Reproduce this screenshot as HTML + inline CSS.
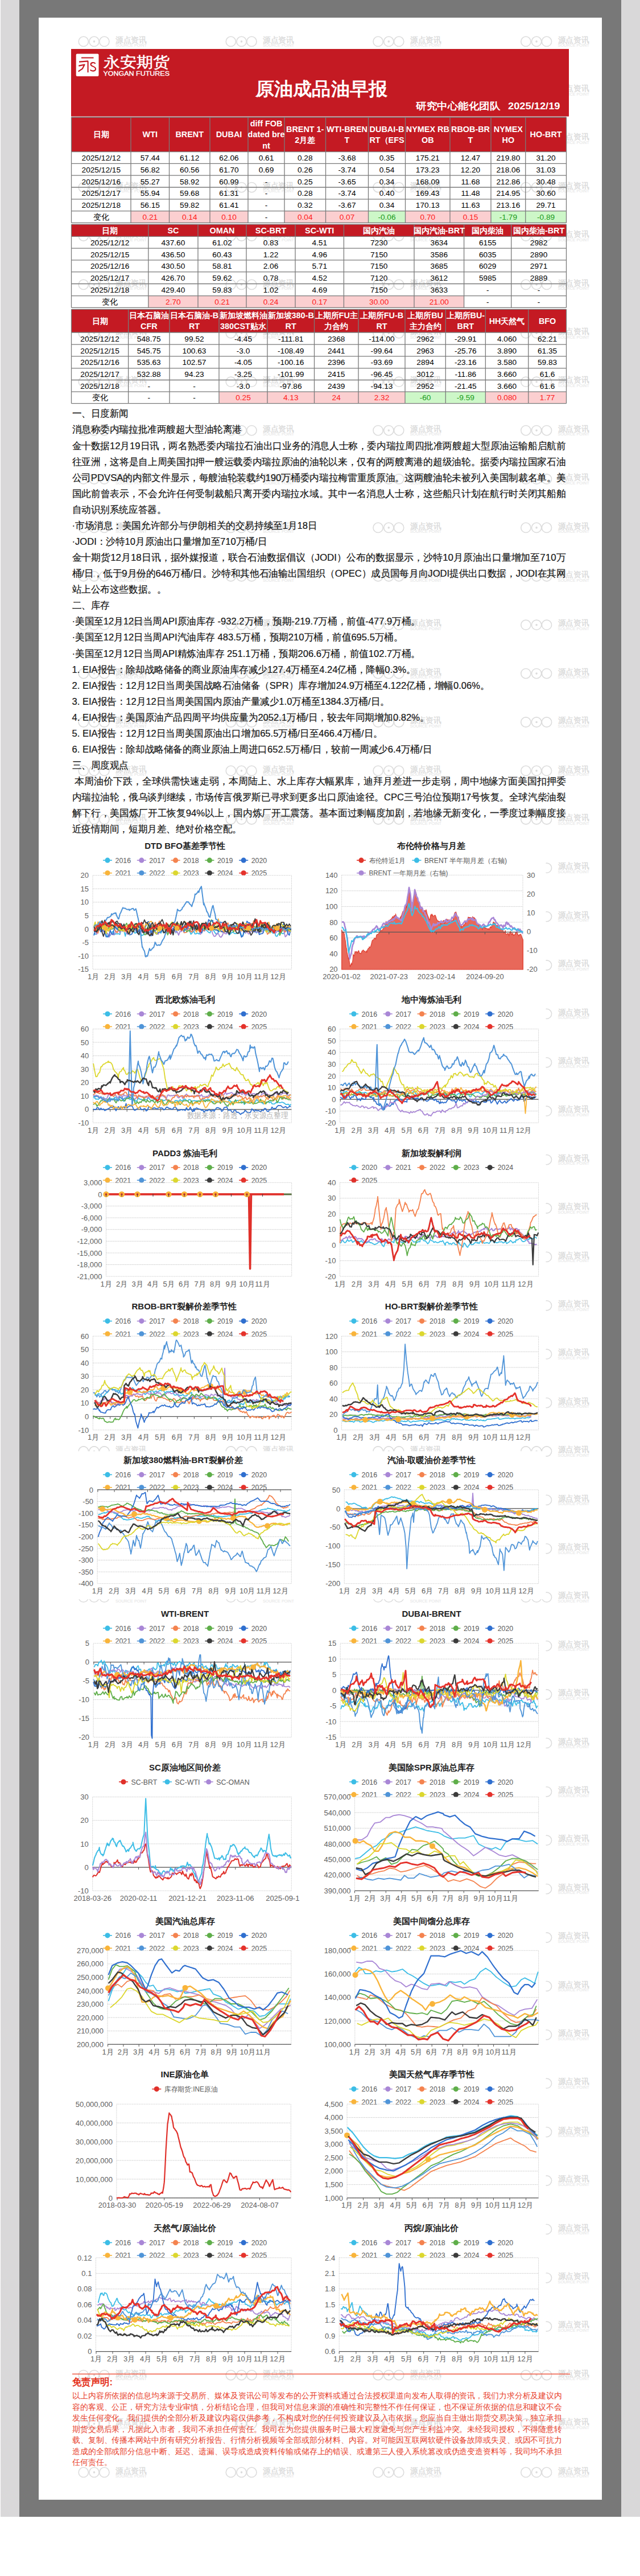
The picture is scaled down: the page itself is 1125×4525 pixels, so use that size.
<!DOCTYPE html>
<html><head><meta charset="utf-8"><title>原油成品油早报</title>
<style>
html,body{margin:0;padding:0;background:#fff;}
body{width:1125px;height:4525px;position:relative;overflow:hidden;font-family:"Liberation Sans", sans-serif;}
.f{position:absolute;}
svg{position:absolute;left:0;top:0;font-family:"Liberation Sans", sans-serif;}
</style></head><body>
<div class="f" style="left:0;top:0;width:1125px;height:4421px;background:#d9d8d9"></div>
<div class="f" style="left:0;top:0;width:1px;height:4421px;background:#fff"></div>
<div class="f" style="left:34px;top:0;width:1058px;height:4421px;background:#787878"></div>
<div class="f" style="left:68px;top:31px;width:990px;height:4360px;background:#fff"></div>
<svg width="1125" height="4525" viewBox="0 0 1125 4525">
<defs><g id="wm" fill="none" stroke="#dcdcdc" stroke-width="1.6"><circle cx="0" cy="0" r="8.6"/><circle cx="18.7" cy="0" r="8.6"/><circle cx="36.6" cy="0" r="8.6"/><circle cx="18.7" cy="0" r="1" fill="#d9d9d9"/><text x="56.2" y="1.6" font-size="13.5" fill="#d9d9d9" stroke="#d9d9d9" stroke-width="0.35" textLength="55" lengthAdjust="spacingAndGlyphs">源点资讯</text><text x="56.2" y="9.4" font-size="7.4" fill="#e2e2e2" stroke="none" textLength="55" lengthAdjust="spacingAndGlyphs">SOURCE POINT</text></g></defs>
<use href="#wm" x="146.8" y="72.9"/>
<use href="#wm" x="405.8" y="72.9"/>
<use href="#wm" x="664.6" y="72.9"/>
<use href="#wm" x="924.4" y="72.9"/>
<use href="#wm" x="146.8" y="158.3"/>
<use href="#wm" x="405.8" y="158.3"/>
<use href="#wm" x="664.6" y="158.3"/>
<use href="#wm" x="924.4" y="158.3"/>
<use href="#wm" x="146.8" y="243.7"/>
<use href="#wm" x="405.8" y="243.7"/>
<use href="#wm" x="664.6" y="243.7"/>
<use href="#wm" x="924.4" y="243.7"/>
<use href="#wm" x="146.8" y="329.1"/>
<use href="#wm" x="405.8" y="329.1"/>
<use href="#wm" x="664.6" y="329.1"/>
<use href="#wm" x="924.4" y="329.1"/>
<use href="#wm" x="146.8" y="414.5"/>
<use href="#wm" x="405.8" y="414.5"/>
<use href="#wm" x="664.6" y="414.5"/>
<use href="#wm" x="924.4" y="414.5"/>
<use href="#wm" x="146.8" y="499.9"/>
<use href="#wm" x="405.8" y="499.9"/>
<use href="#wm" x="664.6" y="499.9"/>
<use href="#wm" x="924.4" y="499.9"/>
<use href="#wm" x="146.8" y="585.3"/>
<use href="#wm" x="405.8" y="585.3"/>
<use href="#wm" x="664.6" y="585.3"/>
<use href="#wm" x="924.4" y="585.3"/>
<use href="#wm" x="146.8" y="670.7"/>
<use href="#wm" x="405.8" y="670.7"/>
<use href="#wm" x="664.6" y="670.7"/>
<use href="#wm" x="924.4" y="670.7"/>
<use href="#wm" x="146.8" y="756.1"/>
<use href="#wm" x="405.8" y="756.1"/>
<use href="#wm" x="664.6" y="756.1"/>
<use href="#wm" x="924.4" y="756.1"/>
<use href="#wm" x="146.8" y="841.5"/>
<use href="#wm" x="405.8" y="841.5"/>
<use href="#wm" x="664.6" y="841.5"/>
<use href="#wm" x="924.4" y="841.5"/>
<use href="#wm" x="146.8" y="926.9"/>
<use href="#wm" x="405.8" y="926.9"/>
<use href="#wm" x="664.6" y="926.9"/>
<use href="#wm" x="924.4" y="926.9"/>
<use href="#wm" x="146.8" y="1012.3"/>
<use href="#wm" x="405.8" y="1012.3"/>
<use href="#wm" x="664.6" y="1012.3"/>
<use href="#wm" x="924.4" y="1012.3"/>
<use href="#wm" x="146.8" y="1097.7"/>
<use href="#wm" x="405.8" y="1097.7"/>
<use href="#wm" x="664.6" y="1097.7"/>
<use href="#wm" x="924.4" y="1097.7"/>
<use href="#wm" x="146.8" y="1183.1"/>
<use href="#wm" x="405.8" y="1183.1"/>
<use href="#wm" x="664.6" y="1183.1"/>
<use href="#wm" x="924.4" y="1183.1"/>
<use href="#wm" x="146.8" y="1268.5"/>
<use href="#wm" x="405.8" y="1268.5"/>
<use href="#wm" x="664.6" y="1268.5"/>
<use href="#wm" x="924.4" y="1268.5"/>
<use href="#wm" x="146.8" y="1353.9"/>
<use href="#wm" x="405.8" y="1353.9"/>
<use href="#wm" x="664.6" y="1353.9"/>
<use href="#wm" x="924.4" y="1353.9"/>
<use href="#wm" x="146.8" y="1439.3"/>
<use href="#wm" x="405.8" y="1439.3"/>
<use href="#wm" x="664.6" y="1439.3"/>
<use href="#wm" x="924.4" y="1439.3"/>
<use href="#wm" x="146.8" y="1524.7"/>
<use href="#wm" x="405.8" y="1524.7"/>
<use href="#wm" x="664.6" y="1524.7"/>
<use href="#wm" x="924.4" y="1524.7"/>
<use href="#wm" x="146.8" y="1610.1"/>
<use href="#wm" x="405.8" y="1610.1"/>
<use href="#wm" x="664.6" y="1610.1"/>
<use href="#wm" x="924.4" y="1610.1"/>
<use href="#wm" x="146.8" y="1695.5"/>
<use href="#wm" x="405.8" y="1695.5"/>
<use href="#wm" x="664.6" y="1695.5"/>
<use href="#wm" x="924.4" y="1695.5"/>
<use href="#wm" x="146.8" y="1780.9"/>
<use href="#wm" x="405.8" y="1780.9"/>
<use href="#wm" x="664.6" y="1780.9"/>
<use href="#wm" x="924.4" y="1780.9"/>
<use href="#wm" x="146.8" y="1866.3"/>
<use href="#wm" x="405.8" y="1866.3"/>
<use href="#wm" x="664.6" y="1866.3"/>
<use href="#wm" x="924.4" y="1866.3"/>
<use href="#wm" x="146.8" y="1951.7"/>
<use href="#wm" x="405.8" y="1951.7"/>
<use href="#wm" x="664.6" y="1951.7"/>
<use href="#wm" x="924.4" y="1951.7"/>
<use href="#wm" x="146.8" y="2037.1"/>
<use href="#wm" x="405.8" y="2037.1"/>
<use href="#wm" x="664.6" y="2037.1"/>
<use href="#wm" x="924.4" y="2037.1"/>
<use href="#wm" x="146.8" y="2122.5"/>
<use href="#wm" x="405.8" y="2122.5"/>
<use href="#wm" x="664.6" y="2122.5"/>
<use href="#wm" x="924.4" y="2122.5"/>
<use href="#wm" x="146.8" y="2207.9"/>
<use href="#wm" x="405.8" y="2207.9"/>
<use href="#wm" x="664.6" y="2207.9"/>
<use href="#wm" x="924.4" y="2207.9"/>
<use href="#wm" x="146.8" y="2293.3"/>
<use href="#wm" x="405.8" y="2293.3"/>
<use href="#wm" x="664.6" y="2293.3"/>
<use href="#wm" x="924.4" y="2293.3"/>
<use href="#wm" x="146.8" y="2378.7"/>
<use href="#wm" x="405.8" y="2378.7"/>
<use href="#wm" x="664.6" y="2378.7"/>
<use href="#wm" x="924.4" y="2378.7"/>
<use href="#wm" x="146.8" y="2464.1"/>
<use href="#wm" x="405.8" y="2464.1"/>
<use href="#wm" x="664.6" y="2464.1"/>
<use href="#wm" x="924.4" y="2464.1"/>
<use href="#wm" x="146.8" y="2549.5"/>
<use href="#wm" x="405.8" y="2549.5"/>
<use href="#wm" x="664.6" y="2549.5"/>
<use href="#wm" x="924.4" y="2549.5"/>
<use href="#wm" x="146.8" y="2634.9"/>
<use href="#wm" x="405.8" y="2634.9"/>
<use href="#wm" x="664.6" y="2634.9"/>
<use href="#wm" x="924.4" y="2634.9"/>
<use href="#wm" x="146.8" y="2720.3"/>
<use href="#wm" x="405.8" y="2720.3"/>
<use href="#wm" x="664.6" y="2720.3"/>
<use href="#wm" x="924.4" y="2720.3"/>
<use href="#wm" x="146.8" y="2805.7"/>
<use href="#wm" x="405.8" y="2805.7"/>
<use href="#wm" x="664.6" y="2805.7"/>
<use href="#wm" x="924.4" y="2805.7"/>
<use href="#wm" x="146.8" y="2891.1"/>
<use href="#wm" x="405.8" y="2891.1"/>
<use href="#wm" x="664.6" y="2891.1"/>
<use href="#wm" x="924.4" y="2891.1"/>
<use href="#wm" x="146.8" y="2976.5"/>
<use href="#wm" x="405.8" y="2976.5"/>
<use href="#wm" x="664.6" y="2976.5"/>
<use href="#wm" x="924.4" y="2976.5"/>
<use href="#wm" x="146.8" y="3061.9"/>
<use href="#wm" x="405.8" y="3061.9"/>
<use href="#wm" x="664.6" y="3061.9"/>
<use href="#wm" x="924.4" y="3061.9"/>
<use href="#wm" x="146.8" y="3147.3"/>
<use href="#wm" x="405.8" y="3147.3"/>
<use href="#wm" x="664.6" y="3147.3"/>
<use href="#wm" x="924.4" y="3147.3"/>
<use href="#wm" x="146.8" y="3232.7"/>
<use href="#wm" x="405.8" y="3232.7"/>
<use href="#wm" x="664.6" y="3232.7"/>
<use href="#wm" x="924.4" y="3232.7"/>
<use href="#wm" x="146.8" y="3318.1"/>
<use href="#wm" x="405.8" y="3318.1"/>
<use href="#wm" x="664.6" y="3318.1"/>
<use href="#wm" x="924.4" y="3318.1"/>
<use href="#wm" x="146.8" y="3403.5"/>
<use href="#wm" x="405.8" y="3403.5"/>
<use href="#wm" x="664.6" y="3403.5"/>
<use href="#wm" x="924.4" y="3403.5"/>
<use href="#wm" x="146.8" y="3488.9"/>
<use href="#wm" x="405.8" y="3488.9"/>
<use href="#wm" x="664.6" y="3488.9"/>
<use href="#wm" x="924.4" y="3488.9"/>
<use href="#wm" x="146.8" y="3574.3"/>
<use href="#wm" x="405.8" y="3574.3"/>
<use href="#wm" x="664.6" y="3574.3"/>
<use href="#wm" x="924.4" y="3574.3"/>
<use href="#wm" x="146.8" y="3659.7"/>
<use href="#wm" x="405.8" y="3659.7"/>
<use href="#wm" x="664.6" y="3659.7"/>
<use href="#wm" x="924.4" y="3659.7"/>
<use href="#wm" x="146.8" y="3745.1"/>
<use href="#wm" x="405.8" y="3745.1"/>
<use href="#wm" x="664.6" y="3745.1"/>
<use href="#wm" x="924.4" y="3745.1"/>
<use href="#wm" x="146.8" y="3830.5"/>
<use href="#wm" x="405.8" y="3830.5"/>
<use href="#wm" x="664.6" y="3830.5"/>
<use href="#wm" x="924.4" y="3830.5"/>
<use href="#wm" x="146.8" y="3915.9"/>
<use href="#wm" x="405.8" y="3915.9"/>
<use href="#wm" x="664.6" y="3915.9"/>
<use href="#wm" x="924.4" y="3915.9"/>
<use href="#wm" x="146.8" y="4001.3"/>
<use href="#wm" x="405.8" y="4001.3"/>
<use href="#wm" x="664.6" y="4001.3"/>
<use href="#wm" x="924.4" y="4001.3"/>
<use href="#wm" x="146.8" y="4086.7"/>
<use href="#wm" x="405.8" y="4086.7"/>
<use href="#wm" x="664.6" y="4086.7"/>
<use href="#wm" x="924.4" y="4086.7"/>
<use href="#wm" x="146.8" y="4172.1"/>
<use href="#wm" x="405.8" y="4172.1"/>
<use href="#wm" x="664.6" y="4172.1"/>
<use href="#wm" x="924.4" y="4172.1"/>
<use href="#wm" x="146.8" y="4257.5"/>
<use href="#wm" x="405.8" y="4257.5"/>
<use href="#wm" x="664.6" y="4257.5"/>
<use href="#wm" x="924.4" y="4257.5"/>
<use href="#wm" x="146.8" y="4342.9"/>
<use href="#wm" x="405.8" y="4342.9"/>
<use href="#wm" x="664.6" y="4342.9"/>
<use href="#wm" x="924.4" y="4342.9"/>
<rect x="125" y="86" width="875" height="118.5" fill="#c41a23"/>
<rect x="133.7" y="94.5" width="39.8" height="39.4" rx="2" fill="#fff"/>
<path d="M143 101.5H164.5M139 108.6L155.2 107.4M154.6 107.4V127.2M138.3 115.6L148.6 113.6L145 120.6L137.6 125.6M167.6 111.8C165.5 109 159.2 109.6 159.6 113.6C160 117.2 168.4 116.2 168.1 121.2C167.8 125.4 161 125.6 158.6 122.6" stroke="#c41a23" stroke-width="2.1" fill="none" stroke-linejoin="round"/>
<text stroke="#fff" stroke-width="0.5" x="181.5" y="117.5" font-size="26" fill="#fff" textLength="116.5" lengthAdjust="spacingAndGlyphs">永安期货</text>
<text stroke="#fff" stroke-width="0.35" x="181.5" y="133.2" font-size="11.2" fill="#fff" textLength="116.5" lengthAdjust="spacingAndGlyphs">YONGAN FUTURES</text>
<text x="449.0" y="166.6" font-size="32" fill="#fff" font-weight="bold" textLength="232.0" lengthAdjust="spacingAndGlyphs">原油成品油早报</text>
<text x="731.0" y="192.0" font-size="17" fill="#fff" font-weight="bold" textLength="148.0" lengthAdjust="spacingAndGlyphs">研究中心能化团队</text>
<text x="893.0" y="192.0" font-size="17" fill="#fff" font-weight="bold" textLength="91.5" lengthAdjust="spacingAndGlyphs">2025/12/19</text>
<rect x="125.5" y="206" width="870.0" height="60.6" fill="#c41a23"/>
<rect x="230" y="370.6000000000001" width="67.5" height="20.80000000000001" fill="#fbcfd0"/>
<rect x="297.5" y="370.6000000000001" width="71.5" height="20.80000000000001" fill="#fbcfd0"/>
<rect x="369" y="370.6000000000001" width="67" height="20.80000000000001" fill="#fbcfd0"/>
<rect x="500" y="370.6000000000001" width="72.5" height="20.80000000000001" fill="#fbcfd0"/>
<rect x="572.5" y="370.6000000000001" width="75.0" height="20.80000000000001" fill="#fbcfd0"/>
<rect x="647.5" y="370.6000000000001" width="65.0" height="20.80000000000001" fill="#cdf7c8"/>
<rect x="712.5" y="370.6000000000001" width="78.5" height="20.80000000000001" fill="#fbcfd0"/>
<rect x="791" y="370.6000000000001" width="72" height="20.80000000000001" fill="#fbcfd0"/>
<rect x="863" y="370.6000000000001" width="60.75" height="20.80000000000001" fill="#cdf7c8"/>
<rect x="923.75" y="370.6000000000001" width="71.75" height="20.80000000000001" fill="#cdf7c8"/>
<path d="M125.5 206.0H995.5 M125.5 266.6H995.5 M125.5 287.4H995.5 M125.5 308.2H995.5 M125.5 329.0H995.5 M125.5 349.8H995.5 M125.5 370.6H995.5 M125.5 391.4H995.5 M125.5 206V391.4 M230 206V391.4 M297.5 206V391.4 M369 206V391.4 M436 206V391.4 M500 206V391.4 M572.5 206V391.4 M647.5 206V391.4 M712.5 206V391.4 M791 206V391.4 M863 206V391.4 M923.75 206V391.4 M995.5 206V391.4" stroke="#7a7a7a" stroke-width="1.3" fill="none"/>
<text x="177.8" y="241.3" font-size="14.4" fill="#fff" font-weight="bold" text-anchor="middle">日期</text>
<text x="263.8" y="241.3" font-size="14.4" fill="#fff" font-weight="bold" text-anchor="middle">WTI</text>
<text x="333.2" y="241.3" font-size="14.4" fill="#fff" font-weight="bold" text-anchor="middle">BRENT</text>
<text x="402.5" y="241.3" font-size="14.4" fill="#fff" font-weight="bold" text-anchor="middle">DUBAI</text>
<text x="468.0" y="221.7" font-size="14.4" fill="#fff" font-weight="bold" text-anchor="middle">diff FOB</text>
<text x="468.0" y="241.3" font-size="14.4" fill="#fff" font-weight="bold" text-anchor="middle">dated bre</text>
<text x="468.0" y="260.9" font-size="14.4" fill="#fff" font-weight="bold" text-anchor="middle">nt</text>
<text x="536.2" y="231.5" font-size="14.4" fill="#fff" font-weight="bold" text-anchor="middle">BRENT 1-</text>
<text x="536.2" y="251.1" font-size="14.4" fill="#fff" font-weight="bold" text-anchor="middle">2月差</text>
<text x="610.0" y="231.5" font-size="14.4" fill="#fff" font-weight="bold" text-anchor="middle">WTI-BREN</text>
<text x="610.0" y="251.1" font-size="14.4" fill="#fff" font-weight="bold" text-anchor="middle">T</text>
<text x="680.0" y="231.5" font-size="14.4" fill="#fff" font-weight="bold" text-anchor="middle">DUBAI-B</text>
<text x="680.0" y="251.1" font-size="14.4" fill="#fff" font-weight="bold" text-anchor="middle">RT（EFS</text>
<text x="751.8" y="231.5" font-size="14.4" fill="#fff" font-weight="bold" text-anchor="middle">NYMEX RB</text>
<text x="751.8" y="251.1" font-size="14.4" fill="#fff" font-weight="bold" text-anchor="middle">OB</text>
<text x="827.0" y="231.5" font-size="14.4" fill="#fff" font-weight="bold" text-anchor="middle">RBOB-BR</text>
<text x="827.0" y="251.1" font-size="14.4" fill="#fff" font-weight="bold" text-anchor="middle">T</text>
<text x="893.4" y="231.5" font-size="14.4" fill="#fff" font-weight="bold" text-anchor="middle">NYMEX</text>
<text x="893.4" y="251.1" font-size="14.4" fill="#fff" font-weight="bold" text-anchor="middle">HO</text>
<text x="959.6" y="241.3" font-size="14.4" fill="#fff" font-weight="bold" text-anchor="middle">HO-BRT</text>
<text x="177.8" y="282.0" font-size="13.7" fill="#000" text-anchor="middle">2025/12/12</text>
<text x="263.8" y="282.0" font-size="13.7" fill="#000" text-anchor="middle">57.44</text>
<text x="333.2" y="282.0" font-size="13.7" fill="#000" text-anchor="middle">61.12</text>
<text x="402.5" y="282.0" font-size="13.7" fill="#000" text-anchor="middle">62.06</text>
<text x="468.0" y="282.0" font-size="13.7" fill="#000" text-anchor="middle">0.61</text>
<text x="536.2" y="282.0" font-size="13.7" fill="#000" text-anchor="middle">0.28</text>
<text x="610.0" y="282.0" font-size="13.7" fill="#000" text-anchor="middle">-3.68</text>
<text x="680.0" y="282.0" font-size="13.7" fill="#000" text-anchor="middle">0.35</text>
<text x="751.8" y="282.0" font-size="13.7" fill="#000" text-anchor="middle">175.21</text>
<text x="827.0" y="282.0" font-size="13.7" fill="#000" text-anchor="middle">12.47</text>
<text x="893.4" y="282.0" font-size="13.7" fill="#000" text-anchor="middle">219.80</text>
<text x="959.6" y="282.0" font-size="13.7" fill="#000" text-anchor="middle">31.20</text>
<text x="177.8" y="302.8" font-size="13.7" fill="#000" text-anchor="middle">2025/12/15</text>
<text x="263.8" y="302.8" font-size="13.7" fill="#000" text-anchor="middle">56.82</text>
<text x="333.2" y="302.8" font-size="13.7" fill="#000" text-anchor="middle">60.56</text>
<text x="402.5" y="302.8" font-size="13.7" fill="#000" text-anchor="middle">61.70</text>
<text x="468.0" y="302.8" font-size="13.7" fill="#000" text-anchor="middle">0.69</text>
<text x="536.2" y="302.8" font-size="13.7" fill="#000" text-anchor="middle">0.26</text>
<text x="610.0" y="302.8" font-size="13.7" fill="#000" text-anchor="middle">-3.74</text>
<text x="680.0" y="302.8" font-size="13.7" fill="#000" text-anchor="middle">0.54</text>
<text x="751.8" y="302.8" font-size="13.7" fill="#000" text-anchor="middle">173.23</text>
<text x="827.0" y="302.8" font-size="13.7" fill="#000" text-anchor="middle">12.20</text>
<text x="893.4" y="302.8" font-size="13.7" fill="#000" text-anchor="middle">218.06</text>
<text x="959.6" y="302.8" font-size="13.7" fill="#000" text-anchor="middle">31.03</text>
<text x="177.8" y="323.6" font-size="13.7" fill="#000" text-anchor="middle">2025/12/16</text>
<text x="263.8" y="323.6" font-size="13.7" fill="#000" text-anchor="middle">55.27</text>
<text x="333.2" y="323.6" font-size="13.7" fill="#000" text-anchor="middle">58.92</text>
<text x="402.5" y="323.6" font-size="13.7" fill="#000" text-anchor="middle">60.99</text>
<text x="468.0" y="323.6" font-size="13.7" fill="#000" text-anchor="middle">-</text>
<text x="536.2" y="323.6" font-size="13.7" fill="#000" text-anchor="middle">0.25</text>
<text x="610.0" y="323.6" font-size="13.7" fill="#000" text-anchor="middle">-3.65</text>
<text x="680.0" y="323.6" font-size="13.7" fill="#000" text-anchor="middle">0.34</text>
<text x="751.8" y="323.6" font-size="13.7" fill="#000" text-anchor="middle">168.09</text>
<text x="827.0" y="323.6" font-size="13.7" fill="#000" text-anchor="middle">11.68</text>
<text x="893.4" y="323.6" font-size="13.7" fill="#000" text-anchor="middle">212.86</text>
<text x="959.6" y="323.6" font-size="13.7" fill="#000" text-anchor="middle">30.48</text>
<text x="177.8" y="344.4" font-size="13.7" fill="#000" text-anchor="middle">2025/12/17</text>
<text x="263.8" y="344.4" font-size="13.7" fill="#000" text-anchor="middle">55.94</text>
<text x="333.2" y="344.4" font-size="13.7" fill="#000" text-anchor="middle">59.68</text>
<text x="402.5" y="344.4" font-size="13.7" fill="#000" text-anchor="middle">61.31</text>
<text x="468.0" y="344.4" font-size="13.7" fill="#000" text-anchor="middle">-</text>
<text x="536.2" y="344.4" font-size="13.7" fill="#000" text-anchor="middle">0.28</text>
<text x="610.0" y="344.4" font-size="13.7" fill="#000" text-anchor="middle">-3.74</text>
<text x="680.0" y="344.4" font-size="13.7" fill="#000" text-anchor="middle">0.40</text>
<text x="751.8" y="344.4" font-size="13.7" fill="#000" text-anchor="middle">169.43</text>
<text x="827.0" y="344.4" font-size="13.7" fill="#000" text-anchor="middle">11.48</text>
<text x="893.4" y="344.4" font-size="13.7" fill="#000" text-anchor="middle">214.95</text>
<text x="959.6" y="344.4" font-size="13.7" fill="#000" text-anchor="middle">30.60</text>
<text x="177.8" y="365.2" font-size="13.7" fill="#000" text-anchor="middle">2025/12/18</text>
<text x="263.8" y="365.2" font-size="13.7" fill="#000" text-anchor="middle">56.15</text>
<text x="333.2" y="365.2" font-size="13.7" fill="#000" text-anchor="middle">59.82</text>
<text x="402.5" y="365.2" font-size="13.7" fill="#000" text-anchor="middle">61.41</text>
<text x="468.0" y="365.2" font-size="13.7" fill="#000" text-anchor="middle">-</text>
<text x="536.2" y="365.2" font-size="13.7" fill="#000" text-anchor="middle">0.32</text>
<text x="610.0" y="365.2" font-size="13.7" fill="#000" text-anchor="middle">-3.67</text>
<text x="680.0" y="365.2" font-size="13.7" fill="#000" text-anchor="middle">0.34</text>
<text x="751.8" y="365.2" font-size="13.7" fill="#000" text-anchor="middle">170.13</text>
<text x="827.0" y="365.2" font-size="13.7" fill="#000" text-anchor="middle">11.63</text>
<text x="893.4" y="365.2" font-size="13.7" fill="#000" text-anchor="middle">213.16</text>
<text x="959.6" y="365.2" font-size="13.7" fill="#000" text-anchor="middle">29.71</text>
<text x="177.8" y="386.0" font-size="13.7" fill="#000" text-anchor="middle">变化</text>
<text x="263.8" y="386.0" font-size="13.7" fill="#ff1a1a" text-anchor="middle">0.21</text>
<text x="333.2" y="386.0" font-size="13.7" fill="#ff1a1a" text-anchor="middle">0.14</text>
<text x="402.5" y="386.0" font-size="13.7" fill="#ff1a1a" text-anchor="middle">0.10</text>
<text x="468.0" y="386.0" font-size="13.7" fill="#000" text-anchor="middle">-</text>
<text x="536.2" y="386.0" font-size="13.7" fill="#ff1a1a" text-anchor="middle">0.04</text>
<text x="610.0" y="386.0" font-size="13.7" fill="#ff1a1a" text-anchor="middle">0.07</text>
<text x="680.0" y="386.0" font-size="13.7" fill="#1a9a1a" text-anchor="middle">-0.06</text>
<text x="751.8" y="386.0" font-size="13.7" fill="#ff1a1a" text-anchor="middle">0.70</text>
<text x="827.0" y="386.0" font-size="13.7" fill="#ff1a1a" text-anchor="middle">0.15</text>
<text x="893.4" y="386.0" font-size="13.7" fill="#1a9a1a" text-anchor="middle">-1.79</text>
<text x="959.6" y="386.0" font-size="13.7" fill="#1a9a1a" text-anchor="middle">-0.89</text>
<rect x="125.5" y="394.2" width="870.0" height="21.1" fill="#c41a23"/>
<rect x="260.8" y="519.6999999999999" width="87.19999999999999" height="20.600000000000023" fill="#fbcfd0"/>
<rect x="348" y="519.6999999999999" width="85" height="20.600000000000023" fill="#fbcfd0"/>
<rect x="433" y="519.6999999999999" width="86" height="20.600000000000023" fill="#fbcfd0"/>
<rect x="519" y="519.6999999999999" width="85.39999999999998" height="20.600000000000023" fill="#fbcfd0"/>
<rect x="604.4" y="519.6999999999999" width="123.60000000000002" height="20.600000000000023" fill="#fbcfd0"/>
<rect x="728" y="519.6999999999999" width="87.60000000000002" height="20.600000000000023" fill="#fbcfd0"/>
<path d="M125.5 394.2H995.5 M125.5 415.3H995.5 M125.5 436.2H995.5 M125.5 456.9H995.5 M125.5 477.6H995.5 M125.5 498.5H995.5 M125.5 519.7H995.5 M125.5 540.3H995.5 M125.5 394.2V540.3 M260.8 394.2V540.3 M348 394.2V540.3 M433 394.2V540.3 M519 394.2V540.3 M604.4 394.2V540.3 M728 394.2V540.3 M815.6 394.2V540.3 M898.75 394.2V540.3 M995.5 394.2V540.3" stroke="#7a7a7a" stroke-width="1.3" fill="none"/>
<text x="193.2" y="409.8" font-size="14.4" fill="#fff" font-weight="bold" text-anchor="middle">日期</text>
<text x="304.4" y="409.8" font-size="14.4" fill="#fff" font-weight="bold" text-anchor="middle">SC</text>
<text x="390.5" y="409.8" font-size="14.4" fill="#fff" font-weight="bold" text-anchor="middle">OMAN</text>
<text x="476.0" y="409.8" font-size="14.4" fill="#fff" font-weight="bold" text-anchor="middle">SC-BRT</text>
<text x="561.7" y="409.8" font-size="14.4" fill="#fff" font-weight="bold" text-anchor="middle">SC-WTI</text>
<text x="666.2" y="409.8" font-size="14.4" fill="#fff" font-weight="bold" text-anchor="middle">国内汽油</text>
<text x="771.8" y="409.8" font-size="14.4" fill="#fff" font-weight="bold" text-anchor="middle">国内汽油-BRT</text>
<text x="857.2" y="409.8" font-size="14.4" fill="#fff" font-weight="bold" text-anchor="middle">国内柴油</text>
<text x="947.1" y="409.8" font-size="14.4" fill="#fff" font-weight="bold" text-anchor="middle">国内柴油-BRT</text>
<text x="193.2" y="430.8" font-size="13.7" fill="#000" text-anchor="middle">2025/12/12</text>
<text x="304.4" y="430.8" font-size="13.7" fill="#000" text-anchor="middle">437.60</text>
<text x="390.5" y="430.8" font-size="13.7" fill="#000" text-anchor="middle">61.02</text>
<text x="476.0" y="430.8" font-size="13.7" fill="#000" text-anchor="middle">0.83</text>
<text x="561.7" y="430.8" font-size="13.7" fill="#000" text-anchor="middle">4.51</text>
<text x="666.2" y="430.8" font-size="13.7" fill="#000" text-anchor="middle">7230</text>
<text x="771.8" y="430.8" font-size="13.7" fill="#000" text-anchor="middle">3634</text>
<text x="857.2" y="430.8" font-size="13.7" fill="#000" text-anchor="middle">6155</text>
<text x="947.1" y="430.8" font-size="13.7" fill="#000" text-anchor="middle">2982</text>
<text x="193.2" y="451.5" font-size="13.7" fill="#000" text-anchor="middle">2025/12/15</text>
<text x="304.4" y="451.5" font-size="13.7" fill="#000" text-anchor="middle">436.50</text>
<text x="390.5" y="451.5" font-size="13.7" fill="#000" text-anchor="middle">60.43</text>
<text x="476.0" y="451.5" font-size="13.7" fill="#000" text-anchor="middle">1.22</text>
<text x="561.7" y="451.5" font-size="13.7" fill="#000" text-anchor="middle">4.96</text>
<text x="666.2" y="451.5" font-size="13.7" fill="#000" text-anchor="middle">7150</text>
<text x="771.8" y="451.5" font-size="13.7" fill="#000" text-anchor="middle">3586</text>
<text x="857.2" y="451.5" font-size="13.7" fill="#000" text-anchor="middle">6035</text>
<text x="947.1" y="451.5" font-size="13.7" fill="#000" text-anchor="middle">2890</text>
<text x="193.2" y="472.2" font-size="13.7" fill="#000" text-anchor="middle">2025/12/16</text>
<text x="304.4" y="472.2" font-size="13.7" fill="#000" text-anchor="middle">430.50</text>
<text x="390.5" y="472.2" font-size="13.7" fill="#000" text-anchor="middle">58.81</text>
<text x="476.0" y="472.2" font-size="13.7" fill="#000" text-anchor="middle">2.06</text>
<text x="561.7" y="472.2" font-size="13.7" fill="#000" text-anchor="middle">5.71</text>
<text x="666.2" y="472.2" font-size="13.7" fill="#000" text-anchor="middle">7150</text>
<text x="771.8" y="472.2" font-size="13.7" fill="#000" text-anchor="middle">3685</text>
<text x="857.2" y="472.2" font-size="13.7" fill="#000" text-anchor="middle">6029</text>
<text x="947.1" y="472.2" font-size="13.7" fill="#000" text-anchor="middle">2971</text>
<text x="193.2" y="493.0" font-size="13.7" fill="#000" text-anchor="middle">2025/12/17</text>
<text x="304.4" y="493.0" font-size="13.7" fill="#000" text-anchor="middle">426.70</text>
<text x="390.5" y="493.0" font-size="13.7" fill="#000" text-anchor="middle">59.62</text>
<text x="476.0" y="493.0" font-size="13.7" fill="#000" text-anchor="middle">0.78</text>
<text x="561.7" y="493.0" font-size="13.7" fill="#000" text-anchor="middle">4.52</text>
<text x="666.2" y="493.0" font-size="13.7" fill="#000" text-anchor="middle">7120</text>
<text x="771.8" y="493.0" font-size="13.7" fill="#000" text-anchor="middle">3612</text>
<text x="857.2" y="493.0" font-size="13.7" fill="#000" text-anchor="middle">5985</text>
<text x="947.1" y="493.0" font-size="13.7" fill="#000" text-anchor="middle">2889</text>
<text x="193.2" y="514.1" font-size="13.7" fill="#000" text-anchor="middle">2025/12/18</text>
<text x="304.4" y="514.1" font-size="13.7" fill="#000" text-anchor="middle">429.40</text>
<text x="390.5" y="514.1" font-size="13.7" fill="#000" text-anchor="middle">59.83</text>
<text x="476.0" y="514.1" font-size="13.7" fill="#000" text-anchor="middle">1.02</text>
<text x="561.7" y="514.1" font-size="13.7" fill="#000" text-anchor="middle">4.69</text>
<text x="666.2" y="514.1" font-size="13.7" fill="#000" text-anchor="middle">7150</text>
<text x="771.8" y="514.1" font-size="13.7" fill="#000" text-anchor="middle">3633</text>
<text x="857.2" y="514.1" font-size="13.7" fill="#000" text-anchor="middle">-</text>
<text x="947.1" y="514.1" font-size="13.7" fill="#000" text-anchor="middle">-</text>
<text x="193.2" y="535.0" font-size="13.7" fill="#000" text-anchor="middle">变化</text>
<text x="304.4" y="535.0" font-size="13.7" fill="#ff1a1a" text-anchor="middle">2.70</text>
<text x="390.5" y="535.0" font-size="13.7" fill="#ff1a1a" text-anchor="middle">0.21</text>
<text x="476.0" y="535.0" font-size="13.7" fill="#ff1a1a" text-anchor="middle">0.24</text>
<text x="561.7" y="535.0" font-size="13.7" fill="#ff1a1a" text-anchor="middle">0.17</text>
<text x="666.2" y="535.0" font-size="13.7" fill="#ff1a1a" text-anchor="middle">30.00</text>
<text x="771.8" y="535.0" font-size="13.7" fill="#ff1a1a" text-anchor="middle">21.00</text>
<text x="857.2" y="535.0" font-size="13.7" fill="#000" text-anchor="middle">-</text>
<text x="947.1" y="535.0" font-size="13.7" fill="#000" text-anchor="middle">-</text>
<rect x="125.5" y="543.4" width="870.0" height="40.6" fill="#c41a23"/>
<rect x="385" y="688.1000000000001" width="85" height="20.600000000000023" fill="#fbcfd0"/>
<rect x="470" y="688.1000000000001" width="82.5" height="20.600000000000023" fill="#fbcfd0"/>
<rect x="552.5" y="688.1000000000001" width="77.5" height="20.600000000000023" fill="#fbcfd0"/>
<rect x="630" y="688.1000000000001" width="82" height="20.600000000000023" fill="#fbcfd0"/>
<rect x="712" y="688.1000000000001" width="71.29999999999995" height="20.600000000000023" fill="#cdf7c8"/>
<rect x="783.3" y="688.1000000000001" width="70.10000000000002" height="20.600000000000023" fill="#cdf7c8"/>
<rect x="853.4" y="688.1000000000001" width="75.39999999999998" height="20.600000000000023" fill="#fbcfd0"/>
<rect x="928.8" y="688.1000000000001" width="66.70000000000005" height="20.600000000000023" fill="#fbcfd0"/>
<path d="M125.5 543.4H995.5 M125.5 584.0H995.5 M125.5 605.2H995.5 M125.5 625.9H995.5 M125.5 646.9H995.5 M125.5 667.5H995.5 M125.5 688.1H995.5 M125.5 708.7H995.5 M125.5 543.4V708.7 M225.6 543.4V708.7 M298 543.4V708.7 M385 543.4V708.7 M470 543.4V708.7 M552.5 543.4V708.7 M630 543.4V708.7 M712 543.4V708.7 M783.3 543.4V708.7 M853.4 543.4V708.7 M928.8 543.4V708.7 M995.5 543.4V708.7" stroke="#7a7a7a" stroke-width="1.3" fill="none"/>
<text x="175.6" y="568.7" font-size="14.4" fill="#fff" font-weight="bold" text-anchor="middle">日期</text>
<text x="261.8" y="558.9" font-size="14.4" fill="#fff" font-weight="bold" text-anchor="middle">日本石脑油</text>
<text x="261.8" y="578.4" font-size="14.4" fill="#fff" font-weight="bold" text-anchor="middle">CFR</text>
<text x="341.5" y="558.9" font-size="14.4" fill="#fff" font-weight="bold" text-anchor="middle">日本石脑油-B</text>
<text x="341.5" y="578.4" font-size="14.4" fill="#fff" font-weight="bold" text-anchor="middle">RT</text>
<text x="427.5" y="558.9" font-size="14.4" fill="#fff" font-weight="bold" text-anchor="middle">新加坡燃料油</text>
<text x="427.5" y="578.4" font-size="14.4" fill="#fff" font-weight="bold" text-anchor="middle">380CST贴水</text>
<text x="511.2" y="558.9" font-size="14.4" fill="#fff" font-weight="bold" text-anchor="middle">新加坡380-B</text>
<text x="511.2" y="578.4" font-size="14.4" fill="#fff" font-weight="bold" text-anchor="middle">RT</text>
<text x="591.2" y="558.9" font-size="14.4" fill="#fff" font-weight="bold" text-anchor="middle">上期所FU主</text>
<text x="591.2" y="578.4" font-size="14.4" fill="#fff" font-weight="bold" text-anchor="middle">力合约</text>
<text x="671.0" y="558.9" font-size="14.4" fill="#fff" font-weight="bold" text-anchor="middle">上期所FU-B</text>
<text x="671.0" y="578.4" font-size="14.4" fill="#fff" font-weight="bold" text-anchor="middle">RT</text>
<text x="747.6" y="558.9" font-size="14.4" fill="#fff" font-weight="bold" text-anchor="middle">上期所BU</text>
<text x="747.6" y="578.4" font-size="14.4" fill="#fff" font-weight="bold" text-anchor="middle">主力合约</text>
<text x="818.3" y="558.9" font-size="14.4" fill="#fff" font-weight="bold" text-anchor="middle">上期所BU-</text>
<text x="818.3" y="578.4" font-size="14.4" fill="#fff" font-weight="bold" text-anchor="middle">BRT</text>
<text x="891.1" y="568.7" font-size="14.4" fill="#fff" font-weight="bold" text-anchor="middle">HH天然气</text>
<text x="962.1" y="568.7" font-size="14.4" fill="#fff" font-weight="bold" text-anchor="middle">BFO</text>
<text x="175.6" y="599.6" font-size="13.7" fill="#000" text-anchor="middle">2025/12/12</text>
<text x="261.8" y="599.6" font-size="13.7" fill="#000" text-anchor="middle">548.75</text>
<text x="341.5" y="599.6" font-size="13.7" fill="#000" text-anchor="middle">99.52</text>
<text x="427.5" y="599.6" font-size="13.7" fill="#000" text-anchor="middle">-4.45</text>
<text x="511.2" y="599.6" font-size="13.7" fill="#000" text-anchor="middle">-111.81</text>
<text x="591.2" y="599.6" font-size="13.7" fill="#000" text-anchor="middle">2368</text>
<text x="671.0" y="599.6" font-size="13.7" fill="#000" text-anchor="middle">-114.00</text>
<text x="747.6" y="599.6" font-size="13.7" fill="#000" text-anchor="middle">2962</text>
<text x="818.3" y="599.6" font-size="13.7" fill="#000" text-anchor="middle">-29.91</text>
<text x="891.1" y="599.6" font-size="13.7" fill="#000" text-anchor="middle">4.060</text>
<text x="962.1" y="599.6" font-size="13.7" fill="#000" text-anchor="middle">62.21</text>
<text x="175.6" y="620.6" font-size="13.7" fill="#000" text-anchor="middle">2025/12/15</text>
<text x="261.8" y="620.6" font-size="13.7" fill="#000" text-anchor="middle">545.75</text>
<text x="341.5" y="620.6" font-size="13.7" fill="#000" text-anchor="middle">100.63</text>
<text x="427.5" y="620.6" font-size="13.7" fill="#000" text-anchor="middle">-3.0</text>
<text x="511.2" y="620.6" font-size="13.7" fill="#000" text-anchor="middle">-108.49</text>
<text x="591.2" y="620.6" font-size="13.7" fill="#000" text-anchor="middle">2441</text>
<text x="671.0" y="620.6" font-size="13.7" fill="#000" text-anchor="middle">-99.64</text>
<text x="747.6" y="620.6" font-size="13.7" fill="#000" text-anchor="middle">2963</text>
<text x="818.3" y="620.6" font-size="13.7" fill="#000" text-anchor="middle">-25.76</text>
<text x="891.1" y="620.6" font-size="13.7" fill="#000" text-anchor="middle">3.890</text>
<text x="962.1" y="620.6" font-size="13.7" fill="#000" text-anchor="middle">61.35</text>
<text x="175.6" y="641.4" font-size="13.7" fill="#000" text-anchor="middle">2025/12/16</text>
<text x="261.8" y="641.4" font-size="13.7" fill="#000" text-anchor="middle">535.63</text>
<text x="341.5" y="641.4" font-size="13.7" fill="#000" text-anchor="middle">102.57</text>
<text x="427.5" y="641.4" font-size="13.7" fill="#000" text-anchor="middle">-4.05</text>
<text x="511.2" y="641.4" font-size="13.7" fill="#000" text-anchor="middle">-100.16</text>
<text x="591.2" y="641.4" font-size="13.7" fill="#000" text-anchor="middle">2396</text>
<text x="671.0" y="641.4" font-size="13.7" fill="#000" text-anchor="middle">-93.69</text>
<text x="747.6" y="641.4" font-size="13.7" fill="#000" text-anchor="middle">2894</text>
<text x="818.3" y="641.4" font-size="13.7" fill="#000" text-anchor="middle">-23.16</text>
<text x="891.1" y="641.4" font-size="13.7" fill="#000" text-anchor="middle">3.580</text>
<text x="962.1" y="641.4" font-size="13.7" fill="#000" text-anchor="middle">59.83</text>
<text x="175.6" y="662.2" font-size="13.7" fill="#000" text-anchor="middle">2025/12/17</text>
<text x="261.8" y="662.2" font-size="13.7" fill="#000" text-anchor="middle">532.88</text>
<text x="341.5" y="662.2" font-size="13.7" fill="#000" text-anchor="middle">94.23</text>
<text x="427.5" y="662.2" font-size="13.7" fill="#000" text-anchor="middle">-3.25</text>
<text x="511.2" y="662.2" font-size="13.7" fill="#000" text-anchor="middle">-101.99</text>
<text x="591.2" y="662.2" font-size="13.7" fill="#000" text-anchor="middle">2415</text>
<text x="671.0" y="662.2" font-size="13.7" fill="#000" text-anchor="middle">-96.45</text>
<text x="747.6" y="662.2" font-size="13.7" fill="#000" text-anchor="middle">3012</text>
<text x="818.3" y="662.2" font-size="13.7" fill="#000" text-anchor="middle">-11.86</text>
<text x="891.1" y="662.2" font-size="13.7" fill="#000" text-anchor="middle">3.660</text>
<text x="962.1" y="662.2" font-size="13.7" fill="#000" text-anchor="middle">61.6</text>
<text x="175.6" y="682.8" font-size="13.7" fill="#000" text-anchor="middle">2025/12/18</text>
<text x="261.8" y="682.8" font-size="13.7" fill="#000" text-anchor="middle">-</text>
<text x="341.5" y="682.8" font-size="13.7" fill="#000" text-anchor="middle">-</text>
<text x="427.5" y="682.8" font-size="13.7" fill="#000" text-anchor="middle">-3.0</text>
<text x="511.2" y="682.8" font-size="13.7" fill="#000" text-anchor="middle">-97.86</text>
<text x="591.2" y="682.8" font-size="13.7" fill="#000" text-anchor="middle">2439</text>
<text x="671.0" y="682.8" font-size="13.7" fill="#000" text-anchor="middle">-94.13</text>
<text x="747.6" y="682.8" font-size="13.7" fill="#000" text-anchor="middle">2952</text>
<text x="818.3" y="682.8" font-size="13.7" fill="#000" text-anchor="middle">-21.45</text>
<text x="891.1" y="682.8" font-size="13.7" fill="#000" text-anchor="middle">3.660</text>
<text x="962.1" y="682.8" font-size="13.7" fill="#000" text-anchor="middle">61.6</text>
<text x="175.6" y="703.4" font-size="13.7" fill="#000" text-anchor="middle">变化</text>
<text x="261.8" y="703.4" font-size="13.7" fill="#000" text-anchor="middle">-</text>
<text x="341.5" y="703.4" font-size="13.7" fill="#000" text-anchor="middle">-</text>
<text x="427.5" y="703.4" font-size="13.7" fill="#ff1a1a" text-anchor="middle">0.25</text>
<text x="511.2" y="703.4" font-size="13.7" fill="#ff1a1a" text-anchor="middle">4.13</text>
<text x="591.2" y="703.4" font-size="13.7" fill="#ff1a1a" text-anchor="middle">24</text>
<text x="671.0" y="703.4" font-size="13.7" fill="#ff1a1a" text-anchor="middle">2.32</text>
<text x="747.6" y="703.4" font-size="13.7" fill="#1a9a1a" text-anchor="middle">-60</text>
<text x="818.3" y="703.4" font-size="13.7" fill="#1a9a1a" text-anchor="middle">-9.59</text>
<text x="891.1" y="703.4" font-size="13.7" fill="#ff1a1a" text-anchor="middle">0.080</text>
<text x="962.1" y="703.4" font-size="13.7" fill="#ff1a1a" text-anchor="middle">1.77</text>
<text x="126.5" y="732.3" font-size="17" fill="#151515" textLength="99.5" lengthAdjust="spacingAndGlyphs" stroke="#151515" stroke-width="0.2">一、日度新闻</text>
<text x="126.5" y="760.4" font-size="17" fill="#151515" textLength="298.3" lengthAdjust="spacingAndGlyphs" stroke="#151515" stroke-width="0.2">消息称委内瑞拉批准两艘超大型油轮离港</text>
<text x="126.5" y="788.5" font-size="17" fill="#151515" textLength="868.0" lengthAdjust="spacingAndGlyphs" stroke="#151515" stroke-width="0.2">金十数据12月19日讯，两名熟悉委内瑞拉石油出口业务的消息人士称，委内瑞拉周四批准两艘超大型原油运输船启航前</text>
<text x="126.5" y="816.5" font-size="17" fill="#151515" textLength="868.0" lengthAdjust="spacingAndGlyphs" stroke="#151515" stroke-width="0.2">往亚洲，这将是自上周美国扣押一艘运载委内瑞拉原油的油轮以来，仅有的两艘离港的超级油轮。据委内瑞拉国家石油</text>
<text x="126.5" y="844.6" font-size="17" fill="#151515" textLength="868.0" lengthAdjust="spacingAndGlyphs" stroke="#151515" stroke-width="0.2">公司PDVSA的内部文件显示，每艘油轮装载约190万桶委内瑞拉梅雷重质原油。这两艘油轮未被列入美国制裁名单。美</text>
<text x="126.5" y="872.7" font-size="17" fill="#151515" textLength="868.0" lengthAdjust="spacingAndGlyphs" stroke="#151515" stroke-width="0.2">国此前曾表示，不会允许任何受制裁船只离开委内瑞拉水域。其中一名消息人士称，这些船只计划在航行时关闭其船舶</text>
<text x="126.5" y="900.8" font-size="17" fill="#151515" textLength="165.8" lengthAdjust="spacingAndGlyphs" stroke="#151515" stroke-width="0.2">自动识别系统应答器。</text>
<text x="126.5" y="928.9" font-size="17" fill="#151515" textLength="431.0" lengthAdjust="spacingAndGlyphs" stroke="#151515" stroke-width="0.2">·市场消息：美国允许部分与伊朗相关的交易持续至1月18日</text>
<text x="126.5" y="956.9" font-size="17" fill="#151515" textLength="342.6" lengthAdjust="spacingAndGlyphs" stroke="#151515" stroke-width="0.2">·JODI：沙特10月原油出口量增加至710万桶/日</text>
<text x="126.5" y="985.0" font-size="17" fill="#151515" textLength="868.0" lengthAdjust="spacingAndGlyphs" stroke="#151515" stroke-width="0.2">金十期货12月18日讯，据外媒报道，联合石油数据倡议（JODI）公布的数据显示，沙特10月原油出口量增加至710万</text>
<text x="126.5" y="1013.1" font-size="17" fill="#151515" textLength="868.0" lengthAdjust="spacingAndGlyphs" stroke="#151515" stroke-width="0.2">桶/日，低于9月份的646万桶/日。沙特和其他石油输出国组织（OPEC）成员国每月向JODI提供出口数据，JODI在其网</text>
<text x="126.5" y="1041.2" font-size="17" fill="#151515" textLength="165.8" lengthAdjust="spacingAndGlyphs" stroke="#151515" stroke-width="0.2">站上公布这些数据。。</text>
<text x="126.5" y="1069.3" font-size="17" fill="#151515" textLength="66.3" lengthAdjust="spacingAndGlyphs" stroke="#151515" stroke-width="0.2">二、库存</text>
<text x="126.5" y="1097.3" font-size="17" fill="#151515" textLength="612.5" lengthAdjust="spacingAndGlyphs" stroke="#151515" stroke-width="0.2">·美国至12月12日当周API原油库存 -932.2万桶，预期-219.7万桶，前值-477.9万桶。</text>
<text x="126.5" y="1125.4" font-size="17" fill="#151515" textLength="582.1" lengthAdjust="spacingAndGlyphs" stroke="#151515" stroke-width="0.2">·美国至12月12日当周API汽油库存 483.5万桶，预期210万桶，前值695.5万桶。</text>
<text x="126.5" y="1153.5" font-size="17" fill="#151515" textLength="612.5" lengthAdjust="spacingAndGlyphs" stroke="#151515" stroke-width="0.2">·美国至12月12日当周API精炼油库存 251.1万桶，预期206.6万桶，前值102.7万桶。</text>
<text x="126.5" y="1181.6" font-size="17" fill="#151515" textLength="604.2" lengthAdjust="spacingAndGlyphs" stroke="#151515" stroke-width="0.2">1. EIA报告：除却战略储备的商业原油库存减少127.4万桶至4.24亿桶，降幅0.3%。</text>
<text x="126.5" y="1209.7" font-size="17" fill="#151515" textLength="734.1" lengthAdjust="spacingAndGlyphs" stroke="#151515" stroke-width="0.2">2. EIA报告：12月12日当周美国战略石油储备（SPR）库存增加24.9万桶至4.122亿桶，增幅0.06%。</text>
<text x="126.5" y="1237.7" font-size="17" fill="#151515" textLength="558.2" lengthAdjust="spacingAndGlyphs" stroke="#151515" stroke-width="0.2">3. EIA报告：12月12日当周美国国内原油产量减少1.0万桶至1384.3万桶/日。</text>
<text x="126.5" y="1265.8" font-size="17" fill="#151515" textLength="628.1" lengthAdjust="spacingAndGlyphs" stroke="#151515" stroke-width="0.2">4. EIA报告：美国原油产品四周平均供应量为2052.1万桶/日，较去年同期增加0.82%。</text>
<text x="126.5" y="1293.9" font-size="17" fill="#151515" textLength="546.2" lengthAdjust="spacingAndGlyphs" stroke="#151515" stroke-width="0.2">5. EIA报告：12月12日当周美国原油出口增加65.5万桶/日至466.4万桶/日。</text>
<text x="126.5" y="1322.0" font-size="17" fill="#151515" textLength="632.7" lengthAdjust="spacingAndGlyphs" stroke="#151515" stroke-width="0.2">6. EIA报告：除却战略储备的商业原油上周进口652.5万桶/日，较前一周减少6.4万桶/日</text>
<text x="126.5" y="1350.1" font-size="17" fill="#151515" textLength="99.5" lengthAdjust="spacingAndGlyphs" stroke="#151515" stroke-width="0.2">三、周度观点</text>
<text x="131.0" y="1378.1" font-size="17" fill="#151515" textLength="864.0" lengthAdjust="spacingAndGlyphs" stroke="#151515" stroke-width="0.2">本周油价下跌，全球供需快速走弱，本周陆上、水上库存大幅累库，迪拜月差进一步走弱，周中地缘方面美国扣押委</text>
<text x="126.5" y="1406.2" font-size="17" fill="#151515" textLength="868.0" lengthAdjust="spacingAndGlyphs" stroke="#151515" stroke-width="0.2">内瑞拉油轮，俄乌谈判继续，市场传言俄罗斯已寻求到更多出口原油途径。CPC三号泊位预期17号恢复。全球汽柴油裂</text>
<text x="126.5" y="1434.3" font-size="17" fill="#151515" textLength="868.0" lengthAdjust="spacingAndGlyphs" stroke="#151515" stroke-width="0.2">解下行，美国炼厂开工恢复94%以上，国内炼厂开工震荡。基本面过剩幅度加剧，若地缘无新变化，一季度过剩幅度接</text>
<text x="126.5" y="1462.4" font-size="17" fill="#151515" textLength="298.3" lengthAdjust="spacingAndGlyphs" stroke="#151515" stroke-width="0.2">近疫情期间，短期月差、绝对价格空配。</text>
<rect x="125" y="1470.0" width="400" height="260" fill="#fff"/>
<rect x="559.5" y="1470.0" width="400" height="260" fill="#fff"/>
<rect x="125" y="1739.8" width="400" height="260" fill="#fff"/>
<rect x="559.5" y="1739.8" width="400" height="260" fill="#fff"/>
<rect x="125" y="2009.6" width="400" height="260" fill="#fff"/>
<rect x="559.5" y="2009.6" width="400" height="260" fill="#fff"/>
<rect x="125" y="2279.4" width="400" height="260" fill="#fff"/>
<rect x="559.5" y="2279.4" width="400" height="260" fill="#fff"/>
<rect x="125" y="2549.2" width="400" height="260" fill="#fff"/>
<rect x="559.5" y="2549.2" width="400" height="260" fill="#fff"/>
<rect x="125" y="2819.0" width="400" height="260" fill="#fff"/>
<rect x="559.5" y="2819.0" width="400" height="260" fill="#fff"/>
<rect x="125" y="3088.8" width="400" height="260" fill="#fff"/>
<rect x="559.5" y="3088.8" width="400" height="260" fill="#fff"/>
<rect x="125" y="3358.6" width="400" height="260" fill="#fff"/>
<rect x="559.5" y="3358.6" width="400" height="260" fill="#fff"/>
<rect x="125" y="3628.4" width="400" height="260" fill="#fff"/>
<rect x="559.5" y="3628.4" width="400" height="260" fill="#fff"/>
<rect x="125" y="3898.2" width="400" height="260" fill="#fff"/>
<rect x="559.5" y="3898.2" width="400" height="260" fill="#fff"/>
<text x="325.0" y="1491.0" font-size="15" fill="#222" text-anchor="middle" font-weight="bold">DTD BFO基差季节性</text>
<path d="M181.0 1511.2h16" stroke="#3cbde6" stroke-width="1.6"/>
<circle cx="189.0" cy="1511.2" r="4.6" fill="#3cbde6"/>
<text x="202.5" y="1515.8" font-size="12.4" fill="#595959">2016</text>
<path d="M240.8 1511.2h16" stroke="#a987d6" stroke-width="1.6"/>
<circle cx="248.8" cy="1511.2" r="4.6" fill="#a987d6"/>
<text x="262.3" y="1515.8" font-size="12.4" fill="#595959">2017</text>
<path d="M300.6 1511.2h16" stroke="#f4834f" stroke-width="1.6"/>
<circle cx="308.6" cy="1511.2" r="4.6" fill="#f4834f"/>
<text x="322.1" y="1515.8" font-size="12.4" fill="#595959">2018</text>
<path d="M360.4 1511.2h16" stroke="#5fae4a" stroke-width="1.6"/>
<circle cx="368.4" cy="1511.2" r="4.6" fill="#5fae4a"/>
<text x="381.9" y="1515.8" font-size="12.4" fill="#595959">2019</text>
<path d="M420.2 1511.2h16" stroke="#2f6fcf" stroke-width="1.6"/>
<circle cx="428.2" cy="1511.2" r="4.6" fill="#2f6fcf"/>
<text x="441.7" y="1515.8" font-size="12.4" fill="#595959">2020</text>
<path d="M181.0 1533.6h16" stroke="#f9b43a" stroke-width="1.6"/>
<circle cx="189.0" cy="1533.6" r="4.6" fill="#f9b43a"/>
<text x="202.5" y="1538.2" font-size="12.4" fill="#595959">2021</text>
<path d="M240.8 1533.6h16" stroke="#4f94d8" stroke-width="1.6"/>
<circle cx="248.8" cy="1533.6" r="4.6" fill="#4f94d8"/>
<text x="262.3" y="1538.2" font-size="12.4" fill="#595959">2022</text>
<path d="M300.6 1533.6h16" stroke="#dcd72e" stroke-width="1.6"/>
<circle cx="308.6" cy="1533.6" r="4.6" fill="#dcd72e"/>
<text x="322.1" y="1538.2" font-size="12.4" fill="#595959">2023</text>
<path d="M360.4 1533.6h16" stroke="#3b3b3b" stroke-width="1.6"/>
<circle cx="368.4" cy="1533.6" r="4.6" fill="#3b3b3b"/>
<text x="381.9" y="1538.2" font-size="12.4" fill="#595959">2024</text>
<path d="M420.2 1533.6h16" stroke="#e5322b" stroke-width="1.6"/>
<circle cx="428.2" cy="1533.6" r="4.6" fill="#e5322b"/>
<text x="441.7" y="1538.2" font-size="12.4" fill="#595959">2025</text>
<text x="156.0" y="1542.3" font-size="13" fill="#5e5e5e" text-anchor="end">20</text>
<text x="156.0" y="1565.8" font-size="13" fill="#5e5e5e" text-anchor="end">15</text>
<text x="156.0" y="1589.4" font-size="13" fill="#5e5e5e" text-anchor="end">10</text>
<text x="156.0" y="1612.9" font-size="13" fill="#5e5e5e" text-anchor="end">5</text>
<text x="156.0" y="1636.5" font-size="13" fill="#5e5e5e" text-anchor="end">0</text>
<text x="156.0" y="1660.0" font-size="13" fill="#5e5e5e" text-anchor="end">-5</text>
<text x="156.0" y="1683.6" font-size="13" fill="#5e5e5e" text-anchor="end">-10</text>
<text x="156.0" y="1707.1" font-size="13" fill="#5e5e5e" text-anchor="end">-15</text>
<path d="M163.0 1561.2H512.5 M163.0 1584.8H512.5 M163.0 1608.3H512.5 M163.0 1631.9H512.5 M163.0 1655.4H512.5 M163.0 1679.0H512.5" stroke="#cfcfcf" stroke-width="1" stroke-dasharray="2 1" fill="none"/>
<rect x="163.0" y="1537.7" width="349.5" height="164.8" fill="none" stroke="#d4d4d4" stroke-width="1" stroke-dasharray="2 1"/>
<text x="164.0" y="1720.0" font-size="13" fill="#5e5e5e" text-anchor="middle">1月</text>
<text x="193.6" y="1720.0" font-size="13" fill="#5e5e5e" text-anchor="middle">2月</text>
<text x="223.1" y="1720.0" font-size="13" fill="#5e5e5e" text-anchor="middle">3月</text>
<text x="252.7" y="1720.0" font-size="13" fill="#5e5e5e" text-anchor="middle">4月</text>
<text x="282.2" y="1720.0" font-size="13" fill="#5e5e5e" text-anchor="middle">5月</text>
<text x="311.8" y="1720.0" font-size="13" fill="#5e5e5e" text-anchor="middle">6月</text>
<text x="341.3" y="1720.0" font-size="13" fill="#5e5e5e" text-anchor="middle">7月</text>
<text x="370.9" y="1720.0" font-size="13" fill="#5e5e5e" text-anchor="middle">8月</text>
<text x="400.4" y="1720.0" font-size="13" fill="#5e5e5e" text-anchor="middle">9月</text>
<text x="429.9" y="1720.0" font-size="13" fill="#5e5e5e" text-anchor="middle">10月</text>
<text x="459.5" y="1720.0" font-size="13" fill="#5e5e5e" text-anchor="middle">11月</text>
<text x="489.1" y="1720.0" font-size="13" fill="#5e5e5e" text-anchor="middle">12月</text>
<path d="M165.0 1639.2l2.4 2.0 2.4 -1.5 2.4 -7.2 2.4 1.7 2.4 -2.6 2.4 4.0 2.4 -3.7 2.4 6.0 2.4 1.4 2.4 6.9 2.4 -2.2 2.4 -0.5 2.4 -4.4 2.4 -3.4 2.4 6.4 2.4 -2.0 2.4 0.6 2.4 -0.6 2.5 1.5 2.4 -9.0 2.4 -4.6 2.4 6.6 2.4 10.0 2.4 -11.3 2.4 -0.9 2.4 3.1 2.4 -1.3 2.4 0.2 2.4 -0.3 2.4 5.0 2.4 -1.0 2.4 0.1 2.4 -5.4 2.4 4.5 2.4 6.3 2.4 -1.1 2.4 -4.2 2.4 -5.7 2.4 3.8 2.4 1.8 2.4 -1.8 2.4 -8.9 2.4 1.4 2.4 -0.6 2.4 0.5 2.4 4.6 2.4 -2.7 2.4 1.8 2.4 6.8 2.4 -4.6 2.4 0.4 2.4 2.9 2.4 -3.4 2.5 -5.1 2.4 4.2 2.4 4.5 2.4 -7.9 2.4 1.5 2.4 0.1 2.4 6.9 2.4 -7.7 2.4 1.3 2.4 -4.1 2.4 -0.2 2.4 3.8 2.4 0.5 2.4 1.0 2.4 -1.7 2.4 -4.1 2.4 7.6 2.4 5.9 2.4 -2.8 2.4 -2.7 2.4 5.1 2.4 -0.6 2.4 -1.2 2.4 1.9 2.4 -6.0 2.4 -2.8 2.4 2.2 2.4 -3.6 2.4 2.7 2.4 2.1 2.4 2.4 2.4 0.9 2.4 -6.9 2.4 1.4 2.4 2.6 2.4 3.9 2.4 1.8 2.5 -3.9 2.4 -1.7 2.4 -4.6 2.4 0.4 2.4 -1.1 2.4 -2.5 2.4 2.6 2.4 6.4 2.4 5.3 2.4 -2.1 2.4 -2.7 2.4 0.4 2.4 1.9 2.4 0.0 2.4 -0.5 2.4 -2.6 2.4 -1.6 2.4 8.8 2.4 -0.1 2.4 -7.4 2.4 2.7 2.4 -4.6 2.4 1.6 2.4 -2.1 2.4 2.0 2.4 -2.2 2.4 0.0 2.4 2.9 2.4 1.9 2.4 -8.3 2.4 7.5 2.4 -9.1 2.4 -2.1 2.4 2.6 2.4 5.3 2.5 0.4 2.4 -1.5 2.4 5.2 2.4 -1.1 2.4 -0.9 2.4 2.8 2.4 -4.4 2.4 8.8 2.4 1.0 2.4 -4.4 2.4 -1.9 2.4 -0.5 2.4 1.9 2.4 -0.2 2.4 -4.8 2.4 -3.2 2.4 6.5 2.4 -6.3 2.4 -1.0" stroke="#3cbde6" stroke-width="1.8" fill="none" stroke-linejoin="round"/>
<path d="M165.0 1632.2l2.4 -0.1 2.4 9.2 2.4 -5.3 2.4 -6.1 2.4 3.3 2.4 1.1 2.4 2.5 2.4 -2.6 2.4 5.5 2.4 -0.4 2.4 7.0 2.4 -3.8 2.4 -3.1 2.4 2.8 2.4 -0.6 2.4 -6.4 2.4 2.6 2.4 -4.2 2.5 5.0 2.4 -4.2 2.4 1.4 2.4 -3.6 2.4 2.4 2.4 5.1 2.4 1.7 2.4 -5.8 2.4 -5.5 2.4 4.9 2.4 -2.8 2.4 -1.7 2.4 4.6 2.4 -4.8 2.4 5.1 2.4 3.6 2.4 -2.1 2.4 -4.5 2.4 0.3 2.4 6.6 2.4 -1.6 2.4 3.1 2.4 -2.9 2.4 -1.2 2.4 -0.3 2.4 -0.4 2.4 0.5 2.4 2.3 2.4 2.4 2.4 -3.8 2.4 -4.9 2.4 -1.4 2.4 -1.7 2.4 -4.9 2.4 5.1 2.5 -0.3 2.4 9.5 2.4 -4.1 2.4 -5.2 2.4 4.1 2.4 0.6 2.4 3.5 2.4 -0.9 2.4 5.9 2.4 -6.6 2.4 0.2 2.4 -2.5 2.4 -1.4 2.4 -5.0 2.4 5.9 2.4 -5.5 2.4 4.8 2.4 2.7 2.4 1.2 2.4 -6.8 2.4 5.5 2.4 -2.9 2.4 2.6 2.4 -1.5 2.4 7.9 2.4 -5.4 2.4 -1.4 2.4 1.2 2.4 -5.9 2.4 0.7 2.4 1.3 2.4 2.4 2.4 -1.0 2.4 7.4 2.4 4.3 2.4 -0.5 2.4 -4.9 2.5 0.0 2.4 5.4 2.4 1.5 2.4 -3.3 2.4 -6.1 2.4 3.2 2.4 0.2 2.4 -2.5 2.4 -2.0 2.4 -5.5 2.4 -3.3 2.4 -0.9 2.4 5.4 2.4 2.4 2.4 -2.3 2.4 0.6 2.4 6.4 2.4 -6.4 2.4 -0.4 2.4 -3.1 2.4 10.2 2.4 -3.6 2.4 4.9 2.4 0 2.4 -5.2 2.4 2.1 2.4 -0.5 2.4 0.8 2.4 -0.7 2.4 1.3 2.4 0.5 2.4 -4.8 2.4 3.2 2.4 -4.1 2.4 -4.0 2.5 1.4 2.4 -1.2 2.4 0.2 2.4 -1.4 2.4 6.4 2.4 3.3 2.4 -3.9 2.4 5.3 2.4 -2.6 2.4 -3.7 2.4 -2.9 2.4 3.9 2.4 0.0 2.4 1.3 2.4 10.6 2.4 -2.1 2.4 -4.8 2.4 -6.1 2.4 -0.6" stroke="#a987d6" stroke-width="1.8" fill="none" stroke-linejoin="round"/>
<path d="M165.0 1633.9l2.4 2.8 2.4 0.0 2.4 2.5 2.4 -7.5 2.4 -3.1 2.4 -2.9 2.4 -1.1 2.4 7.8 2.4 0.4 2.4 -4.7 2.4 -2.1 2.4 7.1 2.4 -5.8 2.4 -0.4 2.4 3.9 2.4 5.1 2.4 2.7 2.4 -6.0 2.5 -6.1 2.4 -2.4 2.4 5.0 2.4 1.7 2.4 4.9 2.4 1.0 2.4 1.5 2.4 -7.9 2.4 -4.2 2.4 2.4 2.4 2.9 2.4 -3.4 2.4 6.8 2.4 -8.7 2.4 2.0 2.4 -2.3 2.4 4.3 2.4 2.5 2.4 -2.2 2.4 1.7 2.4 4.6 2.4 -5.8 2.4 -3.2 2.4 -2.5 2.4 1.3 2.4 -2.0 2.4 -4.3 2.4 8.0 2.4 -3.8 2.4 -6.5 2.4 8.3 2.4 -3.1 2.4 5.7 2.4 5.2 2.4 -6.1 2.5 -3.7 2.4 7.6 2.4 -7.8 2.4 -1.9 2.4 0.8 2.4 0.5 2.4 8.7 2.4 -1.4 2.4 -7.6 2.4 9.6 2.4 1.4 2.4 -2.5 2.4 6.8 2.4 -0.3 2.4 -0.7 2.4 -6.0 2.4 -0.5 2.4 6.1 2.4 -0.5 2.4 -3.9 2.4 -6.6 2.4 4.3 2.4 1.0 2.4 3.9 2.4 0.7 2.4 1.1 2.4 -2.9 2.4 0.0 2.4 -3.4 2.4 1.6 2.4 1.0 2.4 0.4 2.4 -4.5 2.4 2.6 2.4 -1.0 2.4 -4.1 2.4 2.2 2.5 3.6 2.4 -2.8 2.4 7.0 2.4 -1.6 2.4 2.2 2.4 -0.6 2.4 -10.1 2.4 -5.5 2.4 6.7 2.4 -0.3 2.4 -0.6 2.4 4.0 2.4 1.3 2.4 0.3 2.4 -4.8 2.4 7.1 2.4 -11.1 2.4 7.5 2.4 -2.5 2.4 4.3 2.4 -1.0 2.4 0.5 2.4 4.9 2.4 -6.1 2.4 -9.1 2.4 1.4 2.4 -6.4 2.4 3.7 2.4 1.3 2.4 5.9 2.4 -1.5 2.4 3.2 2.4 -6.0 2.4 4.4 2.4 0.2 2.5 4.9 2.4 7.9 2.4 -2.5 2.4 -0.6 2.4 -7.5 2.4 -2.8 2.4 8.8 2.4 -10.0 2.4 0.8 2.4 3.4 2.4 3.7 2.4 -4.3 2.4 0.2 2.4 2.3 2.4 4.3 2.4 -2.9 2.4 -2.8 2.4 4.7 2.4 1.4" stroke="#f4834f" stroke-width="1.8" fill="none" stroke-linejoin="round"/>
<path d="M165.0 1633.6l2.4 -2.5 2.4 -1.9 2.4 -5.6 2.4 3.4 2.4 2.8 2.4 -1.5 2.4 -0.4 2.4 -4.8 2.4 8.5 2.4 0.3 2.4 -2.4 2.4 2.4 2.4 0.2 2.4 -0.8 2.4 -1.5 2.4 0.2 2.4 1.6 2.4 2.2 2.5 1.2 2.4 -1.1 2.4 1.4 2.4 -3.4 2.4 -6.9 2.4 -3.2 2.4 7.2 2.4 -5.8 2.4 0.2 2.4 3.2 2.4 5.1 2.4 -8.7 2.4 -0.9 2.4 0.8 2.4 0.6 2.4 3.1 2.4 4.6 2.4 1.6 2.4 9.0 2.4 -0.1 2.4 -11.0 2.4 -6.1 2.4 1.6 2.4 0.6 2.4 5.5 2.4 1.1 2.4 1.2 2.4 -2.4 2.4 0.5 2.4 0.0 2.4 -2.2 2.4 1.9 2.4 -6.5 2.4 5.6 2.4 1.5 2.5 9.3 2.4 -6.4 2.4 -8.7 2.4 -1.0 2.4 1.2 2.4 -1.6 2.4 -2.5 2.4 1.9 2.4 -2.9 2.4 8.1 2.4 -5.9 2.4 4.9 2.4 4.0 2.4 -0.1 2.4 3.5 2.4 -1.9 2.4 0.8 2.4 -6.1 2.4 -4.4 2.4 0.4 2.4 2.7 2.4 4.5 2.4 -6.0 2.4 -0.8 2.4 -1.0 2.4 5.4 2.4 -2.4 2.4 5.1 2.4 -3.0 2.4 -2.9 2.4 -1.4 2.4 -4.4 2.4 -5.7 2.4 4.8 2.4 1.7 2.4 11.5 2.4 -0.4 2.5 1.5 2.4 -2.0 2.4 -2.3 2.4 -5.9 2.4 -2.2 2.4 9.0 2.4 -2.6 2.4 -1.3 2.4 3.9 2.4 -1.7 2.4 -0.9 2.4 8.0 2.4 -2.1 2.4 -3.9 2.4 -2.0 2.4 -2.2 2.4 3.0 2.4 2.2 2.4 -3.1 2.4 -0.3 2.4 -5.2 2.4 2.2 2.4 4.8 2.4 -3.8 2.4 1.3 2.4 -1.6 2.4 0.1 2.4 2.9 2.4 -3.3 2.4 6.2 2.4 3.7 2.4 1.5 2.4 -7.0 2.4 -7.2 2.4 1.4 2.5 3.3 2.4 1.0 2.4 0 2.4 0.8 2.4 -1.0 2.4 3.2 2.4 -6.1 2.4 3.6 2.4 2.3 2.4 -2.9 2.4 14.4 2.4 -5.4 2.4 -2.8 2.4 -6.9 2.4 2.0 2.4 0.9 2.4 3.8 2.4 -4.0 2.4 3.9" stroke="#5fae4a" stroke-width="1.8" fill="none" stroke-linejoin="round"/>
<path d="M165.0 1643.2l2.4 -8.5 2.4 -1.8 2.4 -4.5 2.4 -2.6 2.4 11.0 2.4 -2.0 2.4 -2.4 2.4 5.9 2.4 7.4 2.4 -0.7 2.4 -0.8 2.4 -10.0 2.4 6.1 2.4 0.8 2.4 -10.2 2.4 -3.3 2.4 5.4 2.4 -6.3 2.5 -2.9 2.4 -1.3 2.4 8.2 2.4 -3.6 2.4 1.5 2.4 4.9 2.4 6.0 2.4 2.5 2.4 -0.4 2.4 -1.3 2.4 -14.2 2.4 2.9 2.4 7.5 2.4 2.5 2.4 -5.9 2.4 3.3 2.4 -2.3 2.4 -0.1 2.4 -2.3 2.4 -4.9 2.4 -6.3 2.4 -1.9 2.4 4.4 2.4 20.9 2.4 -15.7 2.4 5.0 2.4 5.8 2.4 2.0 2.4 -3.0 2.4 -0.8 2.4 0.2 2.4 -4.3 2.4 -2.1 2.4 1.1 2.4 0.7 2.5 1.4 2.4 -4.9 2.4 8.6 2.4 0.7 2.4 -4.8 2.4 -8.6 2.4 -3.2 2.4 3.1 2.4 2.7 2.4 -2.6 2.4 8.4 2.4 -8.0 2.4 10.9 2.4 -11.4 2.4 7.3 2.4 -5.9 2.4 -6.3 2.4 4.7 2.4 2.5 2.4 1.8 2.4 4.8 2.4 -2.8 2.4 -5.7 2.4 4.0 2.4 7.6 2.4 1.7 2.4 -12.1 2.4 -2.9 2.4 0.5 2.4 0.8 2.4 -9.7 2.4 2.7 2.4 -0.1 2.4 -1.2 2.4 16.4 2.4 0.1 2.4 0.3 2.5 2.6 2.4 -3.7 2.4 3.0 2.4 1.7 2.4 -0.5 2.4 -1.7 2.4 2.9 2.4 -2.1 2.4 -4.0 2.4 0.8 2.4 1.6 2.4 -5.1 2.4 1.4 2.4 -3.3 2.4 1.7 2.4 3.8 2.4 6.0 2.4 7.4 2.4 -1.8 2.4 -11.3 2.4 -2.6 2.4 -12.3 2.4 2.8 2.4 -0.1 2.4 5.9 2.4 3.9 2.4 6.2 2.4 -1.2 2.4 -9.5 2.4 1.0 2.4 14.5 2.4 -1.2 2.4 -0.2 2.4 -2.0 2.4 -15.6 2.5 3.9 2.4 3.0 2.4 -4.3 2.4 1.2 2.4 8.0 2.4 -0.2 2.4 0.1 2.4 -2.2 2.4 1.5 2.4 2.3 2.4 -0.5 2.4 -6.4 2.4 -1.9 2.4 -5.4 2.4 11.2 2.4 0 2.4 7.0 2.4 3.0 2.4 -10.9" stroke="#2f6fcf" stroke-width="1.8" fill="none" stroke-linejoin="round"/>
<path d="M165.0 1630.9l2.4 -4.0 2.4 3.2 2.4 -10.6 2.4 1.7 2.4 9.9 2.4 -2.7 2.4 2.0 2.4 -5.0 2.4 6.9 2.4 1.5 2.4 2.0 2.4 -5.3 2.4 0.8 2.4 -5.2 2.4 2.7 2.4 -8.5 2.4 6.0 2.4 3.5 2.5 -2.2 2.4 5.9 2.4 -3.1 2.4 6.1 2.4 -6.1 2.4 -4.2 2.4 0.5 2.4 14.5 2.4 -13.1 2.4 -1.4 2.4 -0.7 2.4 4.2 2.4 -7.2 2.4 10.7 2.4 -10.4 2.4 9.0 2.4 -3.1 2.4 -4.4 2.4 4.8 2.4 -7.6 2.4 2.9 2.4 -3.7 2.4 -1.9 2.4 -1.0 2.4 4.4 2.4 9.8 2.4 -3.8 2.4 5.5 2.4 -5.6 2.4 2.8 2.4 1.4 2.4 -3.1 2.4 2.3 2.4 -0.5 2.4 -0.2 2.5 -8.6 2.4 3.6 2.4 8.1 2.4 -11.0 2.4 1.8 2.4 1.2 2.4 1.4 2.4 1.5 2.4 1.9 2.4 -4.1 2.4 -0.2 2.4 -3.7 2.4 -4.3 2.4 0.7 2.4 3.5 2.4 1.3 2.4 -0.5 2.4 -0.6 2.4 5.7 2.4 -0.8 2.4 0.5 2.4 9.0 2.4 -6.1 2.4 -0.7 2.4 1.4 2.4 -10.7 2.4 0.9 2.4 3.1 2.4 3.9 2.4 -3.3 2.4 1.1 2.4 1.8 2.4 1.9 2.4 -3.3 2.4 3.2 2.4 1.4 2.4 -6.2 2.5 -12.0 2.4 8.5 2.4 8.4 2.4 -2.3 2.4 7.9 2.4 -10.2 2.4 1.5 2.4 2.9 2.4 -5.5 2.4 1.0 2.4 1.2 2.4 3.6 2.4 4.1 2.4 -3.0 2.4 -7.2 2.4 8.2 2.4 -0.3 2.4 2.5 2.4 -9.9 2.4 1.6 2.4 -5.2 2.4 1.1 2.4 5.9 2.4 2.0 2.4 4.3 2.4 -7.2 2.4 6.6 2.4 -2.6 2.4 1.5 2.4 0.4 2.4 -0.9 2.4 -0.8 2.4 -9.2 2.4 3.8 2.4 0.4 2.5 -1.3 2.4 -3.4 2.4 -2.5 2.4 12.2 2.4 -3.2 2.4 -3.3 2.4 3.7 2.4 -4.1 2.4 -2.8 2.4 4.0 2.4 0.2 2.4 1.2 2.4 1.9 2.4 -3.6 2.4 -1.1 2.4 2.6 2.4 -0.9 2.4 0.3 2.4 3.6" stroke="#f9b43a" stroke-width="1.8" fill="none" stroke-linejoin="round"/>
<path d="M165.0 1627.0l2.4 -7.4 2.4 14.4 2.4 -1.4 2.4 -1.1 2.4 -2.4 2.4 2.6 2.4 -8.2 2.4 7.0 2.4 9.4 2.4 -8.3 2.4 2.2 2.4 -5.8 2.4 -4.5 2.4 2.8 2.4 -1.8 2.4 0.2 2.4 2.5 2.4 0.3 2.5 5.6 2.4 1.5 2.4 -0.9 2.4 -1.1 2.4 -3.9 2.4 -0.7 2.4 1.2 2.4 0 2.4 -1.7 2.4 3.8 2.4 5.2 2.4 -8.3 2.4 2.5 2.4 -4.3 2.4 -1.5 2.4 0.2 2.4 3.3 2.4 2.3 2.4 1.6 2.4 -1.2 2.4 2.8 2.4 0.0 2.4 -4.0 2.4 2.0 2.4 1.2 2.4 3.4 2.4 2.2 2.4 2.1 2.4 -7.6 2.4 3.1 2.4 -4.8 2.4 -4.8 2.4 2.6 2.4 -1.6 2.4 -1.5 2.5 -2.3 2.4 2.3 2.4 -2.3 2.4 -4.3 2.4 3.8 2.4 1.3 2.4 -3.0 2.4 0.3 2.4 2.4 2.4 2.3 2.4 5.7 2.4 1.5 2.4 -3.1 2.4 -5.2 2.4 1.4 2.4 -3.7 2.4 4.5 2.4 -1.6 2.4 5.1 2.4 -6.7 2.4 4.8 2.4 2.1 2.4 -2.8 2.4 7.4 2.4 -4.2 2.4 -2.3 2.4 -0.3 2.4 -3.3 2.4 4.0 2.4 -2.6 2.4 4.1 2.4 1.3 2.4 -5.7 2.4 2.4 2.4 -1.7 2.4 0.6 2.4 0.6 2.5 1.6 2.4 4.3 2.4 -2.9 2.4 -1.6 2.4 2.1 2.4 -1.6 2.4 -0.8 2.4 3.2 2.4 3.3 2.4 -9.7 2.4 0.3 2.4 3.4 2.4 -3.3 2.4 1.9 2.4 -7.0 2.4 6.2 2.4 -3.7 2.4 2.7 2.4 0.2 2.4 3.1 2.4 4.6 2.4 -7.9 2.4 -0.6 2.4 0.5 2.4 2.0 2.4 -0.8 2.4 3.2 2.4 -2.4 2.4 -2.3 2.4 1.8 2.4 -4.5 2.4 -1.5 2.4 7.2 2.4 2.8 2.4 -3.8 2.5 8.0 2.4 -0.7 2.4 -5.3 2.4 7.8 2.4 -8.5 2.4 0.5 2.4 0.7 2.4 -2.4 2.4 2.6 2.4 -3.3 2.4 2.4 2.4 -10.5 2.4 6.7 2.4 -1.7 2.4 7.2 2.4 -2.3 2.4 -1.3 2.4 4.2 2.4 3.3" stroke="#dcd72e" stroke-width="1.8" fill="none" stroke-linejoin="round"/>
<path d="M165.0 1627.4l2.4 5.8 2.4 3.5 2.4 -5.9 2.4 -5.6 2.4 1.4 2.4 10.9 2.4 7.3 2.4 -8.7 2.4 -7.8 2.4 -6.4 2.4 -1.3 2.4 6.3 2.4 -1.9 2.4 0 2.4 3.8 2.4 -9.3 2.4 -1.5 2.4 4.4 2.5 0 2.4 1.2 2.4 3.1 2.4 3.0 2.4 3.2 2.4 -0.8 2.4 0.5 2.4 -2.5 2.4 3.2 2.4 -1.0 2.4 -5.1 2.4 -3.4 2.4 -1.2 2.4 1.4 2.4 5.3 2.4 0.6 2.4 -9.7 2.4 2.6 2.4 -7.0 2.4 5.3 2.4 -0.6 2.4 4.0 2.4 7.2 2.4 -8.2 2.4 -3.0 2.4 10.1 2.4 -6.0 2.4 8.1 2.4 -3.6 2.4 -4.1 2.4 -6.1 2.4 -3.7 2.4 6.3 2.4 6.8 2.4 -4.2 2.5 -0.7 2.4 5.7 2.4 -5.2 2.4 -2.0 2.4 -1.7 2.4 3.7 2.4 1.2 2.4 -5.7 2.4 14.5 2.4 -7.7 2.4 5.1 2.4 -1.6 2.4 -1.4 2.4 -6.0 2.4 0 2.4 0.2 2.4 -4.2 2.4 10.4 2.4 -5.1 2.4 -6.2 2.4 13.7 2.4 -6.9 2.4 8.1 2.4 -10.0 2.4 10.7 2.4 -9.1 2.4 -2.3 2.4 5.2 2.4 -7.0 2.4 6.3 2.4 7.2 2.4 -3.9 2.4 -2.7 2.4 1.1 2.4 0.9 2.4 0.5 2.4 -0.9 2.5 -0.4 2.4 -3.4 2.4 3.6 2.4 2.0 2.4 -2.3 2.4 7.7 2.4 1.1 2.4 0.0 2.4 -7.3 2.4 -5.0 2.4 0.4 2.4 -1.7 2.4 4.3 2.4 9.8 2.4 2.4 2.4 -0.1 2.4 -12.7 2.4 4.1 2.4 3.3 2.4 3.1 2.4 -2.4 2.4 1.7 2.4 -2.1 2.4 3.1 2.4 5.3 2.4 -3.8 2.4 -8.4 2.4 5.1 2.4 -8.1 2.4 3.6 2.4 5.9 2.4 -2.6 2.4 -6.1 2.4 -2.5 2.4 -2.8 2.5 6.9 2.4 -0.6 2.4 4.3 2.4 2.9 2.4 -5.8 2.4 -5.0 2.4 -0.7 2.4 1.9 2.4 -3.8 2.4 6.7 2.4 4.3 2.4 -14.0 2.4 -0.1 2.4 0.1 2.4 7.6 2.4 -4.6 2.4 3.5 2.4 -3.7 2.4 4.3" stroke="#3b3b3b" stroke-width="1.8" fill="none" stroke-linejoin="round"/>
<path d="M165.0 1635.9l2.4 -0.7 2.4 1.6 2.4 -3.3 2.4 -1.9 2.4 -8.8 2.4 -5.2 2.4 6.7 2.4 -7.7 2.4 8.2 2.4 -1.2 2.4 -0.5 2.4 -3.9 2.4 0.6 2.4 -1.0 1.4 2.0 1 1.1 2.4 -0.8 2.4 1.8 2.4 5.8 2.5 -0.5 2.4 3.5 2.4 -0.8 2.4 -7.4 2.4 10.1 2.4 0.4 2.4 5.5 2.4 0.2 2.4 -7.9 2.4 4.8 2.4 0.0 2.4 -8.7 2.4 2.8 0.5 -0.9 1.9 9.0 2.4 3.1 2.4 -11.9 2.4 2.2 2.4 5.9 2.4 -1.2 2.4 -4.7 2.4 8.5 1.3 -10.9 1.1 10.9 2.4 3.0 2.4 -4.0 2.4 3.3 2.4 -15.7 2.4 -2.5 2.4 1.5 2.4 -3.6 2.1 -1.2 0.3 1.3 2.4 -0.3 2.4 7.4 2.4 8.4 2.4 -0.1 2.4 -5.4 2.5 -1.3 2.4 2.1 2.4 5.0 0.4 2.3 2 -7.7 2.4 8.9 2.4 -12.4 2.4 0.6 2.4 1.1 2.4 -2.3 2.4 -2.7 2.4 -7.3 1.2 5.4 1.2 -0.2 2.4 -5.7 2.4 2.7 2.4 4.2 2.4 -4.4 2.4 2.2 2.4 -5.0 2.4 14.9 2.4 -9.9 2.4 4.4 2.4 5.1 2.4 -1.9 2.4 -1.5 2.4 0.2 2.4 -7.3 2.4 0.2 2.4 -0.4 0.4 9.4 2 -5.5 2.4 2.5 2.4 -4.0 2.4 -3.4 2.4 7.9 2.4 3.3 2.4 -2.5 2.4 -1.4 2.4 0.2 2.5 -2.2 2.4 -4.8 2.4 8.6 2.4 -3.4 2.4 -6.8 2.4 -1.7 2.4 4.2 2.4 13.6 2.4 5.0 2.4 -5.1 2.4 -11.6 2.4 -0.6 2.4 -3.5 2.4 1.7 2.4 4.5 2.4 4.0 0.3 -4.7 2.1 -2.8 2.4 4.0 2.4 -7.3 2.4 5.7 2.4 1.2 2.4 3.7 2.4 -6.5 2.4 5.8 2.4 3.4 2.4 -10.0 2.4 0.0 2.4 -8.8 2.4 8.5 2.4 12.8 2.4 -2.7 2.4 -3.5 2.4 -5.0 2.4 4.3 2.4 1.7 2.5 -2.8 2.2 -6.2 0.2 1.8 2.4 2.5 2.4 6.2 2.4 1.9 2.4 0.8 2.4 -0.2 2.4 0.8 2.4 -2.5 2.4 -10.2 2.4 0.4 2.4 7.2 2.4 -0.2 2.4 -2.1 2.4 3.6 2.4 -1.4 2.4 -0.4 2.4 1.1 2.4 2.7" stroke="#3b3b3b" stroke-width="2.2" fill="none" stroke-linejoin="round"/>
<path d="M165.6 1628.0l1.8 -3.1 1.8 -0.1 1.8 0.8 1.8 -2.6 1.8 -3.1 1.8 -0.6 1.8 3.3 1.8 1.0 1.8 -1.7 1.8 -0.9 1.7 0.4 0.1 -3.8 1.8 -2.7 1.8 -3.3 1.8 0.2 1.8 -1.2 1.8 -0.7 1.9 -4.8 0.3 1.8 1.5 -0.9 1.8 -1.4 1.8 -0.8 0.5 1.0 1.3 -1.4 1.8 5.6 1.8 3.4 0.7 1.8 1.1 -0.4 1.8 -7.9 1.8 -3.4 1.8 -4.4 1.8 -3.9 0.1 0.9 1.7 0.5 1.8 -0.4 1.8 1.5 1.8 0.9 1.8 0.2 1.8 -0.7 0.6 2.1 1.2 -1.1 1.8 -1.1 1.8 -0.8 1.8 -0.5 1.8 3.4 1.8 -1.1 1 -1.6 0.8 2.5 1.8 8.1 1.8 7.8 1.3 6.6 0.5 0.8 1.8 14.8 1.8 14.0 1.5 12.9 0.3 -0.9 1.8 4.8 1.8 2.8 1.8 9.7 1 0.4 0.8 -1.8 1.8 0.7 1.8 -7.0 1.8 -6.5 1.1 3.0 0.7 0.7 1.8 -2.0 1.8 -2.5 1.8 -0.8 1.8 -5.9 0.6 -3.6 1.2 2.0 1.8 3.6 1.8 -0.1 1.8 -0.9 1.8 1.0 1.8 -2.0 1.8 -4.3 1.8 -3.5 1.8 -2.3 1.3 -3.3 0.5 -2.3 1.8 -4.0 1.8 -2.4 1.8 -2.9 1.8 -1.3 0.7 -1.1 1.1 -2.3 1.8 -2.3 1.8 -0.3 1.8 -2.8 1.8 -1.4 1.3 -3.6 0.5 -1.2 1.8 -8.1 1.8 -8.8 0.4 -3.2 1.4 1.8 1.9 1.0 1.8 -0.1 1.8 -2.0 1.5 -1.4 0.3 -2.5 1.8 -1.0 1.8 -3.3 1.8 -2.5 1.8 -3.0 0.9 -0.4 0.9 0.9 1.8 -0.4 1.8 3.4 1.8 1.4 1.8 3.0 0.4 0.3 1.4 -5.5 1.8 -3.9 1.8 -7.8 0.6 -4.8 1.2 0.9 1.8 -1.7 1.8 -2.8 0.8 -1.6 1 2.4 1.8 -5.8 1.8 -3.1 1 -1.7 0.8 6.9 1.8 13.9 1.4 11.6 0.4 -3.1 1.8 5.4 1.8 4.1 1.6 5.9 0.2 -0.7 1.8 3.4 1.8 5.7 1.8 1.2 1.8 -9.4 1.8 -6.9 0.9 -3.5 0.9 -0.9 1.8 9.2 1.8 6.7 1.1 8.1 0.7 -0.1 1.8 1.4 1.8 4.0 1.4 3.1 0.4 -0.6 1.8 -2.8 1.8 1.2 1.8 -0.6 1.8 6.0 1.8 -1.5 1.8 -1.9 1.8 2.4 1.8 4.2 1.8 -2.7 0.2 -2.0 1.6 1.8 1.8 1.2 1.8 0.6 1.8 2.4 1.8 -4.6 1.8 1.8 1.8 -1.2 1.8 -1.9 1.8 1.9 1.8 1.9 1.8 0.5 1.8 -0.8 1.1 1.5 0.7 -1.0 1.8 1.1 1.8 -0.6 1.8 -0.1 1.9 -1.6 1.8 1.6 1.8 0.7 1.8 1.8 1.8 -0.6 1.8 -2.2 1.8 2.7 1.8 0.1 1.8 0.2 1.8 -2.0 1.8 0.4 1.8 0.3 0.4 -0.6 1.4 1.0 1.8 -1.9 1.8 -0.3 1.8 3.2 1.8 -2.2 1.8 4.2 1.8 -1.6 1.8 -1.6 1.8 2.1 1.8 -2.3 1.8 2.7 1.8 -2.6 1.8 2.7 1.8 -1.8 1.8 -0.9 1.8 3.2 1.8 0.6 1.8 -2.3 1.7 -0.3 0.1 -1.7 1.8 0.9 1.8 1.6 1.8 -1.1 1.8 -0.4 1.8 -2.0 1.8 2.7 1.8 -1.3 1.8 1.9 1.8 1.4 1.8 -2.1 1.8 -1.2 1.8 0.3 1.8 0.3 1.8 -1.4" stroke="#4f94d8" stroke-width="2.0" fill="none" stroke-linejoin="round"/>
<path d="M165.0 1633.2l2.2 0.8 2.2 -5.5 2.2 -2.2 2.2 1.3 2.2 -5.1 2.2 4.6 2.2 -4.5 2.2 1.1 2.2 -4.7 2.2 3.0 2.2 3.7 2.2 1.9 2.2 -1.6 2.2 -10.3 2.2 1.4 2.2 2.9 2.2 5.4 2.2 -1.4 2.2 2.7 2.2 -0.3 2.2 -3.3 2.2 5.8 2.2 0.7 2.2 -2.0 2.2 1.4 2.2 5.3 2.2 -3.6 2.2 -6.1 2.2 3.9 2.2 -8.9 2.2 3.8 2.2 5.7 2.2 0.2 2.2 -0.6 2.2 -4.4 2.2 -2.6 2.2 3.0 2.2 -3.8 1.4 9.9 0.8 -2.0 2.2 4.3 2.2 2.5 2.2 -3.1 2.2 2.5 2.2 -1.2 2.2 -1.3 2.2 -1.8 2.2 -2.1 2.2 2.3 2.2 -1.0 2.2 -5.4 2.2 3.9 2.2 0.5 2.2 -5.3 2.2 5.3 2.2 -2.7 2.2 -1.8 2.2 5.6 2.2 -8.5 2.2 14.9 2.2 -6.7 2.2 9.6 0.8 -9.8 1.4 -1.1 2.2 -5.1 2.2 -0.4 2.2 1.0 2.2 4.0 2.2 -3.1 2.2 4.7 2.2 -3.3 2.2 7.4 2.2 -2.5 2.2 -2.7 2.2 -1.1 2.2 1.9 2.2 -7.8 2.2 4.8 2.2 -3.6 2.2 2.2 2.2 1.9 2.2 -6.7 2.2 0.5 2.2 -1.2 2.2 0.8 2.2 7.1 0.2 5.7 2 3.7 2.2 -6.9 2.2 -4.8 2.2 -1.1 2.2 0.5 2.2 4.0 2.2 1.4 2.2 -7.3 2.2 6.8 2.2 2.2 2.2 -6.4 2.2 -3.7 2.2 1.7 2.2 -3.3 2.2 1.3 2.2 1.3 2.2 8.4 2.2 0.6 2.2 -9.3 2.2 4.2 2.2 -3.5 2.2 3.5 2.2 5.1 2.2 1.6 2.2 -4.2 2.2 4.2 2.2 -2.7 2.2 0.1 2.2 2.1 2.2 -0.7 2.2 1.2 2 -6.4 0.2 -2.4 2.2 -1.5 2.2 3.2 2.2 -0.6 2.2 0.3 2.2 5.0 2.2 -4.1 2.2 -2.4 2.2 -0.3 2.2 0.5 2.2 5.0 2.2 0.0 2.2 -7.8 2.2 -0.6 2.2 -5.1 2.2 7.7 2.2 3.2 2.2 -9.1 2.2 4.3 2.2 -0.5 2.2 -0.1 2.2 -0.6 2.2 4.0 1.4 4.3 0.8 -2.2 2.2 5.0 2.2 1.6 2.2 -1.4 2.2 3.4 2.2 3.2 2.2 -9.8 2.2 1.0 2.2 1.6 2.2 1.3 2.2 4.3 2.2 -6.3" stroke="#e5322b" stroke-width="2.8" fill="none" stroke-linejoin="round"/>
<circle cx="185" cy="1630.6" r="4.5" fill="#f9b43a"/>
<circle cx="281" cy="1630.6" r="4.5" fill="#f9b43a"/>
<circle cx="311" cy="1630.6" r="4.5" fill="#f9b43a"/>
<circle cx="372" cy="1630.6" r="4.5" fill="#f9b43a"/>
<circle cx="437" cy="1630.6" r="4.5" fill="#f9b43a"/>
<circle cx="487" cy="1630.6" r="4.5" fill="#f9b43a"/>
<text x="758.0" y="1491.0" font-size="15" fill="#222" text-anchor="middle" font-weight="bold">布伦特价格与月差</text>
<path d="M627.0 1511.2h16" stroke="#e0352b" stroke-width="1.6"/>
<circle cx="635.0" cy="1511.2" r="4.6" fill="#e0352b"/>
<text x="648.5" y="1515.8" font-size="12" fill="#595959" textLength="63.6" lengthAdjust="spacingAndGlyphs">布伦特近1月</text>
<path d="M724.5 1511.2h16" stroke="#3cbde6" stroke-width="1.6"/>
<circle cx="732.5" cy="1511.2" r="4.6" fill="#3cbde6"/>
<text x="746.0" y="1515.8" font-size="12" fill="#595959" textLength="145" lengthAdjust="spacingAndGlyphs">BRENT 半年期月差（右轴)</text>
<path d="M627.0 1533.6h16" stroke="#a987d6" stroke-width="1.6"/>
<circle cx="635.0" cy="1533.6" r="4.6" fill="#a987d6"/>
<text x="648.5" y="1538.2" font-size="12" fill="#595959" textLength="139" lengthAdjust="spacingAndGlyphs">BRENT 一年期月差（右轴)</text>
<text x="593.6" y="1541.8" font-size="13" fill="#5e5e5e" text-anchor="end">140</text>
<text x="593.6" y="1569.4" font-size="13" fill="#5e5e5e" text-anchor="end">120</text>
<text x="593.6" y="1597.0" font-size="13" fill="#5e5e5e" text-anchor="end">100</text>
<text x="593.6" y="1624.6" font-size="13" fill="#5e5e5e" text-anchor="end">80</text>
<text x="593.6" y="1652.2" font-size="13" fill="#5e5e5e" text-anchor="end">60</text>
<text x="593.6" y="1679.8" font-size="13" fill="#5e5e5e" text-anchor="end">40</text>
<text x="593.6" y="1707.4" font-size="13" fill="#5e5e5e" text-anchor="end">20</text>
<path d="M600.6 1564.8H919.0 M600.6 1592.4H919.0 M600.6 1620.0H919.0 M600.6 1647.6H919.0 M600.6 1675.2H919.0" stroke="#cfcfcf" stroke-width="1" stroke-dasharray="2 1" fill="none"/>
<rect x="600.6" y="1537.2" width="318.4" height="165.6" fill="none" stroke="#d4d4d4" stroke-width="1" stroke-dasharray="2 1"/>
<text x="926.0" y="1541.8" font-size="13" fill="#5e5e5e">30</text>
<text x="926.0" y="1574.9" font-size="13" fill="#5e5e5e">20</text>
<text x="926.0" y="1608.0" font-size="13" fill="#5e5e5e">10</text>
<text x="926.0" y="1641.2" font-size="13" fill="#5e5e5e">0</text>
<text x="926.0" y="1674.3" font-size="13" fill="#5e5e5e">-10</text>
<text x="926.0" y="1707.4" font-size="13" fill="#5e5e5e">-20</text>
<text x="600.6" y="1720.0" font-size="13" fill="#5e5e5e" text-anchor="middle">2020-01-02</text>
<text x="683.8" y="1720.0" font-size="13" fill="#5e5e5e" text-anchor="middle">2021-07-23</text>
<text x="767.0" y="1720.0" font-size="13" fill="#5e5e5e" text-anchor="middle">2023-02-14</text>
<text x="852.5" y="1720.0" font-size="13" fill="#5e5e5e" text-anchor="middle">2024-09-20</text>
<path d="M600.7 1633.3l1.3 4.5 1.3 -0.8 1.3 2.3 0.7 1.4 0.6 5.9 1.3 5.9 1.3 11.4 0.9 2.7 0.4 5.3 1.3 6.1 1.3 6.3 0.7 -1.6 0.6 3.4 1.3 9.9 0.6 2.6 0.7 -2.7 1.3 -3.6 0.6 2.3 0.7 -1.0 1.3 -7.4 0.6 -9.2 0.7 0.8 1.3 1.2 1.3 -7.3 1.3 0.7 0.5 -0.5 0.8 -0.5 1.3 2.9 1.3 -2.9 1.3 -1.4 1.3 4.5 1.3 -0.2 1.3 1.1 1.3 -3.4 0.5 -1.6 0.8 0.2 1.3 -1.8 1.3 1.5 1.3 0.4 1.3 1.4 1.3 0.2 0.4 -1.8 0.9 2.2 1.3 -4.7 1.3 -2.3 1.3 -0.1 0.4 -2.3 0.9 1.2 1.3 -1.3 1.3 -4.4 1.3 -5.4 0.3 -1.2 1 -1.2 1.3 0.0 1.3 -3.0 1.3 -0.2 0.3 0.8 1 0.9 1.3 -6.8 1.3 -1.6 1.3 0.4 1.3 -2.1 1.3 -0.7 0.2 -1.1 1.1 -1.8 1.3 -2.2 1.3 1.7 1.3 -0.8 1.3 -4.4 1.3 -3.2 1.3 2.4 1.3 -5.7 0.1 -1.5 1.2 -3.3 1.3 2.2 1.3 -1.9 1.3 -0.2 1.3 -2.6 1.3 0.2 1.3 -1.3 1.3 -1.0 1.3 -1.9 1.3 -2.2 1.3 1.4 1.3 -3.3 1.3 1.2 1.3 -3.4 1.3 4.7 1.3 1.0 1.3 1.6 1.3 -0.2 1.3 1.2 1.2 -2.1 0.1 2.0 1.3 -4.4 1.3 -2.1 1.3 -4.3 1.2 -2.9 0.1 3.0 1.3 -4.3 1.3 -1.4 1.4 -1.7 1.3 -4.0 0.7 1.6 0.6 -5.5 1.3 -13.4 1.3 -5.7 1 -9.0 0.3 2.8 1.3 9.4 1 7.5 0.3 2.8 1.3 2.1 1.3 1.1 0.7 3.3 0.6 -5.5 1.3 -5.0 1.3 -7.6 1.3 -2.5 0.6 -4.3 0.7 2.8 1.3 4.4 1.3 6.3 0.8 0.1 0.5 2.4 1.3 3.2 1.3 3.6 1.3 3.8 0.8 1.8 0.5 0.3 1.3 2.5 1.3 0.2 1.3 4.6 0.8 3.0 0.5 -0.9 1.3 -2.9 1.3 1.4 1.3 -2.5 0.7 2.0 0.6 3.2 1.3 4.3 1.3 2.8 1.3 4.2 0.7 0.1 0.6 1.7 1.3 -8.3 1.3 -2.2 1.3 2.6 0.6 -2.1 0.7 2.4 1.3 0.2 1.3 -0.7 1.3 -0.9 0.6 0.6 0.7 1.4 1.3 4.2 1.3 2.9 1.3 1.0 0.5 0.0 0.8 1.2 1.3 -0.3 1.3 0.9 1.3 4.1 0.5 -1.0 0.8 -0.9 1.3 -2.1 1.3 -2.2 1.3 -0.5 0.5 5.2 0.8 -0.2 1.3 -5.1 1.3 -2.1 1.3 -0.2 1.3 2.2 1.3 -1.2 1.3 3.4 1.3 -3.5 0.4 3.0 0.9 -0.9 1.3 -0.7 1.3 0.8 1.3 -0.4 0.3 0.1 1 -5.9 1.3 -4.8 1.3 -3.7 1.3 0.6 0.3 -2.0 1 2.8 1.3 6.0 1.3 4.0 1.3 -2.5 0.2 3.1 1.1 2.6 1.3 4.2 1.3 5.2 1.3 0 0.2 2.4 1.1 -1.8 1.3 -0.7 1.3 -2.6 1.3 0.6 1.3 -3.9 1.3 -0.9 0.1 1.3 1.2 -4.4 1.3 -1.2 1.3 -4.7 1.3 0.6 1.3 -0.1 1.3 0.2 0.1 0.1 1.2 0.2 1.3 1.4 1.3 -3.1 1.3 1.5 1.3 0.1 1.3 1.4 1.3 2.2 1.3 4.6 1.3 1.3 1.3 1.7 1.3 2.6 1.3 -0.1 1.3 -0.2 1.2 0.5 0.1 0.9 1.3 2.1 1.3 3.6 1.3 -3.0 1.3 -1.7 1.3 -0.1 1.2 3.7 0.1 -1.4 1.3 0.5 1.3 0.4 1.4 1.3 1.3 -1.3 1.3 2.0 1 -1.7 0.3 -1.1 1.3 -2.2 1.3 1.4 1.3 -3.5 1.3 -2.3 1.3 -3.9 0.9 0.8 0.4 1.2 1.3 -0.3 1.3 2.5 1.3 2.2 1.3 -0.2 1.3 -0.2 0.9 -0.3 0.4 3.1 1.3 0 1.3 1.4 1.3 3.0 1.3 -1.5 1.3 1.5 0.8 1.6 0.5 0.1 1.3 4.2 1.3 -0.6 1.3 -3.7 0.8 6.3 0.5 0.3 1.3 0.1 1.3 -1.3 1.3 -0.1 1.3 3.8 1.3 -4.8 1.3 -2.6 1.3 1.9 0.7 3.7 0.6 0.1 1.3 -2.5 1.3 3.8 1.3 -1.2 1.3 0.2 1.3 -3.8 1.3 -0.3 1.3 -0.5 0.6 2.3 0.7 1.5 1.3 2.7 1.3 -1.8 1.3 -1.0 1.3 0.1 1.3 3.2 1.3 3.7 1.3 2.6L919.4 1702.8L600.7 1702.8Z" fill="#e8685a" stroke="#df3e30" stroke-width="1.2"/>
<path d="M600.6 1637.3H919.0" stroke="#555" stroke-width="1.3"/>
<path d="M683.8 1637.3v4 M767.0 1637.3v4 M852.5 1637.3v4" stroke="#555" stroke-width="1"/>
<path d="M600.7 1619.6l1.3 0.1 1.3 -0.5 1.3 1.6 0.7 1.6 0.6 3.6 1.3 4.9 1.3 8.3 1.3 6.5 0.7 2.0 0.6 6.6 1.3 11.2 1.3 11.2 0.9 7.7 0.4 -1.3 1.3 -4.7 1.3 -3.6 0.6 -4.2 0.7 -6.2 1.3 -5.0 1.3 -2.6 1.3 -5.8 0.6 -1.3 0.7 -1.6 1.3 -0.9 1.3 -2.7 1.3 -0.4 1.3 2.8 1.3 -0.5 0.5 -0.8 0.8 0.3 1.3 -1.1 1.3 0.1 1.3 1.4 1.3 -1.3 1.3 3.7 1.3 -4.7 1.3 1.6 0.4 0.4 0.9 -0.3 1.3 0.1 1.3 -2.0 1.3 0.2 0.4 -2.1 0.9 -1.4 1.3 -2.3 1.3 0.2 1.3 -1.2 1.3 0.6 1.3 -3.3 0.3 1.8 1 -3.2 1.3 -1.0 1.3 0.1 1.3 -2.0 1.3 -1.4 1.3 -2.5 0.2 1.2 1.1 0.1 1.3 4.1 1.3 1.0 1.3 -1.7 1.3 1.7 1.3 -2.3 1.3 -3.1 1.3 -0.5 0.2 -2.3 1.1 -1.7 1.3 -0.9 1.3 1.7 1.3 -1.2 1.3 -1.4 1.3 -0.9 1.3 2.4 1.3 -4.2 0.1 1.8 1.2 -2.8 1.3 1.4 1.3 -1.5 1.3 -0.3 1.3 -1.5 1.3 1.8 1.3 -3.3 1.3 0.8 1.3 -2.1 1.3 -2.7 1.3 0.2 1.2 2.6 0.1 0.0 1.3 -0.7 1.3 2.5 1.3 -0.6 1.3 1.3 1.3 1.9 1.2 -0.1 0.1 -2.2 1.3 -4.8 1.3 -5.5 1.3 -3.9 1.1 -3.8 0.2 -2.1 1.4 -4.8 1.3 0.0 1.3 -5.4 1 -7.1 0.3 -1.9 1.3 -6.4 1 -9.3 0.3 -0.9 1.3 6.9 1 4.6 0.3 3.3 1.3 13.2 0.9 12.8 0.4 -2.4 1.3 -11.2 1.3 -7.9 1.3 -7.5 0.9 -8.0 0.4 2.9 1.3 3.2 1.3 6.0 1.3 1.9 0.8 0.7 0.5 4.4 1.3 2.4 1.3 1.4 1.3 8.1 0.8 2.5 0.5 -1.0 1.3 -1.4 1.3 1.7 1.3 5.6 0.8 -1.3 0.5 1.9 1.3 1.1 1.3 3.9 1.3 1.0 0.7 1.6 0.6 3.2 1.3 4.5 1.3 4.4 1.3 -1.0 1.3 3.9 1.3 4.1 0.7 5.1 0.6 -1.6 1.3 -3.2 1.3 -2.6 1.3 -3.5 1.3 3.6 1.3 -2.4 0.6 -0.2 0.7 1.9 1.3 -1.8 1.3 0.5 1.3 -3.7 1.3 1.5 1.3 -0.5 1.3 -1.7 1.3 -1.0 0.5 -1.1 0.8 2.1 1.3 0.6 1.3 -0.5 1.3 0.3 1.3 -1.4 1.3 -2.0 1.3 -1.5 1.3 4.3 1.3 -1.5 1.3 0.5 1.3 -1.9 1.3 1.1 0.4 0.5 0.9 -0.2 1.3 -3.1 1.3 -3.8 1.3 1.3 1.3 -0.8 1.3 -3.1 1.3 -2.2 1.3 -2.0 0.3 2.4 1 2.3 1.3 0 1.3 2.7 1.3 7.5 1.3 0.5 1.3 3.7 0.2 0.8 1.1 1.2 1.3 -0.8 1.3 -0.7 1.3 -1.6 1.3 -1.7 1.3 -1.5 0.2 -1.0 1.1 -0.4 1.3 1.6 1.3 0.1 1.3 -3.3 1.3 -2.2 1.3 1.2 1.3 -0.9 1.3 -0.7 1.3 -0.1 1.3 2.3 0.1 -0.8 1.2 -2.3 1.3 4.1 1.3 -0.2 1.3 -0.8 1.3 -0.4 1.3 3.8 1.3 3.2 1.3 0.9 1.3 0.0 1.3 1.2 1.3 0.2 1.3 2.0 1.3 0.5 1.3 -0.9 1.3 -2.3 1.3 -0.5 1.3 2.9 1.2 -0.3 0.1 1.6 1.3 -0.7 1.3 -0.2 1.4 -0.2 1.3 -3.5 1.3 -3.5 1.3 0.2 1.3 -3.3 1.3 -1.9 1.3 -1.9 1.3 0.1 1.3 -1.1 0.9 2.4 0.4 1.6 1.3 -0.2 1.3 3.2 1.3 2.4 1.3 0.8 1.3 1.2 0.9 2.4 0.4 -0.6 1.3 2.9 1.3 -1.9 1.3 -1.1 1.3 0.4 1.3 2.8 0.8 -1.1 0.5 3.8 1.3 -5.4 1.3 1.6 1.3 -0.1 1.3 -6.0 1.3 -1.0 0.7 1.5 0.6 2.4 1.3 -2.1 1.3 2.4 1.3 1.3 1.3 2.5 1.3 -1.5 0.7 1.0 0.6 0.7 1.3 2.6 1.3 0.1 1.3 -1.1 1.3 2.8 1.3 0.2 1.3 1.0 1.3 2.7 0.6 -2.5 0.7 -2.1 1.3 0.2 1.3 2.0 1.3 -1.4 1.3 3.2 1.3 -0.4 1.3 3.4 1.3 0.2" stroke="#a987d6" stroke-width="2.6" fill="none" stroke-linejoin="round"/>
<path d="M600.7 1628.6l1.3 0.5 1.3 1.6 1.3 3.9 1.3 -0.2 1.3 -0.6 0.7 -1.1 0.6 4.9 1.3 8.8 1.3 12.6 1.3 10.8 0.7 3.9 0.6 -3.9 1.3 -4.7 1.3 -4.9 1.3 -4.9 0.6 -3.0 0.7 1.0 1.3 0.7 1.3 -3.4 1.3 -1.7 1.3 -1.9 1.3 0.1 0.5 -1.0 0.8 -0.1 1.3 1.2 1.3 -1.7 1.3 0.0 1.3 0.6 1.3 -1.0 1.3 1.3 1.3 -0.4 0.5 1.4 0.8 3.1 1.3 -0.2 1.3 -2.7 1.3 0.8 1.3 -2.6 1.3 -0.3 1.3 -3.5 1.3 -0.1 0.4 -2.3 0.9 1.9 1.3 0.6 1.3 -2.7 1.3 0.7 1.3 -0.2 1.3 -2.4 1.3 -0.9 1.3 1.0 1.3 0.3 1.3 -3.5 1.3 2.2 1.3 -2.0 0.2 -0.2 1.1 -2.4 1.3 0.9 1.3 1.5 1.3 0.7 1.3 -2.1 1.3 -2.7 1.3 -1.8 1.3 0.4 1.3 0.6 1.3 -0.5 1.3 -1.2 1.3 -1.0 0.1 -0.3 1.2 -1.0 1.3 1.1 1.3 0.9 1.3 -1.7 1.3 -2.1 1.3 -1.3 1.3 -0.3 1.3 -0.7 1.3 -0.2 1.3 1.2 1.3 0.0 1.3 -2.7 1.3 3.5 1.3 -0.3 1.3 -0.3 1.3 0.2 1.3 -0.8 1.3 -0.1 1.3 -0.4 1.3 1.1 1.3 -0.8 1.2 1.1 0.1 -1.1 1.3 -2.2 1.3 -5.0 1.3 -2.1 1.3 -4.2 1.4 -2.0 1.3 -3.6 1.3 -1.9 1 -1.8 0.3 -1.4 1.3 -6.6 1 -3.8 0.3 0.6 1.3 6.9 1.3 2.9 1.3 5.9 0.9 3.7 0.4 1.4 1.3 -3.3 1.3 -3.0 1.3 -6.2 0.9 -2.5 0.4 -1.7 1.3 4.6 1.3 -0.3 1.3 -1.0 1.3 4.4 1.3 1.7 0.8 1.2 0.5 0.2 1.3 2.1 1.3 0.6 1.3 1.0 1.3 3.8 1.3 -0.4 1.3 2.0 1.3 1.4 1.3 3.1 1.3 1.5 0.7 0.4 0.6 3.0 1.3 2.4 1.3 3.3 1.3 2.8 1.3 2.4 1.3 3.0 0.7 -1.3 0.6 2.9 1.3 -0.8 1.3 -1.2 1.3 2.0 1.3 -2.1 1.3 -0.7 1.3 -1.7 1.3 -0.8 1.3 0.3 1.3 -1.0 1.3 -2.5 1.3 -0.1 1.3 3.2 1.3 -2.0 0.5 -2.6 0.8 -1.7 1.3 2.0 1.3 -2.4 1.3 -0.1 1.3 0.7 1.3 -0.5 1.3 0.6 1.3 -0.6 1.3 0.2 1.3 -1.6 1.3 -1.7 1.3 1.1 1.3 -2.1 1.3 -0.4 1.3 0.5 1.3 -1.8 1.3 0.1 1.3 -0.9 1.3 -0.1 1.3 -1.6 0.3 0.0 1 2.7 1.3 3.4 1.3 2.1 1.3 3.0 1.3 1.2 1.3 6.4 0.2 -0.5 1.1 -1.2 1.3 -1.5 1.3 0.7 1.3 1.3 1.3 -3.7 1.3 -0.2 1.3 -1.0 1.3 -0.7 1.3 0.1 1.3 -0.7 1.3 -0.2 1.3 -0.4 1.3 -3.0 1.3 1.1 1.3 0.7 1.3 -1.4 0.1 -0.7 1.2 2.1 1.3 -0.5 1.3 0.8 1.3 0.3 1.3 0.2 1.3 1.4 1.3 -0.3 1.3 2.4 1.3 1.4 1.3 -1.7 1.3 -3.1 1.3 1.6 1.3 1.0 1.3 0.6 1.3 -1.2 1.3 -1.5 1.3 -0.9 1.3 2.1 1.3 -1.0 1.3 -0.2 1.4 -1.3 1.3 0.3 1.3 -1.8 1.3 0.4 1.3 -1.9 1.3 1.4 1.3 0.6 1.3 -1.4 1.3 -0.8 0.9 -0.4 0.4 1.6 1.3 -1.4 1.3 3.0 1.3 3.1 1.3 0 1.3 0 0.9 -1.0 0.4 2.6 1.3 -0.8 1.3 2.0 1.3 0.2 1.3 -0.3 1.3 1.8 1.3 -1.2 1.3 0.3 1.3 -0.9 1.3 -0.7 1.3 -1.7 1.3 2.0 1.3 1.0 1.3 -0.3 1.3 -1.3 1.3 1.1 1.3 1.0 1.3 1.3 1.3 0.5 1.3 -3.4 1.3 0.9 1.3 -0.4 0.6 -0.2 0.7 -1.0 1.3 2.4 1.3 1.3 1.3 -1.7 1.3 -0.2 1.3 2.6 1.3 0.3 1.3 -0.5 1.3 2.8 1.3 -0.7 1.3 0.9 1.3 -1.4" stroke="#3cbde6" stroke-width="2.0" fill="none" stroke-linejoin="round"/>
<text x="325.0" y="1760.8" font-size="15" fill="#222" text-anchor="middle" font-weight="bold">西北欧炼油毛利</text>
<path d="M181.0 1781.0h16" stroke="#3cbde6" stroke-width="1.6"/>
<circle cx="189.0" cy="1781.0" r="4.6" fill="#3cbde6"/>
<text x="202.5" y="1785.6" font-size="12.4" fill="#595959">2016</text>
<path d="M240.8 1781.0h16" stroke="#a987d6" stroke-width="1.6"/>
<circle cx="248.8" cy="1781.0" r="4.6" fill="#a987d6"/>
<text x="262.3" y="1785.6" font-size="12.4" fill="#595959">2017</text>
<path d="M300.6 1781.0h16" stroke="#f4834f" stroke-width="1.6"/>
<circle cx="308.6" cy="1781.0" r="4.6" fill="#f4834f"/>
<text x="322.1" y="1785.6" font-size="12.4" fill="#595959">2018</text>
<path d="M360.4 1781.0h16" stroke="#5fae4a" stroke-width="1.6"/>
<circle cx="368.4" cy="1781.0" r="4.6" fill="#5fae4a"/>
<text x="381.9" y="1785.6" font-size="12.4" fill="#595959">2019</text>
<path d="M420.2 1781.0h16" stroke="#2f6fcf" stroke-width="1.6"/>
<circle cx="428.2" cy="1781.0" r="4.6" fill="#2f6fcf"/>
<text x="441.7" y="1785.6" font-size="12.4" fill="#595959">2020</text>
<path d="M181.0 1803.4h16" stroke="#f9b43a" stroke-width="1.6"/>
<circle cx="189.0" cy="1803.4" r="4.6" fill="#f9b43a"/>
<text x="202.5" y="1808.0" font-size="12.4" fill="#595959">2021</text>
<path d="M240.8 1803.4h16" stroke="#4f94d8" stroke-width="1.6"/>
<circle cx="248.8" cy="1803.4" r="4.6" fill="#4f94d8"/>
<text x="262.3" y="1808.0" font-size="12.4" fill="#595959">2022</text>
<path d="M300.6 1803.4h16" stroke="#dcd72e" stroke-width="1.6"/>
<circle cx="308.6" cy="1803.4" r="4.6" fill="#dcd72e"/>
<text x="322.1" y="1808.0" font-size="12.4" fill="#595959">2023</text>
<path d="M360.4 1803.4h16" stroke="#3b3b3b" stroke-width="1.6"/>
<circle cx="368.4" cy="1803.4" r="4.6" fill="#3b3b3b"/>
<text x="381.9" y="1808.0" font-size="12.4" fill="#595959">2024</text>
<path d="M420.2 1803.4h16" stroke="#e5322b" stroke-width="1.6"/>
<circle cx="428.2" cy="1803.4" r="4.6" fill="#e5322b"/>
<text x="441.7" y="1808.0" font-size="12.4" fill="#595959">2025</text>
<text x="156.3" y="1812.1" font-size="13" fill="#5e5e5e" text-anchor="end">60</text>
<text x="156.3" y="1835.6" font-size="13" fill="#5e5e5e" text-anchor="end">50</text>
<text x="156.3" y="1859.2" font-size="13" fill="#5e5e5e" text-anchor="end">40</text>
<text x="156.3" y="1882.7" font-size="13" fill="#5e5e5e" text-anchor="end">30</text>
<text x="156.3" y="1906.3" font-size="13" fill="#5e5e5e" text-anchor="end">20</text>
<text x="156.3" y="1929.8" font-size="13" fill="#5e5e5e" text-anchor="end">10</text>
<text x="156.3" y="1953.4" font-size="13" fill="#5e5e5e" text-anchor="end">0</text>
<text x="156.3" y="1976.9" font-size="13" fill="#5e5e5e" text-anchor="end">-10</text>
<path d="M163.3 1831.0H512.3 M163.3 1854.6H512.3 M163.3 1878.1H512.3 M163.3 1901.7H512.3 M163.3 1925.2H512.3 M163.3 1948.8H512.3" stroke="#cfcfcf" stroke-width="1" stroke-dasharray="2 1" fill="none"/>
<rect x="163.3" y="1807.5" width="349.0" height="164.8" fill="none" stroke="#d4d4d4" stroke-width="1" stroke-dasharray="2 1"/>
<text x="164.1" y="1989.8" font-size="13" fill="#5e5e5e" text-anchor="middle">1月</text>
<text x="193.7" y="1989.8" font-size="13" fill="#5e5e5e" text-anchor="middle">2月</text>
<text x="223.2" y="1989.8" font-size="13" fill="#5e5e5e" text-anchor="middle">3月</text>
<text x="252.8" y="1989.8" font-size="13" fill="#5e5e5e" text-anchor="middle">4月</text>
<text x="282.3" y="1989.8" font-size="13" fill="#5e5e5e" text-anchor="middle">5月</text>
<text x="311.9" y="1989.8" font-size="13" fill="#5e5e5e" text-anchor="middle">6月</text>
<text x="341.4" y="1989.8" font-size="13" fill="#5e5e5e" text-anchor="middle">7月</text>
<text x="371.0" y="1989.8" font-size="13" fill="#5e5e5e" text-anchor="middle">8月</text>
<text x="400.5" y="1989.8" font-size="13" fill="#5e5e5e" text-anchor="middle">9月</text>
<text x="430.1" y="1989.8" font-size="13" fill="#5e5e5e" text-anchor="middle">10月</text>
<text x="459.6" y="1989.8" font-size="13" fill="#5e5e5e" text-anchor="middle">11月</text>
<text x="489.2" y="1989.8" font-size="13" fill="#5e5e5e" text-anchor="middle">12月</text>
<path d="M163.3 1948.8H512.3" stroke="#555" stroke-width="1.3"/>
<path d="M164.1 1948.8v4 M193.7 1948.8v4 M223.2 1948.8v4 M252.8 1948.8v4 M282.3 1948.8v4 M311.9 1948.8v4 M341.4 1948.8v4 M371.0 1948.8v4 M400.5 1948.8v4 M430.1 1948.8v4 M459.6 1948.8v4 M489.2 1948.8v4" stroke="#555" stroke-width="1"/>
<path d="M164.1 1928.4l2.2 -0.3 2.2 2.8 2.2 -0.4 2.2 0.7 2.3 -2.5 2.2 -0.4 2.2 0.3 2.2 -1.0 2.2 2.1 2.2 1.2 2.2 0.8 2.2 2.7 2.3 0.2 2.2 -4.6 2.2 0.1 2.2 0.5 2.2 -3.2 2.2 0.3 2.2 5.4 2.2 -6.1 2.2 0 2.3 1.5 2.2 2.9 2.2 3.0 2.2 -0.4 2.2 -4.3 2.2 -2.1 2.2 -1.7 2.2 5.6 2.2 -0.3 2.3 -3.9 2.2 5.5 2.2 -0.1 2.2 2.3 2.2 -2.9 2.2 -3.2 2.2 2.1 2.2 -0.1 2.3 1.5 2.2 1.7 2.2 -3.2 2.2 1.3 2.2 -1.5 2.2 -2.8 2.2 3.8 2.2 1.4 2.2 1.1 2.3 -2.8 2.2 0.5 2.2 -0.1 2.2 -3.1 2.2 -1.4 2.2 4.2 2.2 1.0 2.2 -0.5 2.2 1.5 2.3 -0.9 2.2 -1.7 2.2 1.0 2.2 2.4 2.2 -0.4 2.2 1.0 2.2 0.4 2.2 1.8 2.3 -4.0 2.2 0.1 2.2 0.7 2.2 0.7 2.2 -3.1 2.2 2.3 2.2 -0.8 2.2 -2.2 2.2 -0.2 2.3 2.9 2.2 0.7 2.2 -2.9 2.2 0.4 2.2 3.6 2.2 -1.5 2.2 -0.5 0.4 -0.2 1.8 0.8 2.2 0.1 2.3 0 2.2 0 2.2 -0.1 2.2 -2.1 2.2 -0.6 2.2 2.6 2.2 -2.0 2.2 1.4 2.3 -2.5 2.2 1.1 2.2 0.3 2.2 3.1 2.2 0.1 2.2 0.4 2.2 -1.8 2.2 1.6 2.2 -1.7 2.3 2.4 2.2 -2.0 2.2 -2.5 2.2 1.5 2.2 0.8 2.2 0.7 2.2 1.1 2.2 0.5 2.2 -4.5 2.3 2.8 2.2 3.5 2.2 0.3 2.2 -4.0 2.2 -1.5 2.2 0.2 2.2 -0.3 2.2 0.0 2.3 -0.7 2.2 4.0 2.2 -0.5 2.2 4.4 2.2 -2.8 2.2 -0.1 2.2 -2.1 2.2 -0.8 2.2 -1.6 2.3 2.8 2.2 0.6 2.2 1.1 2.2 -2.8 2.2 -3.3 2.2 3.2 2.2 1.4 2.2 0.9 2.2 0.4 2.3 2.3 2.2 -0.6 2.2 -2.8 2.2 0.2 2.2 -1.2 2.2 2.4 2.2 -2.1 2.2 3.7 2.3 0.5 2.2 -0.1 2.2 -2.2 2.2 0.2 2.2 -1.4 2.2 1.2 2.2 -0.3 2.2 -0.7 2.2 0.9 2.3 1.2 2.2 2.0 2.2 -0.1 2.2 -0.4 2.2 2.7 2.2 -2.7" stroke="#3cbde6" stroke-width="1.8" fill="none" stroke-linejoin="round"/>
<path d="M164.1 1922.6l2.2 3.3 2.2 -2.3 2.2 0.9 2.2 0.6 2.3 2.8 2.2 -1.5 2.2 4.3 2.2 -2.5 2.2 3.2 2.2 -1.4 2.2 -1.2 2.2 -6.0 2.3 -0.2 2.2 2.2 2.2 -1.1 2.2 -1.6 2.2 -1.1 2.2 3.7 2.2 3.3 2.2 0.5 2.2 -6.0 2.3 2.0 2.2 3.4 2.2 -5.7 2.2 2.8 2.2 0.2 2.2 -0.3 2.2 3.4 2.2 -2.7 2.2 -1.1 2.3 5.1 2.2 0.2 2.2 1.5 2.2 -3.3 2.2 -1.5 2.2 0.1 2.2 -2.1 2.2 1.4 2.3 0.2 2.2 1.3 2.2 0 2.2 -2.0 2.2 4.0 2.2 -2.7 2.2 -0.1 2.2 2.2 2.2 -1.7 2.3 2.7 2.2 0.6 2.2 -2.6 2.2 -3.7 2.2 -0.8 2.2 0.3 2.2 2.1 2.2 -1.2 2.2 1.8 2.3 1.3 2.2 2.0 2.2 -5.9 2.2 -0.3 2.2 1.8 2.2 -0.9 2.2 0.6 2.2 -0.9 2.3 -0.2 2.2 -0.3 2.2 3.9 2.2 1.3 2.2 -2.6 2.2 -1.3 2.2 4.6 2.2 -4.0 2.2 -1.4 2.3 -2.2 2.2 3.7 2.2 -0.6 2.2 1.2 2.2 -1.4 2.2 1.6 2.2 0.0 0.4 0.3 1.8 -1.2 2.2 -1.5 2.3 2.2 2.2 -2.7 2.2 2.1 2.2 -2.8 2.2 3.9 2.2 0.0 2.2 0.6 2.2 -1.3 2.3 0.2 2.2 -3.2 2.2 2.2 2.2 -2.0 2.2 0.4 2.2 -2.0 2.2 -0.6 2.2 3.2 2.2 -2.3 2.3 0.7 2.2 0.5 2.2 -2.0 2.2 2.8 2.2 -1.5 2.2 -3.9 2.2 4.2 2.2 -2.1 2.2 0.3 2.3 -1.2 2.2 -0.4 2.2 2.4 2.2 0.2 2.2 -0.9 2.2 2.6 2.2 -3.0 2.2 0.7 2.3 -2.0 2.2 3.4 2.2 -1.8 2.2 0.7 0.6 0.4 1.6 2.4 2.2 -2.5 2.2 1.0 2.2 -0.7 2.2 -0.3 2.3 -0.1 2.2 -0.5 2.2 -0.1 2.2 1.3 2.2 -1.1 2.2 3.5 2.2 2.4 2.2 -1.4 2.2 -4.4 2.3 0.2 2.2 -3.9 2.2 1.5 2.2 2.2 2.2 1.9 2.2 0.2 2.2 1.7 2.2 -1.2 2.3 2.5 2.2 -7.4 2.2 -0.9 2.2 4.2 2.2 -1.5 2.2 2.3 2.2 -0.4 2.2 -1.4 2.2 -1.6 2.3 0.4 2.2 0.4 2.2 2.5 2.2 1.0 2.2 -0.9 2.2 -0.7" stroke="#a987d6" stroke-width="1.8" fill="none" stroke-linejoin="round"/>
<path d="M164.1 1923.2l2.2 -1.9 2.2 -2.7 2.2 0.3 2.2 1.3 2.3 1.0 2.2 -2.1 2.2 2.7 2.2 0.1 2.2 -2.2 2.2 2.0 2.2 -0.2 2.2 -0.1 2.3 -0.2 2.2 0.7 2.2 1.3 2.2 2.9 2.2 -2.3 2.2 -4.8 2.2 0.4 2.2 3.8 2.2 -0.8 2.3 1.5 2.2 -1.8 2.2 -0.6 2.2 -3.1 2.2 0.2 2.2 4.8 2.2 0.1 2.2 -0.7 2.2 0.8 2.3 -1.1 2.2 0.5 2.2 2.4 2.2 -1.5 2.2 5.7 2.2 -6.4 2.2 2.7 2.2 0.7 2.3 0.6 2.2 1.6 0.2 -1.6 2 1.7 2.2 -2.6 2.2 -0.7 2.2 -1.4 2.2 2.1 2.2 0.2 2.2 2.9 2.3 -2.9 2.2 3.1 2.2 -3.6 2.2 -0.2 2.2 1.5 2.2 -1.6 2.2 -0.6 2.2 -2.3 2.2 1.9 2.3 0.6 2.2 6.4 2.2 2.0 2.2 -1.9 2.2 3.0 2.2 -2.7 2.2 -3.9 2.2 -0.1 2.3 -3.2 2.2 -1.6 2.2 -0.3 2.2 3.5 2.2 -0.7 2.2 -1.0 2.2 -0.2 2.2 4.5 2.2 -5.0 2.3 2.8 2.2 -3.2 2.2 3.1 2.2 -1.2 2.2 0.5 2.2 -1.1 2.2 3.5 0.4 -3.9 1.8 2.1 2.2 -1.1 2.3 -2.0 2.2 2.2 2.2 5.5 2.2 0.1 2.2 -2.8 2.2 1.8 2.2 -2.7 2.2 0.0 2.3 0.9 2.2 -1.6 2.2 -2.6 2.2 0.6 2.2 -0.4 2.2 1.9 2.2 0.9 2.2 -2.0 2.2 -0.8 2.3 5.7 2.2 -2.2 2.2 -5.8 2.2 1.2 2.2 7.7 2.2 -0.9 2.2 -3.4 2.2 0.6 2.2 -1.0 2.3 -0.3 2.2 -3.4 2.2 2.9 2.2 -0.3 2.2 -2.9 2.2 1.7 2.2 2.4 2.2 -2.6 2.3 2.7 2.2 -0.1 2.2 4.1 2.2 -1.9 2.2 -1.8 2.2 4.5 2.2 -1.2 2.2 -2.7 2.2 7.0 2.3 0.7 2.2 -2.8 2.2 -5.7 2.2 -1.2 2.2 4.3 2.2 -4.2 2.2 1.3 2.2 -2.1 2.2 1.8 2.3 -2.3 2.2 0.3 2.2 2.6 2.2 2.1 2.2 2.0 2.2 -5.7 2.2 1.3 2.2 1.6 2.3 5.2 2.2 -1.7 2.2 -3.3 2.2 -2.5 2.2 -3.8 2.2 6.4 2.2 -2.1 2.2 0.3 2.2 3.2 2.3 -1.7 2.2 1.7 2.2 -4.3 2.2 3.1 2.2 0.2 2.2 -1.5" stroke="#f4834f" stroke-width="1.8" fill="none" stroke-linejoin="round"/>
<path d="M164.1 1940.4l2.2 -1.8 2.2 0.4 2.2 4.5 2.2 -2.9 2.3 -3.7 2.2 -3.6 2.2 0.2 2.2 -3.0 2.2 3.9 2.2 0.6 2.2 -2.1 2.2 -2.8 2.3 0.9 2.2 0.4 2.2 0.5 2.2 -1.2 2.2 3.1 2.2 3.6 2.2 -3.9 2.2 -0.9 2.2 -1.3 2.3 2.5 2.2 -0.9 2.2 -0.6 2.2 1.5 2.2 -3.8 2.2 -0.7 2.2 0.5 2.2 -2.5 2.2 1.8 2.3 -1.3 2.2 2.4 2.2 6.9 2.2 1.4 2.2 -3.2 2.2 3.2 2.2 -3.1 2.2 1.2 2.3 -4.8 2.2 1.5 0.2 -3.7 2 4.4 2.2 2.3 2.2 -3.8 2.2 2.6 2.2 0.9 2.2 -3.2 2.2 -0.4 2.3 3.0 2.2 1.8 2.2 -5.2 2.2 5.4 2.2 -2.4 2.2 -0.1 2.2 -3.3 2.2 2.9 2.2 4.1 2.3 2.6 2.2 -2.6 2.2 -3.6 2.2 -2.0 2.2 2.1 2.2 2.4 2.2 0.3 2.2 -0.9 2.3 -0.5 2.2 -0.4 2.2 -1.0 2.2 2.8 2.2 2.5 2.2 -2.3 2.2 -3.0 2.2 -1.6 2.2 0.3 2.3 -0.4 2.2 0.6 2.2 3.0 2.2 0.9 2.2 -4.2 2.2 6.1 2.2 -1.0 0.4 -1.1 1.8 -0.1 2.2 -2.0 2.3 -0.6 2.2 -1.2 2.2 1.6 2.2 -2.0 2.2 1.7 2.2 -1.6 2.2 2.0 2.2 -3.2 2.3 2.1 2.2 -1.7 2.2 2.9 2.2 -0.5 2.2 2.6 2.2 1.4 2.2 -0.3 2.2 -2.6 2.2 0.0 2.3 -1.1 2.2 3.3 2.2 -4.1 2.2 1.4 2.2 0.3 2.2 4.5 2.2 1.1 2.2 1.6 2.2 -4.2 2.3 0.4 2.2 -4.1 2.2 5.5 2.2 -3.8 2.2 -5.0 2.2 5.1 2.2 -0.1 2.2 0.3 2.3 -0.6 2.2 1.0 2.2 -1.7 2.2 -0.9 0.6 4.1 1.6 -3.8 2.2 0.6 2.2 -0.6 2.2 2.6 2.2 -0.4 2.3 -1.0 2.2 2.9 2.2 -1.4 2.2 0.3 2.2 -0.6 2.2 -1.3 2.2 -0.2 2.2 -5.4 2.2 5.7 2.3 -0.7 2.2 -1.3 2.2 4.6 2.2 -3.0 2.2 -0.4 2.2 -2.3 2.2 -0.7 2.2 1.3 2.3 -0.9 2.2 -3.8 2.2 0.6 2.2 6.7 2.2 -2.8 2.2 -4.5 2.2 -2.8 2.2 4.5 2.2 -3.6 2.3 0.6 2.2 2.1 2.2 -0.2 2.2 1.8 2.2 -0.3 2.2 1.1" stroke="#5fae4a" stroke-width="1.8" fill="none" stroke-linejoin="round"/>
<path d="M164.1 1948.1l2.2 1.0 2.2 0.1 2.2 -3.7 2.2 0.6 2.3 3.5 2.2 -3.0 2.2 2.6 2.2 -1.3 2.2 2.9 2.2 -0.8 2.2 -1.7 2.2 -0.6 2.3 -1.7 2.2 -1.7 2.2 1.3 2.2 -2.7 2.2 3.1 2.2 5.1 2.2 -4.9 2.2 -2.3 2.2 4.2 2.3 -2.9 2.2 -0.1 2.2 -0.6 2.2 2.0 2.2 -8.0 1.6 7.9 0.6 -0.8 2.2 -1.7 2.2 -1.5 2.2 0.1 2.3 0.7 2.2 5.7 2.2 1.6 2.2 -1.2 2.2 -2.1 2.2 -1.2 2.2 -1.6 2.2 4.6 2.3 0.4 2.2 -1.3 2.2 -0.8 2.2 4.2 2.2 -1.4 2.2 -6.0 2.2 0.7 2.2 1.8 2.2 1.2 2.3 -1.8 2.2 0.4 2.2 1.0 2.2 0.7 2.2 -3.2 2.2 1.1 1 0.8 1.2 -0.7 2.2 0.6 2.2 2.9 2.3 -1.2 2.2 -3.4 2.2 0 2.2 1.9 2.2 0 2.2 1.4 2.2 0.2 2.2 -3.0 2.3 -1.1 2.2 2.3 2.2 3.9 2.2 0.0 2.2 -0.7 2.2 -1.0 2.2 1.1 2.2 -1.0 2.2 1.8 2.3 -5.1 2.2 4.2 2.2 -0.3 2.2 -4.7 2.2 4.5 2.2 3.5 2.2 -5.7 0.4 4.7 1.8 -4.0 2.2 -1.8 2.3 1.2 2.2 0.8 2.2 0.3 2.2 2.1 2.2 -0.8 2.2 4.1 2.2 -3.1 2.2 0.3 2.3 0 2.2 -2.5 2.2 2.6 2.2 0.9 2.2 -2.8 2.2 2.9 2.2 -3.4 2.2 -2.8 2.2 -0.2 2.3 0.9 2.2 0.7 2.2 5.0 2.2 -1.7 2.2 -5.2 2.2 -0.1 2.2 -1.4 2.2 5.6 2.2 1.0 2.3 -1.2 2.2 4.2 2.2 0.6 2.2 -4.3 2.2 0.4 2.2 3.8 2.2 -0.4 2.2 1.7 2.3 2.4 2.2 -2.2 2.2 -0.5 2.2 -2.1 0.6 -1.1 1.6 -1.0 2.2 2.7 2.2 0.7 2.2 0.5 2.2 -1.1 2.3 -5.8 2.2 2.3 2.2 2.2 2.2 -2.8 2.2 2.1 2.2 -0.7 2.2 0.8 2.2 1.0 2.2 -3.0 2.3 1.3 2.2 -3.8 2.2 0.3 2.2 4.1 2.2 1.1 2.2 -3.5 2.2 0.3 2.2 -4.9 2.3 3.2 2.2 -0.9 2.2 0.5 2.2 -3.7 2.2 -1.7 2.2 0.2 2.2 0 2.2 2.0 2.2 1.6 2.3 -1.2 2.2 -0.7 2.2 2.7 2.2 -1.7 2.2 -1.5 2.2 0.5" stroke="#2f6fcf" stroke-width="1.8" fill="none" stroke-linejoin="round"/>
<path d="M164.1 1936.0l2.2 2.9 2.2 -2.9 2.2 -1.3 2.2 3.3 2.3 3.9 2.2 -3.1 2.2 -1.2 2.2 -2.9 2.2 0.9 2.2 0.9 2.2 -2.5 2.2 7.5 2.3 -1.0 0.8 3.7 1.4 -1.8 2.2 -0.7 2.2 6.1 2.2 -3.1 2.2 0.2 2.2 0.9 2.2 0.7 2.2 0.0 2.3 -3.4 2.2 5.0 2.2 -4.3 2.2 -0.5 2.2 2.9 2.2 -4.9 2.2 -1.3 2.2 1.1 2.2 0.1 2.3 0.5 2.2 -0.7 2.2 -2.1 2.2 2.4 2.2 4.1 2.2 1.5 2.2 -3.3 2.2 -0.7 2.3 0.6 2.2 -1.2 0.2 1.8 2 -0.7 2.2 1.2 2.2 -3.7 2.2 2.4 2.2 1.5 2.2 2.9 2.2 -3.4 2.3 -4.4 2.2 -1.2 2.2 3.4 2.2 2.6 2.2 0.1 2.2 -3.2 2.2 -9.3 2.2 7.9 2.2 2.3 2.3 -2.1 2.2 0.4 2.2 -0.3 2.2 -5.0 2.2 0.7 2.2 1.1 2.2 -2.4 2.2 1.0 2.3 8.4 2.2 -7.9 1.8 -0.9 0.4 5.4 2.2 -2.9 2.2 -3.5 2.2 2.6 2.2 2.0 2.2 2.0 2.2 0.3 2.3 -1.7 2.2 4.9 2.2 -1.9 2.2 -4.3 2.2 0 2.2 4.0 2.2 -4.1 2.2 -3.0 2.2 2.3 2.3 -1.0 2.2 3.5 2.2 -3.0 2.2 -3.1 2.2 -0.3 2.2 7.3 2.2 4.8 2.2 -0.8 2.3 -3.7 2.2 -3.5 2.2 -2.2 2.2 -5.6 2.2 2.4 2.2 0.1 2.2 4.1 2.2 -2.9 2.2 1.8 2.3 0.1 2.2 -4.1 2.2 4.7 2.2 -6.1 2.2 4.5 2.2 -0.3 2.2 1.0 2 0.3 0.2 -0.5 2.2 0.8 2.3 4.9 2.2 -3.5 2.2 -2.1 2.2 3.0 2.2 -1.2 2.2 0.2 2.2 -1.0 2.2 -3.6 2.3 1.3 2.2 -3.8 2.2 3.2 2.2 -1.1 2.2 3.6 2.2 0.4 2.2 1.6 2.2 -1.6 2.2 -7.2 2.3 4.1 2.2 5.0 2.2 -3.5 2.2 -7.3 2.2 -2.3 2.2 3.1 2.2 6.8 2.2 0.4 1.4 -0.1 0.8 -2.1 2.3 0.4 2.2 5.7 2.2 -7.9 2.2 -2.6 2.2 -4.3 2.2 -0.1 2.2 3.8 2.2 0.6 2.3 -3.1 2.2 3.6 2.2 2.0 2.2 -0.2 2.2 -6.2 2.2 1.6 2.2 -1.0 2.2 0.8 2.2 -1.2 2.3 0.0 2.2 -0.7 2.2 1.2 2.2 2.6 2.2 -3.9 2.2 -1.1" stroke="#f9b43a" stroke-width="1.8" fill="none" stroke-linejoin="round"/>
<path d="M164.1 1868.1l2.2 12.2 2.2 11.1 2.2 -0.4 2.2 -5.4 2.3 -1.9 2.2 -9.8 1.5 0 0.7 -1.7 2.2 -2.8 2.2 -0.5 2.2 -2.1 2.2 -0.5 2.2 -2.4 0.1 2.3 2.1 -0.4 2.3 1.3 2.2 3.2 2.2 8.3 0.1 -0.6 2.1 3.7 2.2 2.1 2.2 2.6 2.2 6.7 0.1 -5.3 2.1 -4.9 2.3 -0.9 2.2 -4.1 2.2 -2.6 0.1 3.7 2.1 1.7 2.2 6.0 2.2 0.7 2.2 -3.7 2.2 0.7 0.9 0.5 1.3 1.0 2.3 -4.9 2.2 1.2 2.2 2.9 2.2 -4.6 1.6 -2.0 0.6 -0.5 2.2 6.5 2.2 8.3 2.2 5.6 1.7 -0.8 0.5 -1.8 2.3 -2.4 2.2 -3.1 2.2 -6.9 2.2 -7.7 2.2 -2.4 0.2 -3.2 2 -2.7 2.2 -3.2 2.2 -4.3 2.3 -2.3 0.2 2.4 2 2.7 2.2 -0.1 2.2 -1.4 2.2 -1.0 2.2 -0.5 1 0.6 1.2 4.0 2.2 6.8 2.2 6.7 0.3 2.1 2 14.1 2.2 10.2 1.7 7.5 0.5 2.5 2.2 -2.1 2.2 2.4 2.2 -1.0 2.2 -4.8 2.2 4.7 2.2 -1.8 2.3 4.3 1.8 -2.8 0.4 0.1 2.2 -5.7 2.2 -0.2 2.2 0.7 2.2 -1.1 2.2 4.7 2.2 -1.0 2.2 5.6 2.3 -2.8 2.2 -0.6 2.2 1.0 2.2 4.2 2.2 -5.2 2.2 -3.1 0.4 2.2 1.8 -3.3 2.2 4.6 2.3 -4.2 2.2 0.8 2.2 -4.7 2.2 2.2 2.2 -1.2 2.2 -1.2 2.2 -0.3 2.2 3.0 1.9 1.1 0.3 0.2 2.3 -7.1 2.2 -4.1 2.2 -9.4 2.2 2.4 2.2 -6.3 2.2 -4.6 1.2 -5.3 1 1.6 2.2 3.3 2.2 -0.8 2.3 -3.5 2.2 -0.1 2.2 -6.0 2.2 4.6 2.2 -2.4 2.2 -1.3 2 -0.6 0.2 0.0 2.2 -1.7 2.3 5.6 2.2 3.6 2.2 0.1 2.2 2.9 2.2 1.1 1.3 -3.9 0.9 -2.0 2.2 5.0 2.2 2.1 2.2 4.5 2.3 1.4 2.2 -0.1 2.2 6.6 0.6 -0.8 1.6 4.3 2.2 0.2 2.2 -2.4 2.2 4.0 2.2 5.6 2.2 -0.2 2.1 6.1 0.2 -1.3 2.2 -2.3 2.2 -2.6 2.2 -1.5 2.2 -2.2 2.2 4.9 2.2 -7.8 1.4 5.0 0.8 -2.8 2.3 6.4 2.2 -4.9 2.2 1.7 2.2 -2.7 2.2 6.8 2.2 5.9 0.7 1.0 1.5 1.3 2.2 -0.2 2.2 -2.4 2.3 -1.0 2.2 0.5 2.2 -3.5 2.2 -1.2 2.2 2.4 2.2 1.2 2.2 -1.3 2.2 3.1 2.2 0.4 0.8 3.5 1.5 -1.1 2.2 0.9 2.2 3.3" stroke="#dcd72e" stroke-width="1.8" fill="none" stroke-linejoin="round"/>
<path d="M164.1 1926.1l2.2 -0.4 2.2 0.7 2.2 -1.4 2.2 2.4 2.3 1.7 2.2 -2.4 2.2 4.9 2.2 -0.1 2.2 2.0 2.2 -0.4 2.2 3.3 2.2 -3.3 2.2 -5.6 0.9 7.0 1.4 -3.9 2.2 1.5 2.2 -0.9 2.2 -0.9 2.2 2.4 2.2 -1.1 2.2 2.2 2.2 -7.4 2.3 2.5 2.2 -0.1 2.2 3.1 0.1 -0.7 2.1 -2.4 2.2 -0.4 2.2 -1.5 2.2 -0.4 0.2 -7.2 2 -83.6 0.6 -24.6 1.6 63.8 1.7 65.1 0.6 -0.3 2.2 -28.7 2.2 -8.4 2.2 -15.7 2.2 -15.1 1.5 -7.9 0.7 5.8 2.2 4.7 2.2 8.8 2.2 12.7 1 7.8 1.3 -6.0 2.2 -11.1 2.2 -5.5 2.2 -14.9 2.2 -8.4 1.1 -2.3 1.1 4.7 2.2 12.2 1.7 9.9 0.5 2.2 2.3 -9.9 2.2 -0.1 2.2 -5.4 2.2 -10.2 2.2 -11.5 0.2 3.3 2 5.4 2.2 6.5 2.2 2.4 2.2 4.7 0.3 -0.5 2 -5.7 2.2 -0.5 2.2 -1.2 2.2 -4.3 2.2 -4.3 0.1 7.6 2.1 -4.8 2.2 -6.5 2.2 -6.6 2.2 -2.4 2.3 -4.5 0.3 1.4 1.9 -6.1 2.2 -8.6 2.2 -2.2 2.2 -1.9 2.2 2.6 2.2 -0.9 2.2 8.2 1.7 -2.6 0.5 1.0 2.3 -5.4 2.2 2.6 2.2 -2.5 1.1 -4.9 1.1 0.7 2.2 5.4 2.2 9.7 2.2 4.8 1.2 -0.9 1 3.1 2.3 10.8 2.2 -4.2 2.2 2.2 0.5 2.9 1.7 0.4 2.2 3.5 2.2 4.1 2.2 -1.8 0.3 4.3 1.9 -8.8 2.2 1.0 2.3 -2.1 2.2 0.6 2.2 -0.6 0.4 1.2 1.8 1.7 2.2 9.1 2.2 -0.7 2.2 -1.9 2.2 2.2 0.7 -0.4 1.5 0.7 2.3 -6.0 2.2 -4.9 2.2 -5.1 2.2 -0.9 0.5 2.6 1.7 -1.6 2.2 -2.0 2.2 5.3 2.2 -1.6 2.3 5.8 0.9 0.9 1.3 -4.3 2.2 -1.6 2.2 0.4 2.2 -2.6 2.2 -4.7 1.1 0.5 1.1 0.4 2.2 5.2 2.2 3.2 2.3 4.5 2.2 6.1 1.3 -7.9 0.9 -0.9 2.2 2.2 2.2 -1.0 2.2 -7.7 2.2 -1.1 1.5 -11.2 0.7 5.6 2.2 -2.3 2.3 2.3 2.2 -2.8 0.6 1.0 1.6 11.3 2.2 8.6 2.2 10.4 2.2 12.5 0.6 -6.2 1.6 -0.9 2.2 2.3 2.3 -2.4 2.2 4.3 2.2 -6.7 1.4 0.3 0.8 -0.2 2.2 -2.8 2.2 -6.6 2.2 2.4 2.2 -7.0 1.3 0.1 0.9 3.1 2.3 12.3 2.2 6.3 2.2 2.8 2.2 5.9 1.4 4.0 0.8 -3.7 2.2 -6.1 2.2 -3.1 2.2 -3.5 0.9 -9.6 1.3 -0.4 2.3 3.4 2.2 -1.1 2.2 -4.6" stroke="#4f94d8" stroke-width="2.0" fill="none" stroke-linejoin="round"/>
<path d="M164.1 1915.5l2.2 3.2 2.2 -5.9 2.2 1.8 2.2 -2.6 2.3 0.7 2.2 0.7 1.5 -6.1 0.7 1.8 2.2 -3.3 2.2 0.3 2.2 0.6 2.2 -2.2 2.2 -2.0 2.2 -2.1 0.9 1.9 1.4 -4.0 2.2 -4.8 2.2 -3.1 2.2 -2.4 0.8 2.4 1.4 0.3 2.2 1.9 2.2 3.3 2.2 0.9 0.9 5.0 1.4 -2.0 2.2 0.2 2.2 1.8 2.2 3.4 2.2 -4.8 1.6 -0.1 0.6 -3.6 2.2 1.6 2.2 -0.5 2.2 1.7 2.3 0.3 2.2 1.5 2.2 -2.1 0.9 0.1 1.3 1.4 2.2 -2.2 2.2 2.0 2.2 1.7 2.2 -2.9 2.2 -3.6 2.3 -2.0 0.2 0.4 2 1.2 2.2 0.1 2.2 7.6 2.2 3.7 0.2 -4.9 2 -3.1 2.2 3.1 2.2 8.7 2.3 0.0 2.2 1.2 0.9 -1.1 1.3 0.6 2.2 5.2 2.2 1.4 2.2 -4.7 1 4.9 1.2 1.3 2.2 -6.4 2.2 0.4 2.3 -1.0 2.2 2.6 2.2 -1.0 2.2 -1.0 0.3 -2.3 1.9 2.5 2.2 -1.6 2.2 3.8 2.2 1.1 2.2 -1.3 2.3 4.8 1.8 -2.4 0.4 0.6 2.2 -0.1 2.2 -1.5 2.2 -0.6 2.2 -3.4 2.2 -0.5 2.2 -2.1 1.1 -2.7 1.1 2.3 2.3 2.9 2.2 0.2 2.2 -0.6 2.2 3.1 2.2 -0.4 2.2 2.9 0.4 3.6 1.8 -5.7 2.2 2.0 2.3 0.4 2.2 2.3 2.2 -5.0 2.2 -0.5 1.9 -0.7 0.3 -1.7 2.2 1.2 2.2 4.1 2.2 0.9 2.2 -0.6 2.3 -1.0 2.2 4.4 1.2 2.1 1 -1.4 2.2 3.2 2.2 -2.0 2.2 0.1 2.2 2.1 2.2 1.4 2.2 -3.1 0.5 0.4 1.8 4.8 2.2 3.7 2.2 -4.4 2.2 2.9 2.2 -2.7 2.2 -0.6 2 2.3 0.2 -1.3 2.2 1.1 2.3 -0.9 2.2 -2.0 2.2 -1.9 2.2 -2.2 2.2 0.6 1.3 -2.9 0.9 -4.6 2.2 2.6 2.2 1.2 2.2 -1.6 2.3 0.0 2.2 0.3 2.2 -0.5 0.6 0 1.6 2.3 2.2 -1.8 2.2 0.9 2.2 5.5 2.2 0.4 2.2 -1.6 2.1 0.6 0.2 3.4 2.2 -3.2 2.2 -0.7 2.2 -2.4 2.2 0.0 2.2 -2.6 2.2 -1.9 1.4 2.1 0.8 -0.5 2.3 -2.2 2.2 1.3 2.2 6.5 2.2 -1.2 2.2 3.3 2.2 1.5 0.7 -3.0 1.5 -0.1 2.2 -0.7 2.2 -1.4 2.3 -1.8 2.2 -1.4 2.2 -1.6 2.2 4.6 2.2 -1.2 2.2 -3.1 2.2 1.4 2.2 -4.4 2.2 2.1 2.3 1.1 2.2 3.0 2.2 -2.9" stroke="#3b3b3b" stroke-width="2.4" fill="none" stroke-linejoin="round"/>
<path d="M164.1 1915.8l2.2 -0.6 2.2 0.7 2.2 2.5 2.2 -1.9 0.1 1.3 2.2 -1.0 2.2 -2.3 2.2 2.9 2.2 3.6 2.2 1.1 2.2 -1.1 2.2 -0.6 2.2 0.8 2.2 0 0.9 -1.2 1.4 4.1 2.2 -1.0 2.2 -2.0 2.2 -1.2 2.2 -0.3 2.2 -0.6 2.2 2.4 0.1 -2.7 2.1 0.1 2.2 -3.2 2.3 0.3 2.2 0.0 2.2 -4.0 2.2 1.6 1.6 -1.0 0.6 1.6 2.2 -1.1 2.2 2.9 2.2 2.2 2.3 0.1 2.2 -0.4 2.2 2.4 0.9 0.7 1.3 -1.5 2.2 0 2.2 -3.4 2.2 -0.8 2.2 1.9 2.2 1.3 2.3 -0.5 0.2 1.9 2 0.5 2.2 -1.6 2.2 0.9 2.2 2.4 2.2 1.6 2.2 3.7 1.7 -2.5 0.5 0.8 2.2 3.5 2.3 1.1 2.2 1.2 1.7 2.3 0.5 -0.2 2.2 -2.2 2.2 -6.5 2.2 -4.2 1.8 -4.2 0.4 1.8 2.2 -3.3 2.2 -0.4 2.3 2.2 2.2 -1.4 2.2 -0.7 0.3 0.1 1.9 -2.3 2.2 -2.6 2.2 4.1 2.2 -1.3 2.2 1.2 2.2 0.7 1.9 -1.7 0.4 1.1 2.2 -3.3 2.2 -0.2 2.2 -0.2 2.2 -2.3 2.2 3.2 2.2 -3.1 1.1 -0.8 1.1 2.1 2.3 1.3 2.2 1.4 2.2 0.1 1.1 0.9 1.1 -3.1 2.2 1.4 2.2 1.1 2.2 -0.2 2.2 4.0 1.9 1.7 0.3 0.0 2.3 0.3 2.2 -0.3 2.2 -0.6 2.2 -3.6 2.2 -2.9 2.2 -0.2 1.2 3.5 1 1.2 2.2 0 2.2 -2.3 2.3 -2.0 1.2 3.9 1 1.4 2.2 0.5 2.2 1.1 2.2 4.8 2.2 -1.4 2.2 2.5 2.2 -1.6 0.5 -3.2 1.7 0.6 2.3 1.0 2.2 -1.7 2.2 -3.2 2.2 1.6 2.2 -5.5 2 -2.6 0.2 -1.0 2.2 3.7 2.2 0.1 2.2 -0.3 2.3 -2.3 2.2 -2.7 2.2 1.2 1.3 0.1 0.9 -2.0 2.2 5.7 2.2 2.7 2.2 3.6 2.2 -2.6 2.3 -0.6 2.2 2.4 0.6 3.0 1.6 0.3 2.2 -0.9 2.2 -2.6 2.2 -0.3 2.2 2.7 2.2 -5.6 2.1 -3.1 0.1 -2.3 2.3 -2.3 2.2 2.5 2.2 -0.6 2.2 -0.7 2.2 1.4 2.2 -4.0 1.4 -4.6 0.8 -3.2 2.2 1.1 2.2 -1.6 2.3 3.9 2.2 -3.2 2.2 -4.4 2.2 -2.2 0.7 -2.0 1.5 2.8 2.2 4.1 2.2 -0.3 2.2 4.0 2.2 -0.9 2.3 3.0 2.2 3.2 2.2 3.5 2.2 -1.7 2.2 4.7 2.2 1.5" stroke="#e5322b" stroke-width="2.8" fill="none" stroke-linejoin="round"/>
<text x="417.5" y="1963.5" font-size="13.5" fill="#b4b4b4" text-anchor="middle" textLength="178" lengthAdjust="spacingAndGlyphs">数据来源：路透，永安源点整理</text>
<text x="758.5" y="1760.8" font-size="15" fill="#222" text-anchor="middle" font-weight="bold">地中海炼油毛利</text>
<path d="M614.0 1781.0h16" stroke="#3cbde6" stroke-width="1.6"/>
<circle cx="622.0" cy="1781.0" r="4.6" fill="#3cbde6"/>
<text x="635.5" y="1785.6" font-size="12.4" fill="#595959">2016</text>
<path d="M673.8 1781.0h16" stroke="#a987d6" stroke-width="1.6"/>
<circle cx="681.8" cy="1781.0" r="4.6" fill="#a987d6"/>
<text x="695.3" y="1785.6" font-size="12.4" fill="#595959">2017</text>
<path d="M733.6 1781.0h16" stroke="#f4834f" stroke-width="1.6"/>
<circle cx="741.6" cy="1781.0" r="4.6" fill="#f4834f"/>
<text x="755.1" y="1785.6" font-size="12.4" fill="#595959">2018</text>
<path d="M793.4 1781.0h16" stroke="#5fae4a" stroke-width="1.6"/>
<circle cx="801.4" cy="1781.0" r="4.6" fill="#5fae4a"/>
<text x="814.9" y="1785.6" font-size="12.4" fill="#595959">2019</text>
<path d="M853.2 1781.0h16" stroke="#2f6fcf" stroke-width="1.6"/>
<circle cx="861.2" cy="1781.0" r="4.6" fill="#2f6fcf"/>
<text x="874.7" y="1785.6" font-size="12.4" fill="#595959">2020</text>
<path d="M614.0 1803.4h16" stroke="#f9b43a" stroke-width="1.6"/>
<circle cx="622.0" cy="1803.4" r="4.6" fill="#f9b43a"/>
<text x="635.5" y="1808.0" font-size="12.4" fill="#595959">2021</text>
<path d="M673.8 1803.4h16" stroke="#4f94d8" stroke-width="1.6"/>
<circle cx="681.8" cy="1803.4" r="4.6" fill="#4f94d8"/>
<text x="695.3" y="1808.0" font-size="12.4" fill="#595959">2022</text>
<path d="M733.6 1803.4h16" stroke="#dcd72e" stroke-width="1.6"/>
<circle cx="741.6" cy="1803.4" r="4.6" fill="#dcd72e"/>
<text x="755.1" y="1808.0" font-size="12.4" fill="#595959">2023</text>
<path d="M793.4 1803.4h16" stroke="#3b3b3b" stroke-width="1.6"/>
<circle cx="801.4" cy="1803.4" r="4.6" fill="#3b3b3b"/>
<text x="814.9" y="1808.0" font-size="12.4" fill="#595959">2024</text>
<path d="M853.2 1803.4h16" stroke="#e5322b" stroke-width="1.6"/>
<circle cx="861.2" cy="1803.4" r="4.6" fill="#e5322b"/>
<text x="874.7" y="1808.0" font-size="12.4" fill="#595959">2025</text>
<text x="590.5" y="1812.1" font-size="13" fill="#5e5e5e" text-anchor="end">60</text>
<text x="590.5" y="1832.7" font-size="13" fill="#5e5e5e" text-anchor="end">50</text>
<text x="590.5" y="1853.3" font-size="13" fill="#5e5e5e" text-anchor="end">40</text>
<text x="590.5" y="1873.9" font-size="13" fill="#5e5e5e" text-anchor="end">30</text>
<text x="590.5" y="1894.5" font-size="13" fill="#5e5e5e" text-anchor="end">20</text>
<text x="590.5" y="1915.1" font-size="13" fill="#5e5e5e" text-anchor="end">10</text>
<text x="590.5" y="1935.7" font-size="13" fill="#5e5e5e" text-anchor="end">0</text>
<text x="590.5" y="1956.3" font-size="13" fill="#5e5e5e" text-anchor="end">-10</text>
<text x="590.5" y="1976.9" font-size="13" fill="#5e5e5e" text-anchor="end">-20</text>
<path d="M597.5 1828.1H946.6 M597.5 1848.7H946.6 M597.5 1869.3H946.6 M597.5 1889.9H946.6 M597.5 1910.5H946.6 M597.5 1931.1H946.6 M597.5 1951.7H946.6" stroke="#cfcfcf" stroke-width="1" stroke-dasharray="2 1" fill="none"/>
<rect x="597.5" y="1807.5" width="349.1" height="164.8" fill="none" stroke="#d4d4d4" stroke-width="1" stroke-dasharray="2 1"/>
<text x="598.3" y="1989.8" font-size="13" fill="#5e5e5e" text-anchor="middle">1月</text>
<text x="627.6" y="1989.8" font-size="13" fill="#5e5e5e" text-anchor="middle">2月</text>
<text x="656.9" y="1989.8" font-size="13" fill="#5e5e5e" text-anchor="middle">3月</text>
<text x="686.2" y="1989.8" font-size="13" fill="#5e5e5e" text-anchor="middle">4月</text>
<text x="715.5" y="1989.8" font-size="13" fill="#5e5e5e" text-anchor="middle">5月</text>
<text x="744.8" y="1989.8" font-size="13" fill="#5e5e5e" text-anchor="middle">6月</text>
<text x="774.1" y="1989.8" font-size="13" fill="#5e5e5e" text-anchor="middle">7月</text>
<text x="803.4" y="1989.8" font-size="13" fill="#5e5e5e" text-anchor="middle">8月</text>
<text x="832.7" y="1989.8" font-size="13" fill="#5e5e5e" text-anchor="middle">9月</text>
<text x="862.0" y="1989.8" font-size="13" fill="#5e5e5e" text-anchor="middle">10月</text>
<text x="891.3" y="1989.8" font-size="13" fill="#5e5e5e" text-anchor="middle">11月</text>
<text x="920.6" y="1989.8" font-size="13" fill="#5e5e5e" text-anchor="middle">12月</text>
<path d="M597.5 1931.1H946.6" stroke="#555" stroke-width="1.3"/>
<path d="M598.3 1931.1v4 M627.6 1931.1v4 M656.9 1931.1v4 M686.2 1931.1v4 M715.5 1931.1v4 M744.8 1931.1v4 M774.1 1931.1v4 M803.4 1931.1v4 M832.7 1931.1v4 M862.0 1931.1v4 M891.3 1931.1v4 M920.6 1931.1v4" stroke="#555" stroke-width="1"/>
<path d="M598.3 1918.3l2.2 1.5 2.2 0.4 2.2 -2.8 2.2 1.1 2.2 -1.7 2.2 4.3 2.2 -2.4 2.3 -3.9 2.2 0.9 2.2 1.4 2.2 2.2 2.2 3.5 2.2 -4.3 2.2 1.1 2.2 -2.9 2.2 2.6 2.2 0.4 2.2 -0.1 2.2 -0.3 2.2 -0.4 2.2 1.5 2.3 0.7 2.2 -1.3 2.2 1.2 2.2 0.2 2.2 1.3 2.2 -2.6 2.2 1.9 2.2 -3.4 2.2 4.6 2.2 -6.1 2.2 1.0 2.2 0.4 2.2 3.9 2.2 0.9 2.2 -7.6 2.3 0.3 2.2 -2.2 2.2 -0.8 2.2 0.5 2.2 5.5 2.2 3.1 2.2 -3.8 2.2 -0.3 2.2 1.8 2.2 -0.7 2.2 -1.9 2.2 1.1 2.2 3.9 2.2 1.5 2.3 -4.0 2.2 1.5 2.2 1.6 2.2 -1.9 2.2 -2.5 2.2 1.2 2.2 1.5 2.2 -3.3 2.2 -1.1 2.2 4.8 2.2 1.1 2.2 -1.2 2.2 1.5 2.2 1.8 2.2 -2.9 2.3 0.9 2.2 0.4 2.2 -3.5 2.2 1.7 2.2 -0.6 2.2 -3.0 2.2 0.5 2.2 3.9 2.2 -2.1 2.2 0.1 2.2 -1.6 2.2 1.9 2.2 2.5 2.2 -3.7 1.5 0.3 0.8 2.8 2.2 -0.8 2.2 -1.9 2.2 3.8 2.2 -0.6 2.2 2.2 2.2 -1.2 2.2 -0.8 2.2 -0.4 2.2 -1.4 2.2 1.5 2.2 -0.7 2.2 2.6 2.2 -1.4 2.2 -2.2 2.3 0.8 2.2 -2.9 2.2 -1.4 2.2 0.5 2.2 2.6 2.2 -1.8 2.2 3.5 2.2 0.3 2.2 4.2 2.2 -0.1 2.2 -5.1 2.2 -0.3 2.2 -1.4 2.2 -0.8 2.3 -0.4 2.2 0.4 2.2 1.4 2.2 2.0 2.2 -1.4 2.2 -1.5 2.2 -2.8 2.2 1.1 2.2 0.7 2.2 1.7 2.2 0.5 2.2 2.5 2.2 2.5 2.2 -5.5 2.2 3.4 2.3 -0.3 2.2 -0.7 2.2 -3.3 2.2 1.6 2.2 -0.4 2.2 -0.4 2.2 -1.6 2.2 4.4 2.2 0.8 2.2 0.1 2.2 0.5 2.2 -1.4 2.2 1.2 2.2 -0.1 2.3 -1.7 2.2 0.5 2.2 -4.8 2.2 2.0 2.2 -0.8 2.2 -0.4 2.2 1.6 2.2 3.3 2.2 2.2 2.2 -3.7 2.2 -3.3 2.2 0.4 2.2 3.6 2.2 -3.1 2.2 1.9 2.3 3.4 2.2 -2.8 2.2 -0.3 2.2 -0.9" stroke="#3cbde6" stroke-width="1.8" fill="none" stroke-linejoin="round"/>
<path d="M598.3 1912.5l2.2 1.2 2.2 2.2 2.2 -3.5 2.2 1.9 2.2 -1.4 2.2 2.4 2.2 -0.3 2.3 1.0 2.2 -3.0 2.2 3.2 2.2 4.2 2.2 -2.6 2.2 -1.6 2.2 0.0 2.2 -3.0 2.2 1.2 2.2 0.9 2.2 -2.3 2.2 -2.6 2.2 4.5 2.2 0.1 2.3 0.3 2.2 -0.2 2.2 -0.5 2.2 1.0 2.2 -0.4 2.2 0.8 2.2 -1.3 2.2 1.7 2.2 0.1 2.2 4.5 2.2 0.7 2.2 -3.1 2.2 0.3 2.2 -3.1 2.2 1.2 2.3 -0.9 2.2 0.9 2.2 2.4 1.8 -2.8 0.4 0.8 2.2 3.5 2.2 -3.2 2.2 -0.7 2.2 2.2 2.2 -1.5 2.2 -2.9 2.2 3.5 2.2 0.5 2.2 2.6 2.2 -1.6 2.3 0.2 2.2 -1.3 2.2 -4.7 2.2 -0.3 2.2 1.7 2.2 1.6 2.2 -2.1 2.2 -0.1 2.2 -0.9 2.2 -1.7 2.2 0.5 2.2 4.1 2.2 1.3 2.2 -1.0 2.2 2.4 2.3 -0.4 2.2 0.8 2.2 1.6 2.2 -0.2 2.2 -4.1 2.2 -1.8 2.2 -1.9 2.2 2.0 2.2 0.5 2.2 3.1 2.2 -0.1 2.2 -0.2 2.2 -2.4 2.2 0.6 1.5 1.8 0.8 -0.7 2.2 -3.8 2.2 2.1 2.2 0.1 2.2 4.1 2.2 1.2 2.2 -2.0 2.2 -1.7 2.2 1.4 2.2 -6.8 2.2 3.4 2.2 -0.1 2.2 1.4 2.2 -1.0 2.2 0.9 2.3 -0.3 2.2 4.6 2.2 -1.1 2.2 -5.1 2.2 1.2 2.2 -1.2 2.2 2.9 2.2 -0.1 2.2 -2.0 2.2 0.5 2.2 0.1 2.2 0.4 2.2 -1.0 2.2 -1.0 2.3 0.2 2.2 1.3 2.2 -0.9 2.2 -1.6 2.2 3.6 2.2 -1.5 2.2 -0.8 2.2 2.4 2.2 3.5 2.2 -2.2 2.2 -1.2 2.2 -1.2 2.2 1.8 2.2 0.3 2.2 -0.9 2.3 0.2 2.2 -1.7 2.2 -0.3 2.2 1.7 2.2 3.6 2.2 -4.5 2.2 -0.9 2.2 1.7 2.2 -4.2 2.2 3.9 2.2 1.2 2.2 0.4 2.2 1.4 2.2 2.0 2.3 -1.0 2.2 0.2 2.2 0.3 2.2 -5.9 2.2 -4.6 2.2 6.4 2.2 5.0 2.2 -3.2 2.2 -1.1 2.2 1.0 2.2 -1.0 2.2 -2.0 2.2 2.6 2.2 -0.8 2.2 0.6 2.3 -3.4 2.2 5.0 2.2 -3.0 2.2 -0.6" stroke="#f4834f" stroke-width="1.8" fill="none" stroke-linejoin="round"/>
<path d="M598.3 1923.2l2.2 -0.9 2.2 -0.9 2.2 -0.7 2.2 -0.7 2.2 1.0 2.2 -1.3 2.2 3.5 2.3 0.7 2.2 -1.3 2.2 0.7 2.2 -2.6 2.2 -1.6 2.2 2.7 2.2 1.1 2.2 -2.6 2.2 -1.9 2.2 3.0 2.2 1.5 2.2 -1.7 2.2 2.3 2.2 1.6 2.3 -0.7 2.2 1.7 2.2 -0.1 2.2 -1.4 2.2 -0.2 2.2 -2.6 2.2 0.7 2.2 3.9 2.2 -1.9 2.2 1.1 2.2 -2.2 2.2 -1.7 2.2 1.9 2.2 -1.4 2.2 -2.0 2.3 0.9 2.2 2.5 2.2 -0.6 1.8 -0.3 0.4 1.5 2.2 1.3 2.2 0 2.2 -0.6 2.2 -2.1 2.2 -0.9 2.2 4.6 2.2 1.6 2.2 -5.7 2.2 1.3 2.2 1.1 2.3 1.5 2.2 -0.1 2.2 0 2.2 -4.7 2.2 -1.1 2.2 -1.0 2.2 1.4 2.2 0.9 2.2 2.0 2.2 0.4 2.2 1.6 2.2 1.2 2.2 -4.1 2.2 -0.4 2.2 -2.4 2.3 2.6 2.2 -2.1 2.2 -0.3 2.2 -0.2 2.2 3.3 2.2 4.6 2.2 -2.2 2.2 -2.3 2.2 0.5 2.2 -0.5 2.2 -1.3 2.2 0.5 2.2 1.5 2.2 1.4 1.5 -0.9 0.8 -2.5 2.2 1.9 2.2 -2.4 2.2 -2.4 2.2 1.6 2.2 2.3 2.2 2.1 2.2 -2.2 2.2 1.6 2.2 -2.6 2.2 1.2 2.2 -0.3 2.2 2.1 2.2 2.7 2.2 0.4 2.3 -1.8 2.2 -4.6 2.2 2.0 2.2 -1.8 2.2 -1.0 2.2 1.4 2.2 0.7 2.2 -1.3 2.2 1.1 2.2 -0.4 2.2 0.2 2.2 1.0 2.2 1.9 2.2 1.8 2.3 -1.9 2.2 0.8 2.2 2.2 2.2 -0.1 2.2 -2.5 2.2 -0.6 2.2 0.9 2.2 -0.6 2.2 2.6 2.2 -6.5 2.2 5.2 1.1 -1.8 1.1 -1.4 2.2 -1.0 2.2 -0.3 2.2 2.2 2.3 1.6 2.2 -6.8 2.2 -2.6 2.2 0.3 2.2 3.4 2.2 4.0 2.2 -0.4 2.2 -1.7 2.2 3.3 2.2 -0.7 2.2 -1.5 2.2 -0.9 2.2 -0.5 2.2 -2.3 2.3 2.7 2.2 -1.0 2.2 4.0 2.2 -3.1 2.2 -0.2 2.2 -3.6 2.2 2.4 2.2 1.2 2.2 1.4 2.2 -1.1 2.2 2.4 2.2 -2.2 2.2 -1.2 2.2 -2.2 2.2 -1.4 2.3 1.9 2.2 -0.8 2.2 1.4 2.2 3.1" stroke="#5fae4a" stroke-width="1.8" fill="none" stroke-linejoin="round"/>
<path d="M598.3 1927.0l2.2 2.1 2.2 0.2 2.2 -5.3 2.2 5.4 2.2 -0.9 2.2 -6.5 2.2 4.1 2.3 4.2 2.2 -3.7 2.2 0.9 2.2 -3.8 2.2 0.1 2.2 4.7 2.2 3.5 2.2 -1.9 2.2 3.3 2.2 -5.0 2.2 1.6 2.2 1.1 2.2 -0.2 2.2 -5.9 2.3 -0.5 2.2 1.2 2.2 2.4 2.2 -0.9 2.2 3.4 1.2 -3.0 1 6.2 2.2 0.5 2.2 5.2 2.2 0.5 2.2 2.1 2.2 -2.2 2.2 2.8 2.2 4.8 1.2 -2.3 1 3.9 2.2 -5.4 2.3 -5.2 2.2 3.5 2.2 1.0 2.2 -0.5 2.2 -4.0 2.2 1.7 1.1 -2.7 1.1 -3.6 2.2 0.1 2.2 -3.0 2.2 2.2 2.2 -2.8 2.2 0.2 2.2 2.2 2.2 0.6 2.3 2.1 2.2 -0.6 2.2 0.9 0.2 -4.1 2 -0.7 2.2 -2.4 2.2 0.8 2.2 -1.0 2.2 -3.3 2.2 4.6 2.2 -0.2 2.2 -0.5 2.2 0.5 2.2 2.9 2.2 -1.3 2.2 0.7 2.3 -0.6 2.2 0.5 2.2 1.5 2.2 1.3 2.2 -1.2 2.2 -2.4 2.2 -1.5 2.2 0 2.2 2.5 2.2 1.1 2.2 -2.6 2.2 4.9 2.2 -1.3 2.2 4.7 1.5 -3.2 0.8 2.3 2.2 -2.1 2.2 1.8 2.2 -1.1 2.2 0.5 2.2 -3.3 2.2 -4.5 2.2 0.9 2.2 2.4 2.2 1.3 2.2 -0.2 2.2 -0.3 2.2 4.7 2.2 -4.3 2.2 -3.5 2.3 3.2 2.2 -1.3 2.2 2.4 2.2 -1.6 2.2 -0.9 2.2 4.3 2.2 0.8 2.2 -2.5 2.2 -2.1 2.2 2.8 2.2 -2.0 2.2 2.5 2.2 -0.2 2.2 -2.2 2.3 3.0 2.2 -1.6 2.2 3.2 2.2 -2.1 2.2 -1.6 2.2 1.3 2.2 0.5 2.2 0.1 2.2 -2.7 2.2 0 2.2 -1.3 1.1 1.6 1.1 3.9 2.2 -2.0 2.2 -3.5 2.2 -1.2 2.3 4.3 2.2 4.3 2.2 -4.5 2.2 -2.1 2.2 3.6 2.2 1.3 2.2 -1.8 2.2 -2.1 2.2 3.7 2.2 -1.9 2.2 -2.3 2.2 -1.4 2.2 -2.4 2.2 2.6 2.3 2.2 2.2 -3.6 2.2 0.7 2.2 1.6 2.2 -1.0 2.2 -0.4 2.2 -5.1 2.2 -1.2 2.2 5.8 2.2 2.3 2.2 -4.9 2.2 -1.8 2.2 -1.4 2.2 0.8 2.2 0.8 2.3 1.0 2.2 1.9 2.2 -3.1 2.2 -0.5" stroke="#2f6fcf" stroke-width="1.8" fill="none" stroke-linejoin="round"/>
<path d="M598.3 1922.8l2.2 0.3 2.2 0 2.2 -1.0 2.2 -2.2 2.2 -0.6 2.2 0.1 2.2 1.6 2.3 2.7 2.2 -3.5 2.2 -2.2 2.2 2.1 2.2 2.0 2.2 2.5 2.2 -1.5 2.2 -2.2 2.2 2.1 2.2 1.5 2.2 0.2 2.2 0.3 2.2 -1.7 2.2 0 2.3 -3.0 2.2 4.4 2.2 -2.9 2.2 -0.4 2.2 1.3 2.2 0.0 2.2 3.6 2.2 -2.3 2.2 -3.2 2.2 -1.0 2.2 1.9 2.2 -0.6 2.2 1.4 2.2 -4.3 2.2 1.1 2.3 5.2 2.2 -2.4 2.2 3.4 1.8 -1.4 0.4 0.8 2.2 0.4 2.2 -1.6 2.2 -0.6 2.2 1.3 2.2 -2.7 2.2 0.1 2.2 2.1 2.2 -0.5 2.2 -1.2 2.2 -0.2 2.3 0.9 2.2 -0.8 2.2 -6.4 2.2 2.2 2.2 2.9 2.2 -4.6 2.2 5.6 2.2 -1.7 2.2 -2.6 2.2 0.6 2.2 0.1 2.2 6.5 2.2 -5.8 2.2 1.4 2.2 0.3 2.3 0.6 2.2 -6.8 2.2 0.6 2.2 0.7 2.2 2.7 2.2 -4.9 2.2 6.5 2.2 0 2.2 2.0 2.2 -2.0 2.2 -2.1 2.2 -1.0 2.2 1.3 2.2 0.7 1.5 -1.0 0.8 2.0 2.2 1.1 2.2 -1.0 2.2 -4.9 2.2 3.8 2.2 -1.4 2.2 2.4 2.2 0.8 2.2 -1.5 2.2 -3.4 2.2 -0.3 2.2 -1.4 2.2 -3.5 2.2 2.5 2.2 -0.2 2.3 3.8 2.2 -6.2 2.2 3.8 2.2 3.1 2.2 -1.5 2.2 -1.8 2.2 1.9 2.2 2.0 2.2 0.6 2.2 -3.1 2.2 -1.0 2.2 -0.7 2.2 0.8 2.2 3.4 2.3 -3.3 2.2 2.3 2.2 -0.7 2.2 -1.8 2.2 -4.4 2.2 1.6 2.2 1.1 2.2 0.4 2.2 0.6 2.2 1.5 2.2 0.9 1.1 -2.3 1.1 -1.1 2.2 3.0 2.2 1.5 2.2 -1.3 2.3 -2.0 2.2 0.8 2.2 0.2 2.2 0.0 2.2 0.5 2.2 -0.1 2.2 -1.2 2.2 4.6 2.2 -3.5 2.2 0.3 2.2 0.8 2.2 3.9 2.2 2.9 2.2 -7.5 2.3 1.3 2.2 1.8 2.2 -1.5 2.2 -0.9 2.2 -1.8 2.2 -0.1 2.2 1.0 2.2 -4.2 2.2 6.7 0.1 -0.3 2.1 27.3 0.8 10.8 1.4 -15.7 1.6 -25.0 0.6 2.8 2.2 -3.1 2.2 -1.7 2.2 2.0 2.3 -1.0 2.2 0.5 2.2 -3.1 2.2 -2.7" stroke="#f9b43a" stroke-width="1.8" fill="none" stroke-linejoin="round"/>
<path d="M598.3 1941.3l2.2 -0.7 2.2 -2.0 2.2 -3.4 2.2 2.6 2.3 -1.7 2.2 0.7 1.3 0.1 0.9 -0.8 2.2 3.2 2.2 0.9 2.2 1.8 2.2 0.1 2.2 0.8 2.3 -1.4 0.5 0.7 1.7 0.6 2.2 1.7 2.2 0.6 2.2 -2.5 2.2 0.5 2.2 3.0 2.2 -1.8 2.2 0.5 2.3 2.5 2.2 -0.4 2.2 -0.9 2.2 -1.6 2.2 -0.4 1.1 3.1 1.1 -1.7 2.2 0.1 2.2 1.6 2.3 3.8 2.2 -2.1 2.2 -1.7 2.2 1.0 0.2 -0.2 2 -3.0 2.2 -1.5 2.2 2.0 2.2 -2.3 2.2 -0.2 2.3 -4.0 1.6 -3.9 0.6 1.9 2.2 0 2.2 0 2.2 -0.2 1.6 0.0 0.6 2.1 2.2 3.7 2.2 5.5 2.2 2.3 1.6 1.8 0.7 0.7 2.2 -2.6 2.2 2.6 2.2 0.4 2.2 -0.1 2.2 0.4 2.2 0.6 2.2 1.6 1.5 -2.2 0.8 -0.9 2.2 2.0 2.2 -1.7 2.2 0.8 2.2 -1.3 2.2 -1.3 2.2 -0.7 2.2 -1.1 1.3 -0.3 0.9 2.0 2.3 1.1 2.2 4.3 2.2 2.1 2.2 -0.1 2.2 -2.3 2.2 2.3 0.5 1.3 1.7 -1.0 2.2 1.5 2.3 -3.7 2.2 -2.9 2.2 0.9 2.2 -1.2 1.8 -1.4 0.4 -0.3 2.2 0.2 2.2 -0.5 2.2 3.1 2.2 -4.7 2.3 2.6 2.2 0.8 1 0.7 1.2 -2.9 2.2 -0.2 2.2 -2.3 2.2 -0.9 2.2 0.3 2.2 -2.0 2.3 -0.2 2.2 -2.7 0.9 -1.8 1.3 -3.1 2.2 8.0 2.2 -0.6 2.2 -1.6 2.2 -1.5 2.2 0.2 2.2 -4.7 2.3 1.9 0.7 -1.9 1.5 -0.5 2.2 -1.6 2.2 -2.3 2.2 -3.5 2.2 3.7 2.2 -1.6 2.2 -0.1 2.2 -1.8 2.3 -3.2 2.2 -0.8 2.2 0.2 2.2 -0.5 2.2 0.4 1.3 -1.4 0.9 -2.2 2.2 2.5 2.2 -2.3 2.3 1.0 2.2 -3.4 2.2 -2.1 2.2 -4.0 0.5 1.0 1.7 0.7 2.2 2.0 2.2 1.6 2.2 1.1 2.2 -0.1 2.3 4.5 2.2 -3.8 2.2 -0.7 2.2 -1.0 2.2 -1.1 2.2 1.2 2.2 -1.4 2.2 2.6 2.3 2.3 2.2 -1.7 2.2 -3.1 2.2 2.4 2.2 -3.3 2.2 1.9 2.2 0.9 2.2 3.1 2.2 -1.9 2.3 -3.7 2.2 0.7 2.2 2.3 2.2 -1.6 2.2 -0.5 2.2 -0.5 2.2 -0.2 2.2 -1.4 2.3 3.4 2.2 -0.4 2.2 0.3 2.2 -3.2 2.2 2.1 2.2 2.9" stroke="#a987d6" stroke-width="1.8" fill="none" stroke-linejoin="round"/>
<path d="M601.2 1882.2l2.2 -1.0 2.2 -4.9 2.3 -1.5 2.2 -3.0 2.2 -3.2 2.2 -0.4 2.2 -1.6 1.5 -5.3 0.7 0.6 2.2 4.3 2.2 -0.2 2.2 0.1 0.9 1.7 1.3 5.6 2.2 1.5 2.2 5.5 2.2 2.8 0.6 2.3 1.6 -2.4 2.2 -5.2 2.3 4.0 2.2 3.6 2.2 0.3 2.2 3.5 0.5 0.2 1.7 1.3 2.2 -3.4 2.2 0.4 2.2 -1.6 2.2 1.5 2.2 4.2 2.2 0.6 2.2 1.2 0.5 1.7 1.7 -0.6 2.2 5.4 2.3 -0.8 2.2 7.9 2.2 2.4 1.1 1.7 1.1 0.3 2.2 -7.0 2.2 -4.7 2.2 -5.4 2.2 -4.4 2.2 -5.7 2.2 -6.6 0.4 -2.3 1.8 2.4 2.2 3.7 2.2 4.4 1.4 -0.4 0.8 1.3 2.3 9.6 2.2 5.2 2.2 3.8 2.2 -0.4 1.7 8.3 0.5 2.2 2.2 -5.0 2.2 -1.7 2.2 3.7 2.2 -2.2 2.2 1.9 2.2 -2.4 2.2 3.8 2.2 1.6 2.2 2.2 1.7 -2.0 0.6 -6.9 2.2 3.6 2.2 0.1 2.2 0.9 2.2 3.9 2.2 -2.3 2.2 2.5 2.2 -0.3 2.2 -3.3 2.2 2.7 2.2 2.2 2.2 0.0 2.2 -1.3 1.4 3.3 0.8 -2.6 2.2 -4.8 2.3 1.9 2.2 -1.2 2.2 -1.1 2.2 -2.5 2.2 3.5 2.2 -3.0 2.2 -2.3 2.2 -2.5 0.7 3.4 1.5 -4.4 2.2 -1.5 2.2 -7.4 2.2 -0.4 2.2 -6.7 2.2 4.3 2.3 -7.5 2.2 0.6 0.6 -1.1 1.6 2.7 2.2 0.8 2.2 -3.9 2.2 -1.9 2.2 1.6 2.2 2.2 2.2 3.5 2.2 -2.9 0.5 0.9 1.7 -1.6 2.2 -0.1 2.2 3.5 2.2 1.5 2.3 0.0 2.2 -0.3 2.2 1.6 2.2 -5.5 2.2 -1.7 2.2 -0.4 0.7 3.4 1.5 0.5 2.2 1.0 2.2 1.7 2.2 4.3 2.2 1.8 0.9 7.1 1.3 -2.7 2.2 1.7 2.2 -4.7 2.3 1.9 2.2 2.5 2.2 1.3 2.2 -0.7 2.2 5.0 2.2 -3.0 2.2 5.2 1 1.4 1.2 3.3 2.2 1.0 2.2 -1.5 2.2 2.2 2.2 -2.8 2.2 0.6 2.2 -3.5 2.2 3.4 2.3 -0.7 2.2 -0.9 2.2 -0.4 2.2 6.5 2.2 -0.5 2.2 -1.3 2.2 0.5 1.9 -4.8 0.3 4.0 2.2 1.3 2.2 1.8 2.2 -3.4 2.2 -1.7 2.2 -3.4 2.2 -2.3 2.3 0.1 2.2 0.8 2.2 -1.1 2.2 1.0 2.2 -1.6 2.2 2.9 2.2 -1.7 2.2 5.8 2.2 -2.6" stroke="#dcd72e" stroke-width="1.8" fill="none" stroke-linejoin="round"/>
<path d="M598.3 1905.8l2.2 -0.7 2.2 1.9 2.2 -3.5 2.2 -1.1 2.3 5.1 2.2 -2.7 2.2 -2.3 2.2 4.5 2.2 -0.2 2.2 -0.2 2.2 -6.5 2.2 5.4 1.6 -2.3 0.7 -0.6 2.2 2.6 2.2 1.4 2.2 2.8 2.2 -0.4 2.2 1.8 2.2 -0.7 2.2 -2.8 2.2 4.4 2.3 -2.8 2 3.0 0.2 1.7 2.2 -4.3 2.2 4.5 2.2 0.1 2.2 -1.0 1.8 -1.2 0.4 -12.1 2.2 -59.1 0.4 -5.6 1.9 68.7 1 37.2 1.2 -2.2 2.2 0.7 2.2 8.0 2.2 2.6 1 -0.9 1.2 -7.3 2.2 -6.8 2.2 -9.1 2.2 -13.1 1 2.9 1.3 -8.7 2.2 -8.4 2.2 -7.9 2.2 -5.3 0.9 -6.6 1.3 -2.9 2.2 -6.5 2.2 -11.2 1.9 -8.2 0.3 0.3 2.2 -8.5 2.3 -5.4 0.7 -0.1 1.5 -3.7 2.2 -2.8 2.2 -4.2 2.2 3.8 0.4 1.2 1.8 5.4 2.2 6.7 0.7 3.7 1.5 1.8 2.3 0.9 2.2 -0.8 2.2 1.5 0.6 1.2 1.6 1.2 2.2 -2.5 2.2 -2.8 2.2 -2.2 0.6 1.7 1.6 -3.5 2.2 -5.5 2.3 -7.5 2.2 -5.6 0.5 -1.4 1.7 8.5 2.2 0.9 2 1.2 0.2 1.0 2.2 2.0 2.2 3.6 2.2 -4.0 2.3 8.0 2.2 -0.7 0.4 0.3 1.8 2.9 2.2 5.4 2.2 0.5 2.2 7.8 1.8 -6.0 0.4 1.8 2.2 8.1 2.2 7.8 2.3 3.6 1.7 0.9 0.5 3.8 2.2 -5.5 1.7 -2.4 0.5 0.5 2.2 4.1 2.2 -0.6 2.2 -1.4 1.7 -2.8 0.5 -3.5 2.3 1.2 2.2 -7.1 2.2 -0.6 1.6 -4.5 0.6 -1.3 2.2 6.4 2.2 8.6 0.9 -1.1 1.3 2.8 2.2 -6.7 2.2 5.0 2.3 -5.3 0.7 -3.7 1.5 3.2 2.2 7.8 2.2 1.4 2.2 7.7 0.7 1.5 1.5 -1.1 2.2 -6.2 2.2 -4.5 2.1 -3.8 0.1 3.0 2.3 1.7 2.2 6.9 2.2 5.0 1.4 0.9 0.8 3.6 2.2 0.8 2.2 -3.4 2.2 -6.6 1.1 4.6 1.1 -5.6 2.3 -10.1 2.2 -2.5 2.2 -6.2 0.6 -2.8 1.6 -8.2 2.2 -1.2 2.2 -3.6 2.2 -8.4 0.3 0.4 1.9 7.2 2.2 8.8 2.3 -0.2 1.8 6.8 0.4 -0.6 2.2 1.5 2.2 -3.7 2.2 -0.9 1.8 -3.7 0.4 1.8 2.2 1.3 2.2 0.9 2.3 4.6 2.2 2.8 2.2 3.6 0.3 -0.2 1.9 2.7 2.2 6.6 2.2 5.9 2.2 5.5 2 -0.1 0.2 -2.4 2.2 2.7 2.3 -3.0 2.2 -2.4 1.6 0.7 0.6 5.0 2.2 10.3 2.2 8.3 0.6 2.1 1.6 -4.6 2.2 -6.1 2.2 -1.2 2.3 -6.1 0.2 3.8 2 -5.8 2.2 -1.6 2.2 2.6 2.2 0.4 2.2 -3.7" stroke="#4f94d8" stroke-width="2.0" fill="none" stroke-linejoin="round"/>
<path d="M598.3 1917.3l2.2 -2.7 2.2 1.4 2.2 -1.3 2.2 -2.2 2.3 -0.5 2.2 0.2 1.3 0.8 0.9 -0.7 2.2 -4.3 2.2 -3.6 2.2 -1.8 2.2 -0.1 2.1 -2.3 0.1 0 2.3 -0.6 2.2 5.2 2.2 2.8 2 2.9 0.2 0.8 2.2 -0.2 2.2 -1.4 2.2 -2.9 1.9 -1.4 0.3 -1.1 2.2 2.8 2.3 1.9 2.2 1.0 2.2 4.2 2.2 0.4 2.2 0.6 1.1 0.2 1.1 0.7 2.2 -4.3 2.2 -0.4 2.3 5.3 2.2 -3.0 2.2 -1.6 2.2 -2.7 0.2 -1.0 2 1.0 2.2 -0.1 2.2 1.4 2.2 1.3 2.2 4.0 2.3 0.7 1.6 -0.7 0.6 -1.4 2.2 0.9 2.2 0.2 2.2 -0.6 2.2 1.4 2.2 1.1 2.2 -0.9 0.8 2.1 1.4 0.3 2.3 0.4 2.2 -1.3 2.2 0.4 2.2 1.2 2.2 6.7 2.2 -1.6 2.2 -0.3 2.2 1.2 2.3 1.0 2.2 0.7 2.2 2.6 2.2 1.5 1.3 1.4 0.9 -1.1 2.2 3.1 2.2 -2.7 2.2 -0.8 2.2 -2.8 2.3 -0.2 2.2 3.6 0.5 0.2 1.7 -0.7 2.2 -0.4 2.2 -4.0 2.2 0.5 2.2 1.5 2.2 -2.9 1.9 1.7 0.4 1.1 2.2 -0.9 2.2 -1.3 2.2 -0.8 2.2 -2.2 2.2 -2.8 2.2 -1.3 1.1 1.3 1.1 3.2 2.2 0.9 2.3 3.2 2.2 0.2 2.2 -0.8 2.2 1.2 2.2 -1.0 0.3 1.9 1.9 -1.4 2.2 -1.9 2.2 1.8 2.3 -2.3 2.2 0.1 2.2 4.1 1.6 -3.4 0.6 0.8 2.2 1.6 2.2 -1.5 2.2 1.0 2.2 -2.9 2.2 1.3 2.3 -1.8 0.7 0.9 1.5 2.3 2.2 2.8 2.2 1.6 2.2 1.9 2.2 -0.1 2.2 2.5 2.2 -0.2 2.2 0.6 2.3 -0.5 2.2 3.7 2.1 -1.0 0.1 1.3 2.2 -0.9 2.2 -4.9 2.2 -0.7 2.2 -1.5 2.2 0.6 0.6 -2.2 1.7 2.4 2.2 -4.6 2.2 -2.1 2.2 -2.0 0.5 2.1 1.7 1.5 2.2 -0.7 2.2 1.1 2.2 3.0 2.2 -5.7 2.3 -1.6 1.8 0.6 0.4 -0.5 2.2 1.1 2.2 0 2.2 -5.6 2.2 -1.2 2.2 2.7 2.2 0.5 1.1 -1.2 1.2 1.3 2.2 1.7 2.2 -0.8 2.2 -0.9 2.2 4.1 2.2 2.0 2.2 -2.3 0.3 0.5 1.9 -0.9 2.2 1.9 2.3 2.8 2.2 -3.6 2.2 -3.5 2.2 2.8 1.6 1.8 0.6 -2.2 2.2 -0.4 2.2 -0.6 2.2 2.2 2.3 0.1 2.2 2.1 2.2 -1.1 0.7 2.2 1.5 -2.6 2.2 -0.9 2.2 1.1" stroke="#3b3b3b" stroke-width="2.2" fill="none" stroke-linejoin="round"/>
<path d="M598.3 1921.7l2.2 -0.7 2.2 4.3 2.2 3.7 2.2 -1.4 2.3 -4.3 2.2 0.7 2.2 -4.4 2.1 -2.4 0.1 0.5 2.2 -0.9 2.2 1.4 2.2 1.4 2.2 1.3 2.3 0.8 0.5 2.2 1.7 -2.3 2.2 1.0 2.2 -0.9 2.2 1.2 0.5 -0.5 1.7 3.4 2.2 -4.0 2.2 4.9 2.2 -1.8 2.3 0.6 1.1 -2.8 1.1 -1.5 2.2 -2.3 2.2 1.8 2.2 -3.1 1.1 1.4 1.1 -2.7 2.2 2.2 2.2 1.5 2.3 0.9 1 2.1 1.2 0.1 2.2 6.0 2.2 -2.3 2.2 -0.4 1 -0.9 1.2 -1.9 2.2 1.5 2.2 -0.8 2.2 -5.4 2.3 -1.6 1.6 -2.8 0.6 3.5 2.2 1.7 2.2 1.1 2.2 3.1 1.6 1.4 0.6 1.2 2.2 0.2 2.2 3.2 2.2 3.2 1.6 1.4 0.7 -0.2 2.2 3.8 2.2 -4.4 2.2 -2.7 2.2 -2.5 2.2 -1.0 2.2 0.5 2.2 2.0 2.3 -3.3 2.2 -1.2 2.2 1.9 2.2 -2.8 1.3 1.3 0.9 -1.9 2.2 1.2 2.2 -1.2 2.2 -0.9 2.2 -2.1 2.3 0 2.2 -0.8 0.5 2.4 1.7 -0.4 2.2 -0.8 2.2 -3.4 2.2 -0.7 2.2 -1.0 2.2 -2.3 1.9 0.5 0.4 -0.8 2.2 -1.6 2.2 -3.7 2.2 -4.7 1.8 -2.9 0.4 -0.7 2.2 11.3 2.2 11.4 1.1 2.8 1.1 -3.4 2.2 0.3 2.3 -0.9 2.2 4.9 1 0.5 1.2 -2.0 2.2 1.1 2.2 -2.5 2.2 -2.8 2.2 -0.5 1.7 -3.1 0.5 2.9 2.3 -4.2 2.2 3.6 2.2 -5.0 1.6 1.6 0.6 -2.5 2.2 0.5 2.2 4.2 2.2 2.5 2.2 -1.9 2.2 -0.4 2.3 2.7 0.7 2.4 1.5 -5.9 2.2 1.3 2.2 -2.5 2.2 2.5 2.2 0.4 2.2 -3.8 2.2 -1.4 2.2 1.0 2.3 -2.4 2.2 1.7 2.2 -0.9 2.2 -0.6 2.2 -2.2 1.3 -1.9 0.9 0.1 2.2 1.6 2.2 5.0 2.3 0.8 2.2 1.3 2.2 0.7 2.2 3.4 0.5 2.3 1.7 -0.7 2.2 -0.9 2.2 -1.9 2.2 -1.3 0.5 -0.4 1.7 0.3 2.3 -4.7 2.2 0.4 2.2 -5.1 2.2 -3.4 1.1 -1.7 1.1 1.2 2.2 1.2 2.2 -0.1 2.2 1.0 1.1 -1.9 1.2 1.2 2.2 -2.7 2.2 -1.7 2.2 -1.1 1 -2.5 1.2 0.1 2.2 0.7 2.2 1.5 2.2 2.0 2.2 1.4 1.7 -4.7 0.6 1.3 2.2 2.8 2.2 2.8 2.2 1.4 1.6 2.5 0.6 -1.3 2.2 6.6 2.2 0.2 2.2 4.5 1.6 2.9 0.7 -2.6 2.2 0.7 2.2 1.7 2.2 -1.2 2.2 0.2 2.2 1.5" stroke="#e5322b" stroke-width="2.8" fill="none" stroke-linejoin="round"/>
<text x="325.0" y="2030.6" font-size="15" fill="#222" text-anchor="middle" font-weight="bold">PADD3 炼油毛利</text>
<path d="M181.0 2050.8h16" stroke="#3cbde6" stroke-width="1.6"/>
<circle cx="189.0" cy="2050.8" r="4.6" fill="#3cbde6"/>
<text x="202.5" y="2055.4" font-size="12.4" fill="#595959">2016</text>
<path d="M240.8 2050.8h16" stroke="#a987d6" stroke-width="1.6"/>
<circle cx="248.8" cy="2050.8" r="4.6" fill="#a987d6"/>
<text x="262.3" y="2055.4" font-size="12.4" fill="#595959">2017</text>
<path d="M300.6 2050.8h16" stroke="#f4834f" stroke-width="1.6"/>
<circle cx="308.6" cy="2050.8" r="4.6" fill="#f4834f"/>
<text x="322.1" y="2055.4" font-size="12.4" fill="#595959">2018</text>
<path d="M360.4 2050.8h16" stroke="#5fae4a" stroke-width="1.6"/>
<circle cx="368.4" cy="2050.8" r="4.6" fill="#5fae4a"/>
<text x="381.9" y="2055.4" font-size="12.4" fill="#595959">2019</text>
<path d="M420.2 2050.8h16" stroke="#2f6fcf" stroke-width="1.6"/>
<circle cx="428.2" cy="2050.8" r="4.6" fill="#2f6fcf"/>
<text x="441.7" y="2055.4" font-size="12.4" fill="#595959">2020</text>
<path d="M181.0 2073.2h16" stroke="#f9b43a" stroke-width="1.6"/>
<circle cx="189.0" cy="2073.2" r="4.6" fill="#f9b43a"/>
<text x="202.5" y="2077.8" font-size="12.4" fill="#595959">2021</text>
<path d="M240.8 2073.2h16" stroke="#4f94d8" stroke-width="1.6"/>
<circle cx="248.8" cy="2073.2" r="4.6" fill="#4f94d8"/>
<text x="262.3" y="2077.8" font-size="12.4" fill="#595959">2022</text>
<path d="M300.6 2073.2h16" stroke="#dcd72e" stroke-width="1.6"/>
<circle cx="308.6" cy="2073.2" r="4.6" fill="#dcd72e"/>
<text x="322.1" y="2077.8" font-size="12.4" fill="#595959">2023</text>
<path d="M360.4 2073.2h16" stroke="#3b3b3b" stroke-width="1.6"/>
<circle cx="368.4" cy="2073.2" r="4.6" fill="#3b3b3b"/>
<text x="381.9" y="2077.8" font-size="12.4" fill="#595959">2024</text>
<path d="M420.2 2073.2h16" stroke="#e5322b" stroke-width="1.6"/>
<circle cx="428.2" cy="2073.2" r="4.6" fill="#e5322b"/>
<text x="441.7" y="2077.8" font-size="12.4" fill="#595959">2025</text>
<text x="179.5" y="2081.9" font-size="13" fill="#5e5e5e" text-anchor="end">3,000</text>
<text x="179.5" y="2102.5" font-size="13" fill="#5e5e5e" text-anchor="end">0</text>
<text x="179.5" y="2123.1" font-size="13" fill="#5e5e5e" text-anchor="end">-3,000</text>
<text x="179.5" y="2143.7" font-size="13" fill="#5e5e5e" text-anchor="end">-6,000</text>
<text x="179.5" y="2164.3" font-size="13" fill="#5e5e5e" text-anchor="end">-9,000</text>
<text x="179.5" y="2184.9" font-size="13" fill="#5e5e5e" text-anchor="end">-12,000</text>
<text x="179.5" y="2205.5" font-size="13" fill="#5e5e5e" text-anchor="end">-15,000</text>
<text x="179.5" y="2226.1" font-size="13" fill="#5e5e5e" text-anchor="end">-18,000</text>
<text x="179.5" y="2246.7" font-size="13" fill="#5e5e5e" text-anchor="end">-21,000</text>
<path d="M186.5 2097.9H512.7 M186.5 2118.5H512.7 M186.5 2139.1H512.7 M186.5 2159.7H512.7 M186.5 2180.3H512.7 M186.5 2200.9H512.7 M186.5 2221.5H512.7" stroke="#cfcfcf" stroke-width="1" stroke-dasharray="2 1" fill="none"/>
<rect x="186.5" y="2077.3" width="326.2" height="164.8" fill="none" stroke="#d4d4d4" stroke-width="1" stroke-dasharray="2 1"/>
<text x="186.5" y="2259.6" font-size="13" fill="#5e5e5e" text-anchor="middle">1月</text>
<text x="214.0" y="2259.6" font-size="13" fill="#5e5e5e" text-anchor="middle">2月</text>
<text x="241.5" y="2259.6" font-size="13" fill="#5e5e5e" text-anchor="middle">3月</text>
<text x="269.0" y="2259.6" font-size="13" fill="#5e5e5e" text-anchor="middle">4月</text>
<text x="296.5" y="2259.6" font-size="13" fill="#5e5e5e" text-anchor="middle">5月</text>
<text x="324.0" y="2259.6" font-size="13" fill="#5e5e5e" text-anchor="middle">6月</text>
<text x="351.5" y="2259.6" font-size="13" fill="#5e5e5e" text-anchor="middle">7月</text>
<text x="379.0" y="2259.6" font-size="13" fill="#5e5e5e" text-anchor="middle">8月</text>
<text x="406.5" y="2259.6" font-size="13" fill="#5e5e5e" text-anchor="middle">9月</text>
<text x="434.0" y="2259.6" font-size="13" fill="#5e5e5e" text-anchor="middle">10月</text>
<text x="461.5" y="2259.6" font-size="13" fill="#5e5e5e" text-anchor="middle">11月</text>
<path d="M186.5 2097.9H512.7" stroke="#555" stroke-width="1.3"/>
<path d="M499 2097.9H512.5" stroke="#5a7040" stroke-width="3"/>
<path d="M186.5 2097.9H499M437.5 2097.9L439.6 2228.7L441.5 2097.9" stroke="#e0302a" stroke-width="3.6" fill="none" stroke-linejoin="round"/>
<circle cx="186.5" cy="2097.9" r="5.2" fill="#f9b43a"/>
<circle cx="186.5" cy="2097.9" r="1.8" fill="#d0302a"/>
<path d="M186.5 2097.9v4" stroke="#444" stroke-width="1"/>
<circle cx="214.0" cy="2097.9" r="5.2" fill="#f9b43a"/>
<circle cx="214.0" cy="2097.9" r="1.8" fill="#d0302a"/>
<path d="M214.0 2097.9v4" stroke="#444" stroke-width="1"/>
<circle cx="241.5" cy="2097.9" r="5.2" fill="#f9b43a"/>
<circle cx="241.5" cy="2097.9" r="1.8" fill="#d0302a"/>
<path d="M241.5 2097.9v4" stroke="#444" stroke-width="1"/>
<circle cx="269.0" cy="2097.9" r="1.8" fill="#d0302a"/>
<path d="M269.0 2097.9v4" stroke="#444" stroke-width="1"/>
<circle cx="296.5" cy="2097.9" r="5.2" fill="#f9b43a"/>
<circle cx="296.5" cy="2097.9" r="1.8" fill="#d0302a"/>
<path d="M296.5 2097.9v4" stroke="#444" stroke-width="1"/>
<circle cx="324.0" cy="2097.9" r="5.2" fill="#f9b43a"/>
<circle cx="324.0" cy="2097.9" r="1.8" fill="#d0302a"/>
<path d="M324.0 2097.9v4" stroke="#444" stroke-width="1"/>
<circle cx="351.5" cy="2097.9" r="5.2" fill="#f9b43a"/>
<circle cx="351.5" cy="2097.9" r="1.8" fill="#d0302a"/>
<path d="M351.5 2097.9v4" stroke="#444" stroke-width="1"/>
<circle cx="379.0" cy="2097.9" r="5.2" fill="#f9b43a"/>
<circle cx="379.0" cy="2097.9" r="1.8" fill="#d0302a"/>
<path d="M379.0 2097.9v4" stroke="#444" stroke-width="1"/>
<circle cx="406.5" cy="2097.9" r="1.8" fill="#d0302a"/>
<path d="M406.5 2097.9v4" stroke="#444" stroke-width="1"/>
<circle cx="434.0" cy="2097.9" r="5.2" fill="#f9b43a"/>
<circle cx="434.0" cy="2097.9" r="1.8" fill="#d0302a"/>
<path d="M434.0 2097.9v4" stroke="#444" stroke-width="1"/>
<circle cx="461.5" cy="2097.9" r="1.8" fill="#d0302a"/>
<path d="M461.5 2097.9v4" stroke="#444" stroke-width="1"/>
<text x="758.5" y="2030.6" font-size="15" fill="#222" text-anchor="middle" font-weight="bold">新加坡裂解利润</text>
<path d="M614.0 2050.8h16" stroke="#3cbde6" stroke-width="1.6"/>
<circle cx="622.0" cy="2050.8" r="4.6" fill="#3cbde6"/>
<text x="635.5" y="2055.4" font-size="12.4" fill="#595959">2020</text>
<path d="M673.8 2050.8h16" stroke="#a987d6" stroke-width="1.6"/>
<circle cx="681.8" cy="2050.8" r="4.6" fill="#a987d6"/>
<text x="695.3" y="2055.4" font-size="12.4" fill="#595959">2021</text>
<path d="M733.6 2050.8h16" stroke="#f4834f" stroke-width="1.6"/>
<circle cx="741.6" cy="2050.8" r="4.6" fill="#f4834f"/>
<text x="755.1" y="2055.4" font-size="12.4" fill="#595959">2022</text>
<path d="M793.4 2050.8h16" stroke="#5fae4a" stroke-width="1.6"/>
<circle cx="801.4" cy="2050.8" r="4.6" fill="#5fae4a"/>
<text x="814.9" y="2055.4" font-size="12.4" fill="#595959">2023</text>
<path d="M853.2 2050.8h16" stroke="#3b3b3b" stroke-width="1.6"/>
<circle cx="861.2" cy="2050.8" r="4.6" fill="#3b3b3b"/>
<text x="874.7" y="2055.4" font-size="12.4" fill="#595959">2024</text>
<path d="M614.0 2073.2h16" stroke="#e0302a" stroke-width="1.6"/>
<circle cx="622.0" cy="2073.2" r="4.6" fill="#e0302a"/>
<text x="635.5" y="2077.8" font-size="12.4" fill="#595959">2025</text>
<text x="590.4" y="2081.9" font-size="13" fill="#5e5e5e" text-anchor="end">40</text>
<text x="590.4" y="2109.4" font-size="13" fill="#5e5e5e" text-anchor="end">30</text>
<text x="590.4" y="2136.8" font-size="13" fill="#5e5e5e" text-anchor="end">20</text>
<text x="590.4" y="2164.3" font-size="13" fill="#5e5e5e" text-anchor="end">10</text>
<text x="590.4" y="2191.8" font-size="13" fill="#5e5e5e" text-anchor="end">0</text>
<text x="590.4" y="2219.2" font-size="13" fill="#5e5e5e" text-anchor="end">-10</text>
<text x="590.4" y="2246.7" font-size="13" fill="#5e5e5e" text-anchor="end">-20</text>
<path d="M597.4 2104.8H946.6 M597.4 2132.2H946.6 M597.4 2159.7H946.6 M597.4 2187.2H946.6 M597.4 2214.6H946.6" stroke="#cfcfcf" stroke-width="1" stroke-dasharray="2 1" fill="none"/>
<rect x="597.4" y="2077.3" width="349.2" height="164.8" fill="none" stroke="#d4d4d4" stroke-width="1" stroke-dasharray="2 1"/>
<text x="598.2" y="2259.6" font-size="13" fill="#5e5e5e" text-anchor="middle">1月</text>
<text x="627.8" y="2259.6" font-size="13" fill="#5e5e5e" text-anchor="middle">2月</text>
<text x="657.4" y="2259.6" font-size="13" fill="#5e5e5e" text-anchor="middle">3月</text>
<text x="687.0" y="2259.6" font-size="13" fill="#5e5e5e" text-anchor="middle">4月</text>
<text x="716.6" y="2259.6" font-size="13" fill="#5e5e5e" text-anchor="middle">5月</text>
<text x="746.2" y="2259.6" font-size="13" fill="#5e5e5e" text-anchor="middle">6月</text>
<text x="775.8" y="2259.6" font-size="13" fill="#5e5e5e" text-anchor="middle">7月</text>
<text x="805.4" y="2259.6" font-size="13" fill="#5e5e5e" text-anchor="middle">8月</text>
<text x="835.0" y="2259.6" font-size="13" fill="#5e5e5e" text-anchor="middle">9月</text>
<text x="864.6" y="2259.6" font-size="13" fill="#5e5e5e" text-anchor="middle">10月</text>
<text x="894.2" y="2259.6" font-size="13" fill="#5e5e5e" text-anchor="middle">11月</text>
<text x="923.8" y="2259.6" font-size="13" fill="#5e5e5e" text-anchor="middle">12月</text>
<path d="M597.6 2184.1l2.2 -1.7 2.2 -4.7 2.2 3.7 2.2 1.7 2.2 -1.8 2.2 -4.1 2.2 3.2 2.2 -0.8 2.3 -1.9 2.2 4.4 2.2 -0.9 2.2 -2.0 1.6 -1.1 0.6 0.9 2.2 0.8 2.2 0.9 2.2 0.9 2.2 -2.5 2.2 3.0 2.2 0.2 2.2 -1.1 2.2 2.4 2.2 -1.3 2.1 -0.7 0.1 -1.7 2.2 3.1 2.2 0.0 2.2 1.2 2.2 1.4 2.2 0.5 0.2 -0.4 2 -0.7 2.2 -1.3 2.2 -2.4 2.2 0.2 2.2 3.1 0.4 0.0 1.8 3.5 2.2 1.7 2.2 -6.5 2.2 -0.1 2.2 -2.2 2.2 2.2 2.3 -0.8 2.2 -1.1 2.2 0 2.2 1.7 0.8 -5.3 1.4 0.2 2.2 -0.5 2.2 0.7 2.2 -0.7 2.2 3.9 2.2 0.6 2.2 1.3 2.2 -2.7 2.2 0.1 2.2 -0.9 1.3 -0.7 0.9 4.5 2.2 -5.3 2.2 -1.4 2.2 0.6 2.2 2.3 2.2 2.3 2.2 -0.8 2.2 2.2 2.2 -1.9 2.2 -0.4 1.8 0.2 0.4 -3.3 2.2 -3.1 2.2 2.3 2.2 2.4 2.2 0.0 2.2 2.2 2.2 3.0 2.2 -2.2 2.3 -5.6 2.2 2.4 2.2 0.4 2.2 2.7 2.2 -1.5 2.2 1.3 2.2 0.5 2.2 -0.6 2.2 -1.9 2.2 0.9 2.2 -2.1 2.2 4.5 2.2 3.7 0.5 -3.7 1.7 -1.5 2.2 -0.3 2.2 3.6 2.2 -1.3 2.2 1.9 2.2 -2.6 2.2 -0.2 2.2 3.0 2.2 0.4 2.2 -2.8 1 0.7 1.2 -1.9 2.2 4.2 2.2 1.4 2.2 2.5 2.2 -7.4 2.2 1.9 2.2 4.5 2.2 1.4 0.3 -1.6 1.9 -2.1 2.3 -3.9 2.2 3.0 2.2 -0.3 2.2 -1.9 2.2 -1.9 2.2 0.6 1.7 0.7 0.5 -1.4 2.2 2.1 2.2 -4.3 2.2 1.9 2.2 -0.4 2.2 2.3 2.2 -0.6 2.2 -0.3 2.2 0.2 2.2 1.1 2.2 -3.1 2.2 -3.8 2.2 2.4 2.2 3.3 2.2 -1.1 2.2 1.1 2.2 -0.4 2.2 -1.5 2.2 0.4 2.2 -0.4 2.2 2.0 0.5 0.1 1.7 -0.7 2.2 -2.5 2.2 4.3 2.2 -1.5 2.2 -1.1 2.3 -2.9 2.2 2.0 2.2 2.5 2.2 -2.3 2.2 1.0 0.9 -4.2 1.3 0.5 2.2 -0.7 2.2 -2.1 2.2 -0.3 2.2 4.1 2.2 1.6 2.2 -0.2 2.2 -1.3 2.2 -4.3 2.2 2.3 1.4 0.2 0.8 -3.0 2.2 1.6 2.2 -1.0 2.2 1.3 2.2 -3.5 2.2 0.1 2.2 2.2" stroke="#3cbde6" stroke-width="1.8" fill="none" stroke-linejoin="round"/>
<path d="M597.6 2177.7l2.2 1.5 2.2 -1.8 2.2 -1.9 2.2 -0.5 2.2 -2.4 2.2 3.2 2.2 -3.6 1.5 -1.0 0.7 3.7 2.3 -1.9 2.2 -0.2 2.2 0 2.2 -0.9 2.2 2.3 2.2 2.9 2.2 -1.8 0.7 0.2 1.5 0.6 2.2 -0.4 2.2 1.4 2.2 2.8 2.2 2.5 2.2 -0.6 2.2 -1.0 2.1 -0.2 0.1 -1.3 2.2 -1.7 2.2 -0.6 2.2 0.8 2.2 -1.4 2.2 -0.5 2.2 3.7 2.2 0.2 2.2 1.0 2.2 -0.2 2.2 -3.5 0.4 -1.4 1.8 1.6 2.2 4.0 2.2 0.6 2.2 -2.5 2.2 -0.8 2.2 -2.5 2.3 2.3 2.2 -1.5 2.2 -1.2 2.2 -0.6 0.8 0.3 1.4 -0.8 2.2 5.1 2.2 -3.5 2.2 0.2 2.2 1.0 2.2 -0.7 2.2 -3.3 2.2 2.1 2.2 -3.7 2.2 0.1 1.3 0.8 0.9 0.7 2.2 2.1 2.2 -2.7 2.2 0.8 2.2 0.1 2.2 0.3 2.2 -1.1 2.2 0.1 2.2 1.2 2.2 2.3 1.8 -4.3 0.4 1.2 2.2 -1.3 2.2 -3.7 2.2 1.5 2.2 1.3 2.2 1.4 2.2 -0.5 2.2 1.5 2.3 2.0 2.2 -4.6 2.2 0.9 2.2 0.5 2.2 -2.6 2.2 2.7 2.2 1.5 2.2 -3.0 2.2 -0.6 2.2 2.4 2.2 -1.2 2.2 0.9 2.2 -4.3 0.5 -0.8 1.7 1.3 2.2 2.8 2.2 -1.3 2.2 -0.5 2.2 -2.9 2.2 -0.6 2.2 -2.6 2.2 3.6 2.2 -0.8 2.2 -1.0 1 -3.7 1.2 3.2 2.2 0 2.2 -1.1 2.2 -1.4 2.2 0.6 2.2 1.9 2.2 1.7 2.2 2.6 2.2 -1.7 2.3 1.0 1.4 0.4 0.8 -0.8 2.2 -2.0 2.2 -0.9 2.2 -0.9 2.2 -0.7 2.2 0.9 2.2 -1.8 2.2 0.0 2.2 -2.4 2.2 -0.7 1.9 -1.9 0.3 2.2 2.2 -4.2 2.2 2.2 2.2 2.6 2.2 0.7 2.2 -0.8 2.2 -2.6 2.2 4.1 2.2 -0.3 2.2 -3.4 2.2 0.2 0.2 -0.3 2 1.6 2.2 -0.7 2.2 -0.6 2.2 2.4 2.2 -1.2 2.2 0.7 2.2 -2.3 2.2 0.7 2.2 -0.7 2.2 -0.4 0.7 -2.0 1.6 5.1 2.2 -3.4 2.2 3.2 2.2 -1.1 2.2 -1.3 2.2 -0.1 2.2 2.4 2.1 -0.3 0.1 3.7 2.2 1.2 2.2 2.5 2.2 1.8 2.2 1.6 2.2 1.3 2.2 5.4 2.2 2.7 1.4 1.3 0.8 2.6 2.2 -0.6 2.2 0.8 2.2 0.3 2.2 0.8 2.2 1.0 2.2 -1.2" stroke="#a987d6" stroke-width="2.0" fill="none" stroke-linejoin="round"/>
<path d="M597.6 2183.6l1.1 -27.5 1.1 -2.1 2.2 -3.2 2.2 -1.1 2.2 -0.4 2.2 1.6 0.3 -2.6 1.9 3.5 2.2 -0.9 2.2 -2.8 2.3 1.6 2.2 -0.3 2.2 -2.2 2.2 0.9 1.6 1.5 0.6 0.2 2.2 0.1 2.2 -0.5 2.2 1.2 2.2 -1.1 2.2 -1.3 2.2 0.4 2.2 -1.2 0.9 0.1 1.3 1.8 2.2 0.9 2.2 -0.2 2.2 -0.3 2.2 -2.2 1.2 3.4 1 -3.6 2.2 -6.7 2.2 -12.5 0.2 -3.7 2 -7.0 2.2 -11.3 0.3 -4.3 1.9 20.8 2.2 21.2 1.5 15.6 0.7 -7.9 2.2 -4.5 2.2 -8.3 1.7 -8.9 0.5 -3.8 2.2 -4.8 0.1 2.9 2.1 10.6 1.8 17.6 0.4 3.4 2.3 12.7 1.8 7.4 0.4 4.4 2.2 -8.5 2.2 -7.6 0.8 1.3 1.4 -23.6 1.4 -19.6 0.8 -1.5 2.2 -5.0 2.2 -1.2 0.5 -7.6 1.7 7.4 2.2 8.0 1.7 5.9 0.5 -1.5 2.2 -6.4 2.2 -8.4 0.7 3.5 1.5 -0.7 2.2 7.0 1.9 4.2 0.3 3.2 2.2 -3.2 2.2 1.1 1 -0.5 1.2 -1.8 2.2 6.9 2.2 5.1 2.2 -7.3 2.2 -5.3 1.2 -0.2 1 -5.0 2.2 -9.1 2.2 -12.0 0.2 -0.9 2 -0.4 2.2 -4.7 1.5 -2.1 0.7 2.7 2.2 5.0 2.2 1.2 0.5 0.6 1.7 -1.5 2.3 -1.5 1.6 3.8 0.6 2.9 2.2 7.9 2.2 3.0 0.6 4.7 1.6 0.4 2.2 5.1 2.2 10.0 1.4 0.6 0.8 -1.7 2.2 -0.9 0.9 0.0 1.3 13.8 1.5 13.2 0.7 -1.8 2.2 6.5 2.2 9.5 0.5 -1.5 1.7 -3.3 2.2 -0.7 2.2 -1.3 2.2 -1.2 0.2 0 2 -7.1 2.2 -1.3 1.4 -3.9 0.8 7.3 2.2 4.1 2.2 12.0 0.4 5.6 1.8 7.0 2.2 9.3 1.6 7.1 0.6 -3.9 2.2 -10.8 2.2 -12.7 0.7 -8.4 1.5 -10.7 2.2 -13.8 2.2 -8.1 2.2 -6.2 0.3 -2.6 1.9 4.9 2.3 13.7 1.4 4.5 0.8 1.2 2.2 12.2 2.2 7.6 0.4 3.6 1.8 -5.2 2.2 -6.4 1.7 -2.1 0.5 1.7 2.2 7.4 2.2 3.7 2.2 4.1 1.3 5.0 0.9 -4.4 2.2 0.3 2.2 -5.7 2.2 -3.3 0.9 -3.0 1.3 -4.2 2.2 -7.2 2.2 -12.5 2.2 -8.6 0.6 -5.3 1.6 7.4 2.2 8.4 1.8 5.0 0.4 -0.9 2.2 5.9 2.2 10.2 2.2 4.8 1.4 2.4 0.8 -3.0 2.2 -14.3 2.2 -4.4 0.5 -2.6 1.7 -1.1 2.2 7.5 1.7 8.4 0.5 -3.0 2.2 -3.2 2.2 -6.2 2.3 -0.2 1.2 -0.3 1 3.8 2.2 2.9 2.2 1.5 2.2 8.1 0.9 -2.2 1.3 2.4 2.2 -1.3 2.2 -2.3 2.2 2.7 0.5 3.0 1.7 -2.0 2.2 4.0 2.2 5.4 2.2 -0.9 0.1 -4.1 2.1 0.1 2.2 -3.1 2.2 -11.0 2 -6.3 0.2 -3.4 2.2 -3.9 2.2 -5.6 1 -1.7 1.2 -0.1 2.2 -2.3 2.2 -0.7" stroke="#f4834f" stroke-width="1.8" fill="none" stroke-linejoin="round"/>
<path d="M597.6 2141.9l2.2 9.5 2.2 3.0 1.2 5.9 1 -3.0 2.2 -5.0 2.2 -4.2 2.2 -5.0 0.9 -3.6 1.3 -1.6 2.2 3.9 2.3 -1.2 2.2 0.7 2.2 -4.1 1 3.1 1.2 7.0 2.2 -2.9 2.2 3.7 2.2 2.8 2.2 2.0 2.2 6.9 1.9 1.7 0.3 0.2 2.2 2.4 2.2 -4.3 2.2 -4.5 2.2 6.2 2.1 -4.5 0.1 2.9 2.2 -0.5 2.2 0.4 1.2 -1.1 1 -0.8 2.2 2.0 2.2 1.7 2.2 -1.1 2.2 0.9 1.4 2.9 0.8 -1.3 2.2 0.8 2.2 2.7 2.2 -1.0 2.2 -2.5 1.7 -3.7 0.5 2.4 2.2 3.5 2.2 4.4 0.7 1.6 1.5 -12.8 2.3 -11.4 1.8 -8.7 0.4 1.0 2.2 10.7 2.2 11.2 0.8 -0.1 1.4 9.3 2.2 12.1 2.1 2.6 0.1 -2.4 2.2 -0.6 2.2 4.8 1.1 1.5 1.1 0.7 2.2 -4.7 2.2 -1.5 0.1 1.3 2.1 3.9 2.2 9.4 1.3 8.0 0.9 -4.3 2.2 -7.9 2.2 -2.0 2.2 -9.2 1 4.6 1.2 0 2.2 0.3 2.2 1.1 2.2 -8.1 2.2 -1.9 2.2 -0.2 1.8 -3.0 0.4 -0.7 2.2 2.7 2.2 -4.6 2.2 -2.0 1.5 6.3 0.7 1.1 2.2 -5.0 2.2 -3.3 0.5 1.9 1.7 -0.3 2.3 -3.8 2.2 4.2 2.2 5.2 2.2 -8.9 2.2 -5.2 2.2 -0.2 1.9 0.1 0.3 1.0 2.2 5.3 2.2 1.9 2.2 -5.5 1.5 -0.6 0.7 -0.5 2.2 -3.1 2.2 -5.1 2.2 0.9 1.1 1.6 1.1 -3.1 2.2 -3.2 2.2 -1.4 2.2 0.2 0.8 -2.2 1.4 -0.6 2.2 -3.0 2 -3.9 0.2 -2.6 2.2 3.2 2.2 -0.7 2.2 1.4 1.6 -2.5 0.6 -2.2 2.2 3.1 2.2 7.2 2.2 0.6 1.3 -2.6 0.9 -1.8 2.2 -2.5 2.2 -1.1 2.2 -6.1 0.9 -3.6 1.4 3.3 2.2 2.6 2.2 8.4 2.2 -0.8 0.4 0.2 1.8 5.5 2.2 2.7 1.7 5.5 0.5 -4.0 2.2 -0.8 2.2 -2.0 2.2 -0.1 1.3 -2.8 0.9 1.1 2.2 0.2 2.2 6.2 0.3 -0.3 1.9 -0.8 2.2 2.3 2.2 4.1 2.2 7.4 2.2 3.8 2.2 -3.9 2.2 1.5 2.2 0.6 2.2 1.2 0.2 -2.0 2 0.1 2.2 2.4 2.2 -1.8 2.2 -5.2 2.2 -1.3 0.5 -2.7 1.7 -0.1 2.2 3.6 2.2 2.9 2.2 3.0 2.2 1.3 0.7 -0.3 1.6 -2.5 2.2 2.7 2.2 -1.9 2.2 -4.5 2.2 -3.7 0.9 1.7 1.3 0.3 2.2 1.4 2.2 1.1 2.2 2.0 2.2 5.8 1.1 0.5 1.1 -2.8 2.2 -0.1 2.2 -0.6 2.2 -1.0 2.2 -7.4 1.4 -1.9 0.8 -0.1 2.2 -5.8 2.2 2.7 2.2 -2.7 1 -0.1 1.2 -0.2 2.2 6.1 2.2 -0.7" stroke="#5fae4a" stroke-width="1.8" fill="none" stroke-linejoin="round"/>
<path d="M597.6 2167.6l2.2 -2.0 2.2 -3.6 2.2 -5.2 2.3 -2.4 2.2 -3.7 0.2 1.3 2 -4.4 2.2 2.6 2.2 4.8 2 0.1 0.2 0.5 2.2 -7.2 2.2 2.1 2.2 -4.8 1.6 -0.4 0.6 3.7 2.2 -1.2 2.2 0.7 2.2 2.3 1.3 -0.6 0.9 1.1 2.3 -0.7 2.2 -2.9 2.2 0.5 2.2 3.8 1.4 2.1 0.8 0.6 2.2 -1.6 2.2 6.3 2.2 -0.4 2.2 0.3 2.2 -1.0 2.2 2.3 0.1 -4.5 2.1 1.7 2.2 -1.0 2.2 -2.4 2.2 1.3 2.3 0.9 2.2 0.7 0.9 -2.3 1.3 2.9 2.2 -0.7 2.2 -0.9 2.2 1.8 2.2 0.7 1.1 0.1 1.1 2.1 2.2 5.8 2.2 6.7 2.2 -3.5 0.7 1.5 1.5 3.2 2.2 2.2 2 -2.6 0.2 0.5 2.3 -3.9 2.2 1.7 0.9 2.6 1.3 3.4 2.2 1.1 2.2 0.3 2.2 2.3 0.5 -1.3 1.7 -4.8 2.2 -2.3 2.2 -0.4 2.2 -2.7 0.2 -2.7 2 1.6 2.2 1.4 2.2 1.2 2.2 3.0 2.3 -3.7 0.3 0.5 1.9 -4.6 2.2 -2.6 2.2 4.0 2.1 0.2 0.1 -4.1 2.2 0.0 2.2 -0.5 2.2 6.4 1.8 2.9 0.4 2.0 2.2 -2.0 2.2 -2.9 2.2 -5.5 2.2 -4.2 2 -4.1 0.2 1.4 2.2 1.7 2.3 1.6 2.2 0.2 2.2 0.6 2.2 2.4 2.2 3.4 2.2 -1.5 2.2 1.6 1.8 -0.7 0.4 0.3 2.2 4.4 2.2 0.9 2.2 0.1 1.5 1.2 0.7 -1.6 2.2 1.7 2.2 -2.3 2.3 2.0 1 0.3 1.2 0.1 2.2 3.4 2.2 2.6 2.2 1.4 0.6 -2.6 1.6 -2.3 2.2 1.1 2.2 -1.4 2.2 -1.7 2.2 -2.5 0.9 -2.7 1.3 3.6 2.2 -0.2 2.2 3.2 2.2 1.3 2.3 5.8 1 -0.9 1.2 -5.8 2.2 1.8 2.2 -1.5 2.2 1.8 2.2 0.2 1.3 -4.4 0.9 -3.2 2.2 1.3 2.2 -1.1 2.2 0.4 2.2 -4.9 1.5 3.2 0.7 1.8 2.2 -4.3 2.2 0.3 2.3 2.3 2.2 4.0 1.7 1.9 0.5 3.1 2.2 -1.8 2.2 1.1 2.2 3.2 2.2 -4.7 1.9 -1.5 0.3 -1.5 2.2 -0.5 2.2 3.6 2.2 -0.3 2.2 -0.5 2.2 -0.1 2.2 0.9 2.2 2.3 2.3 -5.6 2.2 -4.4 2.2 -2.0 0.1 -1.3 2.1 1.4 2.2 -2.5 2.2 1.5 2.2 -0.5 2.2 5.7 0.4 -0.7 1.8 -1.0 2.2 -0.1 2.2 1.3 2.2 0.1 2.2 2.1 0.6 0.5 1.6 -0.4 2.3 -1.8 2.2 -2.4 2.2 3.0 2.2 -7.2 0.8 2.0 1.4 5.8 2.2 0.9 2 1.2 0.2 7.5 1.5 38.4 0.7 -18.3 1.5 -34.7 0.7 0.5 2.2 -0.1 2.2 1.6 2.2 -5.4" stroke="#3b3b3b" stroke-width="2.2" fill="none" stroke-linejoin="round"/>
<path d="M597.6 2169.6l2.2 0.9 2.2 -4.2 2.2 0.5 1.9 0.4 0.3 -0.4 2.2 -3.4 2.2 -1.7 2.2 1.0 1.5 0.1 0.7 1.7 2.2 3.0 2.2 2.6 2.2 4.7 1.1 -0.1 1.1 2.0 2.2 3.8 2.2 5.2 0.2 -4.6 2 1.4 2.3 5.1 2.2 -1.0 1.9 2.8 0.3 -2.1 2.2 -2.9 2.2 -2.6 2.2 -4.0 1.5 -1.8 0.7 -4.2 2.2 0.3 2.2 0.7 2.2 -3.4 1.2 4.1 1 -4.8 2.2 1.3 2.2 -1.2 2.2 0.4 0.8 -1.4 1.4 3.4 2.2 4.5 2.2 1.6 2.2 1.3 0.4 3.7 1.8 -1.7 2.2 0.1 2.2 -3.4 2.2 1.3 2.2 2.4 0.7 3.0 1.5 -1.1 2.2 -0.5 1.9 3.8 0.3 -1.1 2.2 15.0 2 11.4 0.2 2.5 2.2 -8.9 2.2 -4.7 2.2 -3.9 2.2 -11.2 2.2 -11.7 1.2 -4.8 1 4.6 2.2 1.6 2.2 2.1 2.2 -1.9 0.8 -0.8 1.4 4.9 2.2 -0.5 2 4.0 0.2 -1.8 2.2 -2.5 2.2 -4.4 2.2 -1.5 1.7 -0.5 0.5 -1.7 2.2 -0.1 2.2 -2.4 2.2 -0.9 1.3 -0.7 0.9 -1.8 2.2 -1.2 2.2 0.1 2.2 -3.2 1 1.7 1.2 1.6 2.2 -2.1 2.2 2.0 2.2 -0.8 0.6 -0.8 1.6 -5.0 2.2 -10.3 1.8 -7.3 0.4 1.6 2.2 9.5 2.2 7.7 0.8 4.0 1.4 1.8 2.2 -2.0 2.3 3.5 2.2 3.9 0.4 4.2 1.8 -0.5 2.2 -1.5 2.2 -7.2 2.2 1.3 2.2 2.6 0.6 -0.3 1.6 -0.1 2.2 -1.2 2.2 3.9 2.2 -0.2 2.2 1.3 0.9 0.3 1.3 -4.1 2.2 2.3 2.2 3.8 2.2 0.2 2.2 0.3 1.1 -5.1 1.1 -1.9 2.2 0.1 2.2 2.3 2.2 -0.4 2.2 3.8 1.4 3.8 0.8 -1.6 2.2 -4.2 2.2 -0.6 2.2 -2.5 2.2 2.9 1.6 2.5 0.6 0.3 2.2 0.9 2.2 0.4 2.2 -4.0 2.2 -0.6 1.9 -2.3 0.3 -0.2 2.2 0.1 2.2 0.6 2.2 -2.9 2.2 2.4 2.1 -3.0 0.1 -0.9 2.2 4.6 2.2 1.5 2.2 -0.9 2.2 0.3 2.2 3.3 0.2 3.6 2 -2.8 2.2 -1.5 2.2 -3.0 2.2 -0.6 2.2 -1.2 0.4 -0.2 1.8 0.2 2.2 -1.0 2.2 -0.1 2.2 -2.4 2.2 -5.3 0.7 -1.2 1.5 2.6 2.2 0.5 2.2 0.9 2.2 3.8 2.2 3.7 0.9 -0.6 1.3 1.2 2.2 -2.0 2.2 -0.6 2.2 -5.2 0.5 0.7 1.8 -2.5 2.2 4.1 2.2 -2.4 2.2 4.7 0.1 1.1 2.1 1.3 2.2 4.1 2.2 -0.2 2.2 1.0 2.2 -1.4 0.3 1.4 1.9 1.0 2.2 -1.4 2.2 -2.0 2.2 0.0" stroke="#e0302a" stroke-width="2.8" fill="none" stroke-linejoin="round"/>
<text x="324.0" y="2300.4" font-size="15" fill="#222" text-anchor="middle" font-weight="bold">RBOB-BRT裂解价差季节性</text>
<path d="M181.0 2320.6h16" stroke="#3cbde6" stroke-width="1.6"/>
<circle cx="189.0" cy="2320.6" r="4.6" fill="#3cbde6"/>
<text x="202.5" y="2325.2" font-size="12.4" fill="#595959">2016</text>
<path d="M240.8 2320.6h16" stroke="#a987d6" stroke-width="1.6"/>
<circle cx="248.8" cy="2320.6" r="4.6" fill="#a987d6"/>
<text x="262.3" y="2325.2" font-size="12.4" fill="#595959">2017</text>
<path d="M300.6 2320.6h16" stroke="#f4834f" stroke-width="1.6"/>
<circle cx="308.6" cy="2320.6" r="4.6" fill="#f4834f"/>
<text x="322.1" y="2325.2" font-size="12.4" fill="#595959">2018</text>
<path d="M360.4 2320.6h16" stroke="#5fae4a" stroke-width="1.6"/>
<circle cx="368.4" cy="2320.6" r="4.6" fill="#5fae4a"/>
<text x="381.9" y="2325.2" font-size="12.4" fill="#595959">2019</text>
<path d="M420.2 2320.6h16" stroke="#2f6fcf" stroke-width="1.6"/>
<circle cx="428.2" cy="2320.6" r="4.6" fill="#2f6fcf"/>
<text x="441.7" y="2325.2" font-size="12.4" fill="#595959">2020</text>
<path d="M181.0 2343.0h16" stroke="#f9b43a" stroke-width="1.6"/>
<circle cx="189.0" cy="2343.0" r="4.6" fill="#f9b43a"/>
<text x="202.5" y="2347.6" font-size="12.4" fill="#595959">2021</text>
<path d="M240.8 2343.0h16" stroke="#4f94d8" stroke-width="1.6"/>
<circle cx="248.8" cy="2343.0" r="4.6" fill="#4f94d8"/>
<text x="262.3" y="2347.6" font-size="12.4" fill="#595959">2022</text>
<path d="M300.6 2343.0h16" stroke="#dcd72e" stroke-width="1.6"/>
<circle cx="308.6" cy="2343.0" r="4.6" fill="#dcd72e"/>
<text x="322.1" y="2347.6" font-size="12.4" fill="#595959">2023</text>
<path d="M360.4 2343.0h16" stroke="#3b3b3b" stroke-width="1.6"/>
<circle cx="368.4" cy="2343.0" r="4.6" fill="#3b3b3b"/>
<text x="381.9" y="2347.6" font-size="12.4" fill="#595959">2024</text>
<path d="M420.2 2343.0h16" stroke="#e5322b" stroke-width="1.6"/>
<circle cx="428.2" cy="2343.0" r="4.6" fill="#e5322b"/>
<text x="441.7" y="2347.6" font-size="12.4" fill="#595959">2025</text>
<text x="156.3" y="2351.7" font-size="13" fill="#5e5e5e" text-anchor="end">60</text>
<text x="156.3" y="2375.2" font-size="13" fill="#5e5e5e" text-anchor="end">50</text>
<text x="156.3" y="2398.8" font-size="13" fill="#5e5e5e" text-anchor="end">40</text>
<text x="156.3" y="2422.3" font-size="13" fill="#5e5e5e" text-anchor="end">30</text>
<text x="156.3" y="2445.9" font-size="13" fill="#5e5e5e" text-anchor="end">20</text>
<text x="156.3" y="2469.4" font-size="13" fill="#5e5e5e" text-anchor="end">10</text>
<text x="156.3" y="2493.0" font-size="13" fill="#5e5e5e" text-anchor="end">0</text>
<text x="156.3" y="2516.5" font-size="13" fill="#5e5e5e" text-anchor="end">-10</text>
<path d="M163.3 2370.6H512.3 M163.3 2394.2H512.3 M163.3 2417.7H512.3 M163.3 2441.3H512.3 M163.3 2464.8H512.3 M163.3 2488.4H512.3" stroke="#cfcfcf" stroke-width="1" stroke-dasharray="2 1" fill="none"/>
<rect x="163.3" y="2347.1" width="349.0" height="164.8" fill="none" stroke="#d4d4d4" stroke-width="1" stroke-dasharray="2 1"/>
<text x="164.1" y="2529.4" font-size="13" fill="#5e5e5e" text-anchor="middle">1月</text>
<text x="193.7" y="2529.4" font-size="13" fill="#5e5e5e" text-anchor="middle">2月</text>
<text x="223.2" y="2529.4" font-size="13" fill="#5e5e5e" text-anchor="middle">3月</text>
<text x="252.8" y="2529.4" font-size="13" fill="#5e5e5e" text-anchor="middle">4月</text>
<text x="282.3" y="2529.4" font-size="13" fill="#5e5e5e" text-anchor="middle">5月</text>
<text x="311.9" y="2529.4" font-size="13" fill="#5e5e5e" text-anchor="middle">6月</text>
<text x="341.4" y="2529.4" font-size="13" fill="#5e5e5e" text-anchor="middle">7月</text>
<text x="371.0" y="2529.4" font-size="13" fill="#5e5e5e" text-anchor="middle">8月</text>
<text x="400.5" y="2529.4" font-size="13" fill="#5e5e5e" text-anchor="middle">9月</text>
<text x="430.1" y="2529.4" font-size="13" fill="#5e5e5e" text-anchor="middle">10月</text>
<text x="459.6" y="2529.4" font-size="13" fill="#5e5e5e" text-anchor="middle">11月</text>
<text x="489.2" y="2529.4" font-size="13" fill="#5e5e5e" text-anchor="middle">12月</text>
<path d="M163.3 2488.4H512.3" stroke="#555" stroke-width="1.3"/>
<path d="M164.1 2488.4v4 M193.7 2488.4v4 M223.2 2488.4v4 M252.8 2488.4v4 M282.3 2488.4v4 M311.9 2488.4v4 M341.4 2488.4v4 M371.0 2488.4v4 M400.5 2488.4v4 M430.1 2488.4v4 M459.6 2488.4v4 M489.2 2488.4v4" stroke="#555" stroke-width="1"/>
<path d="M166.4 2450.2l2.3 1.1 2.2 -1.1 2.2 -2.3 2.2 0.9 2.2 0.8 2.2 4.7 0.8 -0.7 1.4 -1.1 2.2 -2.4 2.3 -2.8 2.2 -1.1 2.2 -2.5 0.9 -2.9 1.3 -1.5 2.2 -0.6 2.2 0.6 2.2 2.3 2.3 -0.7 1.1 0.6 1.1 0.1 2.2 1.8 2.2 -1.1 2.2 2.2 2.2 4.5 1.3 -0.6 0.9 -1.0 2.2 1.9 1.2 -2.6 1.1 -9.2 0.3 1.1 1.9 3.3 2.2 0.2 2.2 -1.9 2.2 -0.3 2.2 -0.7 0.5 0.1 1.7 -1.6 2.3 2.0 2.2 3.2 2.2 -1.6 2.2 0.5 0.7 0.1 1.5 -0.3 2.2 2.7 2.2 2.2 2.3 -1.2 2.2 -0.7 0.8 2.9 1.4 2.2 2.2 -1.7 2.2 -3.4 2.2 0.3 2.2 -0.5 1.1 1.1 1.1 -3.8 2.3 1.2 2.2 3.5 2.2 -2.3 2.2 -0.4 1.2 3.3 1 -1.3 2.2 -2.0 2.2 -1.8 2.3 1.2 2.2 -0.8 1.4 0 0.8 1.7 2.2 2.9 2.2 -2.2 2.2 -0.1 2.2 0.0 1.6 1.1 0.7 -1.6 2.2 -0.2 2.2 0.1 2.2 5.7 2.2 1.3 2.2 -1.3 1 0.7 1.2 -1.4 2.2 2.0 2.3 0.0 2.2 0.3 2.2 -1.9 2.2 2.6 2.2 0.4 0.9 -0.4 1.3 0.2 2.2 -2.8 2.3 -1.1 2.2 -1.5 2.2 -0.8 1.1 12.8 1.1 -1.4 2.2 -3.3 2.2 -0.4 2.2 4.5 2.2 -2.4 2.3 0.2 1.9 -2.3 0.3 2.0 2.2 1.7 2.2 -0.6 2.2 -0.3 2.2 -3.8 2.2 1.9 2.3 -1.0 0.4 -0.6 1.8 1.0 2.2 1.3 2.2 1.3 2.2 -0.4 2.2 0.6 2.2 -0.6 1.3 1.2 1 -0.4 2.2 1.5 2.2 -2.7 2.2 2.7 2.2 -1.5 2.2 0.4 2 2.5 0.2 -2.1 2.2 3.8 2.3 0.5 2.2 -1.9 2.2 -0.8 2.2 4.3 2.2 1.2 0.6 -3.3 1.6 1.1 2.2 -3.2 2.3 3.4 2.2 0.2 2.2 0.0 2.2 4.6 1.4 1.1 0.8 -3.2 2.2 0.6 2.2 1.8 2.3 -4.4 2.2 -0.3 2.2 -0.3 2.1 -1.3 0.1 -1.2 2.2 3.5 2.2 -0.3 2.2 -4.4 2.2 3.7 2.3 -1.2 2.2 -0.8 0.7 1.3 1.5 -1.1 2.2 -1.8 2.2 3.2 2.2 -0.9 2.2 0.3 2.3 0.9 1.4 -2.8 0.8 -0.7 2.2 -1.5 2.2 2.1 2.2 2.5 2.2 -1.0 2.2 -1.0 2.3 -0.9 2.2 0.7 2.2 0.5 2.2 -3.1 2.2 -4.7 2.2 2.6 2.2 3.2 2.2 1.4 1.5 0 0.8 -0.4 2.2 -1.9 2.2 -0.7 2.2 -3.9 2.2 0.3 2.2 0.2 2.2 -1.7" stroke="#3cbde6" stroke-width="1.8" fill="none" stroke-linejoin="round"/>
<path d="M166.4 2460.9l2.2 -1.5 2.2 3.0 2.2 1.5 2.2 -0.3 2.3 2.0 2.2 1.2 0.8 -1.5 1.4 -0.2 2.2 -1.2 2.2 -0.4 2.2 -1.8 2.2 -1.0 1 0.2 1.2 -0.4 2.2 2.5 2.2 4.1 2.2 -1.8 2.2 2.1 1.3 0.9 0.9 -1.6 2.2 1.4 2.2 -3.3 2.2 0.3 2.2 -1.1 2.2 0.5 2.2 -0.5 1.4 1.3 0.8 -7.3 0.6 -4.7 1.6 1.9 2.2 -1.2 2.2 3.1 2.2 -4.7 2.2 -0.4 0.8 -2.3 1.4 1.1 2.2 -2.1 2.2 2.0 2.2 2.7 2.2 -1.2 1.1 0.3 1.2 2.4 2.2 -1.7 2.2 0.3 2.2 -1.6 2.2 5.2 1.2 2.3 1 1.0 2.2 -1.5 2.2 -3.0 2.2 0.3 2.2 -0.8 1.5 -2.6 0.7 3.7 2.2 -5.2 2.2 0.4 2.2 7.1 2.2 2.4 1.7 -3.7 0.5 -2.8 2.2 0.4 2.2 0 2.2 -0.4 2.2 0.3 2 1.1 0.2 0.3 2.2 -0.2 2.2 1.7 2.2 1.3 2.2 -0.4 2.2 3.3 2.2 -0.6 2.2 -1.8 2.2 -3.2 2.2 1.3 2.3 3.7 0.2 -0.2 2 2.1 2.2 0 2.2 -0.1 2.2 -2.0 2.2 1.5 0.4 -0.4 1.8 -0.1 2.2 -0.3 2.2 -1.6 2.2 -0.1 2.2 4.0 0.7 1.5 1.5 -3.0 2.2 -4.1 1.9 -5.4 0.3 4.6 2.2 -3.4 2.2 1.8 2.2 1.0 2.2 -1.5 2.2 1.9 2.2 1.2 0.6 2.6 1.6 -3.5 2.2 -0.2 2.2 -1.8 2.2 -0.5 2.2 2.5 2.2 1.0 1.4 -3.5 0.8 1.6 2.2 -0.9 2.2 0.1 2.2 -1.0 2.2 4.4 2.3 0.1 2.2 0.3 2.2 0.3 2.2 2.0 2.2 -2.7 2.2 2.7 2.2 -1.8 2.2 1.6 0.8 2.9 1.4 -0.6 2.2 4.6 2.2 -1.5 2.2 2.0 2.2 -1.7 2.2 2.1 1.7 3.9 0.5 1.5 2.2 0 2.2 -0.8 2.2 -0.2 2.2 -1.1 2.2 3.5 2.2 1.5 0.4 1.4 1.8 -0.9 2.2 2.2 2.2 -1.6 2.2 2.7 2.2 -2.4 2.2 5.3 1.2 1.1 1 1.1 2.2 3.6 2.2 -2.3 2.3 -1.0 2.2 2.1 2.2 -0.9 2 1.9 0.2 -0.5 2.2 -1.9 2.2 2.2 2.2 -1.1 2.2 1.2 2.2 1.9 2.2 -4.3 2.2 2.3 2.2 -1.7 2.2 -1.1 2.2 0.1 0.3 4.9 1.9 -3.7 2.2 0 2.2 -2.1 2.2 -0.8 2.2 2.4 0.5 1.9 1.7 -1.5 2.2 -4.5 2.2 1.3 2.2 1.1 2.2 3.1 0.8 -2.8 1.4 1.1 2.2 2.8 2.2 -4.3 2.2 -4.7 2.2 -1.2 2.2 1.8 2.2 -0.6 2.3 -1.6" stroke="#f4834f" stroke-width="1.8" fill="none" stroke-linejoin="round"/>
<path d="M166.4 2464.0l2.2 -3.5 2.2 3.2 2.2 1.7 2.2 -0.4 2.3 -4.6 2.2 -1.0 0.8 -3.4 1.4 3.6 2.2 -3.2 2.2 0.7 2.2 1.0 2.2 2.6 1 -1.5 1.2 3.1 2.2 -1.2 2.2 3.1 2.2 -0.8 2.2 2.8 1.3 0.4 0.9 -4.1 2.2 2.1 2.2 1.5 2.2 -0.1 2.2 -1.0 2.2 0.1 2.2 -3.0 1.4 -1.8 0.8 -3.4 0.6 -3.2 1.6 -2.7 2.2 0.3 2.2 1.4 2.2 -0.3 2.2 -0.7 0.8 0.7 1.4 0.1 2.2 -3.3 2.2 0.2 2.2 -0.4 2.2 -1.7 1.1 1.7 1.2 -0.6 2.2 1.6 2.2 0.0 2.2 0.8 2.2 -4.9 1.2 -0.2 1 -1.4 2.2 2.5 2.2 -0.2 2.2 2.0 2.2 0.4 1.5 -1.4 0.7 -1.3 2.2 2.3 2.2 1.8 2.2 -3.1 2.2 1.0 1.7 -4.0 0.5 0.6 2.2 2.5 2.2 -0.7 2.2 2.3 2.2 4.1 2 -1.3 0.2 -2.7 2.2 0.8 2.2 -1.6 2.2 -2.3 2.2 0.6 2.2 -1.0 2.2 2.5 2.2 -0.2 2.2 -0.6 2.2 -2.0 2.3 2.1 0.2 -0.3 2 1.9 2.2 3.9 2.2 1.0 2.2 3.5 2.2 -1.7 0.4 1.6 1.8 -1.0 2.2 -1.5 2.2 1.7 2.2 1.4 2.2 0.5 0.7 -0.5 1.5 -0.7 2.2 -1.9 1.9 -1.1 0.3 -1.2 2.2 -0.2 2.2 -1.1 2.2 1.3 2.2 -1.0 2.2 1.2 2.2 0.1 2.2 0.3 2.2 -0.2 2.2 -1.5 2.2 -1.4 2.2 -0.5 2.2 1.1 1.4 0.0 0.8 0.6 2.2 1.7 2.2 -4.4 2.2 1.3 2.2 1.2 2.3 -2.5 2.2 1.0 2.2 2.7 2.2 -1.3 2.2 -1.4 2.2 0.6 2.2 0.2 1.6 -2.0 0.6 -12.9 1.7 -32.5 0.5 18.3 0.6 27.6 1.6 0.4 2.2 0.6 2.2 1.9 2.2 -2.2 2.2 3.8 2.2 0.4 2.2 0.1 0.1 -2.3 2.1 0.6 2.2 1.2 2.2 3.5 2.2 0.8 2.2 1.3 2.2 -0.5 2.2 -0.2 1.6 -2.7 0.6 3.3 2.2 1.8 2.2 -4.2 2.2 3.6 2.2 2.9 2.2 -4.8 2.2 4.0 2.3 -3.5 2.2 0.1 2.2 2.4 2 -2.1 0.2 -1.3 2.2 1.4 2.2 2.7 2.2 -1.3 2.2 -0.7 2.2 -1.7 2.2 -0.2 2.2 1.3 1.3 -0.1 0.9 1.6 2.2 -3.5 2.2 5.7 2.2 -1.6 2.2 -0.6 2.2 0.3 2.2 0.4 2.2 -0.7 0.5 2.7 1.7 -0.5 2.2 2.7 2.2 1.3 2.2 -0.1 2.2 1.6 0.8 -0.9 1.4 -2.1 2.2 1.7 2.2 0.9 2.2 0.3 2.2 -2.0 2.2 1.6 2.2 -2.0 2.3 -2.0" stroke="#a987d6" stroke-width="1.8" fill="none" stroke-linejoin="round"/>
<path d="M163.6 2487.1l2.2 0.9 2.2 1.9 2.2 0.1 2.3 1.5 2.2 1.0 0.2 -1.9 2 0.7 2.2 0.6 2.2 -0.8 2 2.7 0.2 2.2 2.2 1.1 2.2 1.4 2.2 -0.1 1.6 -1.3 0.6 0.5 2.2 0.6 2.2 0 2.2 -0.5 2.2 -5.0 1.9 -1.6 0.4 2.8 2.2 -1.2 2.2 1.1 2.2 -0.6 2.2 -4.7 2 -2.6 0.2 -1.0 2.2 -5.5 2.2 -4.2 2.2 -2.1 1.7 -2.7 0.5 3.3 2.2 -3.9 2.2 -2.6 2.2 -2.4 1.3 -1.9 0.9 -0.6 2.3 -3.2 2.2 -0.6 2.2 2.7 2.2 -0.9 1.5 -0.1 0.7 -2.4 2.2 1.0 2.2 -1.0 2.2 -1.4 2.2 1.7 1.7 1.8 0.5 -2.9 2.2 -0.4 2.2 -2.1 2.2 0.4 2.2 1.3 2 -5.0 0.3 -1.7 2.2 0.4 2.2 -0.3 0.9 -1.2 1.3 0.8 2.2 1.7 2.2 -0.1 2.2 1.3 0.5 2.3 1.7 -1.5 2.2 1.3 2.2 -3.0 2.2 -1.9 2.2 -1.1 0.8 3.7 1.4 0 2.2 3.1 2.3 1.7 2.2 2.9 0.3 -2.3 1.9 0.8 2.2 0.5 2.2 2.0 2.2 3.7 2.2 -0.1 0.6 -2.4 1.6 -1.8 2.2 0.2 2.2 -2.7 2.2 3.4 2.2 -4.3 0.8 0.4 1.4 -2.4 2.2 1.7 2.3 0.7 2.2 0.8 2.2 0.5 1 -2.2 1.2 -1.6 2.2 -3.5 2.2 -1.5 2.2 1.4 2.2 2.4 2.2 -4.2 2.2 1.0 2.2 1.8 2.2 -0.4 0.9 -2.4 1.3 -1.8 2.2 1.9 2.3 2.4 2.2 1.4 2.2 4.4 2.2 0.2 1.6 -3.6 0.6 -0.7 2.2 2.9 2.2 -0.6 2.2 -0.8 2.2 -1.0 2.2 1.1 2.2 1.1 0.3 3.3 1.9 -0.7 2.2 3.9 2.2 1.3 2.3 4.9 2.2 2.7 2.2 0.4 1 0.8 1.2 2.9 2.2 -0.5 2.2 3.8 0.1 -1.4 2.1 -1.3 2.2 -1.0 2.2 1.7 2.2 -1.1 2.2 -1.3 0.3 -0.2 1.9 1.0 2.2 -2.3 2.2 -1.7 2.3 0.1 2.2 -3.3 0.5 2.8 1.7 1.2 2.2 -1.0 2.2 -0.3 2.2 2.7 2.2 -1.9 2.2 -1.6 1.3 0.3 0.9 0.0 2.2 -1.7 2.2 0.7 2.2 2.2 2.2 -3.1 2.2 1.6 2.2 -2.4 0.1 2.4 2.2 0.1 2.2 0.8 2.2 -1.0 2.2 0.4 2.2 -0.9 2.2 1.3 0.7 -2.1 1.5 -1.7 2.2 4.7 2.2 2.1 2.2 -1.8 2.2 -0.8 2.2 2.9 1.6 0.1 0.6 -1.5 2.3 2.6 2.2 0.8 2.2 0.4 2.2 0.7 2.2 1.0 2.2 -0.6 2.2 -1.7 0.8 0.7 1.4 0.0 2.2 -1.6 2.2 0.0 2.2 2.0 2.2 -3.6 2.2 0.8 2.2 1.1 2.3 0" stroke="#5fae4a" stroke-width="1.8" fill="none" stroke-linejoin="round"/>
<path d="M163.6 2475.8l2.2 -1.2 2.2 0.9 2.2 -0.6 2.3 -1.1 2.2 4.5 0.2 -1.8 2 4.2 2.2 0 2.2 1.0 2.2 0.3 2.2 0.1 0.4 -2.0 1.8 -2.9 2.2 -1.1 2.2 0.3 2.2 0.0 0.1 -1.2 2.1 -4.1 2.2 -1.9 2.2 2.6 2.3 -1.3 2.2 -2.5 0.2 -0.1 2 -0.6 2.2 1.2 2.2 -1.2 2.2 -1.0 2.2 2.2 0.5 -1.2 1.7 -0.2 2.2 -4.1 2.2 -5.4 2.2 -4.4 0.1 0.2 2.1 7.0 2.2 4.4 1.3 4.4 0.9 1.0 2.3 10.1 2.2 4.8 0.2 -1.4 2 12.5 2.2 7.2 1.5 5.2 0.7 -3.6 2.2 -9.8 2.2 -6.4 0.5 -5.1 1.7 4.6 2.2 5.0 1.7 5.1 0.5 -1.9 2.2 -5.2 2.2 -1.6 2.2 -3.4 1.3 -4.9 0.9 0.8 2.3 -0.6 2.2 -0.2 2.2 -2.5 0.9 2.7 1.3 -2.1 2.2 -4.3 2.1 -3.4 0.1 0.5 2.2 0.9 2.2 -2.1 2.2 -1.2 1.7 -0.9 0.5 -0.7 2.2 1.4 2.2 -2.1 2.2 2.5 2.2 0.1 2.3 1.0 2.2 -1.2 0.3 1.3 1.9 1.5 2.2 -1.4 2.2 -0.6 2.2 -7.1 2.2 6.5 2 0.2 0.2 1.3 2.2 -0.6 2.2 -4.3 2.2 -0.9 2.2 -2.7 0.8 1.3 1.4 0 2.2 0.3 2.3 -5.5 2.2 0.3 2.2 -0.7 1 -4.1 1.2 2.9 2.2 -3.2 2.2 11.9 2.2 -2.3 2.2 2.1 2.2 0.3 2.2 2.9 2.2 -0.5 0.2 -1.2 2 1.4 2.2 -1.9 2.2 0.4 2.3 -0.8 2.2 -0.7 0.4 1.6 1.8 3.7 2.2 -0.6 2.2 0.6 2.2 0.0 2.2 -1.2 2.2 -0.1 2.2 -1.5 1.9 -1.7 0.3 -0.9 2.2 1.0 2.2 -3.4 2.2 -3.6 2.2 3.0 2.1 -0.5 0.2 -1.1 2.2 2.2 2.2 5.1 1 -0.9 1.2 2.0 2.2 2.1 2.2 -0.1 2.2 -0.2 0.7 0.1 1.5 1.0 2.2 0.2 2.2 -2.0 2.2 2.5 2.2 1.1 0.9 -0.7 1.3 -0.3 2.2 -1.7 2.3 1.8 2.2 2.0 2.2 -2.1 2.2 1.2 1.7 -3.0 0.5 1.0 2.2 -1.1 2.2 4.0 2.2 2.1 2.2 -1.3 2.2 0.8 2.2 -1.1 2.2 -1.4 1 2.0 1.2 0.1 2.2 -2.7 2.3 -2.4 2.2 2.3 2.2 -2.4 2.2 2.1 2.2 -2.3 2.2 0.3 0.1 0.0 2.1 1.1 2.2 -0.5 2.2 1.3 2.2 1.3 2.2 -0.4 2.2 1.0 2.2 2.6 1.6 1.7 0.6 -0.3 2.3 -0.8 2.2 -3.3 2.2 -0.5 2.2 2.4 2.2 -2.1 2.2 -0.7 2.2 2.9 0.8 0.1 1.4 -0.8 2.2 -2.4 2.2 -0.6 2.2 -1.8 2.2 -2.5 2.2 -1.3 2.2 1.0 2.3 -3.3" stroke="#2f6fcf" stroke-width="1.8" fill="none" stroke-linejoin="round"/>
<path d="M166.4 2469.4l2.2 -0.8 2.3 -1.1 2.2 1.4 2.2 -2.6 2.2 4.1 0.2 -2.5 2 -3.9 2.2 1.5 2.2 -1.8 2.2 3.0 2.2 0.7 2.2 -3.3 1 0.1 1.3 1.5 2.2 2.8 2.2 -2.1 2.2 -1.6 2.2 -0.9 1.2 0.9 1 -1.2 2.2 0.5 2.2 -1.3 2.2 1.3 2.2 2.2 2.2 -0.6 2.1 -4.6 0.2 -2.5 2.2 -10.7 0.4 -1.7 1.8 1.1 2.2 -1.0 2.2 1.5 2.2 -2.7 2.2 -0.9 0.6 -0.2 1.6 -0.4 2.2 -2.1 2.2 2.2 2.3 1.6 2.2 0.6 0.8 -1.4 1.4 0.7 2.2 -0.7 2.2 1.1 2.2 0.6 2.2 -2.5 1 2.1 1.2 0.2 2.2 -2.1 2.2 0.5 2.3 -3.7 2.2 0.6 1.2 0.3 1 -0.4 2.2 0.5 2.2 -1.3 2.2 -3.7 2.2 -0.7 1.4 0.7 0.8 3.0 2.2 0.7 2.2 -1.4 2.3 -0.8 2.2 2.5 1.6 -2.5 0.6 0.8 2.2 -0.7 2.2 2.9 2.2 -2.8 2.2 -1.8 1.8 -0.6 0.4 0.7 2.2 1.4 2.2 -0.4 2.2 0.7 2.3 -1.4 2.2 2.5 1.2 2.5 1 -0.9 2.2 0.2 2.2 1.7 2.2 0.1 2.2 3.8 2.2 -1.3 2.2 -1.5 2.2 4.6 2.3 -1.1 2.2 1.6 0.2 -3.7 2 -0.5 2.2 -4.3 1.4 -1.0 0.8 0.6 2.2 3.0 2.2 -2.0 2.2 1.1 2.2 -1.8 1.6 0.4 0.6 0.0 2.3 -1.8 2.2 -1.4 2.2 -0.9 2.2 -0.1 2.2 -2.0 2.2 -0.5 2.2 -2.1 0.8 2.1 1.4 -0.6 2.2 1.3 2.2 0.3 2.2 2.1 0.5 -0.7 1.8 -0.1 2.2 -0.8 2.2 3.1 2.2 -0.7 2.2 2.8 0.6 -0.7 1.6 2.9 2.2 2.7 2.2 -0.3 2.2 1.4 0.2 -2.9 2 3.6 2.3 -0.3 2.2 2.1 2.2 -6.3 2.2 2.5 2.2 0.3 2.2 -0.1 1.6 0.7 0.6 1.9 2.2 1.9 2.2 -0.1 2.2 -4.5 2.3 -2.0 1.8 0.9 0.4 2.5 2.2 1.1 2.2 -2.2 2.2 -0.1 2.2 -0.6 2 -1.4 0.2 0.1 2.2 -1.0 2.2 0.7 2.2 -1.6 2.2 3.3 2.3 2.0 2.2 -0.5 2.2 1.6 2.2 -0.1 2.2 -1.5 2.2 0.0 2.2 1.9 0.8 1.6 1.4 0.9 2.2 -1.1 2.2 1.7 2.3 0.4 2.2 1.1 1 0.5 1.2 -1.2 2.2 1.3 2.2 -1.8 2.2 1.8 2.2 0.2 2.2 2.1 1.8 0.5 0.4 0.9 2.2 0.6 2.3 -4.8 2.2 -0.3 2.2 2.2 2 -1.7 0.2 0.4 2.2 -2.8 2.2 3.0 2.2 -2.5 2.2 -5.7 2.2 3.2" stroke="#f9b43a" stroke-width="2.0" fill="none" stroke-linejoin="round"/>
<circle cx="228.0" cy="2445.5" r="5" fill="#f9b43a"/>
<circle cx="287.0" cy="2438.7" r="5" fill="#f9b43a"/>
<circle cx="316.0" cy="2442.1" r="5" fill="#f9b43a"/>
<circle cx="370.0" cy="2434.9" r="5" fill="#f9b43a"/>
<circle cx="430.0" cy="2445.5" r="5" fill="#f9b43a"/>
<path d="M163.6 2446.7l2.2 -0.3 2.2 3.0 2.2 4.5 2.2 -3.8 2.2 1.8 0.3 2.3 1.9 -1.3 2.2 -5.2 2.3 -1.0 2.2 -3.8 2.2 -0.2 0.4 1.5 1.8 1.4 2.2 -1.9 2.2 -1.9 2.2 -2.8 2.2 2.0 0.7 0.6 1.5 -0.1 2.2 -0.7 2.2 3.9 2.2 0.0 2.2 0.9 0.9 2.0 1.3 -2.1 2.2 -5.0 2.2 -7.2 2.2 -5.0 2 -5.0 0.2 1.6 2.2 -2.7 1.8 -3.7 0.4 0.4 2.2 0.8 2.2 -0.1 2.2 0.2 1.4 -0.5 0.8 -1.5 2.2 3.9 2.2 4.6 2.2 5.3 1.1 2.1 1.1 -1.6 2.2 -2.8 2.2 -3.6 2.2 0.0 0.7 -2.2 1.6 -0.5 2.2 3.9 2.2 -4.4 2.2 -0.3 0.2 1.4 2 -4.4 2.2 0.7 2.2 1.7 2.1 -2.3 0.1 -1.2 2.2 -1.7 2.2 0.4 1.1 1.2 1.1 -5.0 1.7 -8.4 0.5 0.4 2.2 -8.6 2.2 -3.1 0.7 0.3 1.5 -2.0 2.2 -5.9 1.9 1.6 0.3 -4.5 2.2 -8.3 1.8 -11.4 0.4 6.5 2.2 -7.7 1.6 -5.2 0.6 4.6 2.2 8.0 1.4 7.3 0.8 -3.5 2.2 1.6 1.2 -3.8 1 2.8 2.2 -0.6 1 3.0 1.2 -5.8 2.2 -13.0 0.9 -3.5 1.3 1.3 2.2 4.3 0.7 1.6 1.6 4.1 2.2 -1.4 0.4 -0.9 1.8 9.3 2.2 7.1 0.2 4.6 2 -2.6 2.2 -6.5 2.2 -1.1 2.2 -1.0 1.3 -2.2 0.9 4.1 2.2 14.4 1.1 5.8 1.1 -3.8 0.3 -1.6 1.9 5.7 2.2 1.6 1.5 6.0 0.7 -2.1 2.2 5.3 2.2 1.1 0.5 -0.4 1.7 4.5 2.2 6.0 1.8 0.9 0.4 -1.4 2.2 -8.8 2.2 -8.3 0.8 -1.0 1.4 8.1 2.2 15.1 0.6 -0.4 1.6 6.6 2.2 3.8 0.4 4.2 1.8 -7.6 2.2 -7.8 1.7 -4.2 0.5 0.9 2.2 0.9 2.2 0.0 0.7 2.9 1.6 4.9 2.2 1.6 1.8 7.0 0.4 0.4 2.2 2.9 2.2 5.2 0.8 1.8 1.4 10.0 2.2 8.9 0.6 6.1 1.6 -3.2 2.2 -3.1 0.5 -1.2 1.7 1.4 2.2 -0.5 2.2 -0.9 2.2 -3.4 0.1 -2.4 2.1 -0.3 2.2 -0.1 2.2 -0.7 1.9 -0.4 0.3 0.2 2.2 -7.1 2.2 -2.1 1 6.0 1.2 -2.7 2.2 -2.0 2.2 -5.8 2.2 1.4 2.2 2.9 1.2 2.0 1 -1.3 2.2 -0.2 2.2 -0.9 0.2 0.1 2 -0.4 2.2 -10.2 1.5 -1.8 0.7 -5.8 2.2 -6.0 1.3 -2.2 1 10.2 1.8 17.0 0.4 0.4 2.2 2.0 2.2 5.4 2.2 3.4 2.2 -1.4 2.2 -2.4 2.2 -1.3 1.9 -0.5 0.3 -2.4 2.2 2.9 2.2 1.6 2.2 1.0 1.5 0.2 0.7 2.0 2.2 4.0 2.2 -0.1 2.2 -1.2 1.1 0.7 1.1 0.1 2.2 0.9 2.2 -4.1 2.2 -2.8 0.8 -2.2 1.4 0.8 2.2 2.3 2.2 0.6 2.2 -1.9 0.4 -4.0 1.8 3.5 2.2 -3.0 2.2 1.5 2.2 1.9" stroke="#4f94d8" stroke-width="1.8" fill="none" stroke-linejoin="round"/>
<path d="M166.4 2449.7l2.2 -3.1 2.2 -4.0 2.2 2.4 1.9 -3.1 0.3 -0.8 2.3 -1.6 2.2 -6.1 2.2 0 2.2 -8.5 0.6 3.1 1.6 4.1 2.2 2.1 2.2 3.6 1 -0.7 1.2 4.3 2.2 -2.4 2.2 -0.8 2.2 -0.8 0.7 -0.6 1.5 0.7 2.2 0.5 2.2 0.8 2.2 2.3 0.3 -0.6 1.9 -3.5 2.2 -0.3 2.2 -3.6 2.2 -7.7 1.4 -0.9 0.8 0.3 2.2 -6.5 2.2 -2.1 1.8 -1.9 0.4 -0.9 2.2 0.7 2.2 2.1 2.2 1.5 1.4 -1.3 0.8 0.1 2.2 -2.3 2.2 -3.9 2.2 -3.2 2.3 -1.9 1.6 -0.8 0.6 -2.1 2.2 4.9 2.2 0 2.2 5.4 1.2 5.2 1 -6.0 2.2 -1.5 2.2 -0.6 2.2 -2.4 0.8 2.4 1.4 -2.2 2.2 8.2 2.2 0.7 2.2 -1.4 0.5 -0.9 1.7 1.4 2.2 3.8 2.2 4.4 2.2 -2.1 0.1 0.6 2.1 -0.8 2.2 -0.1 2.2 0.6 2 -4.4 0.2 -0.3 2.2 -4.0 2.2 -2.8 2.2 -1.3 1.6 -1.3 0.6 -2.6 2.2 3.3 2.2 -4.0 2.2 -1.1 1.2 5.0 1 1.8 2.2 5.0 2.3 6.6 0.2 4.5 2 -5.5 2.2 -5.9 2.2 -5.1 2 -7.2 0.2 3.4 2.2 4.1 2.2 -2.8 2.2 -0.9 1.6 3.6 0.6 1.4 2.2 0.7 2.2 1.3 2.2 0.4 2.2 1.4 1.9 8.1 0.3 -4.7 2.2 0.1 2.2 -3.4 2.2 0.8 1.5 -3.5 0.7 2.8 2.2 -3.8 2.2 -0.9 2.2 -4.8 1.2 -5.1 1 -1.6 2.2 -2.7 1 -3.1 1.2 1.3 2.2 2.6 0.8 0.3 1.4 4.9 2.2 7.1 2 5.7 0.2 -0.7 2.2 -7.0 2.2 -2.3 1.1 -1.9 1.1 -4.2 2.3 6.7 2.2 2.2 2.2 1.0 2.2 4.6 1.2 -2.3 1 -1.5 2.2 -5.0 1 -1.8 1.2 5.8 2.2 6.1 0.8 0.9 1.4 13.4 1.5 12.8 0.7 -2.9 2.2 4.2 2.2 -4.0 2.2 -3.0 1.1 -2.9 1.1 7.0 2.2 5.1 2.2 1.8 0.1 3.1 2.1 -0.8 2.2 -0.6 2.2 0.4 2 1.1 0.2 2.1 2.2 0.5 2.2 -2.8 1 0.6 1.2 4.8 2.2 0.6 2.2 5.4 2.2 6.0 0.6 1.9 1.6 0.2 2.2 1.4 2.2 -0.2 2.2 -2.5 0.2 4.7 2.1 1.2 2.2 -3.9 2.2 2.5 2 -2.0 0.2 1.0 2.2 -1.4 2.2 -3.7 2.2 -3.4 1.6 -9.4 0.6 0.7 2.2 3.8 2.2 -2.7 2.2 5.0 1.3 1.4 0.9 -4.0 2.2 2.4 2.2 -1.9 2.2 2.5 2.2 3.0 1.5 -1.9 0.7 1.2 2.2 -3.2 2.2 0.8 2.2 -2.7 2.2 0.0 1.8 -2.8 0.4 -2.1 2.2 -0.5 2.2 3.7 2.2 -1.5 2.2 -1.0 2 -5.7 0.2 3.3 2.2 0.6 2.2 -2.1 2.2 -2.0 2.2 -2.8 2.3 -0.8" stroke="#dcd72e" stroke-width="1.8" fill="none" stroke-linejoin="round"/>
<path d="M166.4 2463.2l2.2 5.4 2.2 3.9 1.3 -1.0 0.9 -1.6 2.2 -2.0 2.3 -2.6 2.2 -6.1 2.2 -5.6 1.4 -0.2 0.8 -0.3 2.2 2.6 2.2 4.5 2.2 0.3 1 -0.3 1.2 -0.5 2.2 -1.6 2.2 -5.1 2.2 -5.1 2.2 1.1 1.3 -0.7 0.9 1.0 2.2 0.9 2.2 2.7 2.2 4.4 0.9 1.1 1.3 -2.4 2.2 -1.9 2.2 0.5 1.4 -21.1 0.8 -0.4 2.2 -3.0 2.2 3.5 1.8 -0.7 0.4 2.0 2.2 -6.4 2.2 -2.5 2.2 -3.5 2.2 -1.5 2 -1.8 0.2 -2.2 2.2 3.5 2.2 5.2 1.1 -0.6 1.2 0.1 2.2 1.1 2.2 -2.4 2.2 -2.6 0.6 -3.0 1.6 3.8 2.2 0.7 2.2 0.7 2.2 0.5 0.2 1.0 2 -2.1 2.2 3.6 2.2 -2.9 2.2 -0.3 2.2 -0.3 0.5 -1.0 1.7 1.0 2.2 5.4 2.2 0.2 2.2 1.5 0.1 -1.5 2.1 2.3 2.2 2.6 2.2 -0.2 2.2 0.0 2.2 0.8 0.4 1.6 1.8 1.6 2.2 -3.6 2.2 -0.2 2.2 -2.0 2.2 5.1 2.2 1.9 2.2 4.7 1.8 2.1 0.4 -1.6 2.3 -0.7 2.2 -1.1 2.2 4.3 1.4 -1.6 0.8 1.4 2.2 0.8 2.2 -2.6 2.2 -1.8 1 0.4 1.2 -0.4 2.2 -3.3 2.2 -2.1 2.2 0.2 2.2 -1.8 2.2 1.3 1.9 2.5 0.3 0.1 2.2 -0.7 2.2 -1.2 2.2 -0.3 2.2 3.4 2.1 4.9 0.1 -2.1 2.2 -1.1 2.2 0.8 2.2 0.0 2.2 -0.8 2.2 -0.5 0.2 -0.2 2 -0.1 2.2 -2.1 2.2 -0.5 2 -0.8 0.2 -3.6 2.2 1.9 2.2 1.4 2.2 0.4 1.7 -0.7 0.6 2.7 2.2 5.2 2.2 3.2 0.6 2.7 1.6 0.2 2.2 1.1 1.8 2.0 0.4 0.1 2.2 -0.4 2.2 3.8 0.8 0.5 1.4 0.2 2.2 6.4 2.1 5.3 0.1 -1.2 2.2 0.8 2.2 -1.7 2.2 -3.3 2.2 -0.7 2.2 -2.8 0.1 2.1 2.1 0.4 2.2 1.0 2.2 -1.9 2.2 0.5 2.2 -0.1 0.4 -1.3 1.8 -0.4 2.2 -0.4 2.2 -2.7 2.2 -1.5 2.2 1.1 0.6 1.6 1.6 2.9 2.2 -0.2 2.2 -3.5 2.2 1.2 2.3 3.1 0.8 2.3 1.4 -2.1 2.2 0.5 2.2 -1.4 2.2 0.2 2.2 -0.5 1 -0.6 1.2 -1.2 2.2 0.6 2.2 -0.1 2.2 -3.1 2.2 1.0 1.3 -1.7 0.9 2.5 2.2 3.9 2.2 0.6 2.2 2.8 2.2 -4.0 1.5 0.5 0.7 -1.1 2.2 2.5 2.2 1.6 2.2 0.4 2.2 -0.6 1.8 1.7 0.4 2.7 2.2 -3.0 2.2 0.6 2.2 0.3 2.2 -2.2 2 -0.5 0.2 0.3 2.2 -0.7 2.2 0.9 2.2 -1.5 2.2 -0.2 2.3 -0.3" stroke="#3b3b3b" stroke-width="2.4" fill="none" stroke-linejoin="round"/>
<path d="M166.4 2459.8l2.2 2.5 2.3 2.7 2.2 3.3 1.8 -1.1 0.4 1.1 2.2 2.3 2.2 -1.3 2.2 -4.7 2.2 0.0 2 4.7 0.2 0.4 2.3 -3.4 2.2 -3.5 2.2 -1.3 2.2 -3.5 2.2 -0.9 2.2 0.9 2.2 1.6 2.2 0.8 2.3 1.6 2.2 -0.3 0.1 0.6 2.1 0.9 2.2 0.1 2.2 -0.6 2.2 -0.6 1.2 -0.5 1 -17.5 0.4 -5.9 1.8 0.5 2.3 0.8 2.2 2.5 2.1 -2.5 0.1 -1.8 2.2 2.9 2.2 0.2 2.2 0.8 2.2 1.7 2.2 -0.2 0.2 0.5 2.1 -2.5 2.2 -1.4 2.2 0.6 2.2 -0.9 2.2 -1.3 0.3 -1.4 1.9 1.4 2.2 1.1 2.2 1.1 2.1 1.7 0.2 -0.8 2.2 -2.0 2.2 -4.0 2.2 1.6 2.2 -1.3 2.2 -1.0 0.1 1.0 2.1 -1.4 2.2 -2.3 2.3 1.5 2.2 -0.4 2.2 -1.4 0.2 -1.5 2 1.3 2.2 1.4 2.2 0.6 2.2 -3.2 2.2 1.0 0.5 0.6 1.8 -1.7 2.2 1.4 2.2 2.0 2.2 3.2 2.2 1.3 0.6 -2.6 1.6 -0.1 2.2 1.9 2.2 0.1 2.3 -0.1 0.2 0.5 2 1.4 2.2 -0.8 2.2 0.8 2 2.0 0.2 -0.4 2.2 1.3 2.2 2.6 2.2 -2.6 1.6 -0.6 0.7 -0.6 2.2 -3.7 2.2 -1.4 2.2 1.5 1.2 3.4 1 -0.8 2.2 0.2 2.2 -3.8 2.2 1.1 2.3 -0.5 1.3 1.4 0.9 2.6 2.2 1.0 2.2 -0.1 2.2 1.2 2.2 -2.2 1.6 0.6 0.6 -0.1 2.2 -1.1 2.3 0.3 2.2 -1.5 2.2 0.8 1.7 0.3 0.5 -2.8 2.2 0.4 2.2 0.6 2.2 2.5 2.2 -3.8 2 -1.8 0.2 2.4 2.3 -1.4 2.2 -1.2 2.2 -0.1 1.5 -0.1 0.7 0.2 2.1 13.4 0.1 0.5 2.2 0.7 2.2 -0.2 2.2 1.9 2.3 0.1 2.2 0.8 0.1 0.2 2.1 -1.2 2.2 -0.2 2.2 0.9 2.2 -1.6 2.2 0.4 0.3 -1.1 1.9 1.8 2.3 -1.4 2.2 -0.4 2.2 1.9 2.2 2.5 0.5 -1.1 1.7 -0.7 2.2 0.8 2.2 -2.4 2.2 2.2 2.3 -2.4 0.6 1.8 1.6 -1.9 2.2 0.9 2.2 -2.6 2.2 -1.1 2.2 -1.2 0.9 -1.8 1.3 -0.4 2.2 3.3 2.3 0.6 2.2 -3.6 0.4 0.6 1.8 0.0 2.2 -0.7 2.2 -0.6 2.2 2.1 0.1 -0.9 2.1 2.1 2.2 6.3 2.3 -4.0 1.8 2.9 0.4 1.3 2.2 1.4 2.2 0.2 2.2 -0.9 1.4 0.5 0.8 0.8 2.2 0.6 2.2 4.7 2.3 -0.2 1 2.7 1.2 -4.4 2.2 2.0 2.2 0.9" stroke="#e5322b" stroke-width="2.8" fill="none" stroke-linejoin="round"/>
<text x="758.5" y="2300.4" font-size="15" fill="#222" text-anchor="middle" font-weight="bold">HO-BRT裂解价差季节性</text>
<path d="M614.0 2320.6h16" stroke="#3cbde6" stroke-width="1.6"/>
<circle cx="622.0" cy="2320.6" r="4.6" fill="#3cbde6"/>
<text x="635.5" y="2325.2" font-size="12.4" fill="#595959">2016</text>
<path d="M673.8 2320.6h16" stroke="#a987d6" stroke-width="1.6"/>
<circle cx="681.8" cy="2320.6" r="4.6" fill="#a987d6"/>
<text x="695.3" y="2325.2" font-size="12.4" fill="#595959">2017</text>
<path d="M733.6 2320.6h16" stroke="#f4834f" stroke-width="1.6"/>
<circle cx="741.6" cy="2320.6" r="4.6" fill="#f4834f"/>
<text x="755.1" y="2325.2" font-size="12.4" fill="#595959">2018</text>
<path d="M793.4 2320.6h16" stroke="#5fae4a" stroke-width="1.6"/>
<circle cx="801.4" cy="2320.6" r="4.6" fill="#5fae4a"/>
<text x="814.9" y="2325.2" font-size="12.4" fill="#595959">2019</text>
<path d="M853.2 2320.6h16" stroke="#2f6fcf" stroke-width="1.6"/>
<circle cx="861.2" cy="2320.6" r="4.6" fill="#2f6fcf"/>
<text x="874.7" y="2325.2" font-size="12.4" fill="#595959">2020</text>
<path d="M614.0 2343.0h16" stroke="#f9b43a" stroke-width="1.6"/>
<circle cx="622.0" cy="2343.0" r="4.6" fill="#f9b43a"/>
<text x="635.5" y="2347.6" font-size="12.4" fill="#595959">2021</text>
<path d="M673.8 2343.0h16" stroke="#4f94d8" stroke-width="1.6"/>
<circle cx="681.8" cy="2343.0" r="4.6" fill="#4f94d8"/>
<text x="695.3" y="2347.6" font-size="12.4" fill="#595959">2022</text>
<path d="M733.6 2343.0h16" stroke="#dcd72e" stroke-width="1.6"/>
<circle cx="741.6" cy="2343.0" r="4.6" fill="#dcd72e"/>
<text x="755.1" y="2347.6" font-size="12.4" fill="#595959">2023</text>
<path d="M793.4 2343.0h16" stroke="#3b3b3b" stroke-width="1.6"/>
<circle cx="801.4" cy="2343.0" r="4.6" fill="#3b3b3b"/>
<text x="814.9" y="2347.6" font-size="12.4" fill="#595959">2024</text>
<path d="M853.2 2343.0h16" stroke="#e5322b" stroke-width="1.6"/>
<circle cx="861.2" cy="2343.0" r="4.6" fill="#e5322b"/>
<text x="874.7" y="2347.6" font-size="12.4" fill="#595959">2025</text>
<text x="593.5" y="2351.7" font-size="13" fill="#5e5e5e" text-anchor="end">120</text>
<text x="593.5" y="2379.2" font-size="13" fill="#5e5e5e" text-anchor="end">100</text>
<text x="593.5" y="2406.6" font-size="13" fill="#5e5e5e" text-anchor="end">80</text>
<text x="593.5" y="2434.1" font-size="13" fill="#5e5e5e" text-anchor="end">60</text>
<text x="593.5" y="2461.6" font-size="13" fill="#5e5e5e" text-anchor="end">40</text>
<text x="593.5" y="2489.0" font-size="13" fill="#5e5e5e" text-anchor="end">20</text>
<text x="593.5" y="2516.5" font-size="13" fill="#5e5e5e" text-anchor="end">0</text>
<path d="M600.5 2374.6H946.6 M600.5 2402.0H946.6 M600.5 2429.5H946.6 M600.5 2457.0H946.6 M600.5 2484.4H946.6" stroke="#cfcfcf" stroke-width="1" stroke-dasharray="2 1" fill="none"/>
<rect x="600.5" y="2347.1" width="346.1" height="164.8" fill="none" stroke="#d4d4d4" stroke-width="1" stroke-dasharray="2 1"/>
<text x="601.3" y="2529.4" font-size="13" fill="#5e5e5e" text-anchor="middle">1月</text>
<text x="630.3" y="2529.4" font-size="13" fill="#5e5e5e" text-anchor="middle">2月</text>
<text x="659.3" y="2529.4" font-size="13" fill="#5e5e5e" text-anchor="middle">3月</text>
<text x="688.3" y="2529.4" font-size="13" fill="#5e5e5e" text-anchor="middle">4月</text>
<text x="717.3" y="2529.4" font-size="13" fill="#5e5e5e" text-anchor="middle">5月</text>
<text x="746.3" y="2529.4" font-size="13" fill="#5e5e5e" text-anchor="middle">6月</text>
<text x="775.3" y="2529.4" font-size="13" fill="#5e5e5e" text-anchor="middle">7月</text>
<text x="804.3" y="2529.4" font-size="13" fill="#5e5e5e" text-anchor="middle">8月</text>
<text x="833.3" y="2529.4" font-size="13" fill="#5e5e5e" text-anchor="middle">9月</text>
<text x="862.3" y="2529.4" font-size="13" fill="#5e5e5e" text-anchor="middle">10月</text>
<text x="891.3" y="2529.4" font-size="13" fill="#5e5e5e" text-anchor="middle">11月</text>
<text x="920.3" y="2529.4" font-size="13" fill="#5e5e5e" text-anchor="middle">12月</text>
<path d="M601.9 2496.7l2.2 -1.2 2.2 1.6 2.2 0.2 2.2 -0.8 2.2 0.1 2.2 0.5 2.3 -0.2 2.2 0.1 2.2 1.3 2.2 -2.4 2.2 -0.3 1 -0.1 1.2 0.7 2.2 -0.6 2.2 2.2 2.3 -0.2 2.2 -0.4 2.2 -1.3 2.2 0.0 2.2 0.6 2.2 0.3 2.2 -0.9 2.2 0.6 2.3 0.6 2.2 1.2 0.3 0.4 1.9 -0.4 2.2 -1.7 2.2 -0.1 2.2 -1.2 2.2 0.9 2.2 -0.5 2.3 -0.5 2.2 1.1 2.2 -0.5 2.2 -1.3 2.2 0.3 2.2 0.4 1.9 -0.9 0.3 -0.1 2.2 0.7 2.3 -0.6 2.2 0.6 2.2 -0.4 2.2 1.4 2.2 -0.7 2.2 1.0 2.2 0.9 2.2 -0.2 2.3 -0.7 2.2 0.5 2.2 0.4 1.2 -0.8 1 1.1 2.2 -0.5 2.2 -1.4 2.2 0.6 2.2 2.2 2.3 -0.4 2.2 -1.5 2.2 0.3 2.2 0.5 2.2 -0.7 2.2 -0.1 2.2 -0.6 2.2 -0.5 0.7 0.4 1.6 -0.4 2.2 0.3 2.2 1.0 2.2 0.3 2.2 -0.9 2.2 0.3 2.2 -0.5 2.2 0.3 2.3 0 2.2 -0.6 2.2 -0.4 1.6 -0.5 0.6 -0.6 2.2 0.1 2.2 -0.6 2.2 0.5 2.2 0.1 2.3 -0.1 2.2 0.8 2.2 0.4 2.2 -0.1 2.2 -1.2 2.2 -0.4 2.2 0.6 2.2 0.7 1 -2.3 1.2 -0.4 2.3 0.4 2.2 -0.5 2.2 1.2 2.2 -0.8 2.2 1.2 2.2 -0.2 2.2 0.7 2.2 0.5 2.3 -1.2 2.2 -0.8 2.2 1.7 2.2 0.3 0.3 -0.5 1.9 0.7 2.2 0 2.2 -0.7 2.2 -0.1 2.3 1.2 2.2 -0.5 2.2 0.7 2.2 -1.9 2.2 1.0 2.2 0.6 2.2 -0.9 2.2 1.0 2 0.5 0.3 -1.1 2.2 1.2 2.2 -0.6 2.2 -2.0 2.2 -0.4 2.2 0.1 2.2 -0.1 2.2 -0.5 2.3 -0.2 2.2 -0.1 2.2 -0.6 2.2 -0.5 2.2 -0.6 1.3 2.9 0.9 0 2.2 -0.4 2.2 -0.4 2.3 -0.5 2.2 -0.5 2.2 -0.5 2.2 0.5 2.2 -0.8 2.2 1.2 2.2 -0.2 2.2 -0.2 2.3 -0.2 2.2 1.3 0.6 -0.4 1.6 -0.7 2.2 -0.2 2.2 0.2 2.2 0.3 2.2 -0.1 2.2 -1.4 2.3 0.8 2.2 0.6 2.2 -1.3 2.2 -0.1 2.2 0.4 2.2 -0.9 2.2 -0.7" stroke="#3cbde6" stroke-width="1.8" fill="none" stroke-linejoin="round"/>
<path d="M601.9 2493.8l2.2 0.0 2.2 -0.2 2.2 -1.2 2.2 -1.2 2.2 0.7 2.2 0.7 2.3 0.3 2.2 0 2.2 0.9 2.2 -2.0 2.2 0.1 1 -0.4 1.2 1.1 2.2 1.1 2.2 0.3 2.3 -1.1 2.2 0.3 2.2 0.5 2.2 -0.6 2.2 -1.1 2.2 -0.2 2.2 -1.3 2.2 1.3 2.3 0.5 2.2 1.2 0.3 -0.8 1.9 -0.1 2.2 0.0 2.2 1.1 2.2 0.1 2.2 -2.9 2.2 1.2 2.3 -0.6 2.2 0.2 2.2 -0.1 2.2 0.5 2.2 1.0 2.2 -0.3 1.9 -1.1 0.3 1.6 2.2 -2.0 2.3 1.6 2.2 -1.6 2.2 -0.6 2.2 0.7 2.2 1.1 2.2 0.6 2.2 -0.4 2.2 -0.8 2.3 -0.1 2.2 0.5 2.2 0.5 1.2 -0.7 1 1.1 2.2 0.1 2.2 0.7 2.2 -1.1 2.2 -0.2 2.3 0.4 2.2 -0.8 2.2 -0.9 2.2 1.7 2.2 -0.6 2.2 -0.6 2.2 -0.2 2.2 0.0 0.7 -0.4 1.6 0.4 2.2 -0.8 2.2 -0.1 2.2 0.9 2.2 0.5 2.2 -1.3 2.2 0.7 2.2 0.4 2.3 0.4 2.2 -0.7 2.2 1.3 1.6 -1.6 0.6 0.5 2.2 -0.6 2.2 -0.8 2.2 1.0 2.2 -0.7 2.3 -0.4 2.2 -1.2 2.2 0.2 2.2 0 2.2 0.5 2.2 -1.2 2.2 -0.8 2.2 0.5 1 0.2 1.2 0.3 2.3 -0.3 2.2 -0.1 2.2 0.6 2.2 -0.5 2.2 0.1 2.2 0.1 2.2 -0.4 2.2 0.9 2.3 0.4 2.2 -0.3 2.2 -0.8 2.2 -0.3 0.3 0.7 1.9 1.6 2.2 -0.4 2.2 -1.1 2.2 -1.0 2.3 -0.3 2.2 0.0 2.2 1.0 2.2 0.5 2.2 -1.5 2.2 0.3 2.2 0.1 2.2 -0.9 2 -0.1 0.3 0.9 2.2 0.8 2.2 0.0 2.2 -1.6 2.2 0.1 2.2 -0.2 2.2 -0.9 2.2 1.5 2.3 -0.9 2.2 0.1 2.2 0 2.2 -0.2 2.2 -1.0 1.3 0.6 0.9 -0.1 2.2 -0.4 2.2 1.1 2.3 -0.6 2.2 0.1 2.2 0.4 2.2 -1.7 2.2 1.3 2.2 0 2.2 -0.8 2.2 0.4 2.3 0.2 2.2 0 0.6 0.3 1.6 0.1 2.2 0.9 2.2 0.5 2.2 0.9 2.2 -0.4 2.2 -1.1 2.3 -0.4 2.2 0.5 2.2 -0.6 2.2 -0.7 2.2 0.4 2.2 -0.4 2.2 0.9" stroke="#f4834f" stroke-width="1.8" fill="none" stroke-linejoin="round"/>
<path d="M601.9 2491.0l2.2 0.3 2.2 0.2 2.2 1.0 2.2 0.6 2.2 1.2 2.2 -1.3 2.3 -0.9 2.2 1.2 2.2 -0.4 2.2 0.8 2.2 -0.8 1 0.1 1.2 -1.1 2.2 1.7 2.2 -0.8 2.3 0.9 2.2 -0.5 2.2 0.2 2.2 0.3 2.2 0.9 2.2 -0.6 2.2 -1.2 2.2 0.5 2.3 0.1 2.2 -1.2 0.3 0 1.9 -0.4 2.2 -0.3 2.2 0.2 2.2 -0.1 2.2 0.5 2.2 -1.3 2.3 0.5 2.2 0.9 2.2 -0.5 2.2 0.2 2.2 -0.4 2.2 -1.1 1.9 0.7 0.3 0.1 2.2 -0.4 2.3 0.1 2.2 -1.2 2.2 1.5 2.2 0.9 2.2 -1.1 2.2 1.3 2.2 0.8 2.2 -1.7 2.3 0.3 2.2 -1.0 2.2 0.4 1.2 1.2 1 -0.9 2.2 1.1 2.2 0.2 2.2 -1.3 2.2 -1.5 2.3 1.3 2.2 -0.4 2.2 0.7 2.2 0.1 2.2 0.9 2.2 -0.4 2.2 0.5 2.2 -1.8 0.7 -0.6 1.6 1.2 2.2 -0.8 2.2 0.0 2.2 -1.7 2.2 -0.1 2.2 0.9 2.2 -0.2 2.2 -0.6 2.3 -0.1 2.2 -0.9 2.2 0.2 1.6 1.0 0.6 -0.2 2.2 0.2 2.2 -0.6 2.2 -0.5 2.2 -1.1 2.3 0.2 2.2 1.3 2.2 0.2 2.2 -0.8 2.2 -0.3 2.2 -1.4 2.2 -0.5 2.2 1.6 1 0.4 1.2 -0.1 2.3 -0.9 2.2 0.7 2.2 -0.5 2.2 0.2 2.2 -0.9 2.2 -0.1 2.2 0 2.2 0.2 2.3 -0.4 2.2 1.5 2.2 0.3 2.2 -1.0 0.3 -0.1 1.9 0 2.2 0.3 2.2 0.4 2.2 -0.3 2.3 0.6 2.2 0.7 2.2 0.0 2.2 -0.5 2.2 -1.3 2.2 1.0 2.2 0.1 2.2 -1.5 2 1.5 0.3 0.3 2.2 0.4 2.2 -0.2 2.2 -1.7 2.2 0.7 2.2 -0.8 2.2 0.3 2.2 0.3 2.3 -0.8 2.2 0.1 2.2 1.6 2.2 -1.3 2.2 0.0 1.3 0.3 0.9 -0.6 2.2 -0.1 2.2 0.2 2.3 -0.2 2.2 0.2 2.2 0.2 2.2 0.9 2.2 -0.7 2.2 0.3 2.2 -1.1 2.2 -1.4 2.3 -0.8 2.2 1.0 0.6 1.3 1.6 0.1 2.2 -0.1 2.2 0.1 2.2 0.5 2.2 0.3 2.2 0.0 2.3 0.7 2.2 -0.1 2.2 -1.2 2.2 1.1 2.2 0.4 2.2 1.0 2.2 -0.2" stroke="#a987d6" stroke-width="1.8" fill="none" stroke-linejoin="round"/>
<path d="M601.9 2486.9l2.2 0.2 2.2 -0.9 2.2 0.3 2.2 0.4 2.2 -0.4 2.2 -0.5 2.3 -0.1 2.2 0.4 2.2 0 2.2 0.2 2.2 0.2 1 1.1 1.2 -0.6 2.2 -0.7 2.2 -0.8 2.3 -1.1 2.2 0.7 2.2 1.0 2.2 -1.2 2.2 -0.4 2.2 0.4 2.2 -1.2 2.2 0.8 2.3 -0.6 2.2 2.1 0.3 -0.8 1.9 0.1 2.2 0.6 2.2 0.3 2.2 -0.8 2.2 0.5 2.2 0.1 2.3 -0.2 2.2 -0.5 2.2 1.4 2.2 0.6 2.2 -0.5 2.2 0.8 1.9 0.4 0.3 -1.8 2.2 0.2 2.3 1.5 2.2 0.9 2.2 -0.6 2.2 0.6 2.2 -0.8 2.2 0.3 2.2 0.0 2.2 0.8 2.3 -0.2 2.2 0.4 2.2 -0.6 1.2 1.1 1 -1.1 2.2 -0.5 2.2 -0.3 2.2 -0.6 2.2 -0.1 2.3 1.5 2.2 0.1 2.2 -2.3 2.2 1.4 2.2 -1.0 2.2 0.9 2.2 -0.4 2.2 0 0.7 -0.4 1.6 0.4 2.2 0.1 2.2 0.2 2.2 -0.9 2.2 1.2 2.2 -1.1 2.2 -0.2 2.2 0.3 2.3 0.3 2.2 -0.4 2.2 -0.2 1.6 -1.3 0.6 0.6 2.2 1.0 2.2 -0.4 2.2 -1.2 2.2 -0.5 2.3 0.1 2.2 0.1 2.2 -0.9 2.2 -0.2 2.2 1.5 2.2 -1.5 2.2 -0.1 2.2 2.2 1 0.1 1.2 -1.0 2.3 0.3 2.2 -1.1 2.2 -0.3 2.2 -1.4 2.2 0.7 2.2 1.8 2.2 -0.5 2.2 -0.2 2.3 -0.5 2.2 -0.5 2.2 0.1 2.2 1.3 0.3 -0.3 1.9 -0.4 2.2 1.7 2.2 -0.2 2.2 -0.5 2.3 -0.1 2.2 -0.3 2.2 -0.8 2.2 1.2 2.2 0.6 2.2 0.4 2.2 0.4 2.2 -1.0 2 0.0 0.3 0.6 2.2 -0.6 2.2 -1.5 2.2 0.8 2.2 -0.8 2.2 0.8 2.2 0 2.2 0.5 2.3 -0.5 2.2 0 2.2 -1.0 2.2 0.7 2.2 -0.6 1.3 0.7 0.9 0.0 2.2 -0.1 2.2 0.8 2.3 -0.5 2.2 0.0 2.2 0.2 2.2 -0.2 2.2 -0.1 2.2 -0.6 2.2 -0.1 2.2 -0.1 2.3 -0.9 2.2 0.1 0.6 0.4 1.6 0.1 2.2 -0.4 2.2 1.0 2.2 -0.8 2.2 -0.3 2.2 0.3 2.3 -0.8 2.2 -0.3 2.2 0.6 2.2 -0.3 2.2 1.0 2.2 -1.7 2.2 0.6" stroke="#5fae4a" stroke-width="1.8" fill="none" stroke-linejoin="round"/>
<path d="M601.9 2488.3l2.2 1.0 2.2 2.0 2.2 -0.4 2.2 1.7 2.2 0.4 0.2 -0.4 2.1 -1.6 2.2 0.2 2.2 -1.8 2.2 -0.7 2.2 -0.5 0.4 0.1 1.8 0.2 2.2 -0.2 2.2 0.9 2.3 0.9 2.2 0.7 2.2 -0.6 2.2 -0.3 1.7 1.0 0.5 0.2 2.2 0.1 2.2 -0.4 2.3 -0.7 2.2 0.4 2.2 -0.1 2.2 -1.5 2.2 1.1 0.9 -0.4 1.3 -0.8 2.2 -0.9 2.3 0.1 2.2 1.5 2.2 0.0 1.1 -0.6 1.1 -1.5 2.2 1.4 2.2 -0.9 2.2 -1.7 2.2 -1.5 2.3 0.2 1.8 -1.5 0.4 1.3 2.2 6.1 0.2 1.6 2 -0.4 2.2 1.7 2.2 1.6 2.2 1.0 2.3 2.7 0.4 -0.9 1.8 0 2.2 1.9 2.2 -0.3 2.2 1.3 2.2 2.5 0.6 -0.9 1.6 0.4 2.3 -0.5 2.2 0.4 2.2 0.4 2.2 1.1 0.8 -0.1 1.4 -0.4 2.2 -0.5 2.2 -0.3 2.2 0.1 2.3 -1.3 0.9 0.9 1.3 0.5 2.2 0.1 2.2 0.8 2.2 -1.1 2.2 0.1 1.2 2.3 1 -1.8 2.3 -3.2 2.2 0.9 2.2 1.0 2.2 -1.6 1.3 -1.9 0.9 0.6 2.2 1.5 2.2 -0.2 2.3 0.3 2.2 -0.6 1.5 -0.2 0.7 -1.4 2.2 1.2 2.2 1.3 2.2 -2.1 2.2 0.1 2.2 -1.0 2.3 -0.6 2.2 -0.3 0.7 -0.2 1.5 -0.2 2.2 0.1 2.2 0.7 2.2 -0.9 2.2 2.5 2.3 1.1 2.2 -0.9 2 0.7 0.2 0.4 2.2 0.1 2.2 -0.8 2.2 0 2.2 0.6 2.2 -0.1 2.3 0.6 2.2 1.4 1.2 0.8 1 -1.8 2.2 0.5 2.2 -0.2 2.2 0.6 2.2 1.2 2.3 -0.4 2.2 -0.1 2.2 0.1 0.4 1.0 1.8 1.0 2.2 -1.8 2.2 0.3 2.2 1.3 2.3 0 2.2 -0.7 2.2 0.0 1.8 1.0 0.4 1.3 2.2 -0.4 2.2 -1.3 2.2 -0.9 2.2 0.4 2.3 -0.3 2.2 -0.6 2.2 -0.7 0.9 0.3 1.3 0.1 2.2 -0.8 2.2 0.1 2.2 -0.7 2.3 2.2 2.2 -0.2 2.2 -1.0 2.2 -0.4 0.1 -0.8 2.1 -0.1 2.2 -0.7 2.2 -1.0 2.3 -0.5 2.2 0.9 2.2 -0.5 2.2 -1.1 1.5 -0.4 0.7 1.0 2.2 -0.3 2.2 -1.3 2.2 0.5 2.3 -0.8 2.2 -0.9 2.2 -0.7 2.2 -0.1 0.7 1.8 1.5 0.8 2.2 -1.9 2.2 0.6 2.3 -0.2 2.2 -0.1 2.2 1.3 2.2 -2.5 2 -0.9 0.2 2.3 2.2 -0.1 2.2 -0.5 2.3 -1.1 2.2 0.2 2.2 0.3" stroke="#2f6fcf" stroke-width="1.8" fill="none" stroke-linejoin="round"/>
<path d="M601.9 2494.5l2.2 0.7 2.2 0.9 2.2 0.1 2.2 0.4 2.2 -1.1 2.3 -0.4 2.2 -1.7 2.2 0.8 2.2 -0.6 2.2 0.5 2.2 0.6 1 -0.9 1.2 0.6 2.2 -0.5 2.3 0.9 2.2 -0.6 2.2 -0.6 2.2 0.7 2.2 -0.2 2.2 -0.2 2.2 -0.1 2.3 0.4 2.2 -1.8 2.2 0.6 2.2 -0.4 0.3 0.7 1.9 0 2.2 -0.1 2.2 1.5 2.3 0.0 2.2 0.6 2.2 -1.4 2.2 -0.2 2.2 -1.3 2.2 0.2 2.2 0.9 2.2 1.6 2.3 0.2 1.8 -1.1 0.4 -1.0 2.2 1.2 2.2 0.6 2.2 -1.4 2.2 -0.5 2.2 -0.5 2.3 0.1 2.2 0.3 2.2 0.5 2.2 -0.1 2.2 -1.0 2.2 -0.4 2.2 1.0 1.2 -0.5 1.1 0.5 2.2 -0.7 2.2 -1.0 2.2 0.6 2.2 0.3 2.2 0.1 2.2 -0.2 2.2 -0.1 2.3 -0.7 2.2 0.5 2.2 1.4 2.2 -0.4 2.2 -0.5 0.6 0 1.6 -1.0 2.2 1.3 2.3 0.4 2.2 0.4 2.2 0.5 2.2 -1.1 2.2 0.6 2.2 -0.8 2.2 -0.8 2.3 -0.7 2.2 0.4 1.5 0.5 0.7 0.8 2.2 -1.0 2.2 -0.2 2.2 -1.9 2.2 0.3 2.2 0.3 2.3 0.3 2.2 0.6 2.2 -0.3 2.2 -1.2 1.9 -1.0 0.3 0.2 2.2 1.4 2.2 0.6 2.3 -2.9 2.2 -1.7 2.2 0.8 2.2 1.2 2.2 -0.9 2.2 -0.9 1.7 -0.6 0.5 0 2.2 0.5 2.3 1.1 2.2 0.9 2.2 0 2.2 0.4 2.2 0.3 0.2 1.3 2 -1.0 2.2 0.8 2.3 -1.8 2.2 0.2 2.2 0 2.2 -2.4 2.2 0.9 1.6 -0.4 0.6 0.8 2.2 0.2 2.3 -0.4 2.2 2.3 2.2 -0.2 1.8 -0.2 0.4 0.1 2.2 -1.5 2.2 -1.0 2.2 -1.7 2.2 -1.3 2.3 -1.6 2.2 -0.4 0.3 -0.2 1.9 -0.1 2.2 -0.6 2.2 1.2 2.2 0.2 2.2 0.4 2.3 -1.5 1.1 -0.4 1.1 1.2 2.2 0.7 2.2 -1.0 2.2 0.4 2.2 0.9 2.2 -0.7 1.9 -0.7 0.4 1.0 2.2 1.2 2.2 1.3 2.2 0 2.2 0.6 2.2 0.6 2.2 -0.3 0.5 -0.9 1.7 0.7 2.3 0.7 2.2 0.2 2.2 0.1 2.2 1.0 2.2 -0.2 1.3 -0.8 0.9 1.3 2.2 0.8 2.3 -1.9 2.2 -1.5 2.2 0.2 2.2 -0.6 2 -0.2 0.2 -0.3 2.2 -1.5 2.2 0.5 2.3 1.0 2.2 -0.4 2.2 -0.8" stroke="#f9b43a" stroke-width="2.0" fill="none" stroke-linejoin="round"/>
<circle cx="642.0" cy="2494.0" r="5" fill="#f9b43a"/>
<circle cx="700.0" cy="2493.1" r="5" fill="#f9b43a"/>
<circle cx="760.0" cy="2491.4" r="5" fill="#f9b43a"/>
<circle cx="820.0" cy="2488.6" r="5" fill="#f9b43a"/>
<circle cx="900.0" cy="2485.3" r="5" fill="#f9b43a"/>
<path d="M601.9 2486.4l2.2 -2.4 2.2 -2.5 2.2 -0.9 2.2 -1.1 2.2 -5.1 0.2 -0.1 2.1 1.2 2.2 1.5 2.2 -1.2 2.2 0.4 2.2 1.9 0.4 -1.0 1.8 0.0 2.2 1.0 2.2 2.1 2.3 -2.4 2.2 -1.6 0.5 -2.7 1.7 2.9 2.2 1.0 2.2 -0.9 2.2 2.1 0.2 2.1 2 -1.6 2.3 0.8 1.3 0.1 0.9 -3.3 2.2 -4.2 2.2 -6.1 2.2 -5.0 0.9 -3.4 1.3 -1.4 2.2 1.0 0.7 -2.2 1.4 -22.7 0.2 3.2 1.2 30.6 1 -0.9 2.2 -1.4 1.1 -1.3 1.1 -2.4 2.2 -2.6 2.2 -3.9 0.1 0 2.1 -8.2 2.1 -7.9 0.1 -2.8 2.3 5.1 1.8 7.6 0.4 -0.5 2.2 3.9 2.2 1.3 0.8 -1.2 1.4 1.8 2.2 7.2 0.7 -0.5 1.5 -3.5 2.3 -5.9 0.4 -4.3 1.8 -2.5 2.2 -5.3 1.6 0 0.6 -0.1 2.2 -5.9 1.4 -2.6 0.8 -7.3 2 -19.4 0.2 -6.4 1.8 -35.4 0.5 7.2 1.8 21.5 0.4 3.2 2.2 19.9 0.2 0.5 2 13.7 0.8 8.3 1.4 -2.3 1.4 -1.8 0.8 0.2 2 6.5 0.2 1.2 2.2 3.5 2.3 3.7 0.9 3.2 1.3 -2.1 2.2 -1.6 2.2 -2.8 2.2 -0.8 2.2 1.8 1.2 -3.8 1 -2.8 1.8 -10.2 0.5 0.8 2.2 -4.0 1.5 0.6 0.7 1.7 2.2 2.5 1.3 1.3 0.9 -4.6 2.2 -8.1 1.1 -3.1 1.1 1.4 2.3 1.6 0.9 0.3 1.3 -4.6 1.5 -0.6 0.7 2.5 2.2 6.9 2.2 4.8 0.5 1.5 1.7 9.5 2.2 5.9 1.7 6.6 0.5 -0.2 2.3 -1.9 2.2 -6.4 2.2 -1.2 1.3 -2.4 0.9 1.0 2.2 8.7 2.2 3.6 0.3 1.8 1.9 -4.0 2.3 -2.8 1.4 0.5 0.8 1.8 2.2 0.2 2.2 4.5 0.5 1.8 1.7 -0.1 2.2 -4.3 1.7 0.5 0.5 -0.2 2.2 -1.8 2.3 -3.0 0.6 -2.2 1.6 -5.7 2.2 -4.1 1.8 -3.6 0.4 -3.4 2.2 -2.2 2.2 -3.6 0.9 -3.1 1.3 5.7 2.3 4.8 2 6.0 0.2 -3.3 2.2 -0.6 2.2 -2.3 2.2 0.0 0.2 -2.9 2 5.3 2.2 5.7 2.3 5.2 2.2 8.0 1.2 2.6 1 -1.7 2.2 -5.0 2.2 -5.6 0.2 -0.1 2 -1.4 2.2 0 1.4 0.7 0.8 -4.5 2.3 -10.4 2.2 -10.3 0.3 -0.6 1.9 -0.3 2.2 -3.1 1.5 -1.7 0.7 -0.6 2.2 -1.4 2.2 -5.3 0.6 0.7 1.7 8.8 1.1 5.7 1.1 -1.5 2.2 -4.1 0.9 1.9 1.3 -10.8 2.2 -17.0 0.2 -3.6 2 28.2 1.3 23.7 0.9 -4.2 1.9 -5.1 0.4 1.1 2.2 1.4 2.2 3.5 0.9 1.9 1.3 -1.9 2.2 1.2 2.1 -2.4 0.1 0.1 2.2 5.9 2.2 4.9 1.1 -2.5 1.2 1.3 2.2 -1.1 2.2 -1.7 2.2 9.2 2.2 7.0 1.3 4.5 0.9 -1.9 2.2 -1.7 2.3 -4.1 0.2 -0.7 2 -3.1 2.2 -2.3 1.4 -6.1 0.8 -1.7 2.2 2.7 2.2 3.6 0.4 2.3 1.8 -3.9 2.3 -2.1 2.2 -3.5 2.2 -6.2" stroke="#4f94d8" stroke-width="1.8" fill="none" stroke-linejoin="round"/>
<path d="M601.9 2446.5l2.2 -1.7 2.2 -1.4 1.2 -0.2 1 -0.7 2.2 -0.1 2.2 -0.1 0.2 -0.9 2.1 -5.2 2.2 -3.1 2.2 -3.4 0.6 -0.4 1.6 3.8 2.2 4.1 0.4 3.4 1.8 4.0 2.2 5.2 1.6 7.5 0.6 0.9 2.3 2.6 2.2 0.5 0.5 -0.6 1.7 0.9 2.2 0.2 1.7 0.6 0.5 1.1 2.2 1.6 2.2 1.5 0.8 -0.4 1.5 0.1 2.2 -3.2 2.2 0.4 2.2 -4.1 0.3 1.0 1.9 3.0 2.2 2.0 1.5 0.8 0.7 2.0 2.3 0.4 2.2 1.1 0.5 0.2 1.7 -2.0 2.2 -4.6 1.7 -4.3 0.5 -1.2 2.2 0.2 2.2 -1.4 2.2 -2.3 1.3 0.3 1 4.8 2.2 5.7 2.2 5.7 0.2 -0.7 2 2.0 2.2 1.7 1.5 2.1 0.7 0.6 2.2 -0.3 2.3 0.1 2.2 1.0 1 -1.3 1.2 1.3 2.2 0.0 2.2 3.7 2.2 -0.9 0.6 2.1 1.6 -1.0 2.3 0.9 2.2 0.4 2.2 1.8 2.2 -1.3 0.8 -0.6 1.4 0.4 2.2 -1.3 2.2 0.4 2.2 3.2 2.3 -0.8 0.9 0.1 1.3 -0.5 2.2 1.2 2.2 2.2 2.2 -0.1 2.2 2.6 1.2 1.1 1 -1.1 2.3 -2.8 2.2 -1.5 2.2 -2.8 2.2 0.2 2.2 -2.5 2.2 1.0 2.2 -1.7 2.3 -2.4 2.2 -1.4 1.5 -2.2 0.7 0.1 2.2 -0.5 2.2 -1.7 2.2 1.0 2.2 -0.7 1.7 0.8 0.5 0.9 2.3 -0.9 2.2 -1.2 2.2 -1.9 2.2 -1.3 1.9 1.5 0.3 0.5 2.2 -4.3 2.2 -1.8 2.3 -3.5 1.4 -1.4 0.8 -1.3 2.2 -1.6 2.2 -1.9 2.2 -2.2 1.1 0.4 1.1 -1.3 2.2 -1.6 2.2 -0.4 2.3 -0.9 0.6 -2.0 1.6 -0.3 2.2 -1.7 2.2 -2.2 2.2 -1.6 2.2 -1.6 0.9 -0.7 1.3 1.9 2.3 1.8 2.2 2.1 2.2 3.5 0.4 0.0 1.8 -1.8 2.2 -2.0 2.2 -2.9 2.2 -1.2 2.3 0.7 2.2 1.9 2.2 2.2 1.8 2.0 0.4 -0.1 2.2 0.8 2.2 2.6 2.2 1.5 1.4 0.0 0.8 1.1 2.3 2.7 2.2 2.1 2.2 2.5 0.9 1.2 1.3 -0.7 2.2 -2.4 2.2 -1.8 2.2 -0.3 2.3 3.0 2.2 1.2 1.7 -0.1 0.5 -0.3 2.2 0.9 2.2 -0.9 2.2 1.1 1.3 1.7 0.9 -0.1 2.3 -0.9 2.2 0.3 2.2 0.0 0.9 -1.7 1.3 0.9 2.2 -0.3 2.2 -0.6 2.2 -0.6 0.5 -0.4 1.7 -0.7 2.3 3.0 2.2 -1.0 2.2 1.2 2.2 1.3 0.7 1.0 1.5 -0.4 2.2 1.7 2.2 0.3 2.3 0.2 2.2 -0.7 0.8 -0.3 1.4 -1.4 2.2 1.0 2.2 1.0 2.2 1.1 0.4 0 1.8 1.4 2.3 2.3 2.2 1.0 2.2 0.4" stroke="#dcd72e" stroke-width="1.8" fill="none" stroke-linejoin="round"/>
<path d="M601.9 2468.6l2.2 1.3 2.2 -0.4 1.2 -0.9 1 0.7 2.2 -1.0 2.2 -1.2 2.3 0.3 0.7 -0.4 1.5 -0.1 2.2 -2.0 2.2 -1.9 2.2 -0.3 0.4 -0.3 1.8 0.3 2.2 0.3 2.2 1.0 2.2 0.1 0.1 -0.4 2.2 -2.8 2.2 -3.4 1.1 -2.2 1.1 0.9 2.2 2.3 2.2 2.4 0.2 -1.3 2 2.5 2.3 1.8 1.3 0.1 0.9 1.6 2.2 1.6 2.2 -0.5 2.2 1.5 0.9 0.8 1.3 0.6 2.2 2.2 2.3 -0.4 2.2 -1.3 0.5 2.1 1.7 -2.2 2.2 -2.3 1.7 0.5 0.5 1.9 2.2 2.7 2.2 0.9 0.7 1.6 1.5 1.3 2.3 1.5 1.8 -0.2 0.4 0.2 2.2 -1.3 2.2 0.4 2.2 0.2 1.5 0.2 0.7 -1.4 2.2 1.2 2.3 0.7 2.2 1.8 2.2 1.1 1.6 0.4 0.6 -0.2 2.2 2.1 2.2 -0.7 2.2 -0.8 2.3 2.0 1.8 -2.1 0.4 0.2 2.2 0.2 2.2 1.0 2.2 -0.8 2.2 -0.1 2 0.9 0.2 -2.4 2.2 2.3 2.3 1.4 2.2 -0.1 2.2 0.5 2.2 1.2 2.2 -0.4 2.2 -0.2 2.2 0.0 2.3 -2.2 2.2 -0.1 0.1 0.4 2.1 -0.3 2.2 -1.0 2.2 0.4 2.2 -0.1 2.2 0.4 2.3 2.9 2.2 -0.2 1.5 -4.0 0.7 -0.5 2.2 -1.3 2.2 -0.3 1.9 -0.8 0.3 -0.8 2.2 0.9 2.2 0.5 2.3 0.9 2.2 3.0 0.7 -0.4 1.5 0.9 2.2 0.6 2.2 0.3 2.2 -0.8 2.2 -0.8 0.9 -0.3 1.4 1.1 2.2 -0.5 2.2 0.0 2.2 1.8 2.2 -3.5 1.1 0.4 1.1 0.6 2.2 -0.1 2.2 0.8 2.3 1.6 2.2 1.9 1.2 0.8 1 -0.2 2.2 -0.6 2.2 -1.5 2.2 1.1 2.2 -0.3 1.5 0.1 0.8 -0.3 2.2 0.8 2.2 -0.7 2.2 -1.2 2.2 -0.8 1.6 0.2 0.6 0.1 2.2 0.8 2.3 1.1 2.2 -0.6 2.2 1.2 1.8 1.2 0.4 -0.4 2.2 1.2 2.2 -1.2 2.2 -0.6 2.2 -0.6 2 -0.1 0.3 -0.8 2.2 -0.5 2.2 0.6 2.2 -1.6 2.2 0.2 2.2 0.6 2.2 -1.3 2.3 1.5 2.2 -1.2 2.2 -1.0 2.2 0.7 0.1 1.0 2.1 1.0 2.2 -1.9 2.2 -1.8 2.3 -1.6 2.2 -0.1 0.3 1.4 1.9 1.0 2.2 -0.5 2.2 1.5 2.2 -1.1 2.2 0.7 0.5 -0.5 1.7 1.0 2.3 -1.1 2.2 0.2 2.2 -0.2 2.2 1.1 0.7 1.5 1.5 -0.8 2.2 -1.2 2.2 -0.6 2.3 0.0 2.2 0.9 0.8 -0.7 1.4 -0.3 2.2 0.3 2.2 0.2 2.2 0.5 2.2 0.2 1.1 0 1.2 -0.6 2.2 -0.4 2.2 -1.3" stroke="#3b3b3b" stroke-width="2.4" fill="none" stroke-linejoin="round"/>
<path d="M601.9 2481.4l2.2 -0.9 2.2 -0.7 2.2 -2.6 1.8 -0.8 0.4 2.2 2.2 -3.2 2.2 -3.8 0.8 -1.1 1.5 0.5 2.2 1.3 2.2 1.3 2.2 1.3 0.4 1.5 1.8 -0.6 2.2 0.4 2.2 0.5 2.2 -1.3 2.3 -2.3 0.5 -0.1 1.7 -0.1 2.2 -0.8 2.2 0.6 2.2 0.7 2.2 1.8 0.8 0.3 1.4 0.8 2.2 0.3 2.3 -0.3 2.2 1.0 2.2 -1.0 0.9 0.7 1.3 0.7 2.2 1.1 2.2 0.9 2.2 0.1 2.2 0.3 1.2 1.2 1.1 -1.6 2.2 1.7 2.2 0 2.2 0.1 2.2 -0.2 1.3 -1.0 0.9 0.4 2.2 1.6 2.2 -0.6 2.3 -1.3 2.2 -0.5 1.5 0.5 0.7 0.1 2.2 0.5 2.2 -1.1 2.2 -0.3 2.2 -0.9 1.7 1.3 0.5 -0.2 2.3 0.3 2.2 -0.2 2.2 -1.3 2.2 -0.6 1.9 -0.7 0.3 0.3 2.2 -0.3 2.2 0 2.2 0.1 2.3 0.5 2 0.8 0.2 -0.7 2.2 -1.3 2.2 0.9 2.2 2.1 2.2 -0.3 2.2 -0.4 0.1 -0.8 2.1 -1.0 2.3 2.4 2.2 0.9 2.2 -0.7 2.2 -0.3 0.2 0.7 2 -0.9 2.2 -2.3 2.2 -3.4 2 -1.5 0.2 0.9 2.3 -0.7 2.2 -0.3 2.2 -0.6 1.6 -1.5 0.6 -0.2 2.2 -0.9 2.2 0.6 2.2 -1.3 2.2 -0.5 1.8 -0.2 0.5 0.2 2.2 -0.6 2.2 -0.4 2.2 -1.0 2.2 -1.0 2.2 -0.6 2.2 -2.4 0.4 -0.4 1.8 0.6 2.2 4.1 2.3 3.0 2.1 2.0 0.1 -0.2 2.2 0.1 2.2 0.3 2.2 -0.7 2.2 2.6 2.2 -1.0 0.2 1.4 2 -0.7 2.3 -0.7 2.2 -1.1 2.2 0.8 2.2 -1.6 0.3 0.0 1.9 0.7 2.2 -0.8 2.2 0.8 2.2 1.2 2.3 -1.7 0.5 -2.7 1.7 -0.2 2.2 1.4 2.2 1.3 2.2 -1.0 2.2 0.1 0.7 0.5 1.5 -1.0 2.2 0.8 2.3 2.4 2.2 -0.7 2.2 0.5 0.9 -3.0 1.3 1.2 2.2 0.4 2.2 1.1 2.2 -0.5 2.2 -0.1 1.1 -1.7 1.2 0.3 2.2 1.7 2.2 -1.0 2.2 -2.0 2.2 -1.1 1.3 -1.4 0.9 0.5 2.2 -2.7 2.2 0.7 2.3 -2.6 0.8 -1.7 1.4 -0.7 2.2 -0.6 2.2 -0.6 2.2 -2.7 0.5 -1.1 1.7 -0.1 2.2 -1.9 1.7 -0.4 0.5 1.0 2.3 -2.8 2.2 -2.7 0.6 0.6 1.6 4.6 2.2 6.2 1.8 1.5 0.4 0.5 2.2 0.9 2.2 0.3 2.2 2.4 1.5 -1.9 0.8 0.8 2.2 0.5 2.2 1.4 2.2 0.6 1 0.0 1.2 0.5 2.2 1.3 2.2 3.1" stroke="#e5322b" stroke-width="2.8" fill="none" stroke-linejoin="round"/>
<text x="322.0" y="2570.2" font-size="15" fill="#222" text-anchor="middle" font-weight="bold">新加坡380燃料油-BRT裂解价差</text>
<path d="M181.0 2590.4h16" stroke="#3cbde6" stroke-width="1.6"/>
<circle cx="189.0" cy="2590.4" r="4.6" fill="#3cbde6"/>
<text x="202.5" y="2595.0" font-size="12.4" fill="#595959">2016</text>
<path d="M240.8 2590.4h16" stroke="#a987d6" stroke-width="1.6"/>
<circle cx="248.8" cy="2590.4" r="4.6" fill="#a987d6"/>
<text x="262.3" y="2595.0" font-size="12.4" fill="#595959">2017</text>
<path d="M300.6 2590.4h16" stroke="#f4834f" stroke-width="1.6"/>
<circle cx="308.6" cy="2590.4" r="4.6" fill="#f4834f"/>
<text x="322.1" y="2595.0" font-size="12.4" fill="#595959">2018</text>
<path d="M360.4 2590.4h16" stroke="#5fae4a" stroke-width="1.6"/>
<circle cx="368.4" cy="2590.4" r="4.6" fill="#5fae4a"/>
<text x="381.9" y="2595.0" font-size="12.4" fill="#595959">2019</text>
<path d="M420.2 2590.4h16" stroke="#2f6fcf" stroke-width="1.6"/>
<circle cx="428.2" cy="2590.4" r="4.6" fill="#2f6fcf"/>
<text x="441.7" y="2595.0" font-size="12.4" fill="#595959">2020</text>
<path d="M181.0 2612.8h16" stroke="#f9b43a" stroke-width="1.6"/>
<circle cx="189.0" cy="2612.8" r="4.6" fill="#f9b43a"/>
<text x="202.5" y="2617.4" font-size="12.4" fill="#595959">2021</text>
<path d="M240.8 2612.8h16" stroke="#4f94d8" stroke-width="1.6"/>
<circle cx="248.8" cy="2612.8" r="4.6" fill="#4f94d8"/>
<text x="262.3" y="2617.4" font-size="12.4" fill="#595959">2022</text>
<path d="M300.6 2612.8h16" stroke="#dcd72e" stroke-width="1.6"/>
<circle cx="308.6" cy="2612.8" r="4.6" fill="#dcd72e"/>
<text x="322.1" y="2617.4" font-size="12.4" fill="#595959">2023</text>
<path d="M360.4 2612.8h16" stroke="#3b3b3b" stroke-width="1.6"/>
<circle cx="368.4" cy="2612.8" r="4.6" fill="#3b3b3b"/>
<text x="381.9" y="2617.4" font-size="12.4" fill="#595959">2024</text>
<path d="M420.2 2612.8h16" stroke="#e5322b" stroke-width="1.6"/>
<circle cx="428.2" cy="2612.8" r="4.6" fill="#e5322b"/>
<text x="441.7" y="2617.4" font-size="12.4" fill="#595959">2025</text>
<text x="164.1" y="2621.5" font-size="13" fill="#5e5e5e" text-anchor="end">0</text>
<text x="164.1" y="2642.1" font-size="13" fill="#5e5e5e" text-anchor="end">-50</text>
<text x="164.1" y="2662.7" font-size="13" fill="#5e5e5e" text-anchor="end">-100</text>
<text x="164.1" y="2683.3" font-size="13" fill="#5e5e5e" text-anchor="end">-150</text>
<text x="164.1" y="2703.9" font-size="13" fill="#5e5e5e" text-anchor="end">-200</text>
<text x="164.1" y="2724.5" font-size="13" fill="#5e5e5e" text-anchor="end">-250</text>
<text x="164.1" y="2745.1" font-size="13" fill="#5e5e5e" text-anchor="end">-300</text>
<text x="164.1" y="2765.7" font-size="13" fill="#5e5e5e" text-anchor="end">-350</text>
<text x="164.1" y="2786.3" font-size="13" fill="#5e5e5e" text-anchor="end">-400</text>
<path d="M171.1 2637.5H512.3 M171.1 2658.1H512.3 M171.1 2678.7H512.3 M171.1 2699.3H512.3 M171.1 2719.9H512.3 M171.1 2740.5H512.3 M171.1 2761.1H512.3" stroke="#cfcfcf" stroke-width="1" stroke-dasharray="2 1" fill="none"/>
<rect x="171.1" y="2616.9" width="341.2" height="164.8" fill="none" stroke="#d4d4d4" stroke-width="1" stroke-dasharray="2 1"/>
<text x="171.9" y="2799.2" font-size="13" fill="#5e5e5e" text-anchor="middle">1月</text>
<text x="201.1" y="2799.2" font-size="13" fill="#5e5e5e" text-anchor="middle">2月</text>
<text x="230.3" y="2799.2" font-size="13" fill="#5e5e5e" text-anchor="middle">3月</text>
<text x="259.5" y="2799.2" font-size="13" fill="#5e5e5e" text-anchor="middle">4月</text>
<text x="288.7" y="2799.2" font-size="13" fill="#5e5e5e" text-anchor="middle">5月</text>
<text x="317.9" y="2799.2" font-size="13" fill="#5e5e5e" text-anchor="middle">6月</text>
<text x="347.1" y="2799.2" font-size="13" fill="#5e5e5e" text-anchor="middle">7月</text>
<text x="376.3" y="2799.2" font-size="13" fill="#5e5e5e" text-anchor="middle">8月</text>
<text x="405.5" y="2799.2" font-size="13" fill="#5e5e5e" text-anchor="middle">9月</text>
<text x="434.7" y="2799.2" font-size="13" fill="#5e5e5e" text-anchor="middle">10月</text>
<text x="463.9" y="2799.2" font-size="13" fill="#5e5e5e" text-anchor="middle">11月</text>
<text x="493.1" y="2799.2" font-size="13" fill="#5e5e5e" text-anchor="middle">12月</text>
<path d="M171.1 2616.9H512.3" stroke="#555" stroke-width="1.3"/>
<path d="M171.9 2616.9v4 M201.1 2616.9v4 M230.3 2616.9v4 M259.5 2616.9v4 M288.7 2616.9v4 M317.9 2616.9v4 M347.1 2616.9v4 M376.3 2616.9v4 M405.5 2616.9v4 M434.7 2616.9v4 M463.9 2616.9v4 M493.1 2616.9v4" stroke="#555" stroke-width="1"/>
<path d="M172.5 2661.0l2.2 -0.9 2.2 -0.5 2.2 -1.4 2.2 -0.4 2.2 -1.1 0.2 1.1 2 -0.3 2.2 -1.3 2.2 -0.5 2.2 0.4 2.3 -1.4 0.4 -0.5 1.8 1.0 2.2 1.2 2.2 1.8 2.2 0.6 2.2 1.2 0.6 -0.2 1.6 1.3 2.2 2.0 2.2 2.1 2.2 1.1 2.2 2.0 0.9 1.1 1.3 -0.8 2.2 0.9 2.2 0.3 2.2 -0.1 2.2 -0.4 1.1 -0.2 1.1 -0.2 2.3 -0.7 2.2 -0.4 2.2 -0.6 2.2 -0.6 1.3 -1.0 0.9 -0.5 2.2 0.5 2.2 1.1 2.2 0.1 2.2 0.1 1.5 -0.6 0.7 -0.7 2.2 -0.2 2.2 -0.7 2.2 -1.4 2.2 0.8 1.8 -0.1 0.4 1.1 2.2 1.7 2.2 1.7 2.3 0.3 2.2 0.9 1.9 2.2 0.3 -0.2 2.2 -0.4 2.2 0.0 2.2 -0.9 2.2 -1.0 2.2 0 2.2 -0.3 2.2 0.7 2.2 0.5 2.2 1.1 2.2 0.5 0.2 -0.7 2 -0.3 2.2 -0.7 2.2 -1.6 2.2 -1.5 2.2 -1.1 0.5 1.2 1.8 -0.3 2.2 -1.0 2.2 0.2 2.2 -0.5 2.2 -0.1 0.6 0.4 1.6 -0.7 2.2 -0.1 2.2 -1.7 2.2 0.1 2.2 -0.2 0.9 0.4 1.3 0.4 2.2 0.1 2.2 0.5 2.2 0.0 2.2 -0.7 2.2 -1.3 2.2 -0.9 2.3 1.6 2.2 -0.4 2.2 0.4 1.3 -0.3 0.9 0.9 2.2 -0.7 2.2 -0.3 2.2 0.3 2.2 -0.4 2.2 -0.6 2.2 0.0 2.2 -0.8 2.2 0.3 2.2 0.9 1.8 0.5 0.4 -1.6 2.2 1.4 2.2 0.3 2.2 0.5 2.2 -0.3 2 0.3 0.3 0.1 2.2 0.3 2.2 0.3 2.2 -0.5 2.2 -0.5 2.2 0 2.2 -0.4 2.2 -0.6 2.2 -0.2 2.2 0.5 2.2 -0.3 2.2 -1.6 2.2 -0.9 1.5 1.4 0.7 0.1 2.2 0.1 2.2 -0.3 2.2 -1.6 2.3 0.1 2.2 0.1 2.2 -0.2 2.2 -0.2 2.2 -0.3 2.2 -0.6 2.2 -0.7 2.2 -0.7 2.2 1.2 0.9 0.2 1.3 -1.5 2.2 -1.4 2.2 -0.6 2.2 0.4 2.2 0.1 2.2 -1.4 1.7 -0.6 0.5 -0.5 2.2 -0.7 2.3 -0.7 2.2 -0.3 2.2 -0.6 2.2 0.2 2.2 -1.0 0.3 -1.0 1.9 1.0 2.2 0.1 2.2 0.6 2.2 0.3 2.2 0.8 2.2 0.3 1.2 0.6 1 0.7 2.2 -1.5 2.2 0.8 2.2 -0.1 2.2 0.4 2.2 0.8 2 0.5 0.2 -0.6 2.3 0.7 2.2 0.9 2.2 -1.5 2.2 -0.4 2.2 -2.2" stroke="#3cbde6" stroke-width="1.8" fill="none" stroke-linejoin="round"/>
<path d="M172.5 2651.7l2.2 0.4 2.2 -0.5 2.2 0 2.2 0.3 2.2 -0.3 0.2 -0.1 2 -0.4 2.2 1.4 2.2 2.2 2.2 0.3 2.3 1.4 0.4 -0.4 1.8 -0.2 2.2 0.4 2.2 0 2.2 1.2 2.2 0.7 0.6 0.3 1.6 -0.5 2.2 -1.1 2.2 -1.0 2.2 -0.6 2.2 -1.7 0.9 -0.6 1.3 0.0 2.2 -0.3 2.2 -0.8 2.2 0.5 0.5 -0.4 1.7 0.7 2.2 0.7 2.3 0.2 2.2 0.6 0.1 0.3 2.1 -0.6 2.2 -0.7 2.2 -2.2 1.9 0.3 0.3 -0.1 2.2 0.8 2.2 2.0 2.2 -0.6 1.5 1.7 0.7 -0.3 2.2 0.8 2.2 -0.4 2.2 -1.4 2.2 -0.2 1.8 0.8 0.4 0.2 2.2 -2.4 2.2 -1.1 2.3 -2.0 1.3 0.1 0.9 0.3 2.2 -0.1 2.2 0.1 2.2 -0.3 1 0.1 1.2 -1.0 2.2 -0.1 2.2 0.3 2.2 -0.5 2.2 1.5 1.2 -0.2 1 -0.3 2.2 1.4 2.2 1.6 2.2 0.3 2.2 -0.4 1.5 1.2 0.7 -1.5 2.2 -1.3 2.2 0.0 2.3 -1.4 2.2 -1.8 1.6 -0.8 0.6 -0.4 2.2 0.6 2.2 -1.0 2.2 -0.6 2.2 -1.3 1.9 0.4 0.3 0.5 2.2 -1.7 2.2 -0.6 0.9 -1.2 1.3 0.2 2.2 0.6 2.2 1.1 2.2 0.6 2.2 -0.2 2.2 0.5 1.8 0.8 0.4 -0.1 2.3 -0.4 2.2 0.6 2.2 0.6 2.2 -0.1 2.2 1.0 2.2 -0.6 0.3 -0.9 1.9 0.7 2.2 0.0 2.2 1.1 2.2 -0.4 2.2 0.5 2.2 1.1 1.2 0.0 1 0.1 2.2 0.7 2.2 -0.1 2.2 -0.3 2.2 1.4 2.2 -0.8 2 0.3 0.3 -1.2 2.2 0.4 2.2 -1.1 2.2 0.7 2.2 -0.2 2.2 -0.1 2.2 -0.7 0.6 -0.4 1.6 0 2.2 0.6 2.2 1.0 2.2 0.6 2.2 0.7 2.2 0.2 1.5 1.0 0.7 -0.4 2.2 0.4 2.2 -1.0 2.2 0.5 2.3 -0.6 2.2 1.0 2.2 1.4 2.2 0.7 2.2 1.3 2.2 1.0 2.2 -0.9 2.2 0.8 2.2 0.2 0.9 0.4 1.3 -0.9 2.2 1.1 2.2 0.0 2.2 -0.7 2.2 0.1 2.2 0.2 1.7 0.1 0.5 -0.5 2.2 0.7 2.3 0.4 2.2 0.6 2.2 0.5 2.2 0.3 2.2 -0.3 0.3 1.4 1.9 -0.3 2.2 -0.7 2.2 0.1 2.2 -1.2 2.2 -0.7 2.2 -0.4 1.2 -1.0 1 1.0 2.2 1.6 2.2 2.5 2.2 0.4 2.2 2.6 1.4 2.1 0.8 -0.7 2.2 0.6 2.3 0.9 0.3 0.5 1.9 -0.9 2.2 -1.1 2.2 -0.2 2.2 -2.2" stroke="#a987d6" stroke-width="1.8" fill="none" stroke-linejoin="round"/>
<path d="M172.5 2667.1l2.2 0.1 2.2 0.2 2.2 0.7 2.2 1.3 2.2 -0.3 0.2 -0.3 2 0.1 2.2 -0.5 2.2 0.3 2.2 0.3 2.2 -0.7 0.5 0.2 1.7 -0.7 2.2 0.2 2.2 -1.2 2.2 0.1 2.2 0 0.7 -0.5 1.5 -1.5 2.2 -0.4 2.2 -0.2 2.2 -0.7 2.2 -1.3 1 0.1 1.2 0 2.2 1.6 2.2 1.5 2.2 0.6 0.6 1.0 1.6 -1.1 2.2 -0.6 2.2 -0.6 2.2 -0.6 0.3 0.3 1.9 2.0 2.3 1.8 2.2 1.8 2 1.1 0.2 -1.0 2.2 0.5 2.2 0.1 2.2 0.2 1.6 -0.4 0.6 -0.2 2.2 -1.1 2.2 -0.8 2.2 -0.6 2.2 -0.6 1.9 -0.1 0.3 0.5 2.2 0.4 2.2 0.2 2.2 0.4 2.2 0.9 2.1 -0.5 0.1 -0.2 2.2 -0.9 2.2 -0.5 2.2 -0.6 2.2 -1.1 2.2 0.9 0.2 0.4 2 -0.4 2.2 -0.2 2.2 0.2 2.2 0 2.2 -0.2 0.4 1.9 1.8 0.5 2.2 -1.5 2.2 -0.3 2.2 1.5 2.2 0.2 0.7 0.4 1.5 -0.4 2.2 -0.5 2.2 -0.9 2.2 -0.4 2.2 -0.1 0.9 -0.4 1.3 -0.4 2.2 -1.0 2.2 -1.2 2.2 -0.2 2.2 -0.2 1.2 0.5 1 -0.2 2.2 0.8 2.2 -0.3 2.2 -0.6 2.2 -0.6 2.2 -0.1 2.2 -0.8 2.2 -0.2 2.2 -0.2 2.2 -0.9 2.2 0 2.2 0.0 2.2 -0.2 0.7 0.7 1.5 -0.5 2.2 -0.1 2.3 -0.7 2.2 0.0 2.2 0.5 2.2 -0.1 2.2 -1.5 2.2 0.6 2.2 -0.8 2.2 -0.9 2.2 0.1 2.2 0.2 2.2 -1.0 0.1 -0.1 2.1 0.6 2.2 0.1 2.2 0.0 2.2 -0.9 2.2 0.5 2.2 0.0 2.2 -0.6 2.2 -0.4 2.2 0.2 2.2 0.2 2.2 -0.6 2.2 -0.1 1.9 1.1 0.3 0.8 2.2 -0.6 2.2 -0.5 2.2 -0.3 2.2 -0.6 2.2 -0.7 2.2 0.1 2.2 -0.3 2.2 0.3 2.2 -0.4 2.2 0.1 0.2 -0.1 2 -1.5 2.2 -1.5 2.2 -0.9 2.2 -0.7 2.2 -0.8 0.4 -0.2 1.8 -1.8 2.2 -1.7 2.2 -0.8 2.2 -0.5 2.2 -1.4 0.7 1.1 1.5 -1.7 2.2 -2.3 2.2 -1.7 2.2 -2.4 2.2 -2.8 0.9 -0.8 1.3 -2.3 1.5 -3.5 0.7 0.4 2.2 0.8 2.2 1.7 0.5 0.5 1.7 2.4 2.2 2.7 1.8 4.0 0.4 0.7 2.2 1.8 2.3 2.2 0.7 0.3 1.5 1.0 2.2 1.3 2.2 1.1 2.2 1.6 0.3 0.0 1.9 -1.2 2.2 0.4 2.2 -1.4 2.2 -0.3" stroke="#f4834f" stroke-width="1.8" fill="none" stroke-linejoin="round"/>
<path d="M172.5 2647.4l2.2 -0.6 2.2 -0.8 2.2 -0.1 1.8 -0.3 0.4 0.4 2.2 0.4 2.2 0.2 2.2 0.1 1.5 1.3 0.7 -1.1 2.2 -0.8 2.2 -1.0 2.2 -1.3 1.1 0.0 1.1 -0.2 2.2 -0.2 2.2 -0.6 2.2 -0.1 0.7 -0.8 1.5 0.3 2.2 0.7 2.2 1.7 2.2 0.6 0.4 2.2 1.8 -2.0 2.2 -1.6 2.2 -1.0 2.2 -2.4 2.2 0.8 2.2 1.4 2.2 0.5 1.9 1.6 0.3 1.0 2.2 0.4 2.2 1.6 2.3 1.0 1.4 1.8 0.8 -0.6 2.2 1.0 2.2 0.7 2.2 0.5 1 0.7 1.2 1.3 2.2 -0.1 2.2 -0.6 2.2 0.3 0.7 -0.2 1.5 -0.3 2.2 -1.3 2.2 0.1 2.2 1.3 0.3 -0.3 1.9 0.0 2.2 0.3 2.2 1.2 2.2 -0.1 2.2 0 0.5 1.9 1.7 -0.2 2.2 1.7 2.2 -0.3 2.2 -0.3 0.2 0.6 2 1.6 2.2 -0.1 2.2 0.9 2.2 0.4 2.2 0.8 0.4 -0.1 1.8 -0.4 2.2 -0.8 2.2 0.4 2.2 0.0 2.2 -0.5 0.7 -0.5 1.5 -0.5 2.2 -1.1 2.2 -1.6 2.2 0.2 2.2 -1.6 0.9 -1.0 1.3 0.7 2.2 0.7 2.2 1.4 2.2 1.3 2.2 0 1.2 1.9 1 -0.9 2.2 -0.1 2.2 0.5 2.2 -0.4 2.2 0.2 2.2 0.0 2.2 -0.8 2.2 0.2 2.2 0.1 2.2 0.6 2.2 -0.2 2.2 0.1 2.2 1.0 0.7 0.7 1.5 1.5 2.2 0.0 2.3 -0.4 2.2 0.4 2.2 1.0 2.2 -0.2 2.2 0.7 2.2 0.3 2.2 1.4 2.2 -0.2 2.2 0.3 2.2 0.3 2.2 0.3 0.1 0.1 2.1 1.6 2.2 2.2 2.2 1.2 2.2 1.3 2.2 2.9 0.4 0.5 1.8 0.1 2.2 0.9 1.6 0.8 0.6 0.5 2.2 -1.3 2.2 -1.7 2.2 0.3 1.3 -1.9 0.9 -28.0 0.5 -12.6 1.4 42.6 0.3 -0.2 2.2 1.8 2.2 0.6 2.2 1.0 2.2 0.7 2.2 1.3 2.2 1.3 0.5 -0.6 1.7 -0.2 2.2 2.5 2.2 0 2.2 1.6 2.2 1.5 2.2 0.9 1.4 -0.4 0.8 0.8 2.2 1.3 2.2 1.2 2.2 0.5 2.2 0.9 1.6 0.9 0.6 0.4 2.2 4.6 2.2 4.6 2.2 3.2 1.3 2.4 0.9 2.7 2.2 2.9 2.2 3.6 0.3 1.0 1.9 -1.6 2.2 -2.4 1.5 -1.0 0.7 0.4 2.2 0.7 2.2 -0.3 2.2 0.6 1.2 0.0 1 -0.5 2.2 -1.6 2.2 -0.2 0.2 -0.6 2.1 -3.2 2.2 -3.8 1.3 -1.0 0.9 0.4 2.2 0.7 2.2 2.5 0.3 -0.2 1.9 -5.1 0.9 -2.9 1.3 1.3 2.2 3.1 2.2 3.9" stroke="#5fae4a" stroke-width="1.8" fill="none" stroke-linejoin="round"/>
<path d="M172.5 2699.7l2.2 -6.9 2 -4.8 0.2 0.3 2.2 -5.9 1.8 -7.8 0.4 -0.3 2.2 -2.4 2.2 -3.7 2.2 -1.3 1.5 -1.8 0.7 0.9 2.2 1.3 2.3 2.4 2.2 1.0 1 1.7 1.2 -2.2 2.2 -2.9 2.2 -2.6 2.2 -3.4 0.6 -0.5 1.6 1.1 2.2 0.5 2.2 0.3 2.2 1.0 0.3 -0.9 1.9 0.6 2.2 0.1 2.2 0 2.1 0 0.1 -0.9 2.2 -3.3 2.2 -3.1 1.1 -1.0 1.1 -2.4 2.3 -4.5 2.2 -4.5 0.1 0.5 2.1 -6.3 2.2 -7.4 1.3 -4.3 0.9 1.6 2.2 1.6 2.2 2.5 0.3 -0.7 1.9 -3.3 2.2 -4.4 0.1 0.6 2.1 -0.1 2.2 -1.7 1.4 -0.8 0.8 6.6 2 12.6 0.2 0.7 2.2 -3.2 1.8 -2.0 0.4 -0.1 2.2 0.8 2.2 0.2 0.8 1.1 1.5 -1.2 2.2 -2.5 1.9 -1.6 0.3 -0.6 2.2 -3.4 1.8 -2.6 0.4 1.7 2.2 7.7 1.6 5.7 0.6 0.4 2.2 -0.4 2.2 -0.6 2.2 0.0 1.2 -1.2 1 0.1 2.2 1.9 2.2 0.2 2.2 1.2 0.8 0.8 1.4 -0.5 2.2 0.8 2.2 -0.7 2.2 -1.2 0.5 1.0 1.8 0.4 2.2 -0.1 2.2 0.1 2.2 -1.5 2.2 -0.2 0.6 -1.3 1.6 1.0 2.2 0.3 2.2 0.5 2.2 -0.4 2.2 1.8 0.9 0.8 1.3 0 2.2 -0.8 2.2 0 2.2 -0.7 2.2 0 1.1 -0.3 1.1 0.7 2.2 0.5 2.3 -0.1 2.2 1.0 2.2 0.0 1.3 0.7 0.9 0.2 2.2 -0.1 2.2 0.4 2.2 0.1 2.2 -1.0 1.5 1.6 0.7 -1.5 2.2 0.9 2.2 -0.1 2.2 -0.2 2.2 -0.2 1.8 0.0 0.4 0 2.2 0 2.2 0.3 2.2 0.4 2.2 -0.6 2 -0.3 0.3 -1.4 2.2 -0.2 2.2 -0.2 2.2 0.0 2.2 -0.2 2.2 -1.0 2.2 -1.3 2.2 0 2.2 -1.2 1.8 -0.7 0.4 0.2 2.2 1.5 2.2 0.1 2.2 -0.2 1.5 1.2 0.7 -0.7 2.2 0.3 2.2 1.1 2.2 -0.4 1.1 0.2 1.2 0.7 2.2 1.2 2.2 -1.2 2.2 -0.2 0.6 1.0 1.6 -0.3 2.2 -2.9 2.2 -1.0 2.2 -1.6 2.2 -1.6 0.9 0.1 1.3 -0.9 2.2 -0.6 2.2 -1.4 2.2 -1.1 1.9 -1.5 0.3 -0.3 2.2 2.1 2.2 2.7 2.2 1.3 0.2 0.5 2.1 -0.5 2.2 -0.2 2.2 -0.1 2.2 0.2 2.2 0.2 0.3 -0.6 1.9 1.6 2.2 1.3 2.2 1.3 2.1 -0.3 0.1 0.8 2.2 -0.4 2.2 0.9 2.2 1.8 1.8 0.7 0.4 0.3 2.2 0.3 2.2 0.0 2.2 1.7 2.2 -0.7 2 0.5 0.2 -0.4 2.3 -0.1 2.2 -1.0 2.2 -0.3 2.2 -0.3 2.2 -1.9" stroke="#2f6fcf" stroke-width="1.8" fill="none" stroke-linejoin="round"/>
<path d="M172.5 2649.1l2.2 0.1 2.2 0.0 2.2 0.9 2.2 1.2 2.2 0.9 0.2 0.1 2 -0.4 2.2 0.2 2.2 -0.9 2.2 0.5 2.3 -1.0 0.4 0.6 1.8 -0.3 2.2 -0.4 2.2 1.5 2.2 1.1 2.2 1.3 0.6 1.0 1.6 -0.1 2.2 1.4 2.2 0.5 2.2 0.7 2.2 0.8 0.9 0.4 1.3 1.9 2.2 0.7 2.2 0.5 2.2 0 2.2 -0.4 1.1 -0.2 1.1 -0.6 2.3 0.6 2.2 -0.5 2.2 -1.6 2.2 -0.2 1.3 0.4 0.9 0.6 2.2 0 2.2 -0.5 2.2 0.7 2.2 -1.6 1.5 -0.4 0.7 -0.3 2.2 1.1 2.2 0.2 2.2 -0.8 2.2 1.8 1.8 0.1 0.4 -0.1 2.2 0.1 2.2 1.8 2.3 -0.7 2.2 1.1 1.9 0.6 0.3 0.7 2.2 -0.5 2.2 1.2 2.2 0.4 2.2 0.3 2.2 0.6 2.2 -0.4 2.2 0.9 2.2 0.3 2.2 0.4 2.2 2.4 0.2 -0.4 2 0.7 2.2 0.9 2.2 0.1 2.2 1.7 2.2 -0.3 0.5 0.6 1.8 -1.4 2.2 -1.1 2.2 0.0 2.2 -0.4 2.2 0.3 0.6 -0.6 1.6 0.4 2.2 0.2 2.2 0.3 2.2 1.2 2.2 -0.7 0.9 0.8 1.3 -0.1 2.2 0.6 2.2 0.1 2.2 0.2 2.2 -0.1 1.1 1.4 1.1 -0.5 2.2 -1.3 2.3 1.2 2.2 -1.8 2.2 0.2 1.3 -0.1 0.9 0.2 2.2 0.1 2.2 -0.4 2.2 0.3 2.2 0.9 1.5 0.8 0.7 -0.3 2.2 -0.1 2.2 -1.8 2.2 -2.5 2.2 -0.6 1.8 1.2 0.4 0 2.2 -2.1 2.2 1.4 2.2 0.2 2.2 -1.3 2 -1.7 0.3 0.4 2.2 0 2.2 0.9 2.2 0.3 2.2 -0.6 2.2 1.7 2.2 -1.3 2.2 -0.3 2.2 1.1 2.2 -0.8 2.2 -1.2 0.2 0.7 2 -0.1 2.2 -0.3 2.2 -1.3 2.2 -0.8 2.2 -0.6 0.5 -0.6 1.7 0.4 2.3 -0.2 2.2 0.0 2.2 0.9 2.2 -0.3 0.6 0 1.6 2.5 2.2 1.1 2.2 3.0 2.2 2.3 2.2 1.5 0.9 0.2 1.3 1.3 2.2 1.5 2.2 3.3 2.2 1.1 0.5 0.7 1.7 0.0 2.2 0.0 2.2 -1.2 2.2 0.3 0.2 -0.2 2.1 -1.0 2.2 -0.7 2.2 0.2 2.2 -0.4 2.2 0.8 0.3 0.5 1.9 -2.4 2.2 -0.7 2.2 -1.5 2.2 -0.4 2.2 -0.4 0.6 1.0 1.6 -1.0 2.2 0.7 2.2 1.2 2.2 0 2.2 0.9 0.8 -0.3 1.4 0.4 2.2 0.7 2.2 -0.1 2.3 -0.8 2.2 -1.3 1 0.4 1.2 -1.1 2.2 0 2.2 0.3" stroke="#f9b43a" stroke-width="2.2" fill="none" stroke-linejoin="round"/>
<circle cx="180.0" cy="2650.7" r="5" fill="#f9b43a"/>
<circle cx="236.0" cy="2659.8" r="5" fill="#f9b43a"/>
<circle cx="292.0" cy="2667.0" r="5" fill="#f9b43a"/>
<circle cx="350.0" cy="2671.9" r="5" fill="#f9b43a"/>
<circle cx="410.0" cy="2666.8" r="5" fill="#f9b43a"/>
<circle cx="470.0" cy="2680.5" r="5" fill="#f9b43a"/>
<path d="M172.5 2680.3l2.2 0.3 2.2 1.7 1.2 0.6 1 0.3 2.2 0.2 2.2 0.9 2.2 1.9 0.9 -0.6 1.3 -2.4 2.2 -4.0 2.1 -3.9 0.1 0.9 2.3 1.9 2.2 2.7 1 2.5 1.2 1.5 2.2 -0.8 2.2 1.2 2.2 -0.4 0.6 2.1 1.6 0.7 2.2 0.7 2.2 -0.5 2.2 4.0 0.3 0.6 1.9 1.3 2.2 3.8 1.5 2.1 0.7 2.4 2.2 1.9 2.2 3.6 0.5 1.0 1.7 8.1 2.2 10.0 0.3 3.3 2 -10.7 2.2 -12.9 0.1 -0.6 2.1 8.7 0.7 1.5 1.5 -8.6 1.3 -10.2 0.9 3.5 2.2 5.5 1.1 -0.2 1.1 6.2 1.7 7.5 0.5 -2.9 2.2 -13.3 1.5 -9.7 0.7 -0.1 2.2 -4.3 1.4 -2.4 0.8 -2.1 2.2 -7.6 1.2 -4.2 1 2.4 2.2 7.5 1 3.2 1.2 1.8 2.2 1.7 0.8 1.3 1.5 -4.6 2.2 -6.5 1.9 -6.4 0.3 1.0 2.2 -0.8 2.2 -2.8 1 -1.4 1.2 2.2 2.2 3.2 2.2 4.5 2.2 5.6 2.2 4.9 1.2 1.5 1 0.2 2.2 4.0 2.2 3.9 0.2 -0.4 2 0.2 2.2 2.5 1.5 1.8 0.7 3.6 2.2 7.5 2.2 7.5 0.5 2.4 1.8 5.6 2.2 13.0 0.2 -0.8 2 -5.0 2.2 -8.8 2.2 17.2 0.6 4.1 1.6 -6.1 2.2 -10.1 0.4 -3.6 1.8 -6.6 2.2 -10.2 0.3 -2.1 1.9 4.7 0.9 11.3 1.3 0.2 2.2 -3.8 2.1 -2.1 0.1 1.5 2.2 -3.1 2.2 -4.9 1.1 -0.6 1.1 7.3 1.8 10.0 0.4 0.6 2.3 -3.4 2.2 -3.9 0.7 -2.5 1.5 5.2 2.2 6.3 1.9 5.9 0.3 0.4 2.2 4.7 2.2 -0.1 0.9 -0.2 1.3 3.0 2.2 1.8 0.8 1.8 1.4 -8.2 2.2 -12.3 0.6 -4.0 1.6 -6.8 1.2 -7.2 1 1.3 2.2 0.7 2.2 2.2 0.2 1.4 2 -9.2 0.8 -3.2 1.4 2.1 2.2 2.3 0.6 -0.4 1.7 6.4 2.2 6.7 0.4 -0.7 1.8 1.8 2.2 1.9 1.6 -2.0 0.6 1.1 2.2 0.4 2.2 1.1 0.6 0.2 1.6 3.1 2.2 3.9 1.8 4.8 0.4 1.3 2.2 -2.4 2.2 -3.0 0.9 -0.6 1.3 -0.8 2.2 -1.6 2.1 -3.6 0.1 1.3 2.2 1.3 2.2 3.5 1.1 0.3 1.2 -4.8 1.6 -4.9 0.6 1.4 2.2 9.5 2.2 5.6 0.6 3.6 1.6 0.2 2.2 1.1 1.9 -0.2 0.3 2.0 2.2 2.7 2.2 0.4 0.9 0.0 1.3 1.4 2.2 0.8 2.1 3.0 0.1 -0.2 2.2 4.1 0.5 0.5 1.7 -3.4 2.2 -6.3 1.7 -3.7 0.5 0.8 2.2 -6.3 2.3 -1.6 0.7 -1.1 1.5 -2.0 2.2 -1.0 1.9 -1.4 0.3 -1.7 2.2 -8.1 0.3 -2.2 1.9 -1.0 2.2 -2.8 1.5 -2.4 0.7 1.6 2.2 7.6 2.2 6.1 0.6 1.4 1.6 -5.4 2.2 -6.4 1.8 -4.2 0.4 -0.6 2.2 -6.2 1.6 -6.0 0.6 0.0 2.2 3.0 1.4 4.1 0.8 -0.1 2.2 -4.2 2.3 -0.1 0.3 0.1 1.9 2.4 2.2 1.4 2.2 2.7 2.2 2.2" stroke="#4f94d8" stroke-width="1.8" fill="none" stroke-linejoin="round"/>
<path d="M172.5 2711.2l2.2 2.8 2.2 3.3 2.2 3.3 1.8 1.2 0.4 0.5 2.2 -0.3 2.2 -0.2 2.2 -0.6 1.5 -0.1 0.7 -1.3 2.2 -2.4 2.3 -4.0 2.2 -0.8 1 -1.4 1.2 0.4 2.2 0.2 2.2 0.5 2.2 1.2 0.6 1.1 1.6 -2.6 2.2 -2.0 2.2 -2.8 2.2 -4.2 0.3 0.2 1.9 -3.1 2.2 -1.4 1.5 -1.2 0.7 1.4 2.2 -1.1 2.2 -0.4 0.5 -0.6 1.7 -1.1 2.2 -0.3 2.3 -1.8 2.2 -2.2 0.1 0.5 2.1 -2.6 2.2 -2.6 2.2 -1.2 1.9 -1.7 0.3 -0.4 2.2 -0.2 2.2 2.1 2.2 0.7 1.5 0.3 0.7 -0.5 2.2 -0.6 2.2 -2.0 2.2 -1.4 1.2 -1.8 1 0 2.2 0.3 2.2 1.3 2.2 2.5 0.8 0 1.5 -1.1 2.2 -1.7 2.2 -1.3 2.2 -1.0 0.3 -1.6 1.9 -0.2 2.2 -1.5 2.2 0 2.2 -1.5 2.2 -0.1 2.2 0.2 2.2 0.5 2.2 -1.0 2.2 2.0 0.2 -0.7 2 -0.7 2.2 -0.4 2.2 1.7 2.2 -0.7 2.2 0.1 0.5 0.2 1.8 -0.1 2.2 -0.7 2.2 0.7 2.2 0.1 2.2 -0.3 0.6 1.6 1.6 -0.5 2.2 -1.1 2.2 0.8 2.2 0.3 2.2 -0.7 0.9 0.1 1.3 -1.2 2.2 0.4 2.2 -1.1 2.2 0.8 2.2 -0.1 2.2 -1.4 2.2 0.1 2.3 -0.4 0.1 -0.1 2.1 0.7 2.2 -1.3 2.2 -0.6 2.2 0 2.2 -0.2 2.2 -0.3 2.2 0.1 1.5 1.1 0.7 1.2 2.2 -0.9 2.2 -0.8 2.2 -0.1 2.2 -0.1 2.2 0.6 2.2 -0.6 2.2 0.4 0.8 0.6 1.4 -1.4 2.2 0.9 2.3 0.3 2.2 1.0 2.2 0.1 2.2 0 2.2 1.5 2.2 0.7 2.2 0.8 2.2 1.2 2.2 1.9 1.8 1.4 0.4 1.1 2.2 2.6 2.2 3.0 2.2 3.2 1.5 1.1 0.7 1.0 2.2 0.2 2.2 -2.5 2.2 -0.8 1.1 1.5 1.2 0.4 2.2 3.7 2.2 2.3 2.2 -0.5 2.2 -1.8 2.2 -0.4 1.9 -1.9 0.3 0.3 2.2 1.0 2.2 0.7 2.2 1.3 1.5 1.9 0.7 -0.6 2.2 2.0 2.2 2.1 2.2 0.2 1.1 1.3 1.1 -2.7 1.7 -4.5 0.5 -0.3 2.2 -2.9 2.3 -0.6 2.2 -2.2 1.3 -1.7 0.9 -0.3 2.2 -0.6 2.2 -0.9 2.2 -2.5 0.9 0.2 1.3 -2.1 2.2 -1.2 2.2 -1.7 2.2 -1.6 0.6 -0.2 1.6 1.3 2.2 -1.2 2.2 -0.3 2.2 -0.9 2.2 -0.5 0.8 0.9 1.4 -0.7 2.2 0.6 2.2 1.0 2.3 0.5 2.2 -0.2 1 1.0 1.2 -1.3 2.2 -1.1 2.2 -1.0" stroke="#dcd72e" stroke-width="1.8" fill="none" stroke-linejoin="round"/>
<path d="M172.5 2671.2l2.2 1.7 2.2 2.9 1.2 1.6 1 1.5 2.2 0.9 2.2 1.1 2.2 0.1 0.9 2.5 1.3 0.0 2.2 2.0 2.2 1.9 2.3 1.5 0.4 1.6 1.8 -3.2 2.2 -3.4 1.6 -3.2 0.6 0.6 2.2 2.5 2.2 3.1 0.6 -0.9 1.6 1.0 2.2 2.4 1.9 2.5 0.3 0.4 2.2 -1.8 2.2 -1.0 2.2 -1.4 1.5 0.1 0.7 1.2 2.2 1.4 2.2 1.2 0.5 0.1 1.7 -2.8 2.2 -5.1 2.3 -3.2 2.2 -4.0 0.1 0.2 2.1 0.3 2.2 1.7 2.2 1.3 1.9 0.9 0.3 0 2.2 -1.0 2.2 0.4 2.2 0.4 1.5 0.5 0.7 0.9 2.2 0.3 2.2 1.7 2.2 0.4 1.2 1.5 1 -0.5 2.2 -1.0 2.2 -0.5 2.2 -0.4 0.8 -0.9 1.5 -1.6 2.2 -0.8 2.2 -1.2 2.2 -2.1 0.3 -0.4 1.9 -1.3 2.2 -1.0 1.6 -1.0 0.6 -2.2 0.8 -2.7 1.4 -0.8 2.2 -0.7 2.2 -1.7 1.2 0.5 1 -0.5 2.2 -1.1 2.2 -0.4 2.2 -0.3 0.8 -1.3 1.4 0 2.2 -0.1 2.2 0.6 2.2 -1.8 0.5 0.8 1.8 -1.7 2.2 -1.4 1.6 -0.5 0.6 1.4 2.2 3.3 2.2 2.7 0.6 0.2 1.6 0.3 2.2 0.9 1.9 1.6 0.3 0 2.2 1.0 2.2 0.2 0.9 -4.0 1.3 0.5 2.2 0.0 2.2 -0.2 2.2 0.4 2.2 0.4 1.1 -0.1 1.1 1.3 2.2 0 2.3 -0.2 2.2 -0.3 2.2 0.5 1.3 1.1 0.9 0.6 2.2 -1.0 2.2 -1.3 2.2 0 2.2 -0.5 1.5 -0.9 0.7 0.1 2.2 1.8 2.2 0.2 2.2 1.2 2.2 0.1 1.8 0.8 0.4 0.8 2.2 -0.9 2.2 0.5 2.2 -0.7 2.2 1.4 2 -0.7 0.3 1.2 2.2 -1.3 2.2 0.4 2.2 0.4 2.2 0.8 2.2 1.7 2.2 -0.6 2.2 0.5 2.2 -0.5 2.2 1.0 2.2 0.1 0.2 0.2 2 -2.9 2.2 -1.1 1.5 -2.0 0.7 0 2.2 2.0 2.2 1.2 2.2 0.0 1.1 1.0 1.2 1.9 2.2 3.4 0.8 2.5 1.4 -4.8 2.2 -5.6 0.6 -1.8 1.6 -0.6 2.2 1.3 1.9 0.3 0.3 -1.4 2.2 -2.2 2.2 -1.5 0.9 -1.6 1.3 -0.7 2.2 -0.4 2.1 -1.2 0.1 -0.8 2.2 2.0 2.2 1.5 1.1 -0.7 1.1 1.1 2.2 2.1 2.2 2.5 0.2 0.6 2.1 -0.5 2.2 -0.7 1.3 -1.4 0.9 -0.8 2.2 -1.1 2.2 -1.9 0.3 -0.9 1.9 -1.4 2.2 -0.4 2.2 -1.3 2.1 -1.7 0.1 -1.0 2.2 -0.7 0.6 -0.7 1.6 0.9 2.2 1.5 2.2 2.6 2.2 1.2 0.2 -0.5 2 -1.4 2.2 0.0 2.2 -0.8 2 0 0.2 -1.4 2.3 0.1 2.2 0.7 2.2 0.8 2.2 0.2 2.2 1.1" stroke="#3b3b3b" stroke-width="2.4" fill="none" stroke-linejoin="round"/>
<path d="M172.5 2663.6l2.2 1.2 2.2 0.6 2.2 0.1 1.8 0.7 0.4 -0.7 2.2 -2.4 2.2 0.4 2.2 -2.1 1.5 -1.0 0.7 -1.3 2.2 -2.5 2.2 -1.5 2.2 -2.1 1.1 -1.4 1.1 -0.6 2.3 -0.8 2.2 -0.1 2.2 -1.7 0.6 -0.5 1.6 0.3 2.2 -1.0 2.2 -0.6 2.2 -0.1 0.3 0.2 1.9 0.2 2.2 1.0 2.2 1.3 2.1 0.5 0.1 0.0 2.2 0.9 2.2 0.5 1.1 1.3 1.1 -0.4 2.2 -0.7 2.2 -0.6 2.2 -0.5 0.8 -0.1 1.4 1.4 2.2 1.0 2.2 1.1 2.2 1.4 0.4 0 1.8 0.1 2.2 -0.1 2.3 0.4 2.1 0.5 0.1 0.4 2.2 -8.2 0.6 -2.4 1.6 0.4 2.2 -0.8 2.2 -0.6 2.2 -1.3 0.2 0.1 2 -0.4 2.2 -0.5 2.2 -1.6 2 -0.3 0.2 0.0 2.2 -0.2 2.2 -1.1 2.2 -1.3 1.7 0.4 0.5 -0.7 2.2 2.0 2.2 -0.3 2.2 0.7 1.3 1.2 0.9 -0.8 2.2 -1.5 2.2 -1.4 2.2 -2.3 0.9 -0.4 1.3 -0.2 2.2 -2.0 0.8 -0.4 1.5 1.5 2.2 3.6 0.5 -0.3 1.7 1.7 2.2 1.3 1.7 0.7 0.5 0.4 2.2 1.9 2.2 1.2 0.7 0.3 1.5 1.5 2.2 1.3 2 1.8 0.2 0.1 2.2 1.4 2.2 2.3 1 -13.6 1.2 2.8 2.2 4.5 2.2 4.3 2.2 0.9 2.2 0.6 2.2 1.1 2.2 0.3 2.2 0.7 0.3 0.0 1.9 0.8 2.2 -0.1 2.2 0.9 2.3 0.2 2.2 1.2 0.4 0.1 1.8 0.1 2.2 -0.3 2.2 -0.6 2.2 -0.7 2.2 -0.5 0.7 -0.2 1.5 -1.4 2.2 -3.1 1.9 -2.4 0.3 0 2.2 2.0 2.2 1.8 2.2 2.4 2.2 1.6 2.1 0.6 0.1 1.1 2.2 0.1 2.2 0.3 2.2 0.1 2.2 0.7 2.2 -0.3 0.2 0.1 2 0.7 2.2 -0.6 2.2 0.1 2.2 1.1 2.3 1.4 0.3 -0.9 1.9 -1.7 2.2 -0.6 2.2 0.2 2.2 -1.1 2.2 -1.9 0.6 -0.4 1.6 0.3 2.2 -0.2 2.2 0.4 2.2 -0.2 2.2 -0.9 0.8 0.8 1.4 -0.2 2.2 -1.1 2.2 -0.1 2.2 0.3 2.2 0.9 1.1 -0.3 1.1 1.2 2.2 -1.0 2.2 1.0 2.2 0.8 2.2 0.9 1.3 0.1 0.9 0.9 2.2 -0.6 2.3 -0.5 2.2 0.6 0.9 0.2 1.3 0.9 2.2 1.4 2.2 0.7 2.2 1.6 0.5 0.1 1.7 -0.3 2.2 0.5 2.2 0.5 2.2 -0.7 0.1 0.6 2.1 -0.8 2.2 -0.5 2.2 -0.5 2 -0.4 0.2 -0.4 2.2 -0.6 2.2 -0.5 2.2 -0.8 2.2 0.8 2.2 -1.1" stroke="#e5322b" stroke-width="2.8" fill="none" stroke-linejoin="round"/>
<text x="758.5" y="2570.2" font-size="15" fill="#222" text-anchor="middle" font-weight="bold">汽油-取暖油价差季节性</text>
<path d="M614.0 2590.4h16" stroke="#3cbde6" stroke-width="1.6"/>
<circle cx="622.0" cy="2590.4" r="4.6" fill="#3cbde6"/>
<text x="635.5" y="2595.0" font-size="12.4" fill="#595959">2016</text>
<path d="M673.8 2590.4h16" stroke="#a987d6" stroke-width="1.6"/>
<circle cx="681.8" cy="2590.4" r="4.6" fill="#a987d6"/>
<text x="695.3" y="2595.0" font-size="12.4" fill="#595959">2017</text>
<path d="M733.6 2590.4h16" stroke="#f4834f" stroke-width="1.6"/>
<circle cx="741.6" cy="2590.4" r="4.6" fill="#f4834f"/>
<text x="755.1" y="2595.0" font-size="12.4" fill="#595959">2018</text>
<path d="M793.4 2590.4h16" stroke="#5fae4a" stroke-width="1.6"/>
<circle cx="801.4" cy="2590.4" r="4.6" fill="#5fae4a"/>
<text x="814.9" y="2595.0" font-size="12.4" fill="#595959">2019</text>
<path d="M853.2 2590.4h16" stroke="#2f6fcf" stroke-width="1.6"/>
<circle cx="861.2" cy="2590.4" r="4.6" fill="#2f6fcf"/>
<text x="874.7" y="2595.0" font-size="12.4" fill="#595959">2020</text>
<path d="M614.0 2612.8h16" stroke="#f9b43a" stroke-width="1.6"/>
<circle cx="622.0" cy="2612.8" r="4.6" fill="#f9b43a"/>
<text x="635.5" y="2617.4" font-size="12.4" fill="#595959">2021</text>
<path d="M673.8 2612.8h16" stroke="#4f94d8" stroke-width="1.6"/>
<circle cx="681.8" cy="2612.8" r="4.6" fill="#4f94d8"/>
<text x="695.3" y="2617.4" font-size="12.4" fill="#595959">2022</text>
<path d="M733.6 2612.8h16" stroke="#dcd72e" stroke-width="1.6"/>
<circle cx="741.6" cy="2612.8" r="4.6" fill="#dcd72e"/>
<text x="755.1" y="2617.4" font-size="12.4" fill="#595959">2023</text>
<path d="M793.4 2612.8h16" stroke="#3b3b3b" stroke-width="1.6"/>
<circle cx="801.4" cy="2612.8" r="4.6" fill="#3b3b3b"/>
<text x="814.9" y="2617.4" font-size="12.4" fill="#595959">2024</text>
<path d="M853.2 2612.8h16" stroke="#e5322b" stroke-width="1.6"/>
<circle cx="861.2" cy="2612.8" r="4.6" fill="#e5322b"/>
<text x="874.7" y="2617.4" font-size="12.4" fill="#595959">2025</text>
<text x="598.2" y="2621.5" font-size="13" fill="#5e5e5e" text-anchor="end">50</text>
<text x="598.2" y="2654.5" font-size="13" fill="#5e5e5e" text-anchor="end">0</text>
<text x="598.2" y="2687.4" font-size="13" fill="#5e5e5e" text-anchor="end">-50</text>
<text x="598.2" y="2720.4" font-size="13" fill="#5e5e5e" text-anchor="end">-100</text>
<text x="598.2" y="2753.3" font-size="13" fill="#5e5e5e" text-anchor="end">-150</text>
<text x="598.2" y="2786.3" font-size="13" fill="#5e5e5e" text-anchor="end">-200</text>
<path d="M605.2 2649.9H946.6 M605.2 2682.8H946.6 M605.2 2715.8H946.6 M605.2 2748.7H946.6" stroke="#cfcfcf" stroke-width="1" stroke-dasharray="2 1" fill="none"/>
<rect x="605.2" y="2616.9" width="341.4" height="164.8" fill="none" stroke="#d4d4d4" stroke-width="1" stroke-dasharray="2 1"/>
<text x="606.0" y="2799.2" font-size="13" fill="#5e5e5e" text-anchor="middle">1月</text>
<text x="635.0" y="2799.2" font-size="13" fill="#5e5e5e" text-anchor="middle">2月</text>
<text x="664.0" y="2799.2" font-size="13" fill="#5e5e5e" text-anchor="middle">3月</text>
<text x="693.0" y="2799.2" font-size="13" fill="#5e5e5e" text-anchor="middle">4月</text>
<text x="722.0" y="2799.2" font-size="13" fill="#5e5e5e" text-anchor="middle">5月</text>
<text x="751.0" y="2799.2" font-size="13" fill="#5e5e5e" text-anchor="middle">6月</text>
<text x="780.0" y="2799.2" font-size="13" fill="#5e5e5e" text-anchor="middle">7月</text>
<text x="809.0" y="2799.2" font-size="13" fill="#5e5e5e" text-anchor="middle">8月</text>
<text x="838.0" y="2799.2" font-size="13" fill="#5e5e5e" text-anchor="middle">9月</text>
<text x="867.0" y="2799.2" font-size="13" fill="#5e5e5e" text-anchor="middle">10月</text>
<text x="896.0" y="2799.2" font-size="13" fill="#5e5e5e" text-anchor="middle">11月</text>
<text x="925.0" y="2799.2" font-size="13" fill="#5e5e5e" text-anchor="middle">12月</text>
<path d="M605.2 2649.9H946.6" stroke="#555" stroke-width="1.3"/>
<path d="M607.5 2638.3l2.2 0.3 2.2 2.9 1.2 1.3 1 -1.4 2.2 0.2 2.2 0.2 2.2 -0.6 0.9 -0.6 1.3 0.1 2.2 1.0 2.2 1.6 2.3 1.1 0.4 -0.1 1.8 0.8 2.2 1.2 2.2 1.9 2.2 0.2 2.2 -0.6 0.6 1.1 1.6 -1.4 2.2 1.7 2.2 1.6 2.2 -0.6 2.2 -2.1 0.9 0.8 1.3 0.7 2.2 -4.9 2.2 -2.5 2.2 -2.1 0.5 -1.1 1.7 -0.9 2.2 -0.6 2.3 -0.9 2.2 0.5 0.1 -0.9 2.1 -1.5 2.2 0.8 2.2 -1.9 2.2 -0.8 2.2 -0.7 0.3 0.8 1.9 -0.9 2.2 -0.8 2.2 -1.3 2.2 -0.7 2.2 1.2 0.6 -0.3 1.6 -0.4 2.2 1.2 2.2 0.3 2.2 1.2 2.2 0.1 0.8 -0.1 1.5 1.1 2.2 1.1 2.2 0.5 2.2 0.2 2.2 0.6 1 -2.1 1.2 0.6 2.2 1.5 2.2 1.5 2.2 -0.7 2.2 0 1.2 0.8 1 -0.2 2.2 0.9 2.2 0 2.2 -1.1 2.2 1.0 1.5 1.6 0.7 -0.6 2.2 -1.6 2.2 1.8 2.3 0.3 2.2 1.8 1.6 -1.0 0.6 -0.4 2.2 0.8 2.2 -1.0 2.2 0.1 2.2 1.0 1.9 0.9 0.3 0.6 2.2 0.1 2.2 -0.6 0.9 2.3 1.3 1.8 2.2 -1.3 2.2 1.1 2.2 -0.5 2.2 -0.5 2.2 0.2 2.2 -0.3 2.3 -0.7 0.1 0.4 2.1 0.6 2.2 0.2 2.2 0.8 2.2 -0.3 2.2 -1.0 2.2 1.7 2.2 1.5 1.5 0.6 0.7 -1.3 2.2 0.7 2.2 0.9 2.2 -0.3 2.2 -0.5 2.2 -0.4 2.2 0.1 2.2 1.1 0.8 0.9 1.4 -0.2 2.2 -1.6 2.3 -0.9 2.2 0.6 2.2 0.1 2.2 -2.1 1.6 -0.8 0.6 1.9 2.2 2.3 2.2 -0.4 2.2 2.4 2.2 -0.5 2.2 0.7 2.2 -0.7 0.2 0.5 2 -1.6 2.2 1.2 2.2 0 2.2 0.8 2.2 -1.0 2.2 -0.3 2.3 0.6 1.6 0.4 0.6 -1.8 2.2 0.9 2.2 1.8 2.2 -0.5 2.2 0.1 2.2 1.2 2.2 -0.7 2.2 0.3 0.9 -0.4 1.3 -1.6 2.2 0.5 2.2 2.1 2.2 1.6 2.2 -2.1 1.1 -1.0 1.1 0.2 2.2 -0.3 2.2 1.9 2.3 1.9 2.2 0.2 1.3 0.5 0.9 -1.0 2.2 1.9 2.2 0.2 2.2 -1.2 2.2 -0.6 1.5 -0.3 0.7 -0.2 2.2 1.2 2.2 -1.1 2.2 1.1 2.2 -0.6 1.8 -1.6 0.4 -0.4 2.2 0.3 2.2 0 2.2 1.2 2.2 -1.2 2 -0.3 0.2 -0.5 2.3 -2.2 2.2 1.0 2.2 -1.8 2.2 0.6 2.2 0.2" stroke="#3cbde6" stroke-width="1.8" fill="none" stroke-linejoin="round"/>
<path d="M607.5 2649.5l2.2 0.2 2.2 0.8 2.2 -1.0 2.2 2.8 2.2 1.2 0.2 -0.4 2 -0.7 2.2 -0.1 2.2 1.9 2.2 -0.5 2.3 1.5 0.4 -0.2 1.8 0.1 2.2 0.3 2.2 -0.9 2.2 2.1 2.2 -0.5 0.6 -0.5 1.6 -1.0 2.2 0.6 2.2 0.5 2.2 0.6 2.2 -2.6 0.9 1.5 1.3 -1.4 2.2 -2.4 2.2 -2.0 2.2 0.0 2.2 -0.6 1.1 -1.5 1.1 0.5 2.3 -0.1 2.2 -0.6 2.2 -1.4 2.2 0.1 1.3 -0.3 0.9 -0.1 2.2 0.3 2.2 -1.5 2.2 0.9 2.2 -0.7 1.5 -0.4 0.7 -0.7 2.2 1.6 2.2 -1.3 2.2 -2.3 2.2 0.6 1.8 0.9 0.4 0.7 2.2 0.0 2.2 0.9 2.3 0.6 2.2 -0.1 1.9 -0.8 0.3 1.7 2.2 -0.1 2.2 -0.3 2.2 -1.0 2.2 0.2 2.2 1.4 2.2 -0.1 2.2 0.1 2.2 -0.2 2.2 0.5 2.2 0.4 0.2 -1.3 2 1.1 2.2 0.6 2.2 2.2 2.2 1.3 2.2 0.5 0.5 -0.8 1.8 0.3 2.2 0.4 2.2 1.1 2.2 0.2 2.2 -0.2 0.6 -0.7 1.6 -0.3 2.2 -0.9 2.2 1.1 2.2 0.3 2.2 1.9 0.9 -9.6 1.3 0.7 2.2 -1.1 2.2 0.6 2.2 0.1 2.2 -0.8 2.2 1.6 2.2 0.4 2.3 1.2 0.1 1.1 2.1 -0.4 2.2 -0.8 2.2 1.5 2.2 -1.4 2.2 0.8 2.2 0.3 2.2 1.4 1.5 0.3 0.7 -0.4 2.2 -1.2 2.2 0.1 2.2 -0.8 2.2 -1.1 2.2 0.5 2.2 -0.4 2.2 -0.1 0.8 1.7 1.4 -0.3 2.2 -0.9 2.3 -1.8 2.2 -0.9 2.2 -1.1 2.2 1.0 1.6 -0.2 0.6 -8.7 0.8 -11.8 1.4 22.5 2.2 1.2 2.2 1.3 2.2 0.6 2.2 -0.3 2.2 0.2 0.2 -0.8 2 -0.2 2.2 0.8 2.2 1.3 2.2 2.4 2.2 -1.5 2.2 -1.0 2.3 1.8 1.6 0.2 0.6 0.5 2.2 -1.7 2.2 0.7 2.2 0.4 2.2 -0.1 2.2 2.1 2.2 0.6 2.2 -1.6 0.9 -1.0 1.3 0.3 2.2 -0.9 2.2 1.6 2.2 0 2.2 1.3 2.2 1.1 1.7 -0.4 0.5 0.2 2.2 1.3 2.3 -0.2 2.2 0.6 2.2 0.4 2.2 1.7 2.2 1.0 0.3 -1.4 1.9 0.2 2.2 0 2.2 0.4 2.2 -0.6 2.2 0.9 0.6 -0.3 1.6 1.4 2.2 0.3 2.2 1.5 2.2 0.3 2.2 0.6 0.8 -1.1 1.4 1.0 2.2 1.1 2.2 0.2 2.3 1.3 2.2 0.9 1 -0.2 1.2 0.8 2.2 0.1 2.2 1.0" stroke="#a987d6" stroke-width="1.8" fill="none" stroke-linejoin="round"/>
<path d="M607.5 2657.0l2.2 0.9 2.2 0.9 2.2 1.1 2.2 -0.7 2.2 1.1 0.2 -0.7 2 -0.1 2.2 0.7 2.2 0.8 2.2 0.7 2.3 1.7 0.4 -1.6 1.8 0.4 2.2 -1.1 2.2 -1.3 2.2 0.9 2.2 0.6 0.6 -1.5 1.6 -1.5 2.2 0.1 2.2 1.8 2.2 -0.5 2.2 -1.9 0.9 -1.8 1.3 -0.7 2.2 -0.8 2.2 -0.1 2.2 -0.7 2.2 -1.4 1.1 -0.6 1.1 -1.1 2.3 -1.1 2.2 2.0 2.2 -0.7 2.2 -0.4 1.3 -1.7 0.9 1.8 2.2 1.0 2.2 -0.2 2.2 -2.3 2.2 -0.4 1.5 0.5 0.7 -0.1 2.2 -0.7 2.2 0.9 2.2 -1.5 2.2 0.8 1.8 0.8 0.4 0.1 2.2 -0.1 2.2 -1.5 2.3 1.0 2.2 0.1 1.9 0.2 0.3 -0.1 2.2 -0.1 2.2 -0.9 2.2 1.0 2.2 -1.2 2.2 -0.6 2.2 0.6 2.2 1.0 2.2 -0.5 2.2 0.6 2.2 0.2 0.2 -0.2 2 0.5 2.2 0 2.2 2.4 2.2 -0.8 2.2 0.1 0.5 -1.1 1.8 1.4 2.2 -0.3 2.2 -1.2 2.2 1.7 2.2 0.9 0.6 -1.0 1.6 0.8 2.2 -0.1 2.2 0.2 2.2 1.4 2.2 -1.3 0.9 -1.5 1.3 0.1 2.2 1.4 2.2 -0.1 2.2 1.7 2.2 -1.7 2.2 0.9 2.2 -2.4 2.3 0.3 0.1 -0.3 2.1 0.6 2.2 -1.1 2.2 0.1 2.2 -0.5 2.2 2.0 2.2 -1.5 2.2 -0.7 1.5 2.1 0.7 1.2 2.2 0.3 2.2 -0.9 2.2 -0.4 2.2 -0.3 2.2 0.5 2.2 0.7 2.2 -0.8 0.8 -0.1 1.4 -0.6 2.2 1.0 2.3 0.8 2.2 1.2 2.2 -1.5 2.2 0.3 1.6 0.6 0.6 0.7 2.2 1.9 2.2 2.2 2.2 3.3 1.2 1.9 1 0.9 2.2 0.0 2.2 -0.7 2.2 0.5 2.2 0.3 1.5 1.0 0.7 1.1 2.2 1.4 2.2 0.4 2.2 -0.7 2.3 1.2 1.6 -1.7 0.6 0.6 2.2 -0.2 2.2 0.7 2.2 -0.9 2.2 0.9 1.9 1.4 0.3 -0.6 2.2 -0.5 2.2 1.4 2.2 0.1 2.2 -2.0 2.1 0.3 0.1 0.9 2.2 2.4 2.2 1.9 2.2 0.1 2.2 1.9 2.2 0.9 0.2 0.5 2.1 -0.2 2.2 0.6 2.2 0.4 2.2 0.2 2.2 0 0.3 0.8 1.9 -0.2 2.2 0 2.2 -1.2 2.2 -0.8 2.2 -0.2 0.6 0.2 1.6 -0.9 2.2 -0.3 2.2 -0.4 2.2 -0.1 2.2 0 0.8 -1.0 1.4 0.8 2.2 -1.7 2.2 -0.1 2.3 1.2 2.2 -1.9 1 0.1 1.2 0.2 2.2 -1.6 2.2 -1.5" stroke="#f4834f" stroke-width="1.8" fill="none" stroke-linejoin="round"/>
<path d="M607.5 2673.9l2.2 1.5 2.2 1.1 2.2 0.4 1.8 1.2 0.4 0.5 2.2 0 2.2 1.4 2.2 -0.3 2.2 0.4 2.1 0.0 0.1 0.8 2.3 0.2 2.2 -2.0 2.2 -0.4 2.2 -0.7 2.2 -0.4 2.2 0.4 2.2 -0.5 2.2 -0.9 2.2 -1.0 2.2 -0.7 0.3 -0.3 1.9 -1.7 2.2 -2.1 2.2 -0.6 2.1 -3.5 0.1 0.1 2.2 -0.6 2.2 -3.3 2.2 -1.7 2.3 -0.9 2.2 -1.6 0.1 0.8 2.1 -2.7 2.2 0.1 2.2 -0.6 2.2 -1.0 2.2 0.5 0.3 0.6 1.9 -0.3 2.2 -0.9 2.2 0.3 2.2 -0.6 2.2 -0.5 0.6 1.3 1.6 0.1 2.2 0.1 2.2 -1.2 2.2 -0.3 2.2 0.4 0.8 -0.3 1.5 -1.3 2.2 0.3 2.2 0.9 2.2 0.0 2.2 0.9 1 -1.0 1.2 -1.0 2.2 1.0 2.2 -1.6 2.2 0.5 2.2 -0.5 1.2 -0.2 1 -0.4 2.2 -1.1 2.2 3.2 2.2 -0.6 2.2 -1.8 1.5 -1.0 0.7 -1.3 2.2 1.0 2.2 -0.6 2.3 1.3 2.2 2.0 1.6 -0.3 0.6 -1.0 2.2 -0.1 2.2 -1.1 2.2 1.7 2.2 0.6 1.9 -0.6 0.3 0.4 2.2 -0.3 2.2 0.5 0.9 -1.0 1.3 -0.5 2.2 1.1 2.2 1.5 2.2 -0.3 2.2 -0.6 2.2 -2.1 2.2 0.1 2.3 0.6 0.1 0.1 2.1 0.3 2.2 -1.1 2.2 0.2 2.2 -0.1 2.2 1.4 2.2 -1.7 2.2 -2.0 1.5 0.1 0.7 1.7 2.2 0.9 2.2 0.7 2.2 -0.4 2.2 -0.6 2.2 0.7 2.2 -0.7 2.2 0.8 0.8 0.5 1.4 1.2 2.2 0.3 2.3 0 2.2 0.9 2.2 0.1 2.2 0 1.6 -0.9 0.6 1.5 2.2 3.4 2.2 4.9 2.2 2.7 1.2 -0.1 1 0.3 2.2 0.7 2.2 -0.1 2.2 0.7 2.2 1.3 1.5 0.0 0.7 -0.7 2.2 -0.3 2.2 1.1 2.2 -0.5 2.3 0.7 1.6 -0.6 0.6 0.2 2.2 -0.4 2.2 0.7 2.2 0.7 2.2 -0.8 1.9 -0.9 0.3 0.6 2.2 -1.2 2.2 0.6 2.2 -1.1 2.2 0.2 2.1 -1.9 0.1 0.4 2.2 -0.2 2.2 -1.7 2.2 0.8 2.2 -1.8 2.2 0.3 0.2 0.1 2.1 2.0 2.2 -0.9 2.2 0.4 2.2 0.4 2.2 0.1 0.3 0.0 1.9 0.3 2.2 1.0 2.2 -0.4 2.2 0.4 2.2 -0.7 0.6 2.1 1.6 -0.7 2.2 -0.6 2.2 -0.3 2.2 1.1 2.2 -0.1 0.8 -0.2 1.4 1.9 2.2 -1.8 2.2 0.9 2.3 -0.8 2.2 1.4 1 0.7 1.2 0.2 2.2 1.1 2.2 -1.5" stroke="#5fae4a" stroke-width="1.8" fill="none" stroke-linejoin="round"/>
<path d="M607.5 2653.1l2.2 6.4 2.2 3.4 1.2 2.0 1 -0.1 2.2 0 2.2 0.5 2.2 -2.1 2.2 0.3 1.5 0.9 0.7 -1.2 2.2 -2.4 2.3 0 2.2 -2.5 2.2 -1.0 1.6 0.6 0.6 -0.2 2.2 -0.9 2.2 0.1 2.2 -0.6 2.2 -0.3 1.9 -1.3 0.3 -0.1 2.2 -0.6 2.2 0.3 2.2 -0.5 2.2 -0.1 2.1 -2.0 0.1 -1.8 2.2 -1.6 2.2 0.5 1.1 -1.2 1.1 -1.8 2.3 2.3 2.2 1.5 2.2 0.2 2.2 -0.9 1.3 -0.9 0.9 -0.6 2.2 1.0 2.2 -0.1 2.2 0.7 2.2 0.8 1.5 0.4 0.7 -0.5 2.2 -0.7 2.2 0.7 2.2 0.7 2.2 -2.3 1.8 -0.4 0.4 -0.2 2.2 0.2 2.2 -0.2 2.3 1.1 2.2 0.2 1.9 -0.5 0.3 -0.5 2.2 -1.3 2.2 -0.8 2.2 0.8 2.2 -1.8 2.2 -0.1 2.2 0.4 2.2 0.9 2.2 1.6 2.2 -0.9 2.2 0.5 0.2 0.3 2 -0.4 2.2 0.2 2.2 0.3 2.2 0.6 2.2 0.3 0.5 0.0 1.8 0.9 2.2 -1.5 2.2 -0.1 2.2 0.8 2.2 1.6 0.6 -1.2 1.6 -0.6 2.2 0.5 2.2 -0.1 2.2 -0.3 2.2 -0.7 0.9 0.5 1.3 0.2 2.2 1.1 2.2 -0.2 2.2 0.5 2.2 -1.6 1.1 -1.3 1.1 0.4 2.2 0.5 2.3 1.9 2.2 -0.2 2.2 1.2 1.3 -0.6 0.9 1.3 2.2 -1.4 2.2 -1.3 2.2 0.8 2.2 0.1 1.5 -0.2 0.7 0.1 2.2 0.7 2.2 -1.0 2.2 -1.2 2.2 -2.7 1.8 -0.3 0.4 0.5 2.2 -1.1 2.2 1.1 2.2 1.3 2.2 -0.2 2 -0.7 0.3 -0.7 2.2 1.3 2.2 -0.4 2.2 -1.9 1.6 -1.7 0.6 -0.3 2.2 2.5 2.2 1.3 0.6 -0.2 1.6 1.5 2.2 -0.1 2.2 -1.5 2.2 -0.2 2.2 -0.4 0.9 -0.9 1.3 0.0 2.2 -0.2 2.2 -0.4 2.2 0.0 0.5 0.6 1.7 -0.1 2.3 0.5 2.2 0.1 2.2 1.9 2.2 -1.2 2.2 -0.2 2.2 1.5 2.2 1.2 2.2 1.6 2.2 -0.5 0.9 0.8 1.3 -0.6 2.2 0.3 2.2 0.5 2.2 1.0 2.2 -0.5 1.1 -0.1 1.1 1.2 2.2 0.2 2.2 0.6 2.3 0 2.2 1.2 1.3 0.8 0.9 -0.9 2.2 1.0 2.2 0.5 2.2 0.3 2.2 0.2 1.5 -0.7 0.7 -0.5 2.2 0 2.2 0.2 2.2 -2.3 2.2 1.7 1.8 1.6 0.4 -1.0 2.2 0.5 2.2 -0.5 2.2 -0.3 2.2 1.1 2 -0.6 0.2 -0.6 2.3 -0.6 2.2 -1.6 2.2 -0.2 2.2 0.3 2.2 -0.7" stroke="#2f6fcf" stroke-width="1.8" fill="none" stroke-linejoin="round"/>
<path d="M607.5 2650.3l2.2 1.1 2.2 -1.3 2.2 0.6 2.2 -1.8 2.2 0.4 0.2 0.6 2 2.1 2.2 -1.1 2.2 0.7 2.2 -0.4 2.3 1.9 0.4 0 1.8 -1.6 2.2 0.1 2.2 0.2 2.2 0.3 2.2 -0.7 0.6 0.9 1.6 -0.1 2.2 -0.9 2.2 -0.2 2.2 -2.5 2.2 0.5 0.9 -0.7 1.3 -2.0 2.2 -3.8 2.1 -1.1 0.1 -0.6 2.2 -1.6 2.2 -0.2 2.2 1.8 2.3 -2.2 2.2 -2.0 0.1 0.5 2.1 2.1 2.2 -0.5 2.2 1.0 2.2 1.0 2.2 -0.7 0.3 2.1 1.9 -1.1 2.2 0.3 2.2 -1.1 2.2 -1.3 2.2 0.9 0.6 -0.7 1.6 -0.8 2.2 1.2 2.2 -0.7 2.2 0.9 2.2 -1.1 0.8 1.1 1.5 0.5 2.2 -1.0 2.2 -0.3 2.2 -0.1 2.2 -0.2 1 0.5 1.2 -0.8 2.2 0.9 2.2 1.2 2.2 0.2 2.2 1.0 1.2 -0.9 1 1.0 2.2 -1.9 2.2 1.8 2.2 1.8 2.2 0.5 1.5 0.1 0.7 2.0 2.2 -1.2 2.2 0.4 2.3 0.3 2.2 -0.6 1.6 -0.8 0.6 -0.1 2.2 1.7 2.2 -0.1 2.2 -0.2 2.2 0.0 1.9 2.2 0.3 -0.4 2.2 -1.2 2.2 -4.4 0.9 0.3 1.3 0.3 2.2 -0.8 2.2 -0.7 2.2 -0.7 2.2 -1.6 1.1 -1.5 1.1 -0.3 2.2 0.2 2.3 1.6 2.2 0.3 2.2 -1.3 1.3 -1.4 0.9 1.7 2.2 -0.5 2.2 1.5 2.2 0.2 2.2 0.7 1.5 -0.5 0.7 -1.5 2.2 -1.1 2.2 -3.0 2.2 0.3 1.2 0.4 1 -1.0 2.2 1.6 2.2 1.0 2.2 1.0 0.8 0.2 1.4 0.1 2.2 1.3 2.3 0.3 2.2 0.7 0.4 -0.6 1.8 1.0 2.2 1.3 2.2 3.2 2.2 2.3 2.2 0.0 2.2 -0.4 2.2 0.4 2.2 1.6 2.2 -0.9 0.2 0.6 2 2.2 2.2 0.8 2.2 -0.7 2.2 1.6 2.2 1.3 0.5 -0.5 1.7 -0.2 2.3 0.8 2.2 1.2 2.2 0.3 2.2 -0.7 0.6 0.6 1.6 -0.3 2.2 0.1 2.2 0.4 2.2 -0.3 2.2 2.0 0.9 0.4 1.3 0.0 2.2 -0.4 2.2 1.4 2.2 -3.3 2.2 0.0 1.1 0.3 1.1 -0.5 2.2 -0.1 2.2 0.6 2.3 -0.5 2.2 -0.8 1.3 0 0.9 0.9 2.2 1.2 2.2 -0.8 2.2 0.3 2.2 1.2 1.5 -1.2 0.7 2.3 2.2 -1.1 2.2 -2.2 2.2 1.2 2.2 -1.0 1.8 0.5 0.4 -0.4 2.2 -0.3 2.2 2.1 2.2 0.1 2.2 -0.6 2 0.5 0.2 -1.9 2.3 -0.2 2.2 0.5 2.2 -2.4 2.2 -0.1 2.2 -0.2" stroke="#f9b43a" stroke-width="2.2" fill="none" stroke-linejoin="round"/>
<circle cx="612.0" cy="2650.1" r="5" fill="#f9b43a"/>
<circle cx="668.0" cy="2637.8" r="5" fill="#f9b43a"/>
<circle cx="726.0" cy="2641.2" r="5" fill="#f9b43a"/>
<circle cx="790.0" cy="2637.5" r="5" fill="#f9b43a"/>
<circle cx="852.0" cy="2651.9" r="5" fill="#f9b43a"/>
<circle cx="912.0" cy="2657.8" r="5" fill="#f9b43a"/>
<path d="M606.1 2654.5l2.2 2.9 2.2 4.2 2.2 -0.2 0.4 -0.5 1.8 -0.4 2.2 0.0 2.2 0.9 2.2 -1.3 2.2 -1.7 0.7 0.8 1.5 0.2 2.2 0.2 2.2 -1.7 2.2 -0.4 2.2 3.8 0.9 -2.6 1.3 -2.7 2.2 1.3 2.2 0.1 2.2 1.2 2.2 -4.1 1.2 3.0 1 -0.2 2.2 -3.0 2.2 -1.5 2.2 1.0 2.2 -2.0 1.4 -0.6 0.8 3.1 2.2 1.9 1.2 2.6 1 4.6 1.8 9.4 0.4 5.3 1.6 17.5 0.6 -5.3 1.7 -24.1 0.5 -4.5 2.2 1.0 1.5 1.2 0.7 0.2 2.2 2.8 1.3 5.8 0.9 5.7 2.2 13.1 1.1 5.4 1.1 -3.6 2.2 -7.3 0.9 -7.6 1.3 0.5 2.2 -1.8 2.2 -4.4 2.2 -2.7 2.2 -4.8 1.2 -2.0 1 6.4 1.8 7.7 0.4 0.6 2.2 -6.3 1.6 -5.3 0.6 2.3 2.2 6.6 1.4 5.8 0.8 2.3 2 9.4 0.2 1.7 2.1 24.2 0.1 1.9 1.3 35.2 0.9 -15.2 1.1 -18.4 1.1 -12.6 1.7 -15.6 0.5 -4.8 2.2 -21.7 0.1 -1.2 2.1 -4.6 0.7 -3.6 1.4 16.2 0.1 -0.7 1.3 -17.5 0.9 -2.4 1.9 -4.7 0.3 2.9 2.2 -2.3 2.2 -0.3 2.2 2.5 2.2 0.0 2.2 -0.9 2.2 0.1 2.2 -1.2 2.2 2.9 1.8 1.6 0.4 -1.1 2.2 3.8 1.6 5.2 0.6 5.0 2.2 15.8 2.2 7.4 0.7 2.6 1.5 -1.9 2.2 -6.1 0.5 0.4 1.7 -5.1 2.2 -5.4 1.7 -6.9 0.5 -1.3 2.2 -3.8 2.2 1.1 0.7 0.8 1.5 -2.2 2.2 3.7 2 3.0 0.2 -2.2 2.2 4.5 2.2 4.4 1 0.4 1.2 -2.9 2.2 -8.7 2.2 -5.2 2.2 0.2 2 -0.6 0.2 1.6 2.2 8.3 1.9 6.0 0.3 1.6 2.2 1.6 1.7 3.7 0.5 -1.6 2.2 -5.2 1.5 -5.2 0.7 0.8 2.2 3.6 2.2 2.3 0.5 0.4 1.7 6.5 2.2 9.7 0.3 -1.5 1.9 10.3 2.2 7.4 0.2 2.0 1.4 17.2 0.6 -1.1 2.2 -3.6 2.2 -0.1 0.6 -2.1 1.6 3.7 2.2 4.5 0.4 1.3 1.9 -3.1 2.2 -4.3 0.1 3.5 2.1 -4.8 2.1 -6.0 0.1 1.2 2.2 -14.5 0.6 -5.5 1.6 3.8 2.2 2.5 0.4 -1.9 1.8 -0.6 2.2 -0.3 0.2 -1.6 2 3.2 2.2 2.8 1.4 0.5 0.8 2.9 2.2 5.6 1.2 2.9 1 7.0 1.8 7.8 0.4 -1.3 2.2 4.8 1.7 0.9 0.5 1.1 2.2 6.6 1.5 4.1 0.7 -7.1 2.1 -20.5 0.1 2.3 2.2 2.8 1.9 3.8 0.3 0.7 2.2 23.4 0.3 4.8 1.9 -26.9 0.9 -13.6 1.3 1.8 2.2 3.1 2.2 3.3 2.2 -3.9 2.2 -8.6 1.2 -1.1 1 0.6 2.2 1.0 2.2 6.3 0.2 -0.4 2 -1.1 2.2 -7.0 1.4 -3.6 0.8 0.6 2.2 0.8 2.2 2.8 0.5 -2.2 1.7 -3.2 2.2 -1.0 2.2 -7.8 0.9 0.8 1.3 0.7 2.2 4.1 0.7 0.7 1.5 10.0 1.3 7.9 0.9 -3.8 2.2 -5.4 2.2 -4.7 0.3 -2.5 1.9 3.0 2.2 1.6 1.6 1.7 0.6 0.1 2.2 -5.7" stroke="#4f94d8" stroke-width="1.8" fill="none" stroke-linejoin="round"/>
<path d="M607.5 2695.4l2.2 0.4 2.2 1.0 1.2 1.1 1 0.5 2.2 -2.2 2.2 0.4 0.2 2.7 2 0.6 2.2 1.7 1.5 1.4 0.7 -1.1 2.2 -5.7 2.3 -6.5 0.4 -1.6 1.8 -2.2 2.2 -1.5 1.6 -4.2 0.6 1.2 2.2 -0.4 2.2 -3.5 0.6 -1.6 1.6 0.9 2.2 -2.2 2.2 -1.5 2.2 -0.7 0.3 0.7 1.9 -1.5 2.2 0.5 1.5 -0.7 0.7 -1.8 2.2 -7.5 2.2 -6.9 0.5 -1.7 1.7 -0.8 2.2 -1.1 2.3 0.9 2.2 -0.1 0.1 1.1 2.1 -2.8 2.2 -0.2 2.2 -0.1 1.9 -2.0 0.3 0.2 2.2 -2.0 2.2 -1.1 2.2 0.5 1.5 -1.1 0.7 1.1 2.2 1.0 2.2 0.5 2.2 0.7 2.2 -0.8 1.8 0.9 0.4 0.3 2.2 1.0 2.2 -1.5 2.3 -0.1 2.2 -0.1 2.2 -1.3 2.2 0.9 0.3 0.2 1.9 -2.1 2.2 -2.0 2.2 -0.9 2.2 -0.6 2.2 -1.4 2.2 -0.2 2.2 -0.9 1.8 -1.0 0.4 -1.6 2.2 -1.7 2.2 -2.8 2.2 -1.7 1.5 -1.9 0.7 -0.6 2.2 -1.8 2.2 -1.6 0.5 0.9 1.8 3.9 2.2 4.0 1.6 3.5 0.6 -0.6 2.2 -0.4 2.2 -1.5 0.6 1.0 1.6 0.6 2.2 1.0 2.2 3.1 2.2 1.0 0.3 -0.1 1.9 4.3 0.9 -2.0 1.3 -2.3 2.2 -1.8 2.2 -0.2 2.2 -0.4 0.5 -0.3 1.7 0.1 2.2 0.3 2.2 2.8 2.3 2.9 0.1 -0.3 2.1 1.4 2.2 -0.6 2.2 2.6 2.2 1.8 2.2 1.8 0.3 -0.5 1.9 1.2 2.2 0.5 2.2 2.9 2.2 2.6 2.2 2.8 0.6 -1.5 1.6 1.4 2.2 -0.7 2.2 -0.7 2.2 -1.5 0.2 0.3 2 2.8 2.2 1.4 1.4 1.8 0.8 0.8 2.3 3.7 2.2 3.4 0.4 0.7 1.8 3.3 2.2 2.6 2.2 2.3 2.2 4.5 2.2 1.7 2.2 0.9 2.2 2.2 1.8 2.9 0.4 -0.2 2.2 0.7 2.2 -1.4 2.2 1.7 1.5 -0.1 0.7 0.8 2.2 2.1 2.2 1.5 2.2 1.4 1.1 0.1 1.2 1.2 2.2 0.0 2.2 3.9 2.2 0.7 2.2 1.7 2.2 0.3 1.9 2.5 0.3 -2.9 2.2 -2.2 2.2 -0.7 0.9 0.8 1.3 -1.5 2.2 -3.8 2.2 -2.5 2.2 -2.5 0.5 1.4 1.7 1.2 2.2 -1.7 2.2 -0.8 2.2 0.1 0.2 -0.4 2.1 -3.8 2.2 -4.4 1.3 -1.2 0.9 1.4 2.2 2.5 2.2 1.2 0.3 1.4 1.9 -1.4 2.2 -1.6 2.2 -1.0 2.1 1.0 0.1 0 2.2 -0.2 2.2 0 2.2 -0.9 1.8 -1.2 0.4 -1.9 2.2 -1.8 2.2 -0.9 2.2 -0.2 2.2 -1.5 2 -0.3 0.2 -0.2 2.3 -1.6 2.2 -0.4 2.2 -0.3 2.2 -1.0 2.2 1.0" stroke="#dcd72e" stroke-width="1.8" fill="none" stroke-linejoin="round"/>
<path d="M606.1 2675.5l2.2 4.4 2 3.3 0.2 1.7 2.2 -0.3 2.2 -0.7 2.2 -1.2 1.6 -1.2 0.6 1.4 2.2 -1.5 2.2 0.2 2.2 -0.3 1.3 0.7 0.9 -0.1 2.2 0.7 2.2 1.9 2.2 1.3 0.9 0.6 1.3 0.7 2.2 1.2 2.1 0.9 0.1 0.5 2.2 -2.9 2.2 -3.5 1.2 -1.4 1 -0.2 2.2 -1.8 2.2 -0.4 0.2 -1.8 2 -2.7 2.2 -4.4 1.4 -0.3 0.8 -6.1 2 -11.5 0.2 -1.4 2.2 -0.7 2.2 -1.2 2.2 -1.5 1.7 -0.2 0.5 0.5 2.2 0.0 2.2 1.4 0.7 -0.1 1.5 -0.6 2.2 -0.8 2.2 -1.7 2.2 -2.5 0.3 1.1 1.9 -0.9 2.2 1.0 2.2 -0.9 2.2 1.1 2.2 -0.6 2.2 -3.2 1.2 0.2 1 0.1 2.2 -1.4 2.2 -0.7 2.2 -0.6 0.8 -0.5 1.4 -1.8 2.2 0.1 2.2 -0.7 2.2 0.9 0.5 -2.2 1.7 1.7 2.2 3.0 1.7 2.6 0.5 -0.5 2.2 2.8 2.2 2.8 0.7 0.1 1.5 -1.1 2.2 -1.4 2.2 0.6 2.2 0.2 0.3 0.1 1.9 1.4 2.2 -1.5 2.2 2.1 2.2 -0.6 2.2 -1.1 2.2 0.5 2.2 0.7 2.2 0.3 2.2 -1.1 0.2 0.7 2 2.1 2.2 0.1 2.2 1.4 2.2 -0.7 2.2 0.9 0.5 -0.5 1.7 -1.3 2.2 1.2 2.2 -0.4 2.2 0.1 2.2 0.4 0.7 -0.4 1.5 -0.2 2.2 -1.3 2.2 -1.5 2.2 0 2.2 -0.2 1 0.6 1.2 -0.9 2.2 -0.5 2.2 -1.1 2.2 1.2 2.2 0.1 1.2 1.2 1 0.4 2.2 0.4 2.2 -2.1 2.2 1.3 2.2 -1.0 1.5 0.3 0.7 0.3 2.2 1.8 2.2 -0.7 2.2 0.4 2.2 0.8 1.7 0.6 0.5 -0.3 2.2 0.4 2.2 3.0 2.2 -1.1 1.4 -0.2 0.8 2.8 2 8.7 0.2 0.1 2.2 -1.0 2.3 -2.7 2.2 1.5 2.2 -0.3 2.1 -0.6 0.1 -1.1 2.2 0.1 2.2 0.5 2.2 -0.1 2.2 1.4 2.2 -0.4 0.2 -1.0 2 1.0 2.2 -0.2 2.2 -0.5 2.2 0.3 2.2 1.0 0.4 0.8 1.8 0.7 2.2 0.3 2.2 0.5 2.2 -0.4 2.2 0.3 0.7 0.4 1.5 -0.8 2.2 0.2 2.2 -0.1 2.2 -0.1 2.2 -0.8 0.9 0.7 1.3 1.6 2.2 -0.1 2.2 0.0 2.2 0.9 2.2 0.5 1.2 0.5 1 0.6 2.2 -0.6 2.2 0.7 2.2 -0.9 2.2 0.1 1.4 0.4 0.8 0.2 2.2 0.6 2.2 -0.3 2.2 -0.8 2.2 -0.8 1.7 1.1 0.5 -0.9 2.2 0.5 2.2 1.1 2.2 0.5 2.2 -0.5 1.9 2.0 0.3 0.0 2.2 -0.1 2.2 0.5 2.2 0.2 2.2 0.6 2.2 -0.3" stroke="#3b3b3b" stroke-width="2.4" fill="none" stroke-linejoin="round"/>
<path d="M606.1 2668.0l2.2 2.8 2.2 2.5 2.2 2.0 0.4 1.2 1.8 -0.2 2.2 0.4 2.2 2.4 2.2 2.3 0.1 -0.4 2.1 -0.7 2.2 -1.3 2.2 -2.6 1.9 -1.4 0.3 0.9 2.2 -0.7 2.2 -3.0 0.9 -0.9 1.3 0.0 2.2 0.7 2.2 -1.1 2.2 0.2 0.6 1.8 1.6 1.3 2.2 -1.2 2.2 1.1 2.2 -0.8 0.2 1.2 2 0.4 2.2 1.6 1.4 0.7 0.8 -11.7 0.6 -9.4 1.6 -1.2 2.2 -0.6 2.2 0.5 2.2 0.5 1.7 1.1 0.5 -0.3 2.2 -0.8 2.2 -1.7 2.2 -1.6 1.3 0 0.9 -1.4 2.2 0.2 2.2 -0.2 2.2 -0.1 0.9 -1.5 1.3 1.6 2.2 0 2.2 0.5 2.2 1.0 0.6 -0.3 1.6 -1.4 2.2 1.5 2.2 0.5 2.2 -0.5 0.2 0.3 2 0.3 2.2 -1.3 2.2 -1.6 2 0.9 0.2 0.7 2.2 -1.7 2.2 0.2 2.2 -0.6 1.7 -0.3 0.5 -1.0 2.2 -1.7 2.2 -0.3 0.7 -0.3 1.5 -0.2 2.2 0.6 1.9 1.0 0.3 -0.1 2.2 0 2.2 0 2.2 0.4 1.6 0.6 0.6 0.1 2.2 1.0 2.2 0.4 2.2 -1.9 1.2 0.5 1 0.1 2.2 1.7 2.2 0.9 2.2 1.1 0.8 -0.3 1.4 4.0 2.2 4.1 0.7 0.9 1.5 1.9 2.2 0.5 0.5 -2.2 1.7 1.5 2.2 0 2.2 0.5 2.2 1.0 0.1 -0.8 2.1 1.9 2.2 -0.7 2.2 0.8 2 1.0 0.2 0.1 2.2 0.2 2.2 0 2.2 -0.4 1.6 0.5 0.6 -2.0 2.2 0 2.2 -1.0 2.2 -0.8 1.2 0 1 -0.5 2.2 -0.5 2.2 0.4 2.2 -0.2 2.2 -0.4 1.5 -1.4 0.7 0.8 2.2 0.3 2.2 -0.7 2.2 -0.4 2.2 -0.7 1.7 0.5 0.5 -1.0 2.2 -0.2 2.2 1.5 2.2 0.9 1.4 -0.3 0.8 3.7 0.6 3.7 1.6 1.1 2.2 1.4 2.3 0.7 2.2 0.4 1.5 1.3 0.7 0.4 2.2 -0.4 2.2 -0.6 2.2 0.6 1.2 -0.7 1 -1.3 2.2 0.2 2.2 1.2 2.2 1.9 2.2 0.5 1.4 0.2 0.8 0.2 2.2 0.5 2.2 -0.8 2.2 -0.2 2.2 0.3 1.7 0 0.5 0.9 2.2 0.3 2.2 0.3 0.7 0.3 1.5 1.3 2.2 2.7 1.9 0.1 0.3 0.5 2.2 1.0 2.2 0.3 2.2 0 1.5 0.5 0.7 -0.1 2.2 0.2 2.2 1.0 2.2 1.1 1.2 0.5 1 0.8 2.2 2.0 2.2 2.7 0.2 0.9 2 -3.6 2.2 -3.2 1.4 -1.6 0.8 -1.0 2.2 0 2.2 0.3 2.2 -0.8 1.1 -0.5 1.1 -0.3 2.2 0.3 2.2 0.3 2.2 -1.2 0.7 -1.9 1.5 0.8 2.2 -0.1 2.2 -0.5 2.2 -1.0 0.3 -1.2 1.9 -0.5 2.2 -2.4 2.2 1.2 2.2 0.6" stroke="#e5322b" stroke-width="2.8" fill="none" stroke-linejoin="round"/>
<text x="325.0" y="2840.0" font-size="15" fill="#222" text-anchor="middle" font-weight="bold">WTI-BRENT</text>
<path d="M181.0 2860.2h16" stroke="#3cbde6" stroke-width="1.6"/>
<circle cx="189.0" cy="2860.2" r="4.6" fill="#3cbde6"/>
<text x="202.5" y="2864.8" font-size="12.4" fill="#595959">2016</text>
<path d="M240.8 2860.2h16" stroke="#a987d6" stroke-width="1.6"/>
<circle cx="248.8" cy="2860.2" r="4.6" fill="#a987d6"/>
<text x="262.3" y="2864.8" font-size="12.4" fill="#595959">2017</text>
<path d="M300.6 2860.2h16" stroke="#f4834f" stroke-width="1.6"/>
<circle cx="308.6" cy="2860.2" r="4.6" fill="#f4834f"/>
<text x="322.1" y="2864.8" font-size="12.4" fill="#595959">2018</text>
<path d="M360.4 2860.2h16" stroke="#5fae4a" stroke-width="1.6"/>
<circle cx="368.4" cy="2860.2" r="4.6" fill="#5fae4a"/>
<text x="381.9" y="2864.8" font-size="12.4" fill="#595959">2019</text>
<path d="M420.2 2860.2h16" stroke="#2f6fcf" stroke-width="1.6"/>
<circle cx="428.2" cy="2860.2" r="4.6" fill="#2f6fcf"/>
<text x="441.7" y="2864.8" font-size="12.4" fill="#595959">2020</text>
<path d="M181.0 2882.6h16" stroke="#f9b43a" stroke-width="1.6"/>
<circle cx="189.0" cy="2882.6" r="4.6" fill="#f9b43a"/>
<text x="202.5" y="2887.2" font-size="12.4" fill="#595959">2021</text>
<path d="M240.8 2882.6h16" stroke="#4f94d8" stroke-width="1.6"/>
<circle cx="248.8" cy="2882.6" r="4.6" fill="#4f94d8"/>
<text x="262.3" y="2887.2" font-size="12.4" fill="#595959">2022</text>
<path d="M300.6 2882.6h16" stroke="#dcd72e" stroke-width="1.6"/>
<circle cx="308.6" cy="2882.6" r="4.6" fill="#dcd72e"/>
<text x="322.1" y="2887.2" font-size="12.4" fill="#595959">2023</text>
<path d="M360.4 2882.6h16" stroke="#3b3b3b" stroke-width="1.6"/>
<circle cx="368.4" cy="2882.6" r="4.6" fill="#3b3b3b"/>
<text x="381.9" y="2887.2" font-size="12.4" fill="#595959">2024</text>
<path d="M420.2 2882.6h16" stroke="#e5322b" stroke-width="1.6"/>
<circle cx="428.2" cy="2882.6" r="4.6" fill="#e5322b"/>
<text x="441.7" y="2887.2" font-size="12.4" fill="#595959">2025</text>
<text x="157.1" y="2891.3" font-size="13" fill="#5e5e5e" text-anchor="end">5</text>
<text x="157.1" y="2924.3" font-size="13" fill="#5e5e5e" text-anchor="end">0</text>
<text x="157.1" y="2957.2" font-size="13" fill="#5e5e5e" text-anchor="end">-5</text>
<text x="157.1" y="2990.2" font-size="13" fill="#5e5e5e" text-anchor="end">-10</text>
<text x="157.1" y="3023.1" font-size="13" fill="#5e5e5e" text-anchor="end">-15</text>
<text x="157.1" y="3056.1" font-size="13" fill="#5e5e5e" text-anchor="end">-20</text>
<path d="M164.1 2919.7H512.3 M164.1 2952.6H512.3 M164.1 2985.6H512.3 M164.1 3018.5H512.3" stroke="#cfcfcf" stroke-width="1" stroke-dasharray="2 1" fill="none"/>
<rect x="164.1" y="2886.7" width="348.2" height="164.8" fill="none" stroke="#d4d4d4" stroke-width="1" stroke-dasharray="2 1"/>
<text x="164.9" y="3069.0" font-size="13" fill="#5e5e5e" text-anchor="middle">1月</text>
<text x="194.3" y="3069.0" font-size="13" fill="#5e5e5e" text-anchor="middle">2月</text>
<text x="223.7" y="3069.0" font-size="13" fill="#5e5e5e" text-anchor="middle">3月</text>
<text x="253.1" y="3069.0" font-size="13" fill="#5e5e5e" text-anchor="middle">4月</text>
<text x="282.5" y="3069.0" font-size="13" fill="#5e5e5e" text-anchor="middle">5月</text>
<text x="311.9" y="3069.0" font-size="13" fill="#5e5e5e" text-anchor="middle">6月</text>
<text x="341.3" y="3069.0" font-size="13" fill="#5e5e5e" text-anchor="middle">7月</text>
<text x="370.7" y="3069.0" font-size="13" fill="#5e5e5e" text-anchor="middle">8月</text>
<text x="400.1" y="3069.0" font-size="13" fill="#5e5e5e" text-anchor="middle">9月</text>
<text x="429.5" y="3069.0" font-size="13" fill="#5e5e5e" text-anchor="middle">10月</text>
<text x="458.9" y="3069.0" font-size="13" fill="#5e5e5e" text-anchor="middle">11月</text>
<text x="488.3" y="3069.0" font-size="13" fill="#5e5e5e" text-anchor="middle">12月</text>
<path d="M164.1 2919.7H512.3" stroke="#555" stroke-width="1.3"/>
<path d="M164.9 2919.7v4 M194.3 2919.7v4 M223.7 2919.7v4 M253.1 2919.7v4 M282.5 2919.7v4 M311.9 2919.7v4 M341.3 2919.7v4 M370.7 2919.7v4 M400.1 2919.7v4 M429.5 2919.7v4 M458.9 2919.7v4 M488.3 2919.7v4" stroke="#555" stroke-width="1"/>
<path d="M165.5 2928.5l2.2 -4.5 2.2 -0.3 2.2 2.7 0.4 -2.5 1.8 -4.6 2.2 0.2 1.6 -3.1 0.6 2.4 2.2 5.1 2.2 -6.1 0.6 1.2 1.6 4.4 2.3 3.0 1.8 3.8 0.4 2.5 2.2 8.1 2.2 -3.3 2.2 -3.7 1.4 3.3 0.8 -0.7 2.2 -2.2 2.2 4.9 2.2 2.6 1 3.6 1.2 -8.0 2.2 1.3 2.2 10.1 2.3 -7.4 0.6 -0.8 1.6 1.5 2.2 -0.9 2.2 -7.0 2.2 1.0 0.2 -0.3 2 8.8 2.2 -3.1 2.2 1.1 2.1 -13.1 0.1 1.9 2.2 -1.8 2.2 0.7 2.2 3.1 1.7 -1.2 0.6 -2.7 2.2 -2.5 2.2 7.2 2.2 -1.2 1.2 6.9 1 -0.5 2.2 -1.8 2.2 0.9 2.2 -3.0 0.9 0.9 1.3 2.6 2.2 -4.5 2.2 -2.1 2.2 5.0 0.5 -0.8 1.8 -1.5 2.2 -5.6 1.6 3.5 0.6 -0.8 2.2 2.2 2.2 -3.6 0.6 -8.1 1.6 -0.7 2.2 7.2 1.9 -2.7 0.3 0.5 2.2 -0.4 2.2 0.0 0.9 -1.7 1.3 2.9 2.2 -6.5 2.1 -2.6 0.2 6.1 2.2 -0.3 2.2 -2.2 2.2 0.7 1.7 0.4 0.5 -0.9 2.2 3.6 2.2 -4.4 2.2 6.5 1.3 -2.6 0.9 -2.6 2.2 -2.1 2.2 -1.5 2.2 1.9 0.9 2.0 1.4 0.7 2.2 -0.5 2.2 2.8 2.2 2.8 2.2 -3.3 1.1 2.6 1.1 -2.8 2.2 -4.0 2.2 3.8 2.2 -0.3 2.2 -1.9 1.3 -0.6 0.9 7.7 2.2 -4.3 2.3 5.3 2.2 -3.7 2.2 -0.7 1.5 1.4 0.7 -2.7 2.2 -2.0 2.2 7.0 2.2 -1.5 2.2 -1.9 1.7 6.2 0.5 -3.1 2.2 3.0 2.2 2.4 2.2 -9.3 2.3 -1.2 1.9 5.2 0.3 3.5 2.2 -6.2 2.2 -2.6 2.2 6.7 2.2 0.3 2.1 -1.3 0.1 6.6 2.2 -0.9 2.2 -4.7 2.2 2.6 2.2 -5.8 2.2 -5.2 0.2 4.9 2.1 -1.6 2.2 7.8 2.2 -5.1 2.2 -1.5 2.2 6.1 0.3 -9.4 1.9 1.1 2.2 3.3 2.2 0.0 2.2 -2.6 2.2 4.0 0.6 -1.4 1.6 5.1 2.2 -0.4 2.3 -1.6 2.2 -2.5 2.2 -5.1 0.7 4.1 1.5 0.3 2.2 -1.4 2.2 0.4 2.2 -0.3 2.2 -1.7 1 0.7 1.2 2.8 2.2 0.0 2.2 0.0 2.3 -5.8 2.2 1.5 1.1 1.8 1.1 -0.3 2.2 4.4 2.2 -3.5 2.2 0.7 2.2 -1.6 1.4 -5.5 0.8 5.9 2.2 -6.4 2.2 3.0 2.2 6.0 2.2 -0.1 1.6 6.7 0.7 -0.8 2.2 0.5 2.2 -0.9 2 3.8 0.2 -3.7 2.2 -1.9 2.2 5.5 2.2 1.1 2.2 -0.4 0.8 -1.4 1.4 3.7 2.2 -1.8 2.2 -3.1 2.2 3.5 2.3 3.3 1 -1.2 1.2 -7.2 2.2 2.8 2.2 0.9" stroke="#3cbde6" stroke-width="1.8" fill="none" stroke-linejoin="round"/>
<path d="M165.5 2933.0l2.2 11.9 2.2 -4.7 2.2 1.0 2.2 2.7 2.2 -3.4 1.6 3.6 0.6 2.2 2.2 -5.5 2.2 -6.0 2.2 3.0 2.3 1.6 2.2 0.1 2.2 -3.0 0.2 -1.4 2 -1.1 2.2 1.7 2.2 -2.2 2.2 -0.5 2.2 2.0 2.2 1.4 1 -3.2 1.2 -1.1 2.2 0.7 2.2 4.3 2.3 -4.3 2.2 0.9 1.2 1.4 1 6.5 2.2 -3.2 2.2 -2.4 2.2 -0.7 2.2 3.2 1.4 -0.7 0.8 -2.3 2.2 1.6 2.2 -1.4 2.2 3.8 2.2 -1.0 2.3 3.6 2.2 -0.6 2.2 -0.3 2.2 2.3 2.2 -3.3 2.2 -3.4 2.2 1.5 2.2 -3.6 0.9 0.3 1.3 -0.6 2.2 2.6 2.2 -1.0 2.2 -4.3 2.3 -1.4 1 2.1 1.2 4.5 2.2 2.2 2.2 0.7 2.2 -3.0 2.2 -1.5 1.3 1.2 0.9 2.0 2.2 2.1 2.2 -2.6 2.2 2.0 2.2 -4.1 1.5 -0.7 0.7 -2.6 2.3 7.3 2.2 -1.6 2.2 -3.5 2.2 -0.1 1.7 -4.2 0.5 -1.6 2.2 3.4 2.2 -2.5 2.2 -0.9 2.2 3.6 1.9 0.8 0.3 3.4 2.2 -1.2 2.2 -1.5 2.3 0.9 2.2 1.9 2.2 -4.6 2.2 0.4 2.2 1.3 1.1 18.3 1.1 -0.2 2.2 -1.9 2.2 3.3 2.2 -5.3 2.2 5.1 2.2 1.3 2.2 -0.5 2.3 -7.9 0.3 2.5 1.9 4.0 2.2 -5.1 2.2 4.1 2.2 -6.2 2.2 -1.2 2.2 0.9 2.2 6.3 1.7 -1.3 0.5 -3.1 2.2 3.4 2.2 4.6 2.2 -3.4 2.3 -1.4 2.2 -1.9 2.2 -3.4 2.2 0.1 0.9 4.4 1.3 -4.6 2.2 -1.3 2.2 8.5 2.2 -3.2 2.2 4.5 2.2 0.9 2.2 4.1 2.2 -1.6 0.2 0.9 2.1 3.7 2.2 -3.3 2.2 -2.1 2.2 2.5 2.2 -0.3 2.2 1.3 2.2 3.0 1.6 -3.7 0.6 -1.6 2.2 2.4 2.2 -0.9 2.2 1.4 2.2 0.9 2.3 1.2 2.2 -2.3 2.2 0.2 0.7 -2.4 1.5 -1.5 2.2 -1.9 2.2 1.7 2.2 1.9 2.2 3.7 2.2 2.7 2.2 0.6 2.2 0.3 2.3 0.6 2.2 -3.9 2.2 -0.3 2.2 -0.5 2.2 5.0 2.2 -5.3 2.2 2.3 1.4 0.2 0.8 -2.1 2.2 3.4 2.2 -2.3 2.2 -3.6 2.2 -2.9 2.3 3.2 2.2 1.3 2.2 1.2 0.6 -3.1 1.6 -1.3 2.2 3.3 2.2 0.3 2.2 -2.7 2.2 1.2 2.2 -0.1 2.2 3.4 2 -5.9 0.2 5.3 2.2 0.9 2.3 0.2 2.2 -0.5 2.2 -0.3 2.2 2.2" stroke="#a987d6" stroke-width="1.8" fill="none" stroke-linejoin="round"/>
<path d="M165.5 2958.5l2.2 -2.4 2.2 -2.1 2.2 -4.9 0.4 5.2 1.8 -0.7 2.2 7.2 2.2 5.0 2.2 -3.1 2.2 5.9 0.6 -2.9 1.6 1.5 2.3 -8.8 2.2 -1.3 2.2 -9.7 2.2 1.9 0.8 2.2 1.4 -7.0 2.2 3.1 2.2 2.2 2.2 4.0 2.2 -6.4 1 0.4 1.2 2.1 2.2 4.8 2.2 -0.7 2.3 -1.2 2.2 6.3 1.2 -1.0 1 1.8 2.2 -9.1 2.2 5.5 2.2 -4.6 2.2 -0.4 1.4 -2.9 0.8 2.8 2.2 1.9 2.2 -1.2 2.2 -0.3 2.2 -2.7 1.7 -0.1 0.6 0.7 2.2 1.6 2.2 0.0 2.2 -6.3 2.2 7.3 1.8 -3.2 0.4 -2.8 2.2 6.1 2.2 -0.6 2.2 -3.2 2.2 7.6 2.1 -3.0 0.1 -4.7 2.2 3.4 2.3 -3.5 2.2 2.3 2.2 3.7 2.2 -1.8 2.2 3.3 2.2 -1.7 2.2 -1.7 1.9 5.3 0.3 -0.9 2.2 -0.2 2.2 5.0 2.2 0.7 1.5 2.9 0.7 1.2 2.3 0.3 2.2 2.2 0.4 3.4 1.8 -3.1 2.2 7.6 2.2 3.8 2.2 5.6 0.1 0.2 2.1 -2.5 2.2 -1.8 1.3 3.8 0.9 5.3 2.2 2.1 2.2 -5.2 0.3 1.8 1.9 -0.7 2.3 -1.8 1.4 -5.6 0.8 -1.0 2.2 -9.0 2.2 4.0 0.5 -0.3 1.7 -5.4 1.1 -11.3 1.1 -2.7 2.2 0.8 2.2 -2.0 2.2 2.6 2.2 -5.3 1.3 -3.5 0.9 -0.8 2.2 4.4 2.3 0.4 2.2 -1.0 2.2 3.2 1.5 0.7 0.7 -1.1 2.2 3.0 2.2 -3.3 2.2 -2.4 2.2 0.1 1.7 6.1 0.5 2.3 2.2 -5.2 2.2 4.4 2.2 -1.5 2.3 -6.2 1.9 2.6 0.3 2.8 2.2 3.9 2.2 -2.7 2.2 -7.6 2.2 4.6 2.1 7.9 0.1 -2.8 2.2 1.5 2.2 6.0 2.2 2.7 1.8 3.7 0.4 -3.5 2.2 0.7 2.3 4.3 2.2 3.3 1.3 3.5 0.9 4.8 2.2 -1.9 2.2 -2.5 2.2 -6.5 1 5.5 1.2 -7.1 2.2 6.8 2.2 -1.1 2.2 -0.8 0.6 1.1 1.6 -0.6 2.2 3.1 2.3 -3.4 2.2 -3.1 0.1 6.1 2.1 -0.1 2.2 -0.6 2.2 4.7 2 -3.0 0.2 -4.2 2.2 7.6 2.2 -0.3 2.2 -4.6 1.6 4.4 0.6 3.9 2.2 -4.3 2.3 -1.4 2.2 -0.4 1.1 2.7 1.1 2.3 2.2 -2.9 2.2 -0.9 2.2 -1.3 0.8 4.4 1.4 0.3 2.2 -2.0 2.2 -0.4 2.2 -7.6 0.4 4.3 1.8 -9.3 2.2 -2.2 2.3 7.5 2.1 -8.5 0.1 5.7 2.2 -6.9 2.2 4.1 2.2 1.9 1.8 6.7 0.4 -6.6 2.2 3.0 2.2 0.2 2.2 1.9 1.4 4.3 0.8 -0.7 2.2 -8.8 2.2 -0.7 2.3 -6.1 1 1.7 1.2 -4.2 2.2 3.0 2.2 0.9" stroke="#f4834f" stroke-width="1.8" fill="none" stroke-linejoin="round"/>
<path d="M165.5 2973.3l2.2 4.2 2.2 -6.1 2.2 6.3 0.4 -0.5 1.8 -1.0 2.2 0.8 2.2 -2.0 2.2 -3.3 2.2 4.5 2.2 -4.2 1.3 1.6 1 1.7 2.2 1.9 2.2 -4.0 2.2 -3.2 0.8 1.9 1.4 4.8 2.2 6.5 2 -3.3 0.2 4.6 2.2 -1.3 2.2 2.2 1 0.4 1.2 0.2 2.2 0.6 2.2 -5.8 2.3 -0.6 0.6 3.5 1.6 2.0 2.2 -2.7 2.2 -1.1 2.2 0.3 0.2 -2.1 2 3.0 2.2 -4.2 2.2 3.2 2.1 -1.0 0.1 -0.5 2.2 -9.1 0.5 -1.8 1.7 8.3 2.2 -5.9 2.3 -0.9 2.2 -2.3 2.2 0.4 2.2 -2.0 2.2 0.0 1.8 1.0 0.4 -0.1 2.2 -6.8 2.2 0.3 0.9 0.3 1.3 3.2 2.2 1.2 2.1 6.5 0.1 -1.6 2.2 3.7 2.3 1.8 2.2 -4.0 1.6 2.0 0.6 -2.6 2.2 3.2 2.2 -2.4 2.2 0.0 1.3 10.7 0.9 -2.6 2.2 -1.2 2.2 -3.8 2.2 5.4 2.2 -0.9 1.5 -4.9 0.7 2.6 2.3 2.3 2.2 -2.9 2.2 1.0 1 2.8 1.2 0.2 2.2 3.9 2.2 6.3 0.1 -5.6 2.1 -2.9 2.2 -12.6 1.3 1.7 0.9 -0.2 2.2 4.9 2.2 3.0 0.3 -1.9 1.9 -1.8 2.3 -4.1 2.2 -0.5 2.1 2.9 0.1 -1.8 2.2 -0.9 2.2 -10.3 1.1 3.5 1.1 0.9 2.2 -3.8 2.2 -2.8 0.1 -2.9 2.1 2.2 2.2 1.2 2.2 2.8 2.2 4.2 2.3 -3.8 0.3 2.0 1.9 -2.0 2.2 -0.5 2.2 -11.0 2.2 6.5 2.2 -4.9 0.5 0.2 1.7 -1.6 2.2 0.5 2.2 0.8 2.2 -2.9 2.2 -3.1 0.8 0.2 1.4 -3.6 2.3 0.9 2.2 8.4 2.2 -4.6 2.2 -0.8 0.9 -4.6 1.3 6.2 2.2 -7.1 2.2 1.3 2.2 4.3 2.2 1.7 1.2 3.6 1 -0.1 2.2 -6.5 2.2 8.4 2.3 -7.9 2.2 3.5 1.3 -1.4 0.9 2.2 2.2 -0.4 2.2 1.7 2.2 -0.3 2.2 2.1 1.6 -1.8 0.6 1.5 2.2 -0.9 2.2 5.0 2.2 -5.5 2.2 2.2 1.8 0.6 0.5 3.1 2.2 -8.1 2.2 5.3 2.2 -3.4 2.2 1.1 2 1.1 0.2 2.1 2.2 -0.5 2.2 -2.5 2.2 2.1 2.2 -0.2 2.2 -2.6 2.3 1.9 2.2 -3.7 2.2 -0.6 2.2 1.4 2.2 2.8 0.2 -0.6 2 -1.5 2.2 -0.3 2.2 2.5 2.2 -1.5 2.2 -0.9 0.4 -2.0 1.8 3.8 2.2 -1.9 2.3 0.7 2.2 -0.9 2.2 -4.2 0.6 1.1 1.6 6.2 2.2 0.4 2.2 0.5 2.2 -5.5 2.2 2.0 0.8 -3.5 1.4 4.4 2.2 -2.8 2.2 4.4 2.2 -0.6 2.3 -4.0 1 0.2 1.2 -0.7 2.2 2.5 2.2 0.1" stroke="#5fae4a" stroke-width="1.8" fill="none" stroke-linejoin="round"/>
<path d="M164.1 2954.4l2.2 7.3 2.2 0.6 2.2 0.1 1.8 -5.0 0.4 7.0 2.2 -9.7 2.2 8.9 2.2 -3.2 1.4 1.3 0.8 -0.4 2.2 2.0 2.2 -0.3 0.5 -0.4 1.7 -4.7 2.2 -1.1 1.7 -7.1 0.5 3.6 2.2 0.7 2.2 -0.9 2.2 -0.8 1.3 -0.1 0.9 0.5 2.2 -7.4 2.2 2.1 2.2 -0.5 1 1.6 1.2 -1.6 2.2 -1.2 2.2 -2.0 2.2 2.0 0.6 0 1.6 2.3 2.2 -2.9 2.2 -1.1 2.3 -0.5 0.1 -3.1 2.1 -2.0 2.2 -6.2 2.2 -2.9 2 -2.4 0.2 2.0 2.2 4.1 2.2 -2.0 2.2 4.3 1.6 -2.0 0.6 3.5 2.2 4.6 2.2 7.0 2.2 2.2 1.2 3.2 1 1.2 2.2 9.5 2.2 1.6 0.3 3.4 1.9 -0.3 2.2 5.2 1.5 2.9 0.7 -1.9 2.1 6.3 0.1 7.3 0.7 59.2 1.4 5.4 0.1 -2.7 0.5 -69.1 1.7 -19.8 1.1 -9.5 1.1 5.5 1.7 5.8 0.5 -0.9 2.2 -2.9 2.2 -2.5 0.8 -1.0 1.4 1.8 2.2 -9.2 2 -3.2 0.2 5.3 2.2 0.1 2.2 4.6 1 -5.3 1.3 0.2 2.2 3.2 2.1 1.7 0.1 -5.9 2.2 2.3 2.2 1.6 2.2 4.4 2.2 5.0 2.2 2.7 0.2 0.7 2 -2.2 2.2 -9.4 2.2 2.9 2.2 -7.3 2.2 3.1 0.4 -1.1 1.8 -0.6 2.2 -1.3 2.2 -0.4 2.2 2.5 2.2 -3.2 0.7 -23.0 1.5 7.6 2.2 2.2 2.2 -0.6 2.2 4.9 2.2 -4.3 0.9 -0.9 1.3 -1.0 2.2 3.6 2.2 0.4 2.2 -3.4 2.2 1.2 1.2 -5.0 1 2.8 2.2 4.3 2.3 -0.1 2.2 1.3 2.2 0.5 1.3 -3.8 0.9 -0.4 2.2 -3.2 2.2 -1.3 2.2 3.8 2.2 1.0 1.6 2.8 0.6 -2.0 2.2 -1.5 2.2 2.4 2.2 -4.2 2.2 0.0 1.8 3.1 0.4 -4.0 2.2 -3.0 2.2 5.7 2.2 3.4 2.2 -3.5 2.1 0.7 0.1 -3.2 2.2 4.1 2.2 1.8 2.2 -4.9 2.2 -1.5 2.2 1.3 0.1 -0.2 2.1 2.7 2.2 -1.6 2.2 -0.6 2.2 -0.9 2.2 -0.2 0.4 -0.9 1.8 4.3 2.2 -0.1 2.3 -1.7 2.2 1.4 2.2 2.5 0.5 -2.8 1.7 3.0 2.2 1.1 2.2 -3.3 2.2 1.5 2.2 0.8 0.8 -5.4 1.4 0.8 2.2 -1.9 2.2 -2.3 2.2 7.2 2.2 -2.3 1 2.2 1.2 -3.7 2.2 5.0 2.2 -5.3 2.2 1.5 2.2 0.8 1.3 3.0 0.9 0.7 2.2 0.3 2.2 0.5 0.3 -2.5 1.9 1.7 2.2 -2.3 1.5 1.5 0.7 -3.3 2.2 0.9 2.2 -1.9 2.2 3.4 2.2 -2.9 1.8 7.3 0.4 0.7 2.2 -1.6 2.3 -2.7 2.2 1.7 2.2 6.5 1.9 -5.4 0.3 -4.9 2.2 -0.9 2.2 0.7 2.2 3.7 2.2 2.1 2.2 -7.4" stroke="#2f6fcf" stroke-width="1.8" fill="none" stroke-linejoin="round"/>
<path d="M165.5 2944.8l2.2 -1.6 2.2 -1.0 2.2 0.4 2.2 1.0 2.2 0.4 1.6 -2.6 0.6 -2.0 2.2 -1.2 2.2 -1.6 2.2 -1.2 2.3 5.9 2.2 -0.1 2.2 0.1 0.2 -0.9 2 2.7 2.2 -0.8 2.2 2.1 2.2 -0.3 2.2 -2.0 2.2 -1.9 1 2.1 1.2 -0.8 2.2 -0.4 2.2 1.4 2.3 -0.6 2.2 -2.8 2.2 -0.7 1.8 6.9 0.4 -3.0 2.2 0 2.2 -0.2 2.2 -2.5 2.2 -1.8 2.2 4.9 2.2 -4.6 0.5 2.9 1.7 3.6 2.2 -5.1 2.3 5.5 2.2 0.6 2.2 -3.4 2.2 -4.9 1.2 2.0 1 -3.0 2.2 0.5 2.2 -3.5 2.2 5.4 2.2 -2.5 2.2 4.9 2.1 1.4 0.1 -4.8 2.2 1.3 2.3 4.0 2.2 -0.4 2.2 -1.6 2.2 0.7 2.2 -2.1 0.6 1.8 1.6 -4.6 2.2 0.9 2.2 -0.7 2.2 2.5 2.2 0.5 2.2 -0.7 1.5 -0.2 0.7 -1.2 2.3 -2.7 2.2 -1.6 2.2 3.9 2.2 1.1 2.2 -0.2 2.2 -6.3 0.1 3.6 2.1 -1.6 2.2 1.9 2.2 -3.1 2.2 -1.0 2.2 2.9 2.2 -1.8 0.9 -2.0 1.4 0.2 2.2 1.6 2.2 3.4 2.2 -2.2 2.2 -2.1 1.1 -4.4 1.1 2.7 2.2 -3.4 2.2 -2.1 2.2 -0.3 2.2 1.6 1.3 -1.4 0.9 1.4 2.2 7.3 2.3 0.7 2.2 -2.4 2.2 -0.4 1.5 1.1 0.7 -2.7 2.2 -1.7 2.2 3.4 2.2 1.8 2.2 -0.4 1.7 0.9 0.5 -1.6 2.2 5.0 2.2 -0.2 2.2 -7.1 2.3 2.3 1.9 -1.6 0.3 6.6 2.2 -1.4 2.2 1.6 2.2 -1.6 2.2 -2.0 2.1 -0.8 0.1 6.4 2.2 -3.3 2.2 -2.8 2.2 -3.1 2.2 0.2 2.2 1.1 0.2 1.0 2.1 2.0 2.2 -3.2 2.2 0.1 2.2 0.7 2.2 -2.9 0.3 3.2 1.9 0.8 2.2 -0.3 2.2 0.6 2.2 -3.3 2.2 -1.9 0.6 1.2 1.6 0.3 2.2 1.3 2.3 1.4 2.2 -1.4 2.2 0.3 0.7 3.7 1.5 -6.9 2.2 1.7 2.2 -2.2 2.2 5.3 2.2 -1.2 1 -3.2 1.2 1.3 2.2 -1.7 2.2 -4.1 2.3 0.6 2.2 -3.0 1.1 4.6 1.1 -1.1 2.2 3.4 2.2 -0.7 2.2 -0.5 2.2 0.4 1.4 -2.2 0.8 3.0 2.2 1.3 2.2 3.4 2.2 -2.6 2.2 2.0 1.6 1.7 0.7 3.7 2.2 -3.5 2.2 3.9 2.2 -1.6 2.2 3.7 1.8 -5.1 0.4 1.7 2.2 5.2 2.2 -1.7 2.2 3.5 2.2 1.7 2 -2.9 0.2 -2.0 2.2 0.0 2.3 -3.1 2.2 -3.0 2.2 3.9 2.2 0.8" stroke="#f9b43a" stroke-width="2.4" fill="none" stroke-linejoin="round"/>
<circle cx="206.0" cy="2942.0" r="5" fill="#f9b43a"/>
<circle cx="265.0" cy="2939.6" r="5" fill="#f9b43a"/>
<circle cx="325.0" cy="2935.7" r="5" fill="#f9b43a"/>
<circle cx="390.0" cy="2934.2" r="5" fill="#f9b43a"/>
<circle cx="445.0" cy="2928.7" r="5" fill="#f9b43a"/>
<circle cx="500.0" cy="2941.0" r="5" fill="#f9b43a"/>
<path d="M164.1 2949.7l2.2 2.9 2.2 9.0 2.2 -9.2 1.8 -0.1 0.4 4.8 2.2 -14.1 2.2 -4.0 0.8 -7.1 1.4 -4.7 2.2 5.6 2 1.4 0.2 -11.0 2.2 12.0 2.2 13.9 1.1 -2.8 1.1 -3.9 2.2 -6.8 2.2 -5.8 0.1 -5.2 2.1 0.4 2.2 -0.2 1.3 6.5 0.9 -2.2 2.2 -0.3 2.2 2.3 2.2 -2.5 1 -0.5 1.2 -2.0 2.2 -1.9 2.2 11.2 2.2 7.2 2.2 5.7 1.2 -5.4 1 1.7 2.2 0.0 2.3 10.9 2.2 4.8 0.7 -2.1 1.5 3.2 2.2 -9.5 2 0.5 0.2 5.7 2.2 -8.6 2.2 -10.9 1 11.2 1.2 1.2 1.6 18.1 0.6 -5.4 2.2 6.5 2.2 -8.5 0.6 -3.7 1.6 1.5 2.2 -4.9 1.8 2.3 0.4 -6.4 2.2 -2.0 0.3 -3.4 1.9 0.3 2.2 7.2 1.5 -9.1 0.7 -1.5 2.2 -4.2 2.2 -5.0 0.5 0.8 1.7 8.4 2.2 16.4 1.7 4.8 0.5 0.6 2.2 -8.7 1.6 -9.2 0.6 -2.2 2.2 -9.7 1.4 -7.7 0.8 -1.8 2.2 10.7 1.2 5.9 1 10.2 2.2 0.4 1 -12.7 1.3 -11.9 2.2 -8.7 0.7 2.4 1.5 -8.7 1.3 5.3 0.9 -4.1 2.2 17.1 1.2 7.2 1 -7.3 2.2 19.7 2.2 10.5 0.2 1.8 2 -15.2 2.2 -16.2 2.2 5.0 2 6.9 0.2 -4.9 2.2 -15.2 1.8 -0.6 0.4 -8.7 2.2 8.0 1.7 10.9 0.5 8.0 2.2 -0.3 2.2 -1.9 0.7 7.7 1.5 -7.6 2.2 -1.2 2.2 2.2 2.2 4.3 0.3 -9.1 1.9 2.7 2.2 6.0 2.2 -0.1 2.2 -0.3 2.2 -22.3 2.2 -13.5 1.2 0.0 1 26.6 0.4 4.6 1.8 14.6 2.3 19.4 0.1 1.5 2.1 2.9 2.1 12.1 0.1 -1.1 2.2 -14.1 2 -13.1 0.2 3.7 2.2 -2.3 2.2 -15.1 1 3.1 1.2 7.3 2.2 8.0 2.2 -2.2 2.2 -6.1 0.6 -4.3 1.6 0.7 2.2 8.9 1.8 0.2 0.4 -0.8 2.2 5.1 1.7 3.7 0.5 -8.4 2.2 -3.6 2.2 -4.7 2.1 -8.2 0.1 9.7 2.2 -5.2 2.2 4.1 2.2 7.8 1.7 -5.4 0.5 0.8 2.2 8.0 2.2 -1.0 2.2 -1.1 1.4 -3.0 0.8 2.3 2.2 7.2 2.2 13.6 0.4 2.8 1.8 -15.0 2.2 -10.7 1.6 -13.5 0.7 -3.9 2.2 5.4 2.2 -1.5 0.5 11.9 1.7 2.2 2.2 -7.0 1.8 6.4 0.4 -8.3 2.2 15.3 2.2 -0.1 0.8 7.4 1.4 0.4 2.2 -9.6 2 -3.3 0.2 -3.6 2.2 5.5 2.2 11.6 1 10.8 1.2 -12.6 2.2 -10.8 2.2 -8.0 0.1 -3.9 2.1 17.6 2.2 14.7 1.3 10.2 0.9 -4.2 2.2 -10.8 2.2 -8.8 0.3 2.5 1.9 0.6 2.2 -13.9 1.5 1.0 0.7 -8.0 2.2 2.9 2.2 -7.2 0.6 4.3 1.6 0.2 2.2 5.5 1.8 -0.1 0.4 -2.5 2.2 -7.0 2.3 -5.2 0.7 -2.5 1.5 3.3 2.2 -7.6 1.9 5.5 0.3 0.6 2.2 -2.6 2.2 -1.0 2.2 1.6 2.2 0.7 2.2 -0.6" stroke="#4f94d8" stroke-width="1.8" fill="none" stroke-linejoin="round"/>
<path d="M165.5 2944.6l2.2 -0.9 2.2 1.3 2.2 8.2 0.4 -3.1 1.8 -2.8 2.2 11.9 2.2 1.7 2.2 1.6 2.2 -2.1 2.2 -1.6 2.3 2.1 1.8 4.7 0.4 3.2 2.2 13.4 0.2 -5.1 2 -16.3 0.8 -2.8 1.4 2.9 2.2 -2.7 2.2 2.4 2.2 0.8 2.2 2.1 1 2.7 1.2 -3.3 2.2 -0.5 2.2 8.6 2.3 -7.3 2.2 3.1 1.2 2.6 1 -5.1 2.2 -0.1 2.2 -4.7 2.2 -4.5 0.8 -0.2 1.4 7.2 2.2 4.5 2.1 7.4 0.1 -1.3 2.2 -3.4 2.2 -7.9 1.1 -6.7 1.1 4.6 2.3 1.0 2.2 -3.7 2.2 -6.8 0.6 -2.5 1.6 -1.2 2.2 8.8 2.2 -0.6 2.2 -1.2 2.2 -3.5 0.9 -1.1 1.3 5.7 2.2 -3.0 2.2 2.7 2.2 -4.3 2.3 -4.6 1 8.3 1.2 -1.3 2.2 -1.4 2.2 -0.1 2.2 -0.6 2.2 0 1.3 3.5 0.9 -5.7 2.2 5.9 2.2 -6.0 2.2 3.1 2.2 -1.3 1.5 1.9 0.7 -3.2 2.3 5.6 2.2 -1.7 2.2 3.5 2.2 0 2.2 -5.2 2.2 2.3 2.2 1.8 0.7 -5.1 1.5 5.8 2.2 -0.2 2.2 5.0 2.2 -8.9 0.3 1.8 1.9 12.2 0.9 7.7 1.4 -13.4 1.4 -10.0 0.8 6.5 2.2 -4.7 2.2 3.4 2.2 -0.9 1.1 0.4 1.1 -6.4 2.2 1.2 2.2 2.1 2.2 -0.2 2.2 0.1 1.3 -5.1 0.9 0 2.2 -1.7 2.3 4.3 2.2 -1.8 2.2 4.9 1.5 -8.6 0.7 -3.1 2.2 2.2 2.2 4.3 2.2 3.7 2.2 -4.9 1.7 -1.6 0.5 -3.8 2.2 6.6 2.2 -5.9 2.2 5.3 2.3 -6.6 1.9 1.5 0.3 -0.9 2.2 1.3 2.2 -1.3 2.2 -1.5 2.2 3.9 2.1 1.0 0.1 -0.2 2.2 -2.1 2.2 3.8 2.2 -0.3 2.2 -1.3 2.2 0.7 0.2 1.6 2.1 -2.4 2.2 -3.5 2.2 3.9 2.2 2.2 2.2 0.4 0.3 1.8 1.9 -6.1 2.2 -0.4 1.6 -6.7 0.6 1.9 2.2 0.5 2.2 -3.9 0.6 -3.1 1.6 0.6 1.2 -4.5 1 4.1 1.8 14.2 0.5 -0.3 2.2 8.2 2.2 6.2 0.7 -0.5 1.5 -6.2 2.2 2.2 2.2 -3.0 2.2 -3.5 2.2 0.7 1 5.6 1.2 -6.1 2.2 0.9 2.2 3.6 2.3 -0.9 2.2 0.1 1.1 -1.5 1.1 -0.3 2.2 1.0 2.2 3.3 2.2 -2.0 2.2 4.2 1.4 -4.9 0.8 -0.2 2.2 1.9 2.2 1.1 2.2 1.7 2.2 -0.9 1.6 4.3 0.7 -3.6 2.2 -2.6 2.2 1.3 2.2 2.2 2.2 0.6 1.8 -0.7 0.4 -1.2 2.2 -3.1 2.2 -4.6 2.2 3.5 2.2 -5.7 2 5.3 0.2 2.6 2.2 2.1 2.3 -10.5 2.2 -0.2 2.2 6.2 2.2 -2.0" stroke="#dcd72e" stroke-width="1.8" fill="none" stroke-linejoin="round"/>
<path d="M165.5 2953.3l2.2 4.9 2 -5.6 0.2 3.1 1.2 10.5 1 -1.1 1.8 -9.5 0.4 -2.8 2.2 0.8 2.2 4.8 2.2 2.9 2.2 -3.3 2.2 -3.1 1.3 -1.2 1 3.0 2.2 10.4 1 5.7 1.2 -9.6 2.2 -9.5 0.8 2.0 1.4 -2.2 2.2 1.0 2.2 -4.4 2.2 2.4 0.4 -1.4 1.8 4.0 2.2 2.5 2.2 -1.7 2.2 0.1 0.1 -3.3 2.2 -0.1 2.2 -2.4 1.2 -6.3 1 1.0 2.2 3.1 2.2 -2.0 0.2 2.4 2 -1.5 2.2 0.9 2.2 0.1 2.2 -0.8 2.2 0.9 0.5 -1.9 1.7 -2.5 2.2 -1.4 2.3 4.6 2.2 -1.3 2.2 -4.2 0.6 3.2 1.6 4.6 2.2 -4.8 2.2 5.6 2.2 -1.6 2.2 -1.5 0.9 1.8 1.3 3.3 2.2 1.7 2.2 -1.4 2.2 -1.6 2.3 0.3 1 -5.8 1.2 6.7 2.2 6.3 2.2 0.5 2.2 -5.3 2.2 -3.6 1.3 1.4 0.9 -1.8 2.2 -1.1 2.2 -1.7 2.2 2.4 2.2 -2.7 1.5 -5.3 0.7 3.0 2.3 3.1 2.2 1.9 2.2 1.8 2.2 -2.6 1.7 -0.4 0.5 -3.3 2.2 4.9 2.2 8.2 0.7 6.5 1.5 -2.1 2.2 -4.9 1.9 -7.7 0.3 -1.1 2.2 1.9 2.2 -0.2 2.3 -4.4 2.2 4.1 2.1 -6.2 0.1 -1.2 2.2 1.7 2.2 2.1 1.1 -1.6 1.1 -0.5 2.2 -5.5 2.2 -1.6 0.1 4.8 2.1 3.8 2.2 4.0 1.3 -6.2 0.9 3.8 2.2 -1.5 2.3 -3.9 0.3 1.0 1.9 4.6 2.2 6.5 1.5 -3.7 0.7 0 2.2 -5.5 2.2 -3.6 0.5 -0.2 1.7 4.5 2.2 2.5 1.7 1.8 0.5 0.7 2.2 -6.5 2.2 -4.0 0.8 -7.3 1.4 -2.0 2.3 4.6 1.9 2.5 0.3 -5.4 1.7 -12.9 0.5 3.4 1.7 13.3 0.5 0.9 2.2 9.5 2.2 -2.5 2.1 5.7 0.1 -2.0 2.2 -6.0 2.2 -4.4 1.2 0.4 1 -2.8 2.2 0.4 2.2 1.4 0.2 3.0 2.1 2.4 2.2 -3.4 2.2 -3.7 2.2 -0.6 2.2 2.1 0.3 0.2 1.9 -0.5 2.2 8.5 1.6 1.4 0.6 -0.3 2.2 -0.6 2.2 -0.7 2.2 -4.9 1.2 2.7 1 -1.4 2.3 -7.0 2.2 -5.4 1.5 -1.0 0.7 -2.8 2.1 17.6 0.1 0.5 2.2 0.3 2.2 -5.5 2.2 3.2 2.2 -0.8 1 -7.1 1.2 2.4 2.2 6.7 2.2 8.3 2.3 -1.2 2.2 -2.8 2.2 1.3 1.7 -8.9 0.5 0.5 2.2 2.9 2.2 3.0 2.2 0.6 1.4 -1.6 0.8 -2.2 2.2 -2.3 2.2 -8.6 0.4 -1.0 1.8 15.3 1 9.3 1.2 3.0 1.6 1.9 0.7 -8.1 2.2 -2.1 2.2 1.2 0.6 -7.2 1.6 0.7 2.2 3.4 1.8 0.0 0.4 -0.3 2.2 -1.4 2.2 -2.0 2.2 -0.6 2.2 -0.4 2 -2.9 0.2 -3.1 2.2 -0.8 2.3 6.2 2.2 -2.8 2.2 -1.0 2.2 -1.9" stroke="#3b3b3b" stroke-width="2.2" fill="none" stroke-linejoin="round"/>
<path d="M165.5 2932.5l2.2 6.7 2.2 -2.3 2.2 -0.1 0.4 4.6 1.8 -5.9 2.2 -4.6 0.2 0.7 2 8.7 2.2 2.4 2.2 0.0 0.6 -1.0 1.6 2.1 2.3 -1.8 2.2 -1.1 2.2 2.5 0.2 -0.4 2 -1.2 2.2 -0.8 2.2 2.8 2 3.5 0.2 -1.6 2.2 1.5 2.2 2.0 2.2 -4.7 1.7 -1.7 0.5 -0.1 2.2 1.5 2.3 2.2 2.2 1.3 1.2 0.4 1 0.6 2.2 -0.9 2.2 0.3 2.2 -3.8 0.8 0.7 1.4 -3.2 2.2 -2.1 2.2 -0.2 2.2 -0.8 0.5 2.2 1.7 0.6 2.2 -1.1 2.3 1.3 2.2 -1.8 2.2 5.4 2.2 -4.5 2.2 -0.2 1.8 2.6 0.4 -0.2 2.2 -0.2 2.2 0.0 2.2 -1.2 2.2 -0.5 2.1 -1.0 0.1 2.1 2.2 -4.4 2.3 1.2 2.2 2.9 1.6 1.5 0.6 1.2 2.2 0.2 2.2 -0.8 2.2 -1.7 1.3 -0.1 0.9 1.3 2.2 -1.3 2.2 1.7 2.2 -3.3 0.9 -0.6 1.3 0.8 2.2 -3.4 2.3 3.7 2.2 -3.0 2.2 -3.6 1 3.2 1.2 0.1 2.2 -3.9 2.2 -1.9 2.2 0.7 0.7 2.0 1.5 -0.8 2.2 -2.7 2.2 1.5 2.2 -1.5 0.3 0.9 1.9 -1.0 2.3 4.0 2.2 -3.6 2.1 -4.5 0.1 2.1 2.2 2.1 2.2 4.3 1.1 -3.9 1.1 0.8 2.2 -4.0 2.2 3.8 2.2 0.6 2.2 2.6 1.3 -4.0 0.9 -2.7 2.2 1.5 2.3 2.3 2.2 1.3 2.2 -0.7 1.5 0.0 0.7 4.4 2.2 -1.3 2.2 -1.1 2.2 0.7 2.2 0.2 1.7 -0.3 0.5 1.3 2.2 1.4 2.2 -1.9 2.2 2.6 2.3 3.0 1.9 0.2 0.3 -6.1 2.2 0.3 2.2 0.1 2.2 5.7 2.2 1.8 2.1 -0.7 0.1 2.0 2.2 -2.7 2.2 2.1 2.2 -1.7 2.2 0 2.2 2.2 0.2 -4.0 2.1 3.4 2.2 -0.3 2.2 0.0 2.2 0 2.2 6.0 0.3 -3.9 1.9 0.7 2.2 -2.0 2.2 1.2 2.2 1.1 2.2 -0.1 0.6 2.2 1.6 -5.8 2.2 1.5 2.3 0.3 2.2 -1.4 2.2 0.8 0.7 0.0 1.5 -1.8 2.2 0.0 2.2 0.2 2.2 1.3 2.2 -1.9 1 3.0 1.2 -0.1 2.2 0.5 2.2 1.0 2.3 1.7 2.2 1.7 1.1 -4.3 1.1 -1.8 2.2 5.5 2.2 0.0 2.2 -1.8 2.2 -1.1 1.4 1.4 0.8 -0.8 2.2 -1.6 2.2 3.2 2.2 -0.1 2.2 -5.4 1.6 3.6 0.7 -4.2 2.2 1.1 2.2 0.5 2.2 -0.5 2.2 -3.3 1.8 3.8 0.4 -3.3 2.2 -2.4 2.2 8.2 2.2 -2.5 2.2 -1.4 2 2.9 0.2 -4.5 2.2 -2.0 2.3 2.4 2.2 1.0 2.2 -0.1 2.2 1.2" stroke="#e5322b" stroke-width="3.0" fill="none" stroke-linejoin="round"/>
<text x="758.5" y="2840.0" font-size="15" fill="#222" text-anchor="middle" font-weight="bold">DUBAI-BRENT</text>
<path d="M614.0 2860.2h16" stroke="#3cbde6" stroke-width="1.6"/>
<circle cx="622.0" cy="2860.2" r="4.6" fill="#3cbde6"/>
<text x="635.5" y="2864.8" font-size="12.4" fill="#595959">2016</text>
<path d="M673.8 2860.2h16" stroke="#a987d6" stroke-width="1.6"/>
<circle cx="681.8" cy="2860.2" r="4.6" fill="#a987d6"/>
<text x="695.3" y="2864.8" font-size="12.4" fill="#595959">2017</text>
<path d="M733.6 2860.2h16" stroke="#f4834f" stroke-width="1.6"/>
<circle cx="741.6" cy="2860.2" r="4.6" fill="#f4834f"/>
<text x="755.1" y="2864.8" font-size="12.4" fill="#595959">2018</text>
<path d="M793.4 2860.2h16" stroke="#5fae4a" stroke-width="1.6"/>
<circle cx="801.4" cy="2860.2" r="4.6" fill="#5fae4a"/>
<text x="814.9" y="2864.8" font-size="12.4" fill="#595959">2019</text>
<path d="M853.2 2860.2h16" stroke="#2f6fcf" stroke-width="1.6"/>
<circle cx="861.2" cy="2860.2" r="4.6" fill="#2f6fcf"/>
<text x="874.7" y="2864.8" font-size="12.4" fill="#595959">2020</text>
<path d="M614.0 2882.6h16" stroke="#f9b43a" stroke-width="1.6"/>
<circle cx="622.0" cy="2882.6" r="4.6" fill="#f9b43a"/>
<text x="635.5" y="2887.2" font-size="12.4" fill="#595959">2021</text>
<path d="M673.8 2882.6h16" stroke="#4f94d8" stroke-width="1.6"/>
<circle cx="681.8" cy="2882.6" r="4.6" fill="#4f94d8"/>
<text x="695.3" y="2887.2" font-size="12.4" fill="#595959">2022</text>
<path d="M733.6 2882.6h16" stroke="#dcd72e" stroke-width="1.6"/>
<circle cx="741.6" cy="2882.6" r="4.6" fill="#dcd72e"/>
<text x="755.1" y="2887.2" font-size="12.4" fill="#595959">2023</text>
<path d="M793.4 2882.6h16" stroke="#3b3b3b" stroke-width="1.6"/>
<circle cx="801.4" cy="2882.6" r="4.6" fill="#3b3b3b"/>
<text x="814.9" y="2887.2" font-size="12.4" fill="#595959">2024</text>
<path d="M853.2 2882.6h16" stroke="#e5322b" stroke-width="1.6"/>
<circle cx="861.2" cy="2882.6" r="4.6" fill="#e5322b"/>
<text x="874.7" y="2887.2" font-size="12.4" fill="#595959">2025</text>
<text x="591.2" y="2891.3" font-size="13" fill="#5e5e5e" text-anchor="end">15</text>
<text x="591.2" y="2918.8" font-size="13" fill="#5e5e5e" text-anchor="end">10</text>
<text x="591.2" y="2946.2" font-size="13" fill="#5e5e5e" text-anchor="end">5</text>
<text x="591.2" y="2973.7" font-size="13" fill="#5e5e5e" text-anchor="end">0</text>
<text x="591.2" y="3001.2" font-size="13" fill="#5e5e5e" text-anchor="end">-5</text>
<text x="591.2" y="3028.6" font-size="13" fill="#5e5e5e" text-anchor="end">-10</text>
<text x="591.2" y="3056.1" font-size="13" fill="#5e5e5e" text-anchor="end">-15</text>
<path d="M598.2 2914.2H946.6 M598.2 2941.6H946.6 M598.2 2969.1H946.6 M598.2 2996.6H946.6 M598.2 3024.0H946.6" stroke="#cfcfcf" stroke-width="1" stroke-dasharray="2 1" fill="none"/>
<rect x="598.2" y="2886.7" width="348.4" height="164.8" fill="none" stroke="#d4d4d4" stroke-width="1" stroke-dasharray="2 1"/>
<text x="599.0" y="3069.0" font-size="13" fill="#5e5e5e" text-anchor="middle">1月</text>
<text x="628.3" y="3069.0" font-size="13" fill="#5e5e5e" text-anchor="middle">2月</text>
<text x="657.6" y="3069.0" font-size="13" fill="#5e5e5e" text-anchor="middle">3月</text>
<text x="686.9" y="3069.0" font-size="13" fill="#5e5e5e" text-anchor="middle">4月</text>
<text x="716.2" y="3069.0" font-size="13" fill="#5e5e5e" text-anchor="middle">5月</text>
<text x="745.5" y="3069.0" font-size="13" fill="#5e5e5e" text-anchor="middle">6月</text>
<text x="774.8" y="3069.0" font-size="13" fill="#5e5e5e" text-anchor="middle">7月</text>
<text x="804.1" y="3069.0" font-size="13" fill="#5e5e5e" text-anchor="middle">8月</text>
<text x="833.4" y="3069.0" font-size="13" fill="#5e5e5e" text-anchor="middle">9月</text>
<text x="862.7" y="3069.0" font-size="13" fill="#5e5e5e" text-anchor="middle">10月</text>
<text x="892.0" y="3069.0" font-size="13" fill="#5e5e5e" text-anchor="middle">11月</text>
<text x="921.3" y="3069.0" font-size="13" fill="#5e5e5e" text-anchor="middle">12月</text>
<path d="M598.2 2969.1H946.6" stroke="#555" stroke-width="1.3"/>
<path d="M599.1 3002.3l2.2 -6.4 2.2 2.1 2.2 -2.2 1.8 -6.1 0.4 -1.8 2.2 0.3 2.2 6.8 2.2 -2.8 1.4 -6.2 0.8 2.6 2.2 2.3 2.2 -2.6 2.2 0.8 1.1 2.5 1.1 3.1 2.2 -4.3 2.2 -3.0 2.2 -4.4 0.7 1.0 1.5 6.0 2.2 1.0 2.2 2.1 2.2 3.9 0.3 -5.6 1.9 7.0 2.2 -1.9 2.2 1.8 2.2 5.4 2.2 2.6 0.6 1.2 1.6 -3.8 2.2 -5.7 2.2 2.8 2.3 0.9 0.1 -2.5 2.1 1.1 2.2 -6.9 2.2 -4.2 2 9.8 0.2 -2.0 2.2 5.0 2.2 -0.6 1 -1.4 1.2 8.6 2.2 -8.9 2.2 -4.1 2.2 0.6 0.6 -6.2 1.6 -3.6 2.2 3.2 2.2 -5.1 2.2 -0.4 0.3 5.3 1.9 2.5 2.2 0.2 2.2 5.8 2.1 1.9 0.1 -3.9 2.2 0.5 2.2 3.1 2.2 4.7 1.7 -1.3 0.5 -0.3 2.2 -1.3 2.2 -5.2 2.2 6.8 1.4 -7.6 0.8 2.8 2.2 -1.4 2.2 1.7 2.2 -4.9 1 -0.7 1.3 -0.4 2.2 -2.2 2.2 -1.5 2.2 11.4 2.2 -3.3 1.2 3.9 1 2.2 2.2 0.7 2.2 -4.4 2.2 6.6 2.2 -8.4 1.4 -2.4 0.8 0.6 2.2 -2.1 2.2 -1.0 2.2 -1.7 2.2 -1.4 1.7 -1.9 0.5 1.2 2.2 -1.4 2.2 6.3 0.7 -2.3 1.5 4.0 2.2 -2.6 2.2 -2.0 2.2 6.4 2.2 -5.5 0.9 2.3 1.3 -3.4 2.2 -1.5 2.2 -3.6 2.2 -4.5 2.2 0.1 1.2 5.5 1 -2.9 2.2 2.4 2.3 3.9 2.2 -2.0 2.2 -3.6 1.3 0.8 0.9 0.5 2.2 5.4 2.2 -8.5 2.2 3.3 1 3.2 1.2 6.3 2.2 -2.4 2.2 -2.3 2.2 7.5 0.6 6.3 1.6 -4.0 2.2 1.9 2.2 -4.2 2.2 -1.5 0.3 -3.8 1.9 0.5 2.2 -0.9 2.2 6.4 2.1 0.1 0.1 -1.1 2.2 -2.2 2.2 3.2 2.2 -1.7 1.7 -3.2 0.5 0.6 2.2 -7.7 2.2 2.8 2.2 -4.0 1.4 2.2 0.8 0.5 2.2 1.7 2.2 -4.8 2.2 0.5 2.2 1.6 1.6 2.5 0.7 -7.0 2.2 5.5 2.2 -1.9 2.2 2.4 2.2 3.0 1.8 -1.6 0.4 -7.3 2.2 2.5 2.2 2.2 2.2 -2.4 2.2 3.2 2 -3.9 0.2 0.4 2.2 -0.7 2.2 4.6 2.2 -3.7 2.2 2.3 2.2 4.6 0.1 -4.6 2.1 6.0 2.2 -5.1 2.2 8.7 2.2 -9.5 2.2 2.3 0.3 2.2 1.9 3.1 2.2 -4.5 2.2 1.5 2.2 -4.9 2.2 -0.1 0.6 -1.5 1.6 4.0 2.2 0.5 2.2 0.9 2.2 0.7 2.3 2.1 0.7 -2.6 1.5 4.8 2.2 -2.6 2.2 -3.5 2.2 1.1 2.2 -5.0 1 5.8 1.2 0.2 2.2 8.3 2.2 -3.9" stroke="#3cbde6" stroke-width="1.8" fill="none" stroke-linejoin="round"/>
<path d="M599.1 2973.7l2.2 2.2 2.2 -2.0 2.2 0.8 2.2 1.2 2.2 -1.0 2.2 2.2 0.8 -1.3 1.4 2.4 2.2 -5.5 2.2 -0.2 2.2 0 2.2 -1.9 2.2 6.1 1.7 -6.3 0.5 2.6 2.2 2.3 2.2 -1.2 2.2 -0.5 2.2 0.4 2.2 1.2 2.2 3.6 0.3 -2.3 1.9 0.8 2.2 -5.4 2.2 4.2 2.2 0.3 2.2 -3.6 2.2 -4.9 1.2 5.5 1 1.1 2.2 -6.4 2.3 5.8 2.2 -0.1 2.2 -4.9 2.2 -2.1 2 2.6 0.2 0.7 2.2 3.2 2.2 -5.3 2.2 -1.3 2.2 3.6 2.2 -1.1 2.2 2.3 0.6 -4.8 1.6 3.2 2.2 1.5 2.2 -1.8 2.2 4.0 2.2 -6.9 2.2 0.8 1.5 2.1 0.7 -0.5 2.2 -1.1 2.2 -1.0 2.2 -3.6 2.2 3.9 1.7 4.2 0.5 -4.6 2.2 0.6 2.2 2.3 2.2 0.7 2.2 2.2 2 -1.3 0.2 -3.2 2.2 4.0 2.2 -4.8 2.3 3.6 2.2 -3.4 2.1 3.8 0.1 2.7 2.2 4.6 2.2 -6.5 2.2 -3.9 2.2 3.8 2.2 -0.6 0.2 1.4 2 -0.1 2.2 3.4 2.2 -1.9 2.2 0.1 2.2 4.1 0.4 -0.5 1.8 0.2 2.2 1.0 2.2 4.2 2.2 -2.0 2.2 1.4 0.7 -1.4 1.5 -2.4 2.2 2.3 2.2 3.0 2.2 -2.4 2.2 -1.2 2.2 -5.1 2.2 3.3 2.2 2.9 2.2 -2.0 2.2 6.7 2.2 -10.1 2.2 2.2 2.3 -1.2 0.1 1.7 2.1 2.6 2.2 1.5 2.2 -4.4 2.2 -1.5 2.2 -0.3 2.2 2.3 2.2 0.5 2.2 2.9 2.2 -3.5 2.2 -5.4 2.2 1.6 2.2 6.0 1.8 0.6 0.4 -3.0 2.2 1.0 2.2 2.5 2.2 -0.1 2.2 -6.0 2.2 4.3 2.2 -3.6 2.2 0.1 2.2 0.3 2.2 0.9 2.2 -3.4 2.2 0.5 2.2 4.7 1.4 2.7 0.8 -0.3 2.2 0.1 2.2 -2.9 2.2 -1.0 2.2 4.6 2.3 2.6 2.2 0.8 2.2 -3.3 2.2 2.1 2.2 -5.9 2.2 4.3 2.2 5.6 2.2 1.7 0.8 -4.2 1.4 8.0 2.2 -2.1 2.2 -3.0 2.2 0.8 0.4 2.5 1.8 3.7 2.2 -2.5 2.2 -10.9 2.2 1.5 0.1 4.1 2.1 -3.8 2.2 1.1 2.2 -6.3 2.2 -0.7 2.2 -7.3 0.3 7.5 1.9 0.7 2.2 0.2 2.2 0.4 2.2 1.1 2.2 1.9 2.2 -0.5 2.2 0.6 1.8 -5.9 0.4 0.7 2.2 2.9 2.3 4.8 2.2 -1.6 2.2 0.2 1.9 5.2 0.3 -7.1 2.2 -1.5 2.2 -1.2 2.2 -1.7 2.2 2.1 2.2 5.4" stroke="#a987d6" stroke-width="1.8" fill="none" stroke-linejoin="round"/>
<path d="M599.1 2979.9l2.2 4.7 2.2 3.0 2.2 -7.7 2.2 3.3 2.2 -0.2 2.2 -2.1 0.8 10.0 1.4 -8.3 2.2 3.6 2.2 -1.6 2.2 0.0 2.2 -2.8 2.2 -5.9 1.7 2.5 0.5 -1.5 2.2 0.6 2.2 1.7 2.2 2.0 2.2 2.1 2.2 -2.3 2.2 -3.6 0.3 -0.4 1.9 0.7 2.2 -4.6 2.2 7.3 2.2 1.3 2.2 -3.5 2.2 3.9 1.2 1.6 1 2.7 2.2 2.2 2.3 0.4 2.2 -2.9 2.2 0.1 2.2 -0.5 2 3.9 0.2 -1.2 2.2 9.0 2.2 2.7 2.2 0.7 1.6 5.5 0.6 1.5 2.2 5.1 2.2 -7.8 0.6 3.2 1.6 -2.1 2.2 -3.7 2.2 -9.9 2.2 -6.4 0.3 7.0 1.9 -2.4 2.2 -7.5 2.2 -2.1 2.2 9.0 2.2 2.1 0.5 -4.7 1.7 7.6 2.2 0.4 2.2 2.1 2.2 -2.6 0.1 3.1 2.1 3.7 2.2 -2.4 2.2 -6.6 2 -2.8 0.2 -0.1 2.2 -6.3 2.2 6.4 2.3 -8.7 2.2 4.3 2.1 1.7 0.1 6.6 2.2 -7.4 2.2 -6.6 2.2 3.4 2.2 -1.8 2.2 4.4 0.2 -1.7 2 -0.5 2.2 6.5 2.2 -6.2 2.2 4.8 2.2 -3.4 0.4 -7.3 1.8 7.5 2.2 -4.1 2.2 -0.3 2.2 4.9 2.2 2.7 0.7 7.8 1.5 1.6 2.2 -5.1 2.2 -4.1 2.2 -1.7 2.2 -6.6 0.9 -0.9 1.3 18.4 2.2 -6.6 2.2 -4.8 2.2 -4.6 2.2 -0.4 1.2 1.4 1 3.9 2.2 -3.4 2.3 -1.4 2.2 -3.1 2.2 2.5 1.3 -8.2 0.9 7.9 2.2 -1.3 2.2 -6.9 2.2 5.9 2.2 6.6 1.6 -6.8 0.6 2.7 2.2 -4.9 2.2 4.4 2.2 2.3 2.2 -5.1 1.8 -1.5 0.4 6.1 2.2 -2.9 2.2 3.5 2.2 -3.3 2.2 1.1 2.1 5.7 0.1 -0.8 2.2 -3.1 2.2 -5.5 2.2 4.0 2.2 -7.8 2.2 5.2 0.1 0.0 2.1 -0.2 2.2 4.2 2.2 -5.5 2.2 -2.1 2.2 -1.5 0.4 -1.9 1.8 9.9 2.2 -1.4 2.3 -1.3 2.2 4.0 2.2 -2.8 0.5 1.9 1.7 -9.6 2.2 -2.5 2.2 -5.8 2.2 0.9 2.2 -8.5 0.8 -4.5 1.4 10.2 2.2 -4.4 2 -3.1 0.2 5.9 2.2 6.3 2.2 3.4 2.2 -4.2 2.2 3.8 2.2 0.1 0.1 2.5 2.1 -3.9 2.2 -1.8 2.2 -6.7 2.2 -4.6 2.2 -5.4 0.3 1.3 1.9 -4.8 2.2 -1.1 2.2 -0.8 2.1 -6.6 0.1 1.0 2.2 5.3 2.2 5.0 2.2 9.7 1.8 10.2 0.4 -9.9 2.2 1.6 2.3 3.9 2.2 -2.3 1.3 2.3 0.9 -11.9 2.2 -6.4 2.2 -13.0 0.3 2.3 1.9 4.5 2.2 -2.9 0.2 1.2 2 3.0 2.2 -0.3" stroke="#f4834f" stroke-width="1.8" fill="none" stroke-linejoin="round"/>
<path d="M599.1 2970.7l2.2 -1.7 2.2 2.2 2.2 2.1 2.2 -5.4 2.2 3.6 2.2 0.2 0.8 -2.5 1.4 1.2 2.2 4.0 2.2 -2.4 2.2 2.7 2.2 -7.7 2.2 5.7 1.7 -5.1 0.5 2.0 2.2 3.2 2.2 -5.3 2.2 6.0 1.3 -9.3 0.9 2.0 2.2 0.2 2.2 6.1 2.2 -0.3 2.2 1.8 1.6 -2.5 0.6 -1.4 2.2 2.4 2.2 -4.1 2.2 4.8 2.2 0.9 1.8 3.6 0.4 -1.6 2.3 -3.5 2.2 1.6 2.2 -2.7 2.2 2.4 2 -4.4 0.2 3.6 2.2 -4.9 2.2 3.6 2.2 -1.0 2.2 2.8 2.2 1.1 2.2 1.4 0.6 -0.8 1.6 -2.0 2.2 2.1 2.2 4.2 2.2 -3.8 2.2 3.0 2.2 3.5 1.5 -2.5 0.7 -3.1 2.2 -3.4 2.2 3.0 2.2 1.1 2.2 -1.1 1.7 -1.7 0.5 0.9 2.2 2.0 2.2 0.7 2.2 -3.9 2.2 -0.6 2 2.0 0.2 -4.6 2.2 -0.3 2.2 3.4 2.3 3.5 2.2 -3.4 2.1 0.8 0.1 -1.4 2.2 -2.4 2.2 0.7 2.2 1.4 1.8 -6.4 0.4 -1.8 1.8 -20.9 0.4 7.2 1.6 15.4 0.6 0.2 2.2 2.5 2.2 2.1 2.2 4.0 2.2 -5.0 0.4 4.2 1.8 -0.3 2.2 0.4 2.2 4.8 2.2 -6.3 2.2 1.6 0.7 -1.4 1.5 -0.8 2.2 -0.9 2.2 2.8 2.2 -3.5 2.2 -0.6 2.2 -1.1 2.2 -2.2 2.2 0.3 2.2 0.4 2.2 -3.0 2.2 2.1 2.2 5.3 2.3 -4.3 0.1 0.7 2.1 -0.4 2.2 0.1 2.2 0.1 2.2 1.5 2.2 1.7 2.2 -3.3 2.2 4.2 2.2 -0.7 2.2 -0.6 2.2 -0.3 2.2 -0.5 2.2 6.4 1.8 -1.0 0.4 -0.5 2.2 3.4 2.2 3.6 2.2 -3.1 2.2 1.9 2.2 3.3 2.2 0.8 2.2 5.7 2.2 -2.3 2.2 -1.7 2.2 10.9 0.1 -2.7 2.1 -6.1 2.2 -9.0 1.4 -6.2 0.8 -5.0 2.2 5.0 2.2 -3.7 2.2 2.0 2.2 2.7 2.3 -0.8 2.2 -1.6 2.2 1.7 2.2 -3.6 2.2 -3.0 2.2 4.3 2.2 0.8 2.2 -2.8 0.8 5.8 1.4 1.3 2.2 -2.4 2.2 3.8 2.2 -1.7 2.2 3.2 2.2 -5.0 2.2 -1.7 2.2 4.6 2.2 1.8 2.2 -4.2 2.2 -7.3 2.2 -0.9 2.2 7.0 0.3 0.7 1.9 0.7 2.2 -3.8 2.2 3.3 2.2 3.6 2.2 -7.4 2.2 -0.3 2.2 2.6 2.2 0.8 2.2 -2.1 2.3 3.9 2.2 -3.2 2.2 3.5 1.9 -1.1 0.3 2.5 2.2 3.2 2.2 2.3 2.2 -6.7 2.2 -5.4 2.2 2.6" stroke="#5fae4a" stroke-width="1.8" fill="none" stroke-linejoin="round"/>
<path d="M599.1 2965.2l2.2 0.9 2.2 -3.6 1.2 0.8 1 1.3 2.2 1.0 2.2 -1.3 0.2 4.2 2 -8.0 2.2 2.7 1.4 -4.7 0.8 -3.9 2.2 -4.9 2.2 -9.4 0.5 0 1.7 1.1 2.2 -2.6 1.1 -1.4 1.1 4.1 2.2 16.1 0.1 1.5 2.1 5.2 2.2 5.3 1.3 -5.3 0.9 4.6 2.2 7.9 2.2 2.2 0.3 1.6 1.9 -1.2 2.2 -7.8 1.6 -2.2 0.6 3.9 2.2 -4.4 2.2 -2.1 2.2 0.8 1.2 -1.1 1 3.7 2.2 -4.8 2.3 -8.4 0.1 5.1 2.1 -5.0 2.2 -0.2 1.4 -4.8 0.8 -0.6 2 -13.4 0.2 -6.6 2.2 -9.0 0.4 4.1 1.8 1.5 1 5.5 1.2 -6.2 2.2 1.9 0.8 -4.3 1.4 -6.6 2.2 -9.8 0.6 0.6 1.6 16.9 1.2 13.0 1 7.9 1.8 6.9 0.4 -0.3 2.2 18.9 0.3 6.7 1.9 5.8 0.9 8.5 1.3 4.7 2.2 6.1 2.1 1.4 0.1 3.6 2.2 -0.7 2.2 -0.5 1.1 -3.7 1.1 -3.4 2.2 1.1 2.2 -3.3 0.1 3.4 2.1 -2.1 2.2 -9.6 1.4 -6.7 0.8 -3.4 2.2 -2.0 2.2 -1.7 2.2 -1.2 1 0.7 1.3 -2.0 2.2 -1.7 2.2 2.4 2.2 -1.5 2.2 -0.2 1.2 -5.1 1 0.2 2.2 2.6 2.2 -3.6 2.2 6.0 2.2 -8.1 1.4 1.9 0.8 2.3 2.2 2.4 2.2 -2.9 2.2 -1.0 2.2 4.1 1.7 -2.8 0.5 0.1 2.2 -0.2 2.2 -1.3 0.7 3.8 1.5 3.8 2.2 -3.7 2.2 -1.5 2.2 2.3 2.2 -1.8 2.2 1.4 2.2 1.2 2.2 -2.8 2.2 3.8 2.2 -4.7 2.2 1.2 2.2 1.9 2.3 -3.4 0.1 -2.3 2.1 4.5 2.2 -3.8 2.2 4.3 2.2 -2.5 2.2 0.7 2.2 3.9 2.2 -1.8 2.2 -2.4 2.2 0.5 2.2 -0.7 2.2 -2.4 2.2 -0.5 1.8 -2.3 0.4 3.9 2.2 -0.9 2.2 3.2 2.2 -4.6 2.2 5.8 2.2 -3.8 2.2 5.3 2.2 2.7 2.2 -0.2 2.2 -2.1 2.2 -6.4 2.2 3.1 2.2 5.4 1.4 0.7 0.8 -1.8 2.2 -0.9 2.2 -0.1 2.2 -0.6 2.2 -0.6 2.3 0.4 2.2 -0.5 2.2 -2.4 2.2 -0.4 2.2 2.1 2.2 0.5 2.2 -1.3 2.2 3.2 0.8 -2.2 1.4 1.0 2.2 -8.4 2.2 2.6 2.2 6.0 2.2 -4.0 2.2 5.6 2.2 -5.0 2.2 -1.2 2.2 1.4 2.2 5.5 2.2 -7.6 2.2 2.6 2.2 1.6 0.3 2.5 1.9 -3.1 2.2 -2.1 2.2 -4.1 2.2 3.4 2.2 1.9 2.2 0.3 2.2 -2.3 2.2 2.7 2.2 -3.7 2.3 3.0 2.2 3.7 2.2 -3.0 1.9 -3.1 0.3 2.7 2.2 1.3 2.2 -2.5 2.2 0.6 2.2 1.0 2.2 0.1" stroke="#2f6fcf" stroke-width="1.8" fill="none" stroke-linejoin="round"/>
<path d="M599.1 2972.6l2.2 -2.7 2.2 5.2 2.2 -3.2 2.2 -1.2 2.2 -0.7 2.2 5.3 0.8 -1.0 1.4 -2.4 2.2 -3.0 2.2 1.8 2.2 0.7 2.2 0.6 2.2 -0.1 1.7 -0.2 0.5 1.8 2.2 3.8 2.2 -4.1 2.2 2.3 2.2 -4.2 2.2 3.4 2.2 2.2 0.3 -4.9 1.9 9.8 2.2 -5.4 2.2 0.6 2.2 -1.6 2.2 -0.5 2.2 4.0 1.2 1.2 1 -1.8 2.2 0.8 2.3 -2.8 2.2 0.1 2.2 -2.8 2.2 -0.4 2 -1.7 0.2 2.8 2.2 -1.8 2.2 3.4 2.2 -9.6 2.2 -2.6 2.2 -0.2 2.2 6.2 2.2 -3.5 1.2 3.5 1 -3.4 2.2 4.9 2.2 -3.6 2.2 6.2 2.2 2.8 1.5 -2.6 0.7 3.8 2.2 -4.5 2.2 4.4 2.2 3.5 2.2 -3.9 1.7 5.3 0.5 -1.4 2.2 -1.7 2.2 -1.7 2.2 1.9 2.2 -2.4 2 4.0 0.2 -0.9 2.2 4.5 2.2 -10.1 2.3 3.4 2.2 -0.7 2.1 7.6 0.1 -5.2 2.2 -0.8 2.2 -2.8 2.2 3.4 2.2 -1.9 2.2 -0.3 0.2 1.6 2 5.4 2.2 -2.9 2.2 -0.7 2.2 -0.9 2.2 3.7 0.4 -2.6 1.8 -2.5 2.2 -6.8 2.2 7.7 2.2 -6.5 2.2 0.7 0.7 1.1 1.5 -3.9 2.2 -0.7 2.2 5.7 2.2 -0.4 2.2 -1.4 0.9 -1.4 1.3 1.8 2.2 -1.5 2.2 -3.1 2.2 6.4 2.2 4.7 1.2 -9.3 1 4.9 2.2 -0.9 2.3 -3.2 2.2 -0.1 2.2 2.0 1.3 0.9 0.9 -3.4 2.2 0.2 2.2 -0.3 2.2 2.5 2.2 4.6 1.6 -2.0 0.6 0.3 2.2 2.8 2.2 -1.8 2.2 1.4 2.2 -5.1 1.8 4.0 0.4 1.9 2.2 -3.2 2.2 2.3 2.2 0.7 2.2 -3.5 2.1 0.6 0.1 -1.5 2.2 -1.4 2.2 -0.4 2.2 3.8 2.2 -2.5 2.2 0.5 0.1 10.2 2.1 1.0 2.2 4.5 2.2 0.8 2 2.7 0.2 0.6 2.2 9.6 0.4 -0.4 1.8 -6.8 2.2 -8.6 1.6 -1.2 0.7 -3.9 2.2 -0.8 2.2 6.1 2.2 0.8 2.2 1.4 1.8 -3.2 0.4 -1.9 2.2 0.5 2.2 7.4 2.2 -1.0 2.2 -4.0 2 3.2 0.2 -13.2 2.2 5.6 2.2 -1.1 2.2 -4.6 2.2 2.9 2.2 -5.6 0.1 1.2 2.1 -0.9 2.2 -4.5 2.2 0.6 2.2 0.3 2.2 -1.6 0.3 -2.2 1.9 -12.1 2.2 -8.8 1.5 -12.8 0.7 -2.9 2.2 -8.2 1.3 -7.6 0.9 10.3 2 35.4 0.2 0.3 2.2 -2.3 2.2 11.9 2.2 1.1 0.2 -1.8 2.1 1.7 2.2 -1.5 2.2 0.5 1.9 3.2 0.3 5.3 2.2 0.6 2.2 3.3 2.2 -8.8 2.2 2.9 2.2 5.0" stroke="#f9b43a" stroke-width="2.4" fill="none" stroke-linejoin="round"/>
<path d="M599.1 2973.4l2.2 7.0 2.2 -2.5 2.2 8.5 1.8 -6.2 0.4 1.2 2.2 2.6 2.2 12.8 2.2 -4.0 1.4 -10.7 0.8 11.5 2.2 5.0 2.2 7.4 2.2 0.6 1.1 8.3 1.1 -3.9 2.2 -2.6 2.2 -11.2 0.1 1.5 2.1 -7.7 2.2 -6.4 1.3 -4.6 0.9 3.3 2.2 1.3 2.2 2.5 0.3 -3.2 1.9 -1.9 2.2 3.0 1.6 5.4 0.6 2.2 2.2 10.0 2.2 12.3 0.6 2.0 1.6 -4.6 2.2 -3.6 1.8 -7.5 0.4 -3.5 2.3 -11.2 2.2 -2.8 0.7 3.3 1.5 3.3 2.2 -0.8 2 -0.8 0.2 -1.8 2.2 20.3 2.2 6.0 1 0.4 1.2 -4.4 2.2 -8.7 2.2 -0.1 2.2 -6.6 2.2 2.2 1.2 0.6 1 -2.1 2.2 -1.9 2.2 -2.5 0.3 4.9 1.9 4.3 2.2 3.5 1.5 7.7 0.7 -4.0 2.2 3.2 2.2 -4.6 0.5 1.6 1.7 -3.0 2.2 6.0 1.7 -13.3 0.5 7.5 2.2 -6.4 2.2 -6.7 0.8 0.8 1.4 -4.1 2.2 0.7 2 -3.4 0.2 1.1 2.2 4.8 2.2 6.8 1 -5.4 1.3 2.1 2.2 7.6 2.1 -2.8 0.1 -1.7 2.2 3.5 2.2 3.3 1.2 5.8 1 12.7 1.8 15.1 0.4 -4.1 1.8 11.0 0.4 -4.6 1.6 -22.5 0.6 -0.1 2.2 -19.3 1.4 -1.5 0.8 0.4 2.2 -6.1 2.2 5.4 0.4 1.5 1.8 1.0 2.2 1.0 1.7 -6.6 0.5 3.8 2.2 -0.9 2.2 5.6 0.7 -17.2 1.5 -7.5 2.2 -16.1 1.9 -15.1 0.3 4.4 2.2 27.9 0.3 3.1 1.9 -5.9 2.2 1.7 2.2 -5.8 2.2 -7.5 2.2 6.7 2.2 -0.7 2.2 1.2 1.8 6.5 0.4 -0.7 2.3 2.6 2.2 0.5 0.7 6.9 1.5 -3.1 2.2 10.5 2 5.4 0.2 -5.6 2.2 1.9 2.2 -9.3 1 -4.8 1.2 -1.6 2.2 -2.3 2.2 -5.5 2.2 -2.3 0.6 -1.7 1.6 2.5 2.2 7.1 2.2 3.0 2.2 -1.8 0.3 1.4 1.9 -4.0 2.2 -2.0 2.2 0.4 2.1 1.7 0.1 -1.7 2.2 3.7 2.2 8.4 2.2 -2.9 1.7 1.4 0.5 8.5 2.2 1.1 2.2 -0.6 0.8 2.1 1.4 -19.1 2.2 -22.1 0.6 -6.5 1.6 0.8 2.2 -9.7 0.4 5.2 1.8 -4.2 1 -1.1 1.2 12.1 1.6 23.4 0.7 -3.0 2.2 3.8 2.2 10.1 0.5 -0.5 1.7 -8.0 2.2 8.4 1.8 -12.6 0.4 0.3 2.2 -3.9 2.2 11.0 2.2 -2.1 1.4 -3.2 0.8 1.7 2.2 3.2 2.2 6.5 0.4 5.6 1.8 -2.4 2.2 -2.0 1.6 9.9 0.6 -2.0 2.2 -2.1 2.2 12.9 0.7 -3.7 1.5 -12.8 2.2 -11.2 1.9 1.9 0.3 -1.1 2.2 7.7 2.2 1.3 0.9 -2.3 1.3 1.6 2.2 -1.5 2.1 2.8 0.1 11.4 2.2 5.6 2.2 9.2 1.2 -2.7 1 -10.3 1.8 -10.1 0.4 -2.4 2.2 1.2 2.3 6.3 2.2 0.5 1.3 -6.0 0.9 9.3 2.2 1.7 2.2 -2.5 2.2 4.7 1 -2.0 1.2 -0.2 2.2 4.2 2.2 3.2" stroke="#4f94d8" stroke-width="1.8" fill="none" stroke-linejoin="round"/>
<path d="M599.1 2986.7l2.2 0.9 2.2 4.9 2.2 -5.9 1.8 8.0 0.4 1.1 2.2 -4.1 2.2 5.4 2.2 1.1 1.4 6.2 0.8 -2.8 2.2 -0.1 2.2 2.9 2.2 0.8 1.1 0.6 1.1 -2.8 2.2 -3.0 2.2 -7.3 2.2 -2.0 0.7 -2.7 1.5 -4.7 2.2 2.8 2.2 3.6 2.2 -10.7 0.3 1.9 1.9 0.1 2.2 -0.5 2.2 -0.9 2.2 -4.0 2.2 4.7 2.2 2.7 2.2 0.1 1.8 0.6 0.4 -1.2 2.3 -6.3 2.2 -0.2 2.2 -6.9 2.2 -7.5 2 -3.2 0.2 0.1 2.2 -1.8 2.2 -6.8 1 -2.8 1.2 0.7 2.2 7.6 2.2 10.8 2.2 1.8 2.2 3.6 1.2 8.1 1 -1.9 2.2 3.4 2.2 2.6 0.3 1.2 1.9 -0.8 2.2 -3.3 2.2 10.6 2.1 -6.2 0.1 -1.5 2.2 -8.5 2.2 -5.8 1.1 -2.6 1.1 -14.5 1.7 -14.3 0.5 8.7 2.2 19.5 0.1 6.4 2.1 -1.0 2.2 3.7 2.2 2.2 2 8.2 0.2 -2.3 2.2 -1.4 2.2 -4.4 2.3 0.8 2.2 4.3 2.1 -5.6 0.1 2.5 2.2 -4.4 2.2 -4.9 2.2 7.8 2.2 5.6 2.2 -10.9 0.2 9.5 2 -1.0 2.2 -9.4 2.2 4.4 2.2 3.7 2.2 -5.8 0.4 1.6 1.8 2.6 2.2 -0.3 2.2 -1.5 2.2 -3.4 2.2 -1.8 0.7 -2.6 1.5 -0.1 2.2 0.1 2.2 -1.4 2.2 1.0 2.2 1.2 0.9 2.2 1.3 4.4 2.2 0.3 2.2 -0.7 2.2 -2.2 2.2 2.3 1.2 3.8 1 1.8 2.2 2.2 2.3 -6.2 2.2 -3.4 2.2 4.0 1.3 -2.2 0.9 -0.3 2.2 -2.2 2.2 -0.7 2.2 1.3 2.2 -5.4 1.6 -0.4 0.6 6.1 2.2 -0.7 2.2 -2.2 2.2 -1.0 2.2 1.4 1.8 4.2 0.4 -3.3 2.2 -2.7 2.2 5.9 2.2 -1.6 2.2 -9.0 2.1 1.2 0.1 -4.2 2.2 -2.8 2.2 4.5 2.2 0.3 2.2 0.2 2.2 2.4 0.1 4.8 2.1 2.0 2.2 0.2 2.2 -5.4 2.2 7.7 2.2 2.2 0.4 -4.9 1.8 -1.0 2.2 5.4 2.3 -2.8 2.2 2.6 2.2 1.1 0.5 0.1 1.7 -4.1 2.2 0.2 2.2 -3.9 2.2 2.0 2.2 -1.6 0.8 -5.8 1.4 2.1 2.2 -8.3 2.2 -0.9 2.2 -6.1 2.2 -7.7 1 -4.0 1.2 9.5 2.2 4.7 2.2 11.4 0.1 -5.2 2.1 -1.8 2.2 6.0 2.2 1.8 2.2 -1.7 2.2 6.1 0.3 -1.9 1.9 1.6 2.2 -5.5 2.2 3.2 2.2 6.2 2.2 -5.4 0.6 -2.4 1.6 4.4 2.2 1.9 2.2 6.0 2.2 -4.0 2.3 6.7 0.7 -7.0 1.5 5.5 2.2 -2.3 2.2 3.7 2.2 3.8 2.2 -8.1 1 1.1 1.2 -4.4 2.2 5.5 2.2 -5.9" stroke="#dcd72e" stroke-width="1.8" fill="none" stroke-linejoin="round"/>
<path d="M599.1 2973.8l2.2 1.4 2.2 3.3 1.2 -1.8 1 5.5 2.2 -9.0 2.2 -9.2 0.2 5.2 2 4.7 2.2 -4.5 2.2 1.9 2 2.0 0.2 2.9 2.2 0.5 2.2 17.1 1.1 0.6 1.1 -6.3 1.7 -9.2 0.5 3.0 2.2 -8.5 2.2 -3.5 0.7 1.7 1.5 2.7 2.2 -1.5 1.9 9.6 0.3 -1.6 2.2 0.0 2.2 0.1 1 -5.5 1.2 3.1 2.2 1.3 2.2 -6.3 2.2 3.8 2.2 -0.1 1.2 7.1 1 -5.5 2.2 -7.0 2.3 -4.2 0.1 5.1 2.1 4.5 2.2 -1.9 2.2 0.6 2 0.8 0.2 7.0 2.2 -1.8 2.2 4.0 1 -3.1 1.2 1.1 2.2 -1.6 2.2 -6.7 2.2 -2.7 2.2 -3.1 1.2 0.2 1 0.6 2.2 0.7 2.2 -1.8 0.3 4.9 1.9 -2.1 2.2 -0.7 1.5 -0.1 0.7 3.8 2.2 -5.4 2.2 0.5 2.2 3.1 1.1 -3.9 1.1 -3.3 2.2 2.5 2.2 2.7 2.2 0.2 0.8 2.5 1.4 -3.4 2.2 -1.1 2 -2.5 0.2 -2.3 2.2 4.8 2.2 -6.4 1 -2.6 1.3 -0.7 2.2 1.0 2.1 1.4 0.1 2.4 2.2 2.6 2.2 -0.9 1.2 -4.4 1 -0.3 2.2 -9.2 2.2 1.8 0.2 -3.9 2 8.4 2.2 4.8 1.4 6.9 0.8 -1.0 2.2 -3.1 2.2 -2.4 0.4 -1.1 1.8 9.3 2.2 1.0 2.2 12.8 2.2 0.7 0.1 -1.1 2.1 -4.9 0.7 2.8 1.5 -2.1 2.2 -8.3 1.9 -1.4 0.3 1.7 2.2 -4.1 2.2 -2.0 2.2 2.5 2.2 -4.8 2.2 -0.5 2.2 1.4 2.2 3.5 2.2 -4.7 1.8 -2.8 0.4 1.0 2.3 -3.1 2.2 -2.6 0.7 0.0 1.5 -8.2 1.9 -7.0 0.3 0.6 2 17.7 0.2 0.8 2.2 -0.2 2.2 9.8 2.2 -0.8 1.6 -2.2 0.6 -1.2 2.2 1.0 2.2 -1.7 2.2 3.4 1.2 1.1 1 -1.5 2.2 1.6 2.2 -4.7 2.2 -2.3 0.9 -0.3 1.3 0.8 2.2 -1.2 2.2 -0.8 2.2 -2.9 0.5 0.5 1.7 1.0 2.2 3.1 2.2 -1.3 2.2 -0.1 0.1 1.0 2.1 -1.4 2.2 4.2 2.2 4.3 2 -8.1 0.2 1.3 2.2 -1.5 2.2 5.7 2.2 2.2 1.6 2.9 0.7 -0.5 2.2 -5.7 2.2 0.6 2.2 -1.3 1.1 -4.6 1.1 2.5 2.2 1.4 2.2 5.1 2.2 -2.2 0.8 0 1.4 -4.8 2.2 -2.5 2.2 -5.5 2.2 -1.1 0.4 -6.4 1.8 12.3 1 9.0 1.2 6.6 2.2 -2.2 2.2 0.1 2.2 -0.8 0.7 1.2 1.5 -2.3 2.2 -0.2 2.2 -4.0 2.2 0.8 0.3 -3.1 1.9 4.8 2.2 1.5 1.5 7.7 0.7 1.4 2.2 -6.3 2.2 -1.1 2.2 -2.6 1.2 1.5 1 0.4 2.2 -3.1 2.2 -0.7 2.3 5.0 0.7 0.1 1.5 -1.5 2.2 3.5 2.2 -0.5 2.2 -2.2 2.2 -5.2 1 -3.1 1.2 -1.9 2.2 4.2 2.2 -1.3" stroke="#3b3b3b" stroke-width="2.2" fill="none" stroke-linejoin="round"/>
<path d="M599.1 2967.4l2.2 0.6 2.2 0.4 1.2 2.9 1 -2.4 2.2 2.2 2.2 -1.0 0.2 4.5 2 -4.0 2.2 -5.7 1.4 -4.9 0.8 -0.9 2.2 -0.8 2.2 -1.1 0.5 0.9 1.7 -3.2 2.2 -2.4 1.1 -7.9 1.1 6.2 2.2 5.2 0.1 2.4 2.1 0.7 2.2 -5.0 1.3 0 0.9 -2.6 2.2 9.0 2.2 -5.3 0.3 -0.1 1.9 0.3 2.2 -4.7 1.6 0.2 0.6 -0.7 2.2 -2.1 2.2 -5.2 0.6 -3.5 1.6 8.5 2.2 0.9 0.4 4.3 1.8 7.6 1 14.0 1.2 -4.0 2.2 -2.9 0.8 -6.7 1.4 2.1 2.2 -3.1 2.1 3.8 0.1 -1.2 2.2 -1.4 2.2 7.7 1.1 -3.2 1.1 1.3 2.2 8.1 2.2 1.7 0.1 -0.6 2.1 -13.4 0.7 -1.5 1.5 -4.8 2.2 0.3 1.9 -5.9 0.3 3.4 2.2 0.9 2.2 -1.4 1 -1.9 1.2 6.4 2.2 3.0 2.2 3.6 2.2 -1.5 2.2 -7.9 1.2 -0.2 1 4.9 2.2 -5.1 1 -2.2 1.3 -9.1 1.6 -9.3 0.6 8.0 2.2 28.7 2.2 -4.8 2 1.4 0.2 -1.2 2.2 -1.7 2.2 2.2 1 5.0 1.2 -0.2 2.2 0.2 2.2 3.4 2.2 -2.6 2.2 5.4 2.2 -4.3 1.9 -5.6 0.3 0.8 2.2 4.4 2.2 4.6 0.9 -3.4 1.3 7.1 2.2 1.2 2.1 3.6 0.1 -1.4 2.2 3.3 2.2 7.9 1.1 2.3 1.1 -1.0 2.2 -3.5 2.2 -0.4 0.2 0.0 2 -22.7 0.8 -11.9 1.4 1.4 2.2 -0.2 2.2 2.7 2.2 -0.1 0.4 0.2 1.8 1.1 2.2 -2.0 2.2 -0.5 2.2 1.7 0.1 -2.9 2.1 -2.1 2.2 1.0 2.2 -3.4 1.9 3.7 0.3 -1.9 2.2 1.3 2.2 5.9 0.9 0.5 1.3 7.4 1.5 4.0 0.7 2.2 2.2 -9.6 2.2 -13.2 0.6 -0.3 1.6 -0.2 2.2 -1.3 2.2 -0.4 2.2 -0.8 0.2 -3.5 2 5.3 2.2 3.3 2.2 -1.7 2 -3.9 0.2 5.4 2.2 -1.3 2.2 -0.7 2.2 -1.1 1.7 1.0 0.5 -1.3 2.2 -5.5 2.2 -2.9 2.3 4.3 1.2 1.3 1 -2.5 2.2 0.5 2.2 -0.3 2.2 0.4 0.9 -0.2 1.3 -0.5 2.2 0.5 2.1 6.1 0.1 -3.1 2.2 12.0 0.5 -2.1 1.7 2.2 2.2 -3.2 1.7 6.2 0.5 -0.4 2.2 -1.9 2.2 -2.0 2.2 -2.0 1.3 -0.4 0.9 1.4 2.2 -0.5 2.2 -4.2 2.2 1.0 1 2.7 1.2 0.7 2.2 3.3 2.2 2.7 2.2 -0.2 2.2 0.3 1.2 -5.3 1 2.2 2.2 2.2 2.2 -3.7 2.2 -4.9 0.9 1.6 1.3 -2.2 2.2 0.8 2.2 1.1 2.2 1.2 0.5 2.9 1.7 -3.7 2.2 -1.4 2.2 -0.8 2.2 -1.7 0.1 1.5 2.1 4.3 2.2 -2.2 2.2 1.0 2 3.1 0.2 -1.8 2.2 2.4 2.2 -3.8 2.2 -2.2 1.6 -1.2 0.6 0.4 2.2 -4.1" stroke="#e5322b" stroke-width="2.8" fill="none" stroke-linejoin="round"/>
<text x="325.0" y="3109.8" font-size="15" fill="#222" text-anchor="middle" font-weight="bold">SC原油地区间价差</text>
<path d="M209.0 3130.0h16" stroke="#e0302a" stroke-width="1.6"/>
<circle cx="217.0" cy="3130.0" r="4.6" fill="#e0302a"/>
<text x="230.5" y="3134.6" font-size="12.4" fill="#595959">SC-BRT</text>
<path d="M286.0 3130.0h16" stroke="#3cbde6" stroke-width="1.6"/>
<circle cx="294.0" cy="3130.0" r="4.6" fill="#3cbde6"/>
<text x="307.5" y="3134.6" font-size="12.4" fill="#595959">SC-WTI</text>
<path d="M358.7 3130.0h16" stroke="#a987d6" stroke-width="1.6"/>
<circle cx="366.7" cy="3130.0" r="4.6" fill="#a987d6"/>
<text x="380.2" y="3134.6" font-size="12.4" fill="#595959">SC-OMAN</text>
<text x="155.7" y="3161.1" font-size="13" fill="#5e5e5e" text-anchor="end">30</text>
<text x="155.7" y="3202.3" font-size="13" fill="#5e5e5e" text-anchor="end">20</text>
<text x="155.7" y="3243.5" font-size="13" fill="#5e5e5e" text-anchor="end">10</text>
<text x="155.7" y="3284.7" font-size="13" fill="#5e5e5e" text-anchor="end">0</text>
<text x="155.7" y="3325.9" font-size="13" fill="#5e5e5e" text-anchor="end">-10</text>
<path d="M162.7 3197.7H512.3 M162.7 3238.9H512.3 M162.7 3280.1H512.3" stroke="#cfcfcf" stroke-width="1" stroke-dasharray="2 1" fill="none"/>
<rect x="162.7" y="3156.5" width="349.6" height="164.8" fill="none" stroke="#d4d4d4" stroke-width="1" stroke-dasharray="2 1"/>
<text x="162.7" y="3338.8" font-size="13" fill="#5e5e5e" text-anchor="middle">2018-03-26</text>
<text x="243.6" y="3338.8" font-size="13" fill="#5e5e5e" text-anchor="middle">2020-02-11</text>
<text x="329.4" y="3338.8" font-size="13" fill="#5e5e5e" text-anchor="middle">2021-12-21</text>
<text x="413.8" y="3338.8" font-size="13" fill="#5e5e5e" text-anchor="middle">2023-11-06</text>
<text x="496.8" y="3338.8" font-size="13" fill="#5e5e5e" text-anchor="middle">2025-09-1</text>
<path d="M162.7 3280.1H512.3" stroke="#555" stroke-width="1.3"/>
<path d="M243.6 3280.1v4 M329.4 3280.1v4 M413.8 3280.1v4 M496.8 3280.1v4" stroke="#555" stroke-width="1"/>
<path d="M162.9 3297.5l1.5 -3.1 1.5 -0.4 1.5 1.0 1.5 -0.2 1.5 -2.2 1.5 -2.4 1.5 -2.1 1.5 1.1 1.5 -5.5 1.5 -5.2 1.5 -3.6 0.9 -1.9 0.6 2.3 1.5 -1.9 1.6 -0.8 1.5 -2.3 1.5 -0.6 1.5 1.8 0.2 -1.1 1.3 1.3 1.5 1.9 1.5 0.4 1.5 2.4 1.5 2.8 1.5 -0.3 1.5 0.0 1 -1.2 0.5 -6.1 1.5 1.7 1.5 -1.9 1.5 -1.4 1.5 -2.9 1.5 5.4 1.5 -0.7 1.5 1.8 0.2 -0.9 1.4 3.8 1.5 2.9 1.5 -1.0 1.5 -4.2 1.5 0.5 1.5 0.7 1.5 -1.9 0.9 -1.3 0.6 -0.9 1.5 -0.3 1.5 0.6 1.5 -0.3 1.5 -0.6 1.5 2.0 1.5 -1.2 1.5 -1.3 0.1 3.1 1.4 -1.1 1.5 -4.2 1.5 3.5 1.6 -0.6 1.5 -4.0 1.5 -1.3 1.5 -2.4 0.8 -0.3 0.7 -0.8 1.5 -8.0 1.5 0.9 1.5 -0.7 1.5 -2.8 1.5 -1.6 0.2 -0.8 1.3 -7.5 1.5 -2.5 1.5 8.2 1.3 10.2 0.2 1.2 1.5 6.1 1.5 10.7 1.5 9.2 1 3.9 0.5 -1.8 1.6 -1.1 1.5 1.3 1.5 7.4 1.5 1.5 1.5 2.4 0.3 -1.1 1.2 2.1 1.5 -2.4 1.5 1.2 1.5 -3.3 1.5 1.0 1.5 1.9 1.5 1.9 1.1 0.5 0.4 0.8 1.5 1.4 1.5 -3.5 1.5 -0.4 1.5 -0.2 1.5 0.4 1.5 1.5 1.6 -2.4 0.2 2.6 1.3 0 1.5 -1.3 1.5 -1.2 1.5 -1.7 1.5 -5.9 1.5 2.0 1.5 -2.1 1 -1.1 0.5 1.3 1.5 0.6 1.5 1.7 1.5 -2.0 1.5 -0.3 1.5 -1.1 1.5 -0.7 1.5 1.4 0.2 0.7 1.3 2.2 1.5 -6.1 1.6 4.8 1.5 1.8 1.5 2.4 1.5 -3.8 1.5 5.7 0.9 1.4 0.6 0.6 1.5 1.2 1.5 -5.2 1.5 -3.9 1.5 3.4 1.5 -5.0 0.3 2.3 1.2 -0.5 1.5 6.2 1.5 5.6 1.5 -1.7 1.5 4.8 1.2 -2.6 0.3 3.1 1.5 -0.8 1.6 2.8 1.5 6.9 0.8 1.3 0.7 -1.6 1.5 -3.3 1.5 -8.4 1.5 -8.6 0.4 -4.5 1.1 -7.0 1.5 -9.4 1.5 -11.7 1.5 -10.6 1.5 8.7 1.5 7.6 1.5 6.8 1.1 6.5 0.4 -3.7 1.5 4.1 1.5 5.9 1.5 7.7 1.5 1.5 1.6 0.7 0.5 0.4 1 0.7 1.5 1.0 1.5 -3.2 1.5 1.1 1.5 -2.7 1.4 1.0 0.1 0.1 1.5 0.7 1.5 -3.5 1.5 -2.4 1.5 0.4 1.5 -4.4 1.5 4.2 1.5 -1.5 0.6 -0.4 0.9 -3.8 1.5 -2.7 1.5 -4.2 1.5 -1.0 1.5 -3.6 1.6 -1.8 1.5 -3.5 1.5 -0.6 1.5 0.0 1.5 -0.6 1.5 -2.7 0.9 0.9 0.6 -0.8 1.5 1.3 1.5 -1.6 1.5 1.0 1.5 7.7 1.5 4.6 1.5 -2.5 1.5 0.7 0.2 -1.0 1.3 1.0 1.5 -1.7 1.5 0.9 1.5 2.2 1.6 -1.2 1.5 -2.6 1.5 3.2 0.8 1.7 0.7 -3.9 1.5 -0.2 1.5 0.9 1.5 1.9 1.5 -3.4 1.5 3.8 1.5 2.2 1.5 -1.8 0.1 0.2 1.4 0.6 1.5 -3.8 1.5 -0.2 1.5 2.5 1.5 2.9 1.5 -1.4 1.5 -0.4 0.8 -4.0 0.8 -2.6 1.5 -1.4 1.5 -1.8 1.5 -2.1 1.5 -1.3 1.5 -1.2 1.5 -7.3 1.5 -1.0 1.5 8.2 1.5 1.6 1.5 6.1 1.1 7.4 0.4 -3.2 1.5 0.4 1.5 0.2 1.5 2.9 1.5 -2.7 1.5 2.6 1.5 0.8 1.5 -1.1 0.3 2.5 1.3 -3.3 1.5 2.5 1.5 -0.5 1.5 2.0 1.5 -2.3 1.5 -1.8 1.5 -0.3 1 0.3 0.5 -0.5 1.5 -0.2 1.5 -0.4 1.5 -2.7 1.5 -1.2 1.5 5.0 1.5 0.8 1.5 -3.5 1.5 2.3 1.5 0.5" stroke="#e0302a" stroke-width="2.0" fill="none" stroke-linejoin="round"/>
<path d="M162.9 3277.0l1.5 -5.9 1.5 -6.9 1.5 -3.8 1.5 -2.9 0.2 -1.6 1.3 -2.2 1.5 -2.7 1.5 -0.8 1.3 -5.1 0.2 3.8 1.5 5.2 1.5 2.9 1.5 1.3 0.9 -1.1 0.6 2.9 1.5 -2.6 1.6 -5.9 1.5 -4.3 1.5 -4.7 1.5 -5.1 0.2 3.4 1.3 -1.8 1.5 3.2 1.5 -3.8 1.5 -4.6 1.5 -2.1 1.2 -0.2 0.3 -2.5 1.5 0.5 1.5 5.8 1.5 0.7 1.5 5.1 1.5 2.6 0.6 -3.1 0.9 -3.2 1.5 -1.2 1.5 -2.6 1.5 0.8 0.2 -1.7 1.4 3.7 1.5 3.6 1.5 2.9 1.5 -0.2 1.5 2.7 1.1 2.2 0.4 0.4 1.5 4.8 1.5 -1.6 1.5 -2.2 0.7 0.9 0.8 1.9 1.5 -5.1 1.5 -0.2 1.5 -2.8 1.5 -2.6 1.5 -0.7 0.1 -4.3 1.4 6.9 1.5 5.0 1.5 2.0 1.3 1.9 0.3 -0.2 1.5 -3.0 1.5 -1.2 1.5 -0.1 1.5 0.2 1.5 -3.3 0.6 0.5 0.9 -6.2 1.5 -6.1 1.5 -6.0 1.5 -4.4 0.2 -3.5 1.3 -28.5 1.5 -30.9 1.5 30.3 1.3 28.0 0.2 4.8 1.5 17.5 1.5 12.6 1.5 16.2 1 9.4 0.5 0.7 1.6 0.1 1.5 -0.4 1.5 0.0 1.5 3.1 1.5 -0.2 0.3 -4.2 1.2 6.5 1.5 0.6 1.5 0.2 1.5 1.7 1.5 3.9 1.5 -0.3 1.5 4.5 1.1 -2.0 0.4 -2.1 1.5 -2.6 1.5 -1.4 1.5 1.4 1.5 1.9 1.5 0.7 1.5 -2.9 1.6 -0.1 0.2 2.2 1.3 -1.5 1.5 -1.3 1.5 -5.9 1.5 4.3 1.5 -2.0 1.5 4.4 1.5 -1.9 1 -1.1 0.5 -1.9 1.5 -0.8 1.5 2.5 1.5 -1.8 1.5 -1.3 1.5 -0.1 1.5 -1.0 1.5 -2.0 0.2 2.9 1.3 -2.9 1.5 -0.2 1.6 0 1.5 0.3 1.5 2.5 1.5 -2.5 1.5 -3.1 0.9 -3.7 0.6 2.1 1.5 3.9 1.5 -2.1 1.5 0.4 1.5 3.2 1.5 1.9 0.3 2.0 1.2 3.7 1.5 3.2 1.5 0.9 1.4 5.9 0.1 -4.5 1.5 5.1 1.5 3.6 1.5 3.1 1 2.2 0.6 -2.2 1.5 -4.4 1.5 -4.0 1.5 -3.7 0.6 -2.8 0.9 -10.2 1.5 -4.7 1.5 -12.4 1.5 -8.8 0.2 -3.3 1.3 -10.9 1.5 -10.8 1.1 -6.9 0.4 4.5 1.5 4.2 1.5 9.7 1.1 -0.4 0.4 -1.0 1.5 4.0 1.5 3.1 1.5 5.9 1.5 5.0 1.6 6.1 0.5 2.0 1 0.7 1.5 0.0 1.5 0.1 1.5 1.6 1.5 -2.6 1.4 0.3 0.1 3.2 1.5 -3.7 1.5 -0.5 1.5 -3.5 1.5 2.3 1.5 4.6 1.5 -0.3 1.5 -1.0 0.6 1.3 0.9 -7.0 1.5 -1.9 1.5 -0.3 1.5 -5.5 1.5 -3.0 1.6 -6.8 1.5 1.3 1.5 -1.4 1.5 -2.1 1.1 1.1 0.4 -0.4 1.5 2.0 1.5 2.8 1.5 3.0 1.5 6.1 1.5 2.7 0.5 1.0 1 -3.3 1.5 0.4 1.5 -3.7 1.5 0.3 1.5 -2.9 1.5 -1.7 1.5 -0.5 1.3 -2.2 0.2 2.4 1.6 1.2 1.5 0.2 1.5 0.3 1.5 3.0 1.5 2.8 0.6 -0.2 0.9 0 1.5 0.6 1.5 3.2 1.5 2.0 1.5 1.4 1.5 1.6 0.1 -2.5 1.4 -0.3 1.5 -1.7 1.5 1.7 1.5 -2.7 1.5 -4.0 1.5 -1.8 1.5 -3.1 0.8 -2.3 0.8 0.7 1.5 2.9 1.5 3.1 1.5 -2.6 1.5 0.8 1.5 0.6 0.1 2.6 1.4 -5.4 1.5 -9.2 1.5 -9.9 1.3 -7.7 0.2 1.1 1.5 10.6 1.5 13.2 1.5 6.3 0.9 3.4 0.6 1.8 1.5 1.7 1.5 -0.6 1.5 1.5 1.5 -1.7 1.5 2.5 0.3 -0.6 1.3 -2.1 1.5 0.1 1.5 -1.4 1.5 1.5 1.5 -1.4 1.5 2.4 1.5 -1.7 1 -0.1 0.5 -2.0 1.5 2.4 1.5 -4.5 1.5 1.4 1.5 1.7 1.5 2.5 1.5 0.2 1.5 -1.8 1.5 5.1 1.5 -0.5" stroke="#3cbde6" stroke-width="2.0" fill="none" stroke-linejoin="round"/>
<path d="M162.9 3279.4l1.5 4.8 1.5 -3.0 1.5 -0.8 1.5 2.6 1.5 0.4 1.5 4.9 1.5 -6.5 1.5 -1.8 1.5 -6.5 1.5 0.2 1.5 -3.0 0.9 1.1 0.6 -0.3 1.5 -1.1 1.6 -2.7 1.5 -1.1 1.5 -0.3 1.5 2.1 0.2 0 1.3 0.9 1.5 6.8 1.5 -1.9 1.5 0.4 1.5 3.0 1.5 0.6 1.5 2.5 1 -5.5 0.5 -0.6 1.5 0.4 1.5 -0.3 1.5 2.3 1.5 0.7 1.5 -0.2 1.5 -1.3 1.5 -1.7 0.2 -0.9 1.4 5.8 1.5 -2.7 1.5 0.4 1.5 -3.6 1.5 -1.3 1.5 0.3 1.5 -1.6 0.9 -1.1 0.6 3.3 1.5 -1.6 1.5 -3.3 1.5 -0.1 1.5 -3.3 1.5 4.5 1.5 3.5 1.5 -0.6 0.1 -2.5 1.4 -2.3 1.5 -0.8 1.5 -3.9 1.6 -1.6 1.5 3.4 1.5 -4.2 1.5 0.4 0.8 0.5 0.7 1.5 1.5 -6.3 1.5 -7.2 1.5 -3.4 1.5 -2.9 1.5 0.0 0.2 -3.2 1.3 -14.1 1.5 -7.0 1.5 17.5 1.3 19.4 0.2 1.2 1.5 4.2 1.5 7.0 1.5 7.6 1 5.2 0.5 2.9 1.6 3.1 1.5 3.4 1.5 0.2 1.5 -2.6 1.5 1.3 0.3 -0.3 1.2 4.0 1.5 1.9 1.5 -6.1 1.5 3.0 1.5 -0.4 1.5 4.1 1.5 -1.0 1.1 -1.1 0.4 3.1 1.5 -1.3 1.5 2.5 1.5 -4.3 1.5 -3.1 1.5 -2.5 1.5 2.6 1.6 -2.0 0.2 -0.2 1.3 0.2 1.5 5.7 1.5 -1.4 1.5 -0.1 1.5 -0.1 1.5 1.0 1.5 -0.1 1 -4.8 0.5 -5.2 1.5 -0.4 1.5 2.8 1.5 1.1 1.5 0.3 1.5 -1.2 1.5 -0.5 1.5 0.6 0.2 0.1 1.3 -1.0 1.5 -3.6 1.6 1.3 1.5 -0.7 1.5 -0.4 1.5 1.9 1.5 4.2 0.9 -3.3 0.6 -3.4 1.5 0.7 1.5 2.1 1.5 -2.3 1.5 0.9 1.5 -3.1 0.3 0.7 1.2 3.7 1.5 -2.6 1.5 5.1 1.5 1.6 1.5 5.6 1.2 3.4 0.3 0.5 1.5 6.5 1.6 0.0 1.5 2.9 0.8 3.6 0.7 -0.1 1.5 -9.2 1.5 -0.6 1.5 -10.6 0.4 -0.8 1.1 -7.0 1.5 -10.6 1.5 -12.8 1.5 -11.0 1.5 3.9 1.5 6.6 1.5 11.1 1.1 3.6 0.4 -1.5 1.5 1.6 1.5 1.1 1.5 4.8 1.5 2.7 1.6 3.5 0.5 1.1 1 0.5 1.5 -1.9 1.5 -1.9 1.5 -3.2 1.5 0 1.4 3.8 0.1 -0.6 1.5 -3.1 1.5 1.1 1.5 -2.3 1.5 1.5 1.5 -2.0 1.5 -2.3 1.5 0.1 0.6 -2.6 0.9 -2.1 1.5 -1.3 1.5 -1.5 1.5 2.4 1.5 -4.3 1.6 -7.7 1.5 0.5 1.5 3.1 1.5 -2.2 1.5 2.0 1.5 -2.8 0.9 0.2 0.6 1.2 1.5 1.4 1.5 -0.4 1.5 -0.6 1.5 -1.4 1.5 1.6 1.5 3.2 1.5 0.0 0.2 4.5 1.3 3.4 1.5 2.2 1.5 0.3 1.5 -3.3 1.6 -0.6 1.5 -2.0 1.5 -2.0 0.8 1.7 0.7 1.7 1.5 2.4 1.5 -0.2 1.5 2.1 1.5 -1.2 1.5 0.8 1.5 0 1.5 -1.0 0.1 0.5 1.4 3.9 1.5 -1.6 1.5 -4.3 1.5 -0.3 1.5 -0.3 1.5 -0.6 1.5 2.4 0.8 -1.1 0.8 -0.4 1.5 -3.1 1.5 -4.6 1.5 -1.8 1.5 -5.1 1.5 -2.2 1.5 -0.4 1.5 1.7 1.5 -0.2 1.5 1.8 1.5 7.2 1.1 8.5 0.4 -0.5 1.5 0.3 1.5 1.6 1.5 2.3 1.5 1.0 1.5 2.0 1.5 0.8 1.5 0.0 0.3 -1.6 1.3 2.7 1.5 1.6 1.5 -4.0 1.5 -0.4 1.5 1.2 1.5 1.8 1.5 -0.5 1 2.0 0.5 -1.0 1.5 2.2 1.5 4.5 1.5 -1.1 0.6 1.1 0.9 -4.6 1.5 -3.7 1.5 2.7 1.5 -1.1 1.5 -3.8 1.5 -0.4" stroke="#a987d6" stroke-width="2.0" fill="none" stroke-linejoin="round"/>
<text x="758.5" y="3109.8" font-size="15" fill="#222" text-anchor="middle" font-weight="bold">美国除SPR原油总库存</text>
<path d="M614.0 3130.0h16" stroke="#3cbde6" stroke-width="1.6"/>
<circle cx="622.0" cy="3130.0" r="4.6" fill="#3cbde6"/>
<text x="635.5" y="3134.6" font-size="12.4" fill="#595959">2016</text>
<path d="M673.8 3130.0h16" stroke="#a987d6" stroke-width="1.6"/>
<circle cx="681.8" cy="3130.0" r="4.6" fill="#a987d6"/>
<text x="695.3" y="3134.6" font-size="12.4" fill="#595959">2017</text>
<path d="M733.6 3130.0h16" stroke="#f4834f" stroke-width="1.6"/>
<circle cx="741.6" cy="3130.0" r="4.6" fill="#f4834f"/>
<text x="755.1" y="3134.6" font-size="12.4" fill="#595959">2018</text>
<path d="M793.4 3130.0h16" stroke="#5fae4a" stroke-width="1.6"/>
<circle cx="801.4" cy="3130.0" r="4.6" fill="#5fae4a"/>
<text x="814.9" y="3134.6" font-size="12.4" fill="#595959">2019</text>
<path d="M853.2 3130.0h16" stroke="#2f6fcf" stroke-width="1.6"/>
<circle cx="861.2" cy="3130.0" r="4.6" fill="#2f6fcf"/>
<text x="874.7" y="3134.6" font-size="12.4" fill="#595959">2020</text>
<path d="M614.0 3152.4h16" stroke="#f9b43a" stroke-width="1.6"/>
<circle cx="622.0" cy="3152.4" r="4.6" fill="#f9b43a"/>
<text x="635.5" y="3157.0" font-size="12.4" fill="#595959">2021</text>
<path d="M673.8 3152.4h16" stroke="#4f94d8" stroke-width="1.6"/>
<circle cx="681.8" cy="3152.4" r="4.6" fill="#4f94d8"/>
<text x="695.3" y="3157.0" font-size="12.4" fill="#595959">2022</text>
<path d="M733.6 3152.4h16" stroke="#dcd72e" stroke-width="1.6"/>
<circle cx="741.6" cy="3152.4" r="4.6" fill="#dcd72e"/>
<text x="755.1" y="3157.0" font-size="12.4" fill="#595959">2023</text>
<path d="M793.4 3152.4h16" stroke="#3b3b3b" stroke-width="1.6"/>
<circle cx="801.4" cy="3152.4" r="4.6" fill="#3b3b3b"/>
<text x="814.9" y="3157.0" font-size="12.4" fill="#595959">2024</text>
<path d="M853.2 3152.4h16" stroke="#e5322b" stroke-width="1.6"/>
<circle cx="861.2" cy="3152.4" r="4.6" fill="#e5322b"/>
<text x="874.7" y="3157.0" font-size="12.4" fill="#595959">2025</text>
<text x="616.5" y="3161.1" font-size="13" fill="#5e5e5e" text-anchor="end">570,000</text>
<text x="616.5" y="3188.6" font-size="13" fill="#5e5e5e" text-anchor="end">540,000</text>
<text x="616.5" y="3216.0" font-size="13" fill="#5e5e5e" text-anchor="end">510,000</text>
<text x="616.5" y="3243.5" font-size="13" fill="#5e5e5e" text-anchor="end">480,000</text>
<text x="616.5" y="3271.0" font-size="13" fill="#5e5e5e" text-anchor="end">450,000</text>
<text x="616.5" y="3298.4" font-size="13" fill="#5e5e5e" text-anchor="end">420,000</text>
<text x="616.5" y="3325.9" font-size="13" fill="#5e5e5e" text-anchor="end">390,000</text>
<path d="M623.5 3184.0H946.7 M623.5 3211.4H946.7 M623.5 3238.9H946.7 M623.5 3266.4H946.7 M623.5 3293.8H946.7" stroke="#cfcfcf" stroke-width="1" stroke-dasharray="2 1" fill="none"/>
<rect x="623.5" y="3156.5" width="323.2" height="164.8" fill="none" stroke="#d4d4d4" stroke-width="1" stroke-dasharray="2 1"/>
<text x="623.5" y="3338.8" font-size="13" fill="#5e5e5e" text-anchor="middle">1月</text>
<text x="650.9" y="3338.8" font-size="13" fill="#5e5e5e" text-anchor="middle">2月</text>
<text x="678.3" y="3338.8" font-size="13" fill="#5e5e5e" text-anchor="middle">3月</text>
<text x="705.7" y="3338.8" font-size="13" fill="#5e5e5e" text-anchor="middle">4月</text>
<text x="733.1" y="3338.8" font-size="13" fill="#5e5e5e" text-anchor="middle">5月</text>
<text x="760.5" y="3338.8" font-size="13" fill="#5e5e5e" text-anchor="middle">6月</text>
<text x="787.9" y="3338.8" font-size="13" fill="#5e5e5e" text-anchor="middle">7月</text>
<text x="815.3" y="3338.8" font-size="13" fill="#5e5e5e" text-anchor="middle">8月</text>
<text x="842.7" y="3338.8" font-size="13" fill="#5e5e5e" text-anchor="middle">9月</text>
<text x="870.1" y="3338.8" font-size="13" fill="#5e5e5e" text-anchor="middle">10月</text>
<text x="897.5" y="3338.8" font-size="13" fill="#5e5e5e" text-anchor="middle">11月</text>
<path d="M623.5 3321.3H946.7" stroke="#555" stroke-width="1.3"/>
<path d="M623.5 3321.3v4 M650.9 3321.3v4 M678.3 3321.3v4 M705.7 3321.3v4 M733.1 3321.3v4 M760.5 3321.3v4 M787.9 3321.3v4 M815.3 3321.3v4 M842.7 3321.3v4 M870.1 3321.3v4 M897.5 3321.3v4" stroke="#555" stroke-width="1"/>
<path d="M624.1 3264.8l4 -0.8 4.1 -0.8 0.1 0 3.9 -3.2 4 -3.3 2 -1.7 2 -1.7 4 -3.3 3.8 -3.2 0.2 -0.1 4 -2.0 4.1 -2.1 1.6 -0.8 2.4 -2.4 4 -4.0 3.4 -3.4 0.6 -0.3 4 -2.0 4 -2.0 1.2 -0.6 2.8 -2.3 4 -3.3 3.1 -2.6 1 0.0 4 0.0 4 0 0.8 0.0 3.2 -1.1 4 -1.3 2.7 -0.9 1.3 -0.4 4 -1.3 4 -1.3 0.5 -0.2 3.6 -1.2 4 -1.3 2.3 -0.7 1.7 0.6 4 1.3 4 1.3 0.1 0.0 3.9 1.3 4 1.3 1.9 0.6 2.2 0.4 4 0.7 3.7 0.6 0.3 0.1 4 0.7 4 0.7 1.4 0.2 0.1 0.0 2.5 1.2 4 2.0 3.4 2.6 0.6 0.3 1.3 0.6 2.8 1.1 4 1.5 4 1.5 1.1 0.4 2.9 -0.4 4 -0.5 4 -0.5 0.9 -0.1 3.1 0 4 0.0 4.1 0 0.7 0 3.3 -1.0 4 -1.2 4 -1.2 3.6 -1.0 0.4 0.7 4 6.7 4 6.7 0.5 0.8 3.6 1.8 4 2.0 4 2.0 0.2 0.1 3.8 1.0 4 1.0 4 1.0 0.1 0.0 3.9 -1.9 2.1 -1.0 1.9 0.9 4.1 2.1 2.9 1.4 1.1 -1.6 4 -6.0 3.8 -5.7 0.2 -0.1 4 -2.0 4 -2.0 3.6 -1.8 0.4 0.0 4 0.5 4.1 0.5 3.4 0.4 0.6 0.1 4 1.0 4 1.0 3.3 0.8 0.7 -0.1 4 -0.5 4 -0.5 3.2 -0.4 0.9 0.6 4 2.7 4 2.7" stroke="#3cbde6" stroke-width="1.8" fill="none" stroke-linejoin="round"/>
<path d="M624.1 3232.0l4 0 4.1 0.0 3.4 0.0 0.6 -0.4 4 -2.7 4 -2.7 1.3 -0.9 2.7 -5.4 3.8 -7.6 0.2 -0.3 4 -6.0 2.4 -3.6 1.7 -0.3 4 -0.7 4 -0.7 0.1 0 3.9 -3.2 4 -3.3 2 -1.6 2 0.0 4 0 0.5 0.0 3.5 -1.7 3.1 -1.5 1 -0.2 4 -0.7 4 -0.7 0.8 -0.1 3.2 0.5 4 0.7 2.7 0.5 1.3 0.4 4 1.3 4 1.3 0.5 0.2 3.6 1.8 4 2.0 2.3 1.2 1.7 0.9 4 2.0 4 2.0 0.1 0.0 3.9 2.6 4 2.7 1.9 1.3 2.2 0.0 4 0 3.7 0.0 0.3 0.0 4 0.7 4 0.7 1.4 0.2 0.1 0.0 2.5 0.4 4 0.7 3.4 5.6 0.6 0.3 1.3 0.7 2.8 2.4 4 3.5 4 3.5 1.1 1.0 2.9 2.5 4 3.5 4 3.5 0.9 0.8 3.1 2.1 4 2.7 1.8 1.2 2.3 1.5 4 2.7 2.6 1.7 1.4 1.4 4 4.0 3.6 3.5 0.4 -0.3 4 -2.7 4 -2.7 0.5 -0.3 3.6 -2.7 4 -3.0 4 -3.0 0.2 -0.2 3.8 1.9 4 2.0 4 2.0 0.1 0.0 3.9 2.4 4 2.5 4 2.5 0.1 0.0 4 1.0 4 1.0 3.8 0.9 0.2 -0.1 4 -1.0 4 -1.0 3.6 -0.9 0.4 0.2 4 2.0 4.1 2.0 3.4 1.7 0.6 0.4 4 2.5 4 2.5 3.3 2.1 0.7 0.5 4 3.0 4 3.0 3.2 2.4 0.9 0.9 4 4.0 4 4.0" stroke="#a987d6" stroke-width="1.8" fill="none" stroke-linejoin="round"/>
<path d="M627.4 3294.4l4.1 2.5 4 2.4 0.1 0.1 3.9 -2.6 4.1 -2.7 1.9 -1.2 2.1 -0.3 4 -0.7 3.7 -0.6 0.4 -0.1 4 -1.3 4 -1.3 1.4 -0.5 2.7 -0.5 4 -0.7 3.2 -0.5 0.8 -0.4 4.1 -2.1 4 -2.0 0.9 -0.4 3.2 0.5 4 0.7 2.7 0.5 1.3 0.7 4.1 2.1 4 2.0 0.4 0.2 3.6 -0.6 4.1 -0.7 2.2 -0.4 1.8 -0.6 4 -1.3 4 -1.3 0.1 0 4 -1.3 4 -1.3 1.7 -0.6 2.4 -0.6 4 -1.0 4.1 -1.0 2.7 -0.6 1.3 0.7 4 2.0 4.1 2.0 0.4 0.2 3.6 2.4 4 2.7 2.3 1.5 1.8 0.9 1.3 0.7 2.7 1.3 4 2.0 2.2 1.1 1.1 2.8 0.8 0.8 4 4.0 3 3.0 1 -0.3 4.1 -1.4 3.8 -1.3 0.2 0.0 4.1 1.0 4 1.0 3.6 0.9 0.4 -0.2 4.1 -1.5 4 -1.5 3.4 -1.3 0.6 0.2 4.1 1.5 4 1.5 3.2 1.2 0.8 0.6 4.1 3.1 4 3.0 2.9 2.2 1.1 0.4 4.1 1.4 3.7 1.2 0.3 -0.2 4.1 -2.7 4 -2.7 0.5 -0.3 3.5 -3.5 4.1 -4.1 4 -4.0 0.3 -0.3 3.7 -2.6 4.1 -2.9 4 -2.8 3.1 -2.2 0.9 -1.0 4.1 -4.6 4 -4.5 2.8 -3.1 1.3 -0.5 4 -1.5 4 -1.5 2.6 -1.0 1.5 0.2 4 0.5 4 0.5 2.4 0.3 1.7 0.2 4 0.5 4 0.5 2.2 0.3 1.9 0.0 4 0" stroke="#f4834f" stroke-width="1.8" fill="none" stroke-linejoin="round"/>
<path d="M627.4 3274.7l4 -1.6 4.1 -1.6 0.1 0 3.9 -1.0 4 -1.0 4 -1.0 1.2 -0.3 2.8 -1.4 4.1 -2.0 4 -2.0 2.3 -1.1 1.7 1.7 4 4.0 0.8 0.8 3.3 -1.6 4 -2.0 2.6 -1.2 1.4 1.6 4 4.7 4 4.7 0.4 0.5 3.7 -1.2 4 -1.3 2.2 -0.8 1.8 -1.8 4 -4.0 4 -4.0 0.1 -0.1 4 -2.7 4 -2.7 1.7 -1.1 2.3 -2.3 4.1 -4.1 0.2 -0.2 3.8 0.6 4 0.7 2 0.3 2 -1.6 4 -3.3 3.9 -3.2 0.2 -0.1 4 -1.3 4 -1.3 1.6 -0.5 2.4 -1.2 4.1 -2.0 3.4 -1.7 0.6 0.5 4 3.3 1.8 1.5 2.2 1.8 1.2 1.0 2.8 2.8 2.7 2.7 1.1 4.3 0.3 0.2 4 2.7 3.5 2.3 0.5 0.7 4 5.3 4.1 5.5 0.3 0.4 3.7 3.7 4 4.0 1.2 1.2 2.8 0.7 4 1.0 4.1 1.0 1 0.3 3 2.2 4 3.0 4 3.0 0.9 0.7 3.2 1.6 4 2.0 4 2.0 0.7 0.3 3.3 0 4 0 4.1 0.0 0.4 0 3.6 -1.8 4 -2.0 4 -2.0 0.3 -0.1 3.8 -2.8 4 -3.0 4 -3.0 0.1 -0.1 3.9 -3.9 4 -4.0 4 -4.0 0.1 0 4 -1.5 4 -1.5 3.7 -1.4 0.3 0 4.1 0.0 4 0 3.5 0.0 0.5 0.2 4 1.5 4 1.5 3.4 1.3 0.7 0.5 4 2.7 4 2.7 0.2 0.1 3.8 2.9 4.1 3.1 4 3.0" stroke="#5fae4a" stroke-width="1.8" fill="none" stroke-linejoin="round"/>
<path d="M625.8 3282.9l4 1.3 4 1.3 1.8 0.6 2.3 -1.1 4 -2.0 3.6 -1.8 0.5 -0.4 4 -3.3 4 -3.3 1.3 -1.1 2.8 -0.7 4 -1.0 4.1 -1.0 2.2 -0.5 1.8 -0.9 4 -2.0 4.1 -2.0 4 -0.7 4 -0.7 1.8 -0.3 2.3 -0.6 4 -1.0 0.3 -0.2 3.8 -11.4 2.7 -8.1 1.3 -3.1 4 -9.3 4.1 -9.6 0.5 -1.2 3.5 -7.0 4 -8.0 2.3 -4.6 1.8 -1.5 4 -3.3 4.1 -3.4 4 2.0 4 2.0 1.8 0.9 2.3 -1.5 4 -2.7 3.5 -2.3 0.5 -0.2 4.1 -1.4 4 -1.3 1.3 -0.4 2.8 -0.9 4 -1.3 2.9 -1.0 0.1 0 1 0.3 4.1 1.4 4 1.3 0.8 1.8 1.9 0.9 1.3 0.4 4.1 1.4 3.5 1.2 0.5 -0.2 4.1 -1.4 4 -1.3 0.3 -0.1 3.7 3.7 4.1 4.1 1.1 1.1 2.9 2.4 4.1 3.4 1.9 1.6 2.1 1.1 4 2.0 2.8 1.4 1.3 1.7 4 5.3 3.6 4.8 0.4 0.2 4.1 1.5 4 1.5 3.4 1.3 0.7 0.2 4 1.0 4 1.0 3.2 0.8 0.9 0.1 4 0.5 4 0.5 3 0.4 1.1 0.1 4 0.5 4.1 0.5 2.6 0.3 1.4 0.5 4 1.3 3.5 1.2 0.6 -0.3 4 -2.0 4 -2.0 0.3 -0.2 3.8 0 4 0 4.1 0 4 -6.0 4 -6.0 0.9 -1.4 3.2 1.2 4 1.5 4 1.5 0.7 0.3 3.4 2.0 4 2.4" stroke="#2f6fcf" stroke-width="2.2" fill="none" stroke-linejoin="round"/>
<path d="M624.1 3233.7l4 1.6 4.1 1.6 0.1 0.0 3.9 -1.9 2.7 -1.3 1.3 1.0 4 3.0 1.3 1.0 2.7 1.3 3.8 1.9 0.2 0.3 4 6.0 2.4 3.6 1.7 0.0 4 0 0.8 0 3.2 -4.7 3.4 -5.1 0.6 -1.2 4 -8.0 2 -4.0 2 -2.5 4 -5.0 0.5 -0.6 3.5 -1.2 4.1 -1.4 2.3 -0.7 1.7 0.6 4 1.3 4 1.3 0.1 0.0 3.9 3.9 2.7 2.7 1.3 0.0 4 0 4 0.0 0.5 0.0 3.6 2.4 4 2.7 2.3 1.5 1.7 0.0 4 0.0 4 0.0 0.1 0 3.9 0.6 4 0.7 1.9 0.3 2.2 1.7 4 3.2 2 1.6 2 1.6 4 3.2 2.3 1.8 1.7 1.3 1.4 1.0 2.6 2.0 4 3.0 3.4 5.7 0.6 0.5 1.3 1.0 2.8 2.8 4 4.0 4 4.0 1.1 1.1 2.9 0.7 4 1.0 4 1.0 0.9 0.2 3.1 0.8 4 1.0 4.1 1.0 0.7 0.2 3.3 2.1 4 2.5 4 2.5 0.6 0.4 3.4 1.3 4 1.5 4 1.5 0.5 0.2 3.6 0.9 4 1.0 4 1.0 0.2 0.0 3.8 -1.4 4 -1.5 4 -1.5 0.1 0 3.9 -1.0 4 -1.0 4 -1.0 0.1 0 4 -1.0 4 -1.0 3.8 -0.9 0.2 0 4 -1.0 4 -1.0 3.6 -0.9 0.4 -0.1 4 -0.5 4.1 -0.5 3.4 -0.4 0.6 0.1 4 1.0 4 1.0 3.3 0.8 0.7 0.4 4 2.0 4 2.0 3.2 1.6 0.9 0.6 4 2.7 4 2.7" stroke="#f9b43a" stroke-width="2.4" fill="none" stroke-linejoin="round"/>
<circle cx="624.5" cy="3233.8" r="5" fill="#f9b43a"/>
<circle cx="760.0" cy="3242.9" r="5" fill="#f9b43a"/>
<path d="M627.4 3299.3l4.1 -0.8 4 -0.8 0.1 0 3.9 1.3 4.1 1.4 1.9 0.6 2.1 0.3 4 0.7 3.7 0.6 0.4 -0.1 4 -1.3 4 -1.3 1.4 -0.5 2.7 0.4 4 0.7 3.2 0.5 0.8 -0.1 4.1 -0.7 4 -0.7 0.9 -0.2 3.2 0.5 4 0.7 2.7 0.4 1.3 0.2 4.1 0.7 4 0.7 0.4 0.1 3.6 -4.5 3 -3.7 1.1 0.8 4 3.0 1.4 1.0 2.6 0.0 4.1 0.0 3.2 0 0.8 -0.7 4 -3.3 4.1 -3.4 0.9 -0.8 3.1 1.0 4.1 1.4 2.7 0.9 1.3 0.4 4 1.3 4.1 1.4 0.4 0.1 3.6 -0.6 4 -0.7 2.3 -0.4 1.8 -0.4 1.3 -0.3 2.7 -0.7 4 -1.0 3.3 -3.0 0.8 -0.4 1.1 -0.5 2.9 -0.7 4 -1.0 4.1 -1.0 0.9 -0.2 3.1 0.8 4.1 1.0 4 1.0 0.6 0.1 3.4 -0.8 4.1 -1.0 4 -1.0 0.4 -0.1 3.6 0.6 4.1 0.7 4 0.7 4 0.7 2.1 0.4 2 -0.7 4 -1.5 4 -1.5 1.9 -0.7 2.2 -0.3 4 -0.5 4.1 -0.5 1.6 -0.2 2.4 -1.2 4 -2.0 4.1 -2.0 1.4 -0.7 2.6 0.0 4 0 4.1 0.0 1.1 0 2.9 -0.7 4 -1.0 4.1 -1.0 0.9 -0.2 3.1 2.1 4.1 2.7 1.7 1.1 2.3 2.3 4 4.0 2.6 2.6 1.5 1.5 4 4.0 3.4 3.4 0.6 -0.4 4.1 -2.7 4 -2.7 0.2 -0.1 3.8 0.9 4.1 1.0 4 1.0" stroke="#4f94d8" stroke-width="1.8" fill="none" stroke-linejoin="round"/>
<path d="M627.4 3274.7l4 -3.2 4.1 -3.3 0.1 -0.1 3.9 -2.0 4 -2.0 4 -2.0 1.2 -0.6 2.8 -2.8 4.1 -4.1 3 -3.0 1 -1.3 4 -5.3 4 -5.3 0.8 -1.1 3.3 0 4 0.0 2.6 0 1.4 -0.2 4 -0.7 4 -0.7 0.4 -0.1 3.7 2.8 4 3.0 4 3.0 1.4 1.1 2.6 0.3 4.1 0.5 4 0.5 2.5 0.3 1.5 1.0 4 2.7 4.1 2.7 0.2 0.1 3.8 -1.3 4 -1.3 2 -0.7 2 1.3 4 2.7 3.9 2.6 0.2 0 4 0 4 0 1.6 0 2.4 -1.6 4.1 -2.7 3.4 -2.2 0.6 0.2 4 1.3 1.8 0.6 2.2 0.7 1.2 0.4 2.8 1.4 3.8 4.6 0.3 0.3 1.6 1.6 2.4 -0.8 4 -1.3 2.5 -0.8 1.5 0.0 4.1 0.0 3.3 0.0 0.7 1.2 4 6.7 4 6.7 0.2 0.3 3.8 -2.9 2.1 -1.6 2 2.3 4 4.7 2.9 3.4 1.1 1.1 4 4.0 4.1 4.1 2.7 2.7 1.3 0.3 4 1.0 4 1.0 2.6 0.6 1.4 0 4.1 0.0 4 0.0 2.4 0 1.6 -0.6 4 -1.5 4.1 -1.5 2.2 -0.8 1.8 -0.7 4 -1.5 4 -1.5 2 -0.8 2 -1.0 4.1 -2.1 4 -2.0 1.8 -0.9 2.2 -2.5 4 -4.5 4.1 -4.6 1.6 -1.8 2.4 0.3 4 0.5 4 0.5 1.5 0.2 2.5 1.9 4.1 3.1 4 3.0 1.2 0.9 2.8 2.1 4 3.0 4.1 3.1 1 0.8 3 5.9" stroke="#dcd72e" stroke-width="1.8" fill="none" stroke-linejoin="round"/>
<path d="M625.8 3281.2l4 0.7 4 0.7 1.8 0.3 2.2 3.3 4 6.0 0.4 0.6 3.6 -1.8 4 -2.0 2.2 -1.1 1.8 -2.7 4 -6.0 4 -6.0 0.1 -0.1 3.9 -2.0 4 -2.0 1.9 -0.9 2.1 -0.4 4 -0.7 3.7 -0.6 0.4 0.1 4 1.3 4 1.3 1.5 0.5 2.5 -1.2 4 -2.0 3.3 -1.6 0.7 -0.4 4 -2.5 4 -2.5 4 -2.5 0.5 -0.3 3.5 1.2 4 1.3 2.3 0.8 1.7 -0.8 4 -2.0 4 -2.0 0.1 -0.1 3.9 0.9 4 1.0 4 1.0 1.3 0.3 2.7 0.4 4.1 0.7 3 0.5 1 -0.2 4 -0.7 4 -0.7 0.9 -0.1 3.1 -0.5 4 -0.7 2.7 -0.4 1.3 2.6 2 7.6 1.9 1.9 0.1 0.0 4 2.0 4 2.0 3.8 1.9 0.2 0.1 4 2.0 4 2.0 3.6 1.8 0.4 0.2 4 1.5 4 1.5 3.5 1.3 0.5 0.2 4 1.5 4 1.5 3.4 1.3 0.7 0.3 4 1.5 4 1.5 3.2 1.2 0.8 0.1 4 0.5 4 0.5 3 0.4 1 -0.2 4 -1.0 4 -1.0 2.9 -0.7 1.1 -0.3 4 -1.0 4 -1.0 2.8 -0.7 1.2 -0.2 4 -0.5 4 -0.5 2.7 -0.3 1.3 -0.3 4 -1.0 4 -1.0 2.5 -0.6 1.6 0 4 0 4 0.0 2.3 0.0 1.7 0.8 4 2.0 4 2.0 2.2 1.1 1.8 0.7 4 1.5 4 1.5 2.1 0.8 1.9 0.5 4 1.0" stroke="#3b3b3b" stroke-width="2.4" fill="none" stroke-linejoin="round"/>
<path d="M625.8 3299.3l4 0.7 4 0.7 1.8 0.3 2.3 -1.5 4 -2.7 3.6 -2.4 0.5 -0.5 4 -4.0 4 -4.0 1.3 -1.3 2.8 -0.5 4 -0.7 3 -0.5 1 -0.2 4.1 -0.7 4 -0.7 0.8 -0.1 3.2 -1.1 4.1 -1.4 2.5 -0.8 1.5 0.2 4 0.7 4.1 0.7 0.3 0.0 3.7 -2.5 4 -2.7 2.1 -1.4 2 -0.3 4 -0.7 3.9 -0.6 0.2 0.1 4 1.3 4 1.3 1.6 0.5 2.5 0.4 4 0.7 3.3 0.6 0.7 -0.2 4.1 -1.4 4 -1.3 1.1 -0.4 2.9 1.0 4.1 1.4 2.8 0.9 1.2 0.6 4 2.0 4.1 2.0 0.6 0.3 3.4 4.5 3 4.0 1 1.3 2.4 3.2 1.7 0.9 3.8 1.9 0.2 0.1 0.9 -1.1 3.2 -2.7 4 -3.3 0.6 -0.5 3.4 1.3 4.1 1.5 4 1.5 0.4 0.1 3.6 -2.4 4.1 -2.7 1.2 -0.8 2.8 0.5 4 0.7 2.1 0.3 2 0.7 4 1.5 4 1.5 1.9 0.7 2.2 -0.8 4 -1.5 4.1 -1.5 1.6 -0.5 2.4 3.0 3.5 4.4 0.5 0.1 4.1 0.5 4 0.5 3.3 0.4 0.7 -0.4 4.1 -2.0 4 -2.0 3.1 -1.5 0.9 -0.2 4.1 -1.0 4 -1.0 2.8 -0.7 1.2 1.2 4.1 4.1 0.7 0.6 3.3 -1.7 4 -2.0 4.1 -2.1 0.4 -0.2 3.6 -0.5 4.1 -0.5 4 -0.5 0.2 0 3.8 0.5 4.1 0.5 4 0.5" stroke="#e5322b" stroke-width="2.8" fill="none" stroke-linejoin="round"/>
<text x="325.0" y="3379.6" font-size="15" fill="#222" text-anchor="middle" font-weight="bold">美国汽油总库存</text>
<path d="M181.0 3399.8h16" stroke="#3cbde6" stroke-width="1.6"/>
<circle cx="189.0" cy="3399.8" r="4.6" fill="#3cbde6"/>
<text x="202.5" y="3404.4" font-size="12.4" fill="#595959">2016</text>
<path d="M240.8 3399.8h16" stroke="#a987d6" stroke-width="1.6"/>
<circle cx="248.8" cy="3399.8" r="4.6" fill="#a987d6"/>
<text x="262.3" y="3404.4" font-size="12.4" fill="#595959">2017</text>
<path d="M300.6 3399.8h16" stroke="#f4834f" stroke-width="1.6"/>
<circle cx="308.6" cy="3399.8" r="4.6" fill="#f4834f"/>
<text x="322.1" y="3404.4" font-size="12.4" fill="#595959">2018</text>
<path d="M360.4 3399.8h16" stroke="#5fae4a" stroke-width="1.6"/>
<circle cx="368.4" cy="3399.8" r="4.6" fill="#5fae4a"/>
<text x="381.9" y="3404.4" font-size="12.4" fill="#595959">2019</text>
<path d="M420.2 3399.8h16" stroke="#2f6fcf" stroke-width="1.6"/>
<circle cx="428.2" cy="3399.8" r="4.6" fill="#2f6fcf"/>
<text x="441.7" y="3404.4" font-size="12.4" fill="#595959">2020</text>
<path d="M181.0 3422.2h16" stroke="#f9b43a" stroke-width="1.6"/>
<circle cx="189.0" cy="3422.2" r="4.6" fill="#f9b43a"/>
<text x="202.5" y="3426.8" font-size="12.4" fill="#595959">2021</text>
<path d="M240.8 3422.2h16" stroke="#4f94d8" stroke-width="1.6"/>
<circle cx="248.8" cy="3422.2" r="4.6" fill="#4f94d8"/>
<text x="262.3" y="3426.8" font-size="12.4" fill="#595959">2022</text>
<path d="M300.6 3422.2h16" stroke="#dcd72e" stroke-width="1.6"/>
<circle cx="308.6" cy="3422.2" r="4.6" fill="#dcd72e"/>
<text x="322.1" y="3426.8" font-size="12.4" fill="#595959">2023</text>
<path d="M360.4 3422.2h16" stroke="#3b3b3b" stroke-width="1.6"/>
<circle cx="368.4" cy="3422.2" r="4.6" fill="#3b3b3b"/>
<text x="381.9" y="3426.8" font-size="12.4" fill="#595959">2024</text>
<path d="M420.2 3422.2h16" stroke="#e5322b" stroke-width="1.6"/>
<circle cx="428.2" cy="3422.2" r="4.6" fill="#e5322b"/>
<text x="441.7" y="3426.8" font-size="12.4" fill="#595959">2025</text>
<text x="182.0" y="3430.9" font-size="13" fill="#5e5e5e" text-anchor="end">270,000</text>
<text x="182.0" y="3454.4" font-size="13" fill="#5e5e5e" text-anchor="end">260,000</text>
<text x="182.0" y="3478.0" font-size="13" fill="#5e5e5e" text-anchor="end">250,000</text>
<text x="182.0" y="3501.5" font-size="13" fill="#5e5e5e" text-anchor="end">240,000</text>
<text x="182.0" y="3525.1" font-size="13" fill="#5e5e5e" text-anchor="end">230,000</text>
<text x="182.0" y="3548.6" font-size="13" fill="#5e5e5e" text-anchor="end">220,000</text>
<text x="182.0" y="3572.2" font-size="13" fill="#5e5e5e" text-anchor="end">210,000</text>
<text x="182.0" y="3595.7" font-size="13" fill="#5e5e5e" text-anchor="end">200,000</text>
<path d="M189.0 3449.8H511.9 M189.0 3473.4H511.9 M189.0 3496.9H511.9 M189.0 3520.5H511.9 M189.0 3544.0H511.9 M189.0 3567.6H511.9" stroke="#cfcfcf" stroke-width="1" stroke-dasharray="2 1" fill="none"/>
<rect x="189.0" y="3426.3" width="322.9" height="164.8" fill="none" stroke="#d4d4d4" stroke-width="1" stroke-dasharray="2 1"/>
<text x="189.6" y="3608.6" font-size="13" fill="#5e5e5e" text-anchor="middle">1月</text>
<text x="216.9" y="3608.6" font-size="13" fill="#5e5e5e" text-anchor="middle">2月</text>
<text x="244.2" y="3608.6" font-size="13" fill="#5e5e5e" text-anchor="middle">3月</text>
<text x="271.5" y="3608.6" font-size="13" fill="#5e5e5e" text-anchor="middle">4月</text>
<text x="298.8" y="3608.6" font-size="13" fill="#5e5e5e" text-anchor="middle">5月</text>
<text x="326.1" y="3608.6" font-size="13" fill="#5e5e5e" text-anchor="middle">6月</text>
<text x="353.4" y="3608.6" font-size="13" fill="#5e5e5e" text-anchor="middle">7月</text>
<text x="380.7" y="3608.6" font-size="13" fill="#5e5e5e" text-anchor="middle">8月</text>
<text x="408.0" y="3608.6" font-size="13" fill="#5e5e5e" text-anchor="middle">9月</text>
<text x="435.3" y="3608.6" font-size="13" fill="#5e5e5e" text-anchor="middle">10月</text>
<text x="462.6" y="3608.6" font-size="13" fill="#5e5e5e" text-anchor="middle">11月</text>
<path d="M189.0 3591.1H511.9" stroke="#555" stroke-width="1.3"/>
<path d="M189.6 3591.1v4 M216.9 3591.1v4 M244.2 3591.1v4 M271.5 3591.1v4 M298.8 3591.1v4 M326.1 3591.1v4 M353.4 3591.1v4 M380.7 3591.1v4 M408.0 3591.1v4 M435.3 3591.1v4 M462.6 3591.1v4" stroke="#555" stroke-width="1"/>
<path d="M190.6 3515.1l4 -11.9 2.6 -7.8 1.4 -2.3 4 -6.7 4 -6.7 0.4 -0.7 3.6 -4.8 4 -5.3 2.3 -3.1 1.7 -2.5 4 -6.0 0.8 -1.2 3.3 1.6 3.3 1.6 0.7 0.4 4 2.0 1.8 0.9 2.2 1.1 4 2.0 0.4 0.2 3.6 3.6 3 3.0 1 1.5 4 6.0 1.5 2.2 2.5 2.5 4 4.0 0.1 0.1 3.9 -1.0 2.7 -0.6 1.3 2.0 4 6.0 1.2 1.8 2.8 0.0 3.8 0 0.2 -0.1 4 -1.3 4 -1.3 1.6 -0.5 2.4 0.4 4 0.7 3.5 0.6 0.5 0.2 4 1.3 4 1.3 1.3 0.4 2.7 -0.9 4 -1.3 3.2 -1.0 0.8 1.5 2.3 4.2 1.8 -0.2 4 -0.5 4 -0.5 2.7 -0.3 1.3 -0.3 4 -1.0 4 -1.0 3.2 -0.8 0.8 -0.1 4 -0.7 4 -0.7 0.6 -0.1 3.4 -0.6 4 -0.7 2 -0.3 2 3.0 4 6.0 0.2 0.3 3.8 1.4 4 1.5 4 1.5 0.7 0.3 3.3 3.3 4 4.0 2.1 2.1 1.9 1.0 4 2.0 3.4 1.7 0.6 0.4 4 2.5 4 2.5 4 2.5 4 -1.3 4.1 -1.4 1.2 -0.4 2.8 1.4 4 2.0 2.6 1.3 1.4 0.2 4 0.7 4 0.7 4 4.0 4 4.0 1.3 1.3 2.7 -0.4 4 -0.7 2.7 -0.4 1.3 -1.1 4 -3.3 4 -3.3 0.1 -0.1 3.9 -3.9 4 -4.0 4 -4.0 0.6 -0.6 3.4 0.0 4 0 2 0.0 2 0 4 0 3.3 0.0 0.7 -1.3 4 -8.0" stroke="#3cbde6" stroke-width="1.8" fill="none" stroke-linejoin="round"/>
<path d="M190.6 3495.5l4 -8.0 4 -8.0 1.9 -3.8 2.1 -3.5 4 -6.7 3.7 -6.2 0.3 -0.1 4 -0.7 4 -0.7 1.5 -0.2 2.5 1.2 4.1 2.0 3.3 1.7 0.7 0.5 4 2.7 4 2.7 1.1 0.7 2.9 4.8 4 6.7 3 5.0 1 1.3 4 5.3 4 5.3 0.8 1.1 3.2 0.0 4 0 2.7 0.0 1.3 0.4 4 1.3 4 1.3 0.5 0.2 3.5 -2.9 4 -3.3 2.3 -1.9 1.7 -0.3 4 -0.7 4 -0.7 0.2 0 3.8 1.3 4 1.3 2 0.7 2 0.7 4 1.3 3.9 1.3 0.1 0 4 -0.4 2.3 -0.2 1.8 0.4 4 1.0 4 1.0 2.7 0.7 1.3 0.3 4 1.0 4 1.0 3.2 0.8 0.8 0.5 4 2.7 4 2.7 0.6 0.4 3.4 1.7 4 2.0 2 1.0 2 0.3 4 0.7 3.3 0.5 0.7 0.2 4 1.3 4 1.3 0.7 0.2 3.3 1.1 4 1.3 2.1 0.7 1.9 1.3 4 2.7 3.4 2.3 0.6 0.7 4 5.0 4 5.0 4 4.9 4 0.7 4.1 0.7 1.2 0.2 2.8 -2.3 4 -3.3 2.6 -2.2 1.4 1.9 4 5.3 4 5.3 4 5.3 4 5.3 1.3 1.7 2.7 -1.7 4 -2.7 2.7 -1.8 1.3 -1.3 4 -4.0 4 -4.0 0.1 -0.1 3.9 -3.9 4 -4.0 1.5 -1.5 2.5 -2.5 4 -4.0 2.9 -2.9 1.1 -0.4 4 -1.3 4 -1.3 0.2 -0.1 3.8 -1.5 4 -1.6" stroke="#a987d6" stroke-width="1.8" fill="none" stroke-linejoin="round"/>
<path d="M190.6 3497.1l4.1 -4.1 2.5 -2.5 1.5 -0.7 4 -2.0 4.1 -2.1 0.2 -0.1 3.8 2.8 2.8 2.1 1.2 -1.2 4.1 -4.1 4 -4.0 0.5 -0.5 3.5 -1.2 4.1 -1.4 2.3 -0.7 1.7 1.3 4 3.0 0.8 0.6 3.3 1.1 4 1.3 2.6 0.9 1.4 1.4 4.1 4.1 4 4.0 0.3 0.3 3.7 0.6 4.1 0.7 2.1 0.4 1.9 2.2 4 4.7 3.9 4.6 0.2 -0.1 4 -2.0 4.1 -2.0 1.5 -0.8 2.5 -0.4 4 -0.7 3.4 -0.5 0.7 0.7 4 4.0 4 4.0 1.1 1.1 3 -1.0 4 -1.3 2.9 -1.0 1.1 -0.2 4.1 -0.7 1.2 -0.2 2.8 0 4 0.0 4.1 0 1.6 0 2.4 -0.6 4 -1.0 4.1 -1.0 2 -0.5 2 1.0 4 2.0 4.1 2.0 2.4 1.2 1.6 0.4 4.1 1.0 4 1.0 2.8 0.7 1.2 0.0 4.1 0.0 4 0 3.2 0.0 0.8 -0.2 4.1 -1.0 4 -1.0 3.6 -0.9 0.4 -0.1 4.1 -0.7 4 -0.7 0.9 -0.1 3.1 -0.5 4.1 -0.7 2.2 -0.4 1.8 -0.2 4 -0.5 4.1 -0.5 2.5 -0.3 1.5 1.2 4 3.3 3.9 3.2 0.2 0.3 4 5.3 4.1 5.5 1.1 1.5 2.9 0.7 4 1.0 4.1 1.0 1.5 0.4 2.5 0.4 4 0.7 2.9 0.5 1.2 -0.6 4 -2.0 4 -2.0 0.1 0 4 -3.0 4 -3.0 4 -3.0 0.6 -0.5 3.5 -3.5 4 -4.0 1.8 -1.8 2.2 -3.8 4.1 -7.1" stroke="#f4834f" stroke-width="1.8" fill="none" stroke-linejoin="round"/>
<path d="M190.6 3477.4l4 -11.0 2.6 -7.1 1.4 -1.7 4.1 -5.1 1 -1.3 3 1.4 3.6 1.8 0.4 0.0 4 0.0 2.2 0 1.8 -0.4 4 -1.0 0.7 -0.2 3.4 2.5 3.2 2.4 0.8 0.6 4 3.0 1.7 1.3 2.3 5.7 4 10.0 0.3 0.8 3.7 5.6 2.9 4.3 1.1 1.6 4.1 6.2 1.3 1.9 2.7 4.0 3.9 5.9 0.1 0.1 4 6.0 2.5 3.7 1.5 1.5 4 4.0 1 1.0 3 1.5 3.6 1.8 0.5 0.1 4 0.7 4 0.7 1.3 0.2 2.7 -2.2 4 -3.3 3.2 -2.7 0.8 -0.8 4.1 -4.1 1.6 -1.6 2.4 -1.2 4 -2.0 0.2 -0.1 3.8 -1.9 2.8 -1.4 1.2 -0.4 1.9 -0.7 2.1 0.5 4 1.0 4.1 1.0 2.3 0.6 1.7 0.9 4 2.0 4 2.0 2.8 1.4 1.2 0.4 4 1.3 4.1 1.4 0.1 0.0 3.9 -1.3 4 -1.3 1.5 -0.5 2.5 -1.7 4 -2.7 2.8 -1.9 1.2 0 4 0.0 4.1 0 0.1 0.0 3.9 1.3 4 1.3 1.5 0.5 2.5 1.7 4 2.7 2.8 1.9 1.2 0.0 4 0.0 4.1 0 3.3 0.0 0.7 0.4 4 2.0 4 2.0 3.7 1.9 0.3 0.2 4 3.0 4.1 3.1 4 3.0 0.2 0.2 3.8 3.8 4 4.0 4 4.0 0.6 0.6 3.4 -1.1 4 -1.3 2 -0.7 2.1 -2.1 4 -4.0 4 -4.0 2.4 -2.4 1.6 -2.1 4 -5.3 3.8 -5.1 0.2 -0.3 4.1 -5.5 4 -5.3 1.1 -1.5 2.9 -4.1 4 -5.7 4 -5.7" stroke="#5fae4a" stroke-width="1.8" fill="none" stroke-linejoin="round"/>
<path d="M190.6 3469.2l4.1 -10.2 2.5 -6.2 1.5 -0.8 4.1 -2.1 4 -2.0 0.2 -0.1 3.8 -0.8 4.1 -0.8 0.3 -0.1 3.7 0.7 4.1 0.8 0.4 0.1 3.6 2.7 3 2.3 1.1 1.1 4 4.0 1.4 1.4 2.7 2.7 3.9 3.9 0.1 0.2 4.1 9.2 2.4 5.4 1.6 3.6 4.1 9.2 0.8 1.8 3.2 -6.3 0.1 -0.2 4 -12.0 2.6 -7.8 1.4 -3.5 4 -10.0 1.1 -2.8 3 -4.5 3.6 -5.4 0.4 -0.1 4.1 -1.4 0.4 -0.1 3.6 5.0 4.1 5.7 0.5 0.7 3.5 4.7 4.1 5.5 2.3 3.0 1.7 -1.3 4.1 -3.1 0.7 -0.5 3.3 0.8 3.3 0.8 0.8 -1.0 4 -5.0 1.8 -2.2 2.3 -1.2 0.8 -0.4 3.2 1.1 4 1.3 2.2 0.7 1.9 0.6 4 1.3 3.5 1.2 0.6 0.8 4 5.0 1.6 2.0 2.5 3.1 3.7 4.6 0.3 0.2 4.1 2.1 4 2.0 1 0.5 3.1 -0.5 4 -0.7 2.3 -0.4 1.8 0.9 4 2.0 3.6 1.8 0.5 0.7 4 5.3 4 5.3 0.9 1.2 3.2 5.3 4 6.7 2.1 3.5 2 1.4 4 2.7 3.4 2.3 0.7 0.7 4 4.0 1.6 1.6 2.5 0.8 4 1.3 2.8 0.9 1.3 0.0 4 0.0 4.1 0 4 1.3 4.1 1.4 1.3 0.4 2.7 -0.9 4 -1.3 2.6 -0.9 1.5 1.1 4 3.0 0.8 0.6 3.3 -2.8 4 -3.3 2.1 -1.8 2 -2.7 4 -5.3 3.3 -4.4 0.8 -1.2 4 -6.0 1.5 -2.3 2.6 -0.5 4 -0.8 1.2 -0.2 2.9 1.2 4 1.7 4 1.7" stroke="#2f6fcf" stroke-width="2.2" fill="none" stroke-linejoin="round"/>
<path d="M189.0 3493.8l4 -5.6 4 -5.6 0.2 -0.3 3.8 -6.3 4.1 -6.8 1.9 -3.2 2.1 -1.8 4 -3.3 3.8 -3.2 0.2 -0.1 4.1 -2.1 2.2 -1.1 1.8 1.3 4 3.0 0.8 0.6 3.2 4.8 3.3 5.0 0.8 3.1 4 16.0 1.8 7.2 2.2 7.2 4 13.0 0.4 1.2 3.7 0.0 2.8 0 1.2 -0.3 4 -1.0 1.4 -0.4 2.6 -2.6 4 -4.0 0.1 0 4 -2.0 2.4 -1.2 1.6 0.3 4 0.7 4.1 0.7 0.2 0.0 3.8 -0.6 4 -0.7 2 -0.3 2 0.7 4.1 1.4 3.7 1.2 0.3 0.1 4 1.3 4 1.3 1.6 0.5 2.5 -5.0 4 -8.0 3.2 -6.4 0.1 -0.2 0.7 -0.6 4 -1.3 4.1 -1.4 0.5 -0.1 3.5 2.3 4 2.7 1.9 1.3 2.1 1.4 4.1 2.7 3.1 2.1 0.9 0.9 4 4.0 4 4.0 0.5 0.5 3.6 3.6 4 4.0 1.8 1.8 2.2 1.5 4 2.7 3.1 2.1 1 0.4 4 1.3 4 1.3 0.4 0.1 3.6 1.2 4.1 1.4 1.7 0.6 2.3 0.8 4 1.3 3.1 1.0 0.9 0.3 4 1.3 4.1 1.4 0.4 0.1 3.6 -2.4 4 -2.7 1.7 -1.1 2.3 1.5 4.1 2.7 3 2.0 1 1.0 4 4.0 4 4.0 3.5 3.5 0.6 0.4 4 3.0 4 3.0 3.9 2.9 0.1 0.0 4.1 1.4 4 1.3 1.2 0.4 2.8 -3.7 4 -5.3 2.5 -3.3 1.6 -1.1 4 -2.7 3.8 -2.5 0.2 -0.1 4 -2.0 2.1 -1.1 2 -4.0 4 -8.0 3.3 -6.6 0.7 -1.4 4 -8.0" stroke="#f9b43a" stroke-width="2.4" fill="none" stroke-linejoin="round"/>
<circle cx="190.0" cy="3492.4" r="5" fill="#f9b43a"/>
<circle cx="325.5" cy="3491.9" r="5" fill="#f9b43a"/>
<path d="M190.6 3505.3l4.1 -8.2 4 -8.0 1.8 -3.6 2.3 -3.1 4 -5.3 3.5 -4.7 0.5 0.2 4.1 1.4 4 1.3 1.2 0.4 2.9 -2.8 4 -4.0 3 -3.0 1.1 0.7 4 2.7 4.1 2.7 0.6 0.4 3.4 5.6 4.1 6.8 2.4 4.0 1.6 2.4 4.1 6.1 0.8 1.2 3.2 1.1 4.1 1.4 2.6 0.9 1.4 0.9 4 2.7 4.1 2.7 0.3 0.2 3.7 3.7 4.1 4.1 2.1 2.1 1.9 1.3 4.1 2.7 3.8 2.5 0.2 0.4 4.1 7.5 4 7.3 1.5 2.8 2.6 0.5 4 0.7 3.3 0.5 0.8 0.1 4 0.7 4.1 0.7 0.8 0.1 0.1 0.0 3.1 0.8 4 -1.3 2.2 -0.7 1.9 -0.9 4 -2.0 3.5 -1.8 0.6 -0.7 4 -5.0 1.6 -2.0 2.5 -3.8 3.7 -5.5 0.3 -0.1 4.1 -1.0 1.9 -0.5 2.1 2.5 4.1 4.8 3.2 3.7 0.8 1.1 4.1 5.5 4 5.3 0.4 0.5 3.7 5.5 2.6 3.9 1.4 0.2 4 0.5 4.1 0.5 3 0.4 1 0.4 4.1 1.5 4 1.5 3.4 1.3 0.7 0 4 0 4.1 0 0.6 0.0 3.4 4.5 4.1 5.5 1.8 2.4 2.2 -0.7 4.1 -1.4 3.1 -1.0 0.9 0 4.1 0.0 4 0 0.4 0 3.6 2.4 4.1 2.7 1.7 1.1 2.3 -2.3 4.1 -4.1 3 -3.0 1 -2.0 4.1 -8.2 4 -8.0 0.2 -0.4 3.9 -3.9 4 -4.0 1.5 -1.5 2.6 -1.7 4 -2.7 2.8 -1.8 1.3 0.7 4 2.0 4 2.0" stroke="#4f94d8" stroke-width="1.8" fill="none" stroke-linejoin="round"/>
<path d="M193.9 3526.6l4 -3.3 4.1 -3.4 1.7 -1.4 2.3 -2.3 4.1 -4.1 3.5 -3.5 0.5 -0.7 4.1 -6.1 4 -6.0 1.2 -1.8 2.9 -0.8 3.7 -0.9 0.3 0.1 4 2.0 4.1 2.1 1.4 0.7 2.6 2.6 4.1 4.1 3.2 3.2 0.8 1.4 4.1 7.2 1.6 2.8 2.4 3.6 4.1 6.1 3.4 5.1 0.6 0.3 4 2.0 4.1 2.1 1.1 0.6 2.9 0.0 4.1 0 2.9 0.0 1.1 0.5 4.1 2.1 1.3 0.6 2.7 1.3 4.1 2.1 3.1 1.6 0.9 0.4 4 2.0 4.1 2.0 4 2.0 0.1 0.0 4 -2.7 4 -2.7 1.7 -1.1 0.1 -0.1 2.3 0.3 4 -2.5 4.1 -2.6 2 -1.2 2 0.7 4 1.5 4.1 1.5 2.4 0.9 1.6 0.2 4.1 0.5 4 0.5 2.8 0.3 1.3 0.2 4 0.5 4.1 0.5 3.1 0.4 0.9 0.2 4 1.0 4.1 1.0 3.5 0.9 0.5 0.0 4.1 0.0 4 0 3.9 0 0.2 -0.3 4 -5.3 4.1 -5.5 1.1 -1.4 2.9 0 4 0.0 4.1 0.0 1.5 0 2.5 -0.6 4.1 -1.0 4 -1.0 1.9 -0.5 2.2 -0.7 4 -1.3 3.2 -1.0 0.9 1.2 4 5.3 4.1 5.5 0.3 0.4 3.7 3.1 4 3.3 1.7 1.4 2.4 -0.4 4 -0.7 3 -0.5 1.1 -0.7 4 -2.7 4.1 -2.7 0.1 -0.1 3.9 -3.9 4.1 -4.1 1.4 -1.4 2.6 -2.6 4 -4.0 2.8 -2.8 1.3 -3.0 4 -9.3 4.1 -9.5" stroke="#dcd72e" stroke-width="1.8" fill="none" stroke-linejoin="round"/>
<path d="M190.6 3484.0l4.1 -4.1 2.5 -2.5 1.5 -2.0 4.1 -5.5 4 -5.3 0.2 -0.3 3.8 0.9 2.8 0.7 1.3 1.1 4 3.3 4.1 3.4 0.4 0.3 3.6 2.4 4.1 2.7 2.2 1.5 1.8 2.7 4.1 6.1 3.9 5.8 0.1 0.2 4.1 10.3 2.4 5.9 1.6 1.2 4.1 3.1 0.8 0.6 3.2 -1.6 3.4 -1.7 0.7 1.1 4 6.0 1.9 2.8 2.1 0.4 4.1 0.7 3.6 0.6 0.4 0.1 4.1 1.4 4 1.3 1.3 0.4 2.8 -0.9 4 -1.3 3.1 -1.0 1 0.2 4 0.7 4.1 0.7 0.7 0.1 3.3 -2.2 4.1 -2.7 2.5 -1.7 1.5 -1.5 4.1 -4.0 0.8 -0.8 3.2 -0.5 4 -0.7 2.2 -0.4 1.9 0.3 4 0.7 3.5 0.6 0.6 0.2 4 1.3 4.1 1.4 0.6 0.2 3.4 -0.8 2.9 -0.7 1.2 1.4 4 4.7 4.1 4.8 0.1 0.1 3.9 4.9 2.3 2.9 1.8 0.9 4 2.0 3.6 1.8 0.5 0.2 4 2.0 4 2.0 4 2.0 0.1 -0.1 4 -2.0 4.1 -2.1 1.1 -0.6 2.9 0 4.1 0.0 2.4 0 1.6 0.8 4.1 2.0 3.7 1.8 0.3 0.4 4.1 5.5 4 5.3 1 1.3 3.1 1.5 4 2.0 2.3 1.1 1.8 0.3 4 0.7 3.5 0.6 0.5 0.6 4.1 4.8 4 4.7 0.8 0.9 3.3 -2.8 4 -3.3 2.1 -1.8 2 -2.7 4 -5.3 3.3 -4.4 0.8 -0.8 4 -4.0 4.1 -4.1 0.5 -0.5 3.5 -3.5 4.1 -4.1 1.8 -1.8 2.2 -4.4 4 -8.0" stroke="#3b3b3b" stroke-width="2.4" fill="none" stroke-linejoin="round"/>
<path d="M190.6 3500.4l4.1 -7.1 2.5 -4.4 1.5 -1.5 4 -4.0 4.1 -4.1 0.2 -0.2 3.8 -3.8 4.1 -4.1 2 -1.9 2 1.5 4.1 3.1 0.4 0.3 3.6 1.8 3 1.5 1 0.2 4.1 1.0 1.4 0.3 2.6 3.0 4.1 4.8 3.2 3.7 0.8 0.4 4 2.0 4.1 2.0 0.9 0.4 3.1 1.5 4.1 2.1 2.7 1.4 1.3 0.9 4.1 2.7 4 2.7 0.4 0.3 3.6 4.5 3 3.8 1.1 1.9 4 7.0 1.4 2.4 2.7 1.4 3.9 1.9 0.1 0.0 4 0.7 4.1 0.7 1.6 0.3 2.4 0.9 4.1 1.6 1.7 0.7 2.3 -2.2 4.1 -4.1 1.9 -2.0 2.1 -4.4 1 -2.1 3 1.0 4.1 1.4 2.3 0.8 1.7 -0.6 4.1 -1.4 3.6 -1.2 0.4 0.1 4 1.3 4.1 1.4 0.8 0.3 3.2 -5.5 3.1 -5.4 1 0.8 4 3.3 4.1 3.4 0.3 0.2 3.7 2.5 4 2.7 1.6 1.1 2.5 1.7 4 2.7 2.9 1.9 1.2 0.7 4 2.5 4 2.5 3.3 2.1 0.8 0.4 4 2.0 4.1 2.0 0.5 0.2 3.5 1.2 4.1 1.4 1.8 0.5 2.2 -2.2 4 -4.0 4.1 1.4 4 1.3 1.3 0.4 2.8 0.9 4 1.3 2.6 0.9 1.4 2.3 4.1 6.8 3.8 6.3 0.2 0.4 4.1 8.2 2 4.0 2 0.5 4.1 1.0 0.1 0.0 3.9 -4.5 4 -4.7 1.5 -1.7 2.6 -4.3 4 -6.7 2.8 -4.7 1.3 -2.6 4 -8.0 4.1 -8.1" stroke="#e5322b" stroke-width="3.0" fill="none" stroke-linejoin="round"/>
<text x="758.5" y="3379.6" font-size="15" fill="#222" text-anchor="middle" font-weight="bold">美国中间馏分总库存</text>
<path d="M614.0 3399.8h16" stroke="#3cbde6" stroke-width="1.6"/>
<circle cx="622.0" cy="3399.8" r="4.6" fill="#3cbde6"/>
<text x="635.5" y="3404.4" font-size="12.4" fill="#595959">2016</text>
<path d="M673.8 3399.8h16" stroke="#a987d6" stroke-width="1.6"/>
<circle cx="681.8" cy="3399.8" r="4.6" fill="#a987d6"/>
<text x="695.3" y="3404.4" font-size="12.4" fill="#595959">2017</text>
<path d="M733.6 3399.8h16" stroke="#f4834f" stroke-width="1.6"/>
<circle cx="741.6" cy="3399.8" r="4.6" fill="#f4834f"/>
<text x="755.1" y="3404.4" font-size="12.4" fill="#595959">2018</text>
<path d="M793.4 3399.8h16" stroke="#5fae4a" stroke-width="1.6"/>
<circle cx="801.4" cy="3399.8" r="4.6" fill="#5fae4a"/>
<text x="814.9" y="3404.4" font-size="12.4" fill="#595959">2019</text>
<path d="M853.2 3399.8h16" stroke="#2f6fcf" stroke-width="1.6"/>
<circle cx="861.2" cy="3399.8" r="4.6" fill="#2f6fcf"/>
<text x="874.7" y="3404.4" font-size="12.4" fill="#595959">2020</text>
<path d="M614.0 3422.2h16" stroke="#f9b43a" stroke-width="1.6"/>
<circle cx="622.0" cy="3422.2" r="4.6" fill="#f9b43a"/>
<text x="635.5" y="3426.8" font-size="12.4" fill="#595959">2021</text>
<path d="M673.8 3422.2h16" stroke="#4f94d8" stroke-width="1.6"/>
<circle cx="681.8" cy="3422.2" r="4.6" fill="#4f94d8"/>
<text x="695.3" y="3426.8" font-size="12.4" fill="#595959">2022</text>
<path d="M733.6 3422.2h16" stroke="#dcd72e" stroke-width="1.6"/>
<circle cx="741.6" cy="3422.2" r="4.6" fill="#dcd72e"/>
<text x="755.1" y="3426.8" font-size="12.4" fill="#595959">2023</text>
<path d="M793.4 3422.2h16" stroke="#3b3b3b" stroke-width="1.6"/>
<circle cx="801.4" cy="3422.2" r="4.6" fill="#3b3b3b"/>
<text x="814.9" y="3426.8" font-size="12.4" fill="#595959">2024</text>
<path d="M853.2 3422.2h16" stroke="#e5322b" stroke-width="1.6"/>
<circle cx="861.2" cy="3422.2" r="4.6" fill="#e5322b"/>
<text x="874.7" y="3426.8" font-size="12.4" fill="#595959">2025</text>
<text x="616.8" y="3430.9" font-size="13" fill="#5e5e5e" text-anchor="end">180,000</text>
<text x="616.8" y="3472.1" font-size="13" fill="#5e5e5e" text-anchor="end">160,000</text>
<text x="616.8" y="3513.3" font-size="13" fill="#5e5e5e" text-anchor="end">140,000</text>
<text x="616.8" y="3554.5" font-size="13" fill="#5e5e5e" text-anchor="end">120,000</text>
<text x="616.8" y="3595.7" font-size="13" fill="#5e5e5e" text-anchor="end">100,000</text>
<path d="M623.8 3467.5H946.6 M623.8 3508.7H946.6 M623.8 3549.9H946.6" stroke="#cfcfcf" stroke-width="1" stroke-dasharray="2 1" fill="none"/>
<rect x="623.8" y="3426.3" width="322.9" height="164.8" fill="none" stroke="#d4d4d4" stroke-width="1" stroke-dasharray="2 1"/>
<text x="623.8" y="3608.6" font-size="13" fill="#5e5e5e" text-anchor="middle">1月</text>
<text x="650.9" y="3608.6" font-size="13" fill="#5e5e5e" text-anchor="middle">2月</text>
<text x="678.0" y="3608.6" font-size="13" fill="#5e5e5e" text-anchor="middle">3月</text>
<text x="705.0" y="3608.6" font-size="13" fill="#5e5e5e" text-anchor="middle">4月</text>
<text x="732.1" y="3608.6" font-size="13" fill="#5e5e5e" text-anchor="middle">5月</text>
<text x="759.2" y="3608.6" font-size="13" fill="#5e5e5e" text-anchor="middle">6月</text>
<text x="786.4" y="3608.6" font-size="13" fill="#5e5e5e" text-anchor="middle">7月</text>
<text x="813.5" y="3608.6" font-size="13" fill="#5e5e5e" text-anchor="middle">8月</text>
<text x="840.5" y="3608.6" font-size="13" fill="#5e5e5e" text-anchor="middle">9月</text>
<text x="867.6" y="3608.6" font-size="13" fill="#5e5e5e" text-anchor="middle">10月</text>
<text x="894.8" y="3608.6" font-size="13" fill="#5e5e5e" text-anchor="middle">11月</text>
<path d="M623.8 3591.1H946.6" stroke="#555" stroke-width="1.3"/>
<path d="M623.8 3591.1v4 M650.9 3591.1v4 M678.0 3591.1v4 M705.0 3591.1v4 M732.1 3591.1v4 M759.2 3591.1v4 M786.4 3591.1v4 M813.5 3591.1v4 M840.5 3591.1v4 M867.6 3591.1v4 M894.8 3591.1v4" stroke="#555" stroke-width="1"/>
<path d="M624.7 3463.7l4 -5.0 2.2 -2.8 1.8 0.8 4 2.0 0.5 0.3 3.6 6.0 1.1 1.8 2.9 0.0 4 0.0 2.4 0 1.6 -0.8 4 -2.0 3.8 -1.9 0.2 0.0 4 0.7 4.1 0.7 1.1 0.2 2.9 -1.0 4 -1.3 2.5 -0.8 1.5 0.5 4 1.3 3.9 1.3 0.1 0 4.1 -0.7 4 -0.7 1.1 -0.2 2.9 -1.0 4 -1.3 2.5 -0.8 1.5 1.2 4 3.3 3.9 3.2 0.1 0.0 4.1 2.1 4 2.0 1.1 0.6 2.9 1.9 4 2.7 2.5 1.7 1.5 1.0 4 2.7 3.9 2.6 0.2 0.1 4 2.0 4 2.0 1.2 0.6 2.8 -0.5 4 -0.7 4 -0.7 4 -0.7 3.3 -0.6 0.8 0.2 4 1.0 4 1.0 3.7 0.9 0.3 -0.4 4 -5.0 1.9 -2.4 2.1 0.3 4.1 0.7 3.2 0.5 0.8 -0.1 4 -0.7 4 -0.7 0.6 -0.1 3.4 2.6 2.8 2.1 1.2 -0.7 4.1 -2.7 4 -2.7 0.1 -0.1 3.9 -1.3 4 -1.3 1.5 -0.5 2.5 -3.3 4 -5.3 2.9 -3.9 1.1 -0.7 4.1 -2.7 4 -2.7 0.2 -0.1 3.8 2.5 4 2.7 1.5 1.0 2.5 2.5 4 4.0 2.9 2.9 1.2 0.9 4 3.0 4 3.0 3.3 2.5 0.7 0.4 4 2.5 4 2.5 3.8 2.4 0.3 -0.1 4 -0.7 4 -0.7 1.1 -0.2 2.9 -3.4 4 -4.7 2.4 -2.8 1.6 -0.8 4 -2.0 0.7 -0.4 3.4 1.7 4 2.0 2 1.0 2 1.2 4 2.4 1.8 1.0 2.2 -7.2 4 -13.0" stroke="#3cbde6" stroke-width="1.8" fill="none" stroke-linejoin="round"/>
<path d="M626.2 3446.6l4.1 0.7 4 0.7 1.3 0.2 2.7 -0.9 4.1 -1.4 2.6 -0.9 1.4 0 4 0.0 4 0.0 4.1 3.1 2.1 1.6 1.9 2.4 4 5.0 0.4 0.5 3.6 1.2 4.1 1.4 1.6 0.5 2.4 2.8 4 4.7 3 3.5 1.1 0.9 4 3.3 4 3.3 0.3 0.2 3.7 1.2 4.1 1.4 1.6 0.5 2.4 2.0 4 3.3 3 2.4 1 -0.5 4.1 -2.1 4 -2.0 0.2 -0.1 3.8 1.2 4 1.3 1.6 0.5 2.5 1.3 4 2.0 2.9 1.4 1.1 0.2 4.1 0.7 4 0.7 0.1 0.0 3.9 -5.8 2.4 -3.6 1.6 -0.2 4.1 -0.4 4 -0.4 4 -0.4 1.3 -0.1 2.7 0.9 4.1 1.4 2.6 0.8 1.4 -1.1 4 -3.2 2.4 -1.9 1.7 1.0 4 2.3 4 2.3 1.2 0.7 2.8 1.1 4.1 1.5 4 1.5 1.6 0.6 2.4 -0.3 4 -0.5 4.1 -0.5 2 -0.3 2 0.5 4 1.0 4 1.0 2.5 0.6 1.6 2.4 4 6.0 3.8 5.7 0.2 0.1 4.1 2.7 4 2.7 1.1 0.7 2.9 1.9 4 2.7 2.4 1.6 1.7 0.6 4 1.3 3.7 1.2 0.3 0.2 4 2.7 4.1 2.7 1 0.7 3 2.0 4 2.7 2.4 1.6 1.7 0.8 4 2.0 3.7 1.8 0.3 -0.2 4 -3.3 4.1 -3.4 0.9 -0.8 3.1 -1.0 4 -1.3 2.3 -0.8 1.7 -0.2 4.1 -0.5 4 -0.5 2.7 -0.3 1.3 -2.2 4 -6.7 4.1 -6.8" stroke="#a987d6" stroke-width="1.8" fill="none" stroke-linejoin="round"/>
<path d="M626.2 3507.5l4.1 1.0 2.2 0.6 1.8 0.4 4 1.0 0.5 0.1 3.5 0.9 2.7 0.7 1.3 -1.6 4 -5.0 0.9 -1.1 3.1 1.0 4 1.3 2.3 0.8 1.7 1.3 4 3.0 0.6 0.4 3.4 2.8 4 3.3 1.9 1.6 2.1 1.1 4 2.0 3.3 1.6 0.8 0.4 4 2.0 4 2.0 0.6 0.3 3.4 0.6 4 0.7 2 0.3 2 1.3 4 2.7 3.4 2.3 0.6 0.7 4 4.7 4 4.7 0.7 0.8 3.3 3.9 4 4.7 2.1 2.4 1.9 0.3 4 0.7 3.5 0.6 0.6 -0.1 4 -0.7 4 -0.7 0.7 -0.1 3.3 0.2 4 0.3 4 0.3 4 0.3 4 0.3 2 0.1 2 -1.0 4 -2.0 4 -2.0 2.5 -1.3 1.5 -0.8 4 -2.0 4 -2.0 3 -1.5 1.1 -0.3 4 -1.0 4 -1.0 3.4 -0.9 0.6 -0.6 4 -4.0 4 -4.0 3.9 -3.9 0.1 0 4 -1.5 4 -1.5 4 -1.5 0.4 -0.2 3.6 -5.4 4 -6.0 4 -6.0 0.9 -1.3 3.1 1.9 4.1 2.6 4 2.5 1.3 0.8 2.7 1.3 4 2.0 4 2.0 1.8 0.9 2.2 2.5 4 4.5 4 4.5 2.3 2.6 1.7 1.5 4 3.5 4 3.5 2.8 2.4 1.2 0.6 4 2.0 4 2.0 0.2 0.1 3.9 -0.7 4 -0.7 1.4 -0.2 2.6 -2.1 4 -3.3 2.8 -2.3 1.2 -0.2 4 -0.7 4 -0.7 0.2 0 3.8 -6.1 4 -6.4" stroke="#f4834f" stroke-width="1.8" fill="none" stroke-linejoin="round"/>
<path d="M624.7 3507.5l4 -3.2 3.8 -3.0 0.2 0.1 4.1 1.4 4 1.3 1.1 0.4 2.9 1.9 4 2.7 2.4 1.6 1.7 -0.2 4 -0.5 4 -0.5 2.9 -0.3 1.2 0.5 4 1.5 4 1.5 3.2 1.2 0.8 0.5 4.1 2.7 4 2.7 0.5 0.3 3.5 3.5 4 4.0 1.9 1.9 2.2 0.5 4 1.0 4 1.0 2.3 0.6 1.8 0.5 4 1.0 4 1.0 2.7 0.7 1.3 0.2 4.1 0.5 4 0.5 3.1 0.4 0.9 -0.1 4 -0.7 4.1 -0.7 0.4 -0.1 3.6 1.2 4 1.3 1.7 0.6 2.3 -2.8 4 -5.0 0.1 0.0 4 1.4 4 1.4 4.1 1.4 4 1.4 1.9 0.7 2.1 -1.7 4 -3.3 3.3 -2.8 0.8 -1.2 4 -6.0 4 -6.0 0.6 -0.9 3.4 -0.6 4.1 -0.7 1.9 -0.3 2.1 0.5 4 1.0 4.1 1.0 2.2 0.6 1.8 -0.4 4 -1.0 4 -1.0 2.8 -0.7 1.3 0.7 4 2.0 4 2.0 3.1 1.6 0.9 -0.4 4.1 -2.1 4 -2.0 0.4 -0.2 3.6 3.1 4 3.5 4.1 3.6 0.8 0.7 3.2 3.2 4 4.0 4.1 4.1 1.2 1.2 2.8 2.1 4 3.0 4 3.0 1.7 1.3 2.4 1.6 4 2.7 3 2.0 1 0.2 4 1.0 4.1 1.0 3.4 0.9 0.6 -0.6 4 -4.0 4.1 -4.1 0.7 -0.7 3.3 -2.7 4 -3.3 2.1 -1.7 1.9 -0.4 4.1 -0.8 1.8 -0.4 2.2 -5.5 4 -10.0" stroke="#5fae4a" stroke-width="1.8" fill="none" stroke-linejoin="round"/>
<path d="M624.7 3510.6l4 -8.0 3.8 -7.6 0.2 0.0 4 0.7 4 0.7 1.2 0.2 2.8 0.9 4 1.3 2.5 0.8 1.5 1.0 4 2.7 3.9 2.6 0.2 0.1 4 2.0 4 2.0 1.2 0.6 2.8 3.7 4 5.3 2.6 3.5 1.4 2.8 4 8.0 0.8 1.6 3.2 1.6 4 2.0 2.2 1.1 1.8 1.4 4 3.0 0.4 0.3 3.6 -1.7 2.7 -1.3 1.3 -3.9 4 -12.0 1 -3.0 3.1 -8.3 4 -10.7 2.2 -5.9 1.8 -3.6 4 -8.0 0.5 -1.0 3.5 -5.3 2.7 -4.0 1.3 -1.3 4 -4.0 4 -4.0 0.1 -0.1 3.9 -9.7 2.3 -5.7 1.7 -4.2 4 -10.0 0.6 -1.5 3.4 0 4 0.0 4 0 3.6 0.0 0.5 0.1 4 0.7 4 0.7 0.9 0.1 3.1 -1.5 4 -2.0 2.2 -1.1 1.8 -0.6 4 -1.3 3.6 -1.2 0.4 -0.1 4 -1.3 4 -1.3 1 -0.3 3 1.5 4 2.0 2.4 1.2 1.6 -0.5 4 -1.3 3.8 -1.2 0.3 0.2 4 2.0 4 2.0 4 2.0 0.1 0.0 3.9 -3.8 2.4 -2.4 1.6 1.6 4 4.0 3.8 3.8 0.2 0.3 4 6.0 4 6.0 1.1 1.7 2.9 3.9 4 5.3 2.5 3.3 1.5 1.8 4 4.7 3.9 4.5 0.2 0.2 4 3.3 4 3.3 1.2 1.0 2.8 5.1 4 7.3 2.6 4.7 1.4 0.7 4 2.0 0.8 0.4 3.2 -5.6 3 -5.2 1 -1.0 4 -4.0 1.3 -1.3 2.7 0 3.6 0.0 0.4 0.3 4 3.0 1.8 1.4 2.2 -2.8 4 -5.0" stroke="#2f6fcf" stroke-width="2.2" fill="none" stroke-linejoin="round"/>
<path d="M623.8 3469.9l4 -4.3 4 -4.3 0.7 -0.7 3.3 -0.6 4.1 -0.7 2 -0.3 2 0.7 4 1.3 3.3 1.1 0.7 0.7 4.1 4.1 1.5 1.5 2.5 4.4 3.8 6.7 0.2 0.5 4.1 9.2 1.9 4.3 2.1 4.2 4 8.0 0.1 0.2 3.9 5.9 2.4 3.6 1.7 -1.3 4 -3.0 0.6 -0.5 3.4 -4.3 2.8 -3.5 1.2 -0.8 4.1 -2.7 4 -2.7 0.1 0 3.9 2.6 4.1 2.7 1.4 0.9 2.6 2.2 4 3.3 2.7 2.2 1.3 0.9 4.1 2.7 4 2.7 4 2.7 4 2.7 1.4 0.9 2.7 3.4 3.5 4.4 0.5 -0.7 4 -6.0 1.8 -2.7 2.3 -0.6 4 -1.0 4 -1.0 4 -1.0 3.8 -1.0 0.3 -0.1 4 -2.0 4 -2.0 1.1 -0.6 2.9 -2.4 4.1 -3.4 2.3 -1.9 1.7 1.1 4 2.7 3.7 2.5 0.4 0.1 4 0.7 4 0.7 1 0.2 3 -2.3 3.2 -2.4 0.9 0.4 4 2.0 4 2.0 3.7 1.8 0.3 0.0 4.1 0.5 4 0.5 4 0.5 4.1 3.5 4 3.5 4 3.5 0.5 0.4 3.5 0.9 4.1 1.0 4 1.0 0.8 0.2 3.2 0.8 4 1.0 4.1 1.0 1.3 0.3 2.7 1.3 4 2.0 4.1 2.0 1.6 0.8 2.4 0.6 4 1.0 4 1.0 2.2 0.6 1.9 0.9 4 2.0 0.3 0.1 3.7 -2.3 4 -2.5 4.1 -2.6 0.7 -0.4 3.3 1.2 4 1.5 4.1 1.5 1.1 0.4 2.9 -1.7 4 -2.3 4 -2.3" stroke="#f9b43a" stroke-width="2.4" fill="none" stroke-linejoin="round"/>
<circle cx="624.5" cy="3469.2" r="5" fill="#f9b43a"/>
<circle cx="760.0" cy="3520.1" r="5" fill="#f9b43a"/>
<path d="M624.7 3529.4l4 2.3 4.1 2.3 2.8 1.6 1.2 1.2 4 4.0 4.1 4.1 0.1 0.1 3.9 1.3 4 1.3 1.5 0.5 2.6 0.9 4 1.3 2.8 1.0 1.2 0.8 4.1 2.7 4 2.7 4 3.0 2.3 1.7 1.8 0.6 4 1.3 3.6 1.2 0.4 -0.2 4.1 -2.1 4 -2.0 0.8 -0.4 3.3 1.6 4 2.0 2.1 1.0 1.9 1.6 4.1 3.4 3.4 2.8 0.6 0.3 4 2.0 4.1 2.0 0.6 0.3 3.4 1.1 4 1.3 2 0.7 2.1 -1.0 4 -2.0 3.3 -1.6 0.7 0.1 4.1 0.7 4 0.7 0.6 0.1 3.4 -2.1 4.1 -2.5 4 -2.4 4.1 -2.5 2.5 -1.5 1.5 0 4 0 4.1 0 2.9 0.0 1.1 -0.6 4 -2.0 4.1 -2.1 0.2 -0.1 3.8 2.4 4 2.5 4.1 2.6 0.6 0.3 3.4 -1.7 4 -2.0 1.9 -0.9 2.2 0 4 0.0 4 0 2.4 0.0 1.7 0.2 4 0.5 4.1 0.5 2.6 0.3 1.4 -1.6 4 -4.7 4 -4.7 0.1 0.0 4 3.3 4 3.3 1.3 1.1 2.8 4.2 4 6.0 2.6 3.9 1.4 0.0 4.1 0 4 0.0 4 0 2.1 0.0 2 0 4 0 4 0 2.5 0.0 1.6 -1.3 4 -3.3 3.8 -3.2 0.2 -0.4 4.1 -8.2 4 -8.0 1 -2.0 3.1 -0.9 4 -1.0 4 -1.0 1.5 -0.4 2.6 0.0 4 0 4 0 1.8 0 2.3 0.6 4 1.0" stroke="#4f94d8" stroke-width="1.8" fill="none" stroke-linejoin="round"/>
<path d="M627.8 3554.4l4 1.6 3.8 1.5 0.3 -0.1 4 -2.0 4 -2.0 1.1 -0.5 2.9 -1.4 4.1 -2.0 2.4 -1.2 1.6 -0.3 4 -0.7 3.8 -0.6 0.3 0.0 4 0.7 4 0.7 1 0.2 3 -1.0 4.1 -1.4 2.3 -0.8 1.7 1.7 4 4.0 3.7 3.7 0.3 0.2 4.1 2.7 4 2.7 0.9 0.6 3.1 1.0 4.1 1.4 2.2 0.7 1.8 0.6 4 1.3 3.6 1.2 0.4 0.4 4.1 4.1 4 4.0 0.9 0.9 3.1 1.0 4 1.3 2.3 0.7 1.8 -0.3 4 -0.7 3.5 -0.6 0.5 -0.6 4 -4.7 4.1 -4.8 0.8 -0.9 3.2 -1.3 4 -1.7 4.1 -1.7 3.7 -1.5 0.3 -0.2 4 -2.0 4 -2.0 4.1 -2.1 0.1 0 3.9 -1.0 2.3 -0.6 1.7 0.2 4 0.5 4.1 0.5 2.8 0.4 1.2 0.3 4 1.0 4 1.0 3.2 0.8 0.9 -0.2 4 -1.0 4 -1.0 3.7 -0.9 0.4 -0.1 4 -1.0 4 -1.0 4 -1.0 4.1 -2.0 4 -2.0 1.3 -0.7 2.7 0.7 4 1.0 4.1 1.0 1.7 0.4 2.3 1.1 4 2.0 4.1 2.1 2.1 1.0 1.9 1.7 4 3.5 4 3.5 2.6 2.3 1.5 1.2 4 3.3 3.9 3.3 0.1 0.0 4 2.0 4.1 2.1 1.2 0.6 2.8 -3.7 4 -5.3 2.5 -3.3 1.5 -0.8 4.1 -2.0 4 -2.0 3 -1.5 1 -0.3 4.1 -1.0 4 -1.0 3.3 -0.8 0.7 -0.9 4 -5.3" stroke="#dcd72e" stroke-width="1.8" fill="none" stroke-linejoin="round"/>
<path d="M626.2 3523.1l4.1 -2.4 3.8 -2.2 0.2 0.1 4 1.6 3.6 1.5 0.4 0.5 4 4.7 4 4.7 0.9 1.0 3.1 2.6 4 3.3 2.3 1.9 1.7 0.9 4 2.0 3.7 1.9 0.3 0.3 4 4.7 4 4.7 1.1 1.2 2.9 -1.0 4.1 -1.4 2.4 -0.8 1.6 0.3 4 0.7 3.7 0.6 0.3 0.0 4 0.0 4 0 1.1 0 2.9 2.2 3.4 2.5 0.6 -0.2 4 -1.3 4 -1.3 0.7 -0.2 3.3 0.5 4 0.7 2.1 0.3 1.9 -0.3 4 -0.7 3.5 -0.6 0.6 -0.3 4 -2.0 4 -2.0 0.7 -0.4 3.3 -4.1 3 -3.7 1 0.1 4 0.4 4 0.4 4 0.4 2 0.2 2 0.7 4 1.3 3.4 1.1 0.6 -0.7 4 -4.5 4 -4.5 3.9 -4.3 0.1 0.1 4.1 3.1 2 1.5 2 -0.7 4 -1.5 4 -1.5 2.5 -0.9 1.5 1.1 4 3.0 4 3.0 3 2.3 1 0.1 4 0.5 4 0.5 3.5 0.4 0.5 -0.3 4 -2.7 4 -2.7 0.9 -0.6 3.1 1.2 4.1 1.5 4 1.5 1.3 0.5 2.7 3.0 4 4.5 4 4.5 1.8 2.0 2.2 1.1 4 2.0 4 2.0 2.3 1.1 1.7 -0.8 4 -2.0 3.7 -1.8 0.3 0 4 0.0 4 0 4 0 0.2 0 3.9 -2.0 4 -2.0 1.4 -0.7 2.6 -3.2 3.7 -4.6 0.3 0.2 4 2.4 3.5 2.1 0.5 0.5 4 4.0 1.8 1.7 2.2 -4.9 4 -9.0" stroke="#3b3b3b" stroke-width="2.4" fill="none" stroke-linejoin="round"/>
<path d="M624.7 3530.9l4 -4.0 2.2 -2.2 1.8 1.7 4.1 4.1 2 2.0 2 3.5 4 7.0 0.2 0.4 3.8 4.8 2.4 3.0 1.6 0.1 4.1 0 0.6 0 3.4 2.6 2.9 2.1 1.1 -1.6 4 -6.0 1.1 -1.7 2.9 2.4 4.1 3.4 2.4 2.0 1.6 1.1 4 2.7 3.8 2.5 0.2 0.0 4.1 0.7 4 0.7 1 0.2 3 2.0 4 2.7 2.4 1.6 1.6 1.1 4.1 2.7 3.7 2.5 0.3 0 4 0.0 4 0 1 0.0 3 2.5 4.1 3.4 2.3 1.9 1.7 -0.3 4 -0.7 3.7 -0.6 0.3 0.1 4.1 1.0 1.8 0.5 2.2 -2.7 4 -5.0 0.1 -0.1 3.9 -1.5 4 -1.6 4 -1.5 0.1 0.1 4 4.7 4 4.7 1.3 1.5 2.7 0.9 4 1.3 2.6 0.9 1.5 -1.7 4 -4.7 3.9 -4.6 0.1 -0.1 4 -4.0 4 -4.0 1.3 -1.3 2.8 -0.5 4 -0.7 2.5 -0.4 1.5 -0.7 4 -2.0 3.9 -1.9 0.2 -0.1 4 -2.0 4 -2.0 4 -2.0 0.3 -0.2 3.7 -3.2 4.1 -3.6 4 -3.5 0.7 -0.6 3.3 1.1 4 1.3 2.1 0.7 1.9 2.2 4.1 4.8 3.4 4.0 0.6 0.5 4 3.0 4 3.0 3.9 2.9 0.2 0.1 4 1.0 4 1.0 4 1.0 0.3 0.1 3.7 -0.5 4.1 -0.5 4 -0.5 0.7 -0.1 3.3 -2.2 4 -2.7 2 -1.3 2 -1.0 4.1 -2.1 3.3 -1.7 0.7 -0.5 4 -2.7" stroke="#e5322b" stroke-width="3.0" fill="none" stroke-linejoin="round"/>
<text x="325.0" y="3649.4" font-size="15" fill="#222" text-anchor="middle" font-weight="bold">INE原油仓单</text>
<path d="M267.3 3669.6h16" stroke="#e0302a" stroke-width="1.6"/>
<circle cx="275.3" cy="3669.6" r="4.6" fill="#e0302a"/>
<text x="288.8" y="3674.2" font-size="12" fill="#595959" textLength="93.5" lengthAdjust="spacingAndGlyphs">库存期货:INE原油</text>
<text x="197.9" y="3700.7" font-size="13" fill="#5e5e5e" text-anchor="end">50,000,000</text>
<text x="197.9" y="3733.7" font-size="13" fill="#5e5e5e" text-anchor="end">40,000,000</text>
<text x="197.9" y="3766.6" font-size="13" fill="#5e5e5e" text-anchor="end">30,000,000</text>
<text x="197.9" y="3799.6" font-size="13" fill="#5e5e5e" text-anchor="end">20,000,000</text>
<text x="197.9" y="3832.5" font-size="13" fill="#5e5e5e" text-anchor="end">10,000,000</text>
<text x="197.9" y="3865.5" font-size="13" fill="#5e5e5e" text-anchor="end">0</text>
<path d="M204.9 3729.1H511.3 M204.9 3762.0H511.3 M204.9 3795.0H511.3 M204.9 3827.9H511.3" stroke="#cfcfcf" stroke-width="1" stroke-dasharray="2 1" fill="none"/>
<rect x="204.9" y="3696.1" width="306.4" height="164.8" fill="none" stroke="#d4d4d4" stroke-width="1" stroke-dasharray="2 1"/>
<text x="206.0" y="3878.4" font-size="13" fill="#5e5e5e" text-anchor="middle">2018-03-30</text>
<text x="288.7" y="3878.4" font-size="13" fill="#5e5e5e" text-anchor="middle">2020-05-19</text>
<text x="372.5" y="3878.4" font-size="13" fill="#5e5e5e" text-anchor="middle">2022-06-29</text>
<text x="456.4" y="3878.4" font-size="13" fill="#5e5e5e" text-anchor="middle">2024-08-07</text>
<path d="M204.9 3860.9H511.3" stroke="#555" stroke-width="1.3"/>
<path d="M206.0 3860.9v4 M288.7 3860.9v4 M372.5 3860.9v4 M456.4 3860.9v4" stroke="#555" stroke-width="1"/>
<path d="M204.9 3860.8l1.5 0.1 1.5 -0.2 1.5 -0.1 1.5 0.3 1.5 0.0 1.2 0.0 0.3 0.0 1.5 0.0 1.5 -0.9 1.5 -1.0 1 -0.1 0.5 0.5 1.5 0.7 1.5 -0.3 1.5 1.0 0.7 -0.8 0.8 -1.2 1.5 -2.6 0.6 -2.6 0.9 0.5 1.5 -0.3 0.5 -0.9 1 -0.5 1.5 0.7 1.5 -0.2 1.6 -0.3 1.5 -0.1 1.5 0.2 1.5 1.4 1.5 -0.1 1.5 1.4 1.5 -1.7 1.5 -0.9 1.5 0.6 1.5 0.6 1.5 0.3 1.5 0.7 1 -1.8 0.5 0.5 1.5 1.5 1.5 0.0 1.5 0.2 0.8 -0.3 0.7 0.3 1.5 0.5 1.5 -0.4 1.5 -1.6 0.6 -1.4 0.9 0.4 1.5 -0.7 1.5 0.5 1.5 -2.4 0.4 -0.3 1.1 1.2 1.5 0.8 1.5 0.5 1.5 0.8 0.2 0.7 1.3 0.2 1.5 0.8 1.5 -2.0 1.5 -0.4 1.5 -1.6 1.3 1.5 0.2 -1.7 1.5 -8.0 1.2 -8.9 0.3 -4.0 1.5 -28.8 1.1 -24.2 0.4 -5.7 1.5 -24.5 1 -15.6 0.5 -2.5 1.5 -10.2 0.9 -6.7 0.6 1.4 1.5 1.2 1.5 3.0 0.4 -0.5 1.1 6.1 1.5 6.4 0.9 6.7 0.6 2.0 1.5 1.5 1.5 2.5 1.5 1.6 1.5 3.5 0.3 -0.2 1.2 5.4 1.5 5.9 1.5 6.0 1.5 6.8 0.1 0.5 1.4 3.5 1.5 4.1 1.6 6.4 1.3 3.6 0.2 0.1 1.5 2.1 1.5 6.1 1.5 2.3 1.1 2.6 0.4 0.7 1.5 -1.1 1 -0.6 0.5 3.7 1.2 10.3 0.3 0 1.5 -0.1 1.5 1.4 0.8 0.3 0.7 2.3 1.5 4.6 1.5 2.2 1.5 4.2 1.5 4.1 1.5 3.3 0.4 -0.4 1.1 1.6 1.5 0.2 1.5 0.7 1.5 0.7 1.5 -1.3 1.5 0.2 1.5 2.2 1.5 -0.4 1.5 -0.6 1.5 1.1 1.5 -0.1 1.5 -0.6 1.5 0.7 1.5 -0.8 1.4 0.8 0.1 -2.5 1.5 -1.2 0.7 -0.4 0.8 4.2 0.9 6.4 0.6 1.9 1.5 4.5 0.8 2.4 0.7 0 1.5 1.3 1.5 -0.3 1.5 -1.2 0.6 0.3 0.9 -1.4 1.5 -1.9 1.5 -2.7 1.5 -4.7 0.4 -0.7 1.1 -2.7 1.5 -4.4 1.5 -4.8 1.5 -3.8 0.2 -0.4 1.3 -0.2 1.5 1.8 1.5 1.6 1.5 1.3 1.5 -3.1 1.5 -4.7 1.5 -5.3 1.2 -4.0 0.3 1.1 1.5 0.1 1.6 4.0 1.5 1.8 0.9 2.3 0.6 -0.7 1.5 0.1 1.5 -2.3 1.5 -0.5 0.7 0.3 0.8 3.8 1.5 5.8 0.6 1.7 0.9 3.6 1.5 6.9 0.5 1.8 1 0.4 1.5 0.1 1.5 -2.5 1.5 0.1 0.3 -0.1 1.2 -0.1 1.5 -0.6 1.5 0.1 1.5 1.2 1.5 -0.3 1.5 -0.7 1.5 0.1 1.3 -0.1 0.2 1.2 1.5 -3.2 1.5 -4.1 1.5 -2.0 1.1 -3.3 0.4 0.7 1.5 0.3 1.5 -0.1 1.5 -0.8 0.9 -0.6 0.6 0.4 1.5 0.4 1.5 2.6 1.5 2.6 0.7 1.9 0.8 0.6 1.5 1.4 1.5 -0.8 1.5 2.9 0.4 -0.9 1.1 -2.6 1.5 -4.0 1.5 -3.8 1.5 -3.4 0.2 -0.3 1.3 2.2 1.5 2.0 1.5 3.0 1.5 4.1 1.5 -3.2 1.5 -3.3 1.5 -3.1 1.3 -2.2 0.2 1.7 1.5 8.3 1.2 6.3 0.3 1.1 1.5 -0.7 1.5 -0.8 1.5 -0.3 1.5 -0.3 1.5 -0.7 0.8 -1.4 0.7 1.6 1.6 -0.2 1.5 -0.1 1.5 -0.5 0.5 -0.7 1 1.0 1.5 2.1 1.5 0.3 1.5 0.2 0.3 0.5 1.2 0 1.5 0.8 1.5 -0.5 1.5 0.5 1.5 1.2 1.5 2.5" stroke="#e0302a" stroke-width="2.2" fill="none" stroke-linejoin="round"/>
<text x="758.5" y="3649.4" font-size="15" fill="#222" text-anchor="middle" font-weight="bold">美国天然气库存季节性</text>
<path d="M614.0 3669.6h16" stroke="#3cbde6" stroke-width="1.6"/>
<circle cx="622.0" cy="3669.6" r="4.6" fill="#3cbde6"/>
<text x="635.5" y="3674.2" font-size="12.4" fill="#595959">2016</text>
<path d="M673.8 3669.6h16" stroke="#a987d6" stroke-width="1.6"/>
<circle cx="681.8" cy="3669.6" r="4.6" fill="#a987d6"/>
<text x="695.3" y="3674.2" font-size="12.4" fill="#595959">2017</text>
<path d="M733.6 3669.6h16" stroke="#f4834f" stroke-width="1.6"/>
<circle cx="741.6" cy="3669.6" r="4.6" fill="#f4834f"/>
<text x="755.1" y="3674.2" font-size="12.4" fill="#595959">2018</text>
<path d="M793.4 3669.6h16" stroke="#5fae4a" stroke-width="1.6"/>
<circle cx="801.4" cy="3669.6" r="4.6" fill="#5fae4a"/>
<text x="814.9" y="3674.2" font-size="12.4" fill="#595959">2019</text>
<path d="M853.2 3669.6h16" stroke="#2f6fcf" stroke-width="1.6"/>
<circle cx="861.2" cy="3669.6" r="4.6" fill="#2f6fcf"/>
<text x="874.7" y="3674.2" font-size="12.4" fill="#595959">2020</text>
<path d="M614.0 3692.0h16" stroke="#f9b43a" stroke-width="1.6"/>
<circle cx="622.0" cy="3692.0" r="4.6" fill="#f9b43a"/>
<text x="635.5" y="3696.6" font-size="12.4" fill="#595959">2021</text>
<path d="M673.8 3692.0h16" stroke="#4f94d8" stroke-width="1.6"/>
<circle cx="681.8" cy="3692.0" r="4.6" fill="#4f94d8"/>
<text x="695.3" y="3696.6" font-size="12.4" fill="#595959">2022</text>
<path d="M733.6 3692.0h16" stroke="#dcd72e" stroke-width="1.6"/>
<circle cx="741.6" cy="3692.0" r="4.6" fill="#dcd72e"/>
<text x="755.1" y="3696.6" font-size="12.4" fill="#595959">2023</text>
<path d="M793.4 3692.0h16" stroke="#3b3b3b" stroke-width="1.6"/>
<circle cx="801.4" cy="3692.0" r="4.6" fill="#3b3b3b"/>
<text x="814.9" y="3696.6" font-size="12.4" fill="#595959">2024</text>
<path d="M853.2 3692.0h16" stroke="#e5322b" stroke-width="1.6"/>
<circle cx="861.2" cy="3692.0" r="4.6" fill="#e5322b"/>
<text x="874.7" y="3696.6" font-size="12.4" fill="#595959">2025</text>
<text x="603.0" y="3700.7" font-size="13" fill="#5e5e5e" text-anchor="end">4,500</text>
<text x="603.0" y="3724.2" font-size="13" fill="#5e5e5e" text-anchor="end">4,000</text>
<text x="603.0" y="3747.8" font-size="13" fill="#5e5e5e" text-anchor="end">3,500</text>
<text x="603.0" y="3771.3" font-size="13" fill="#5e5e5e" text-anchor="end">3,000</text>
<text x="603.0" y="3794.9" font-size="13" fill="#5e5e5e" text-anchor="end">2,500</text>
<text x="603.0" y="3818.4" font-size="13" fill="#5e5e5e" text-anchor="end">2,000</text>
<text x="603.0" y="3842.0" font-size="13" fill="#5e5e5e" text-anchor="end">1,500</text>
<text x="603.0" y="3865.5" font-size="13" fill="#5e5e5e" text-anchor="end">1,000</text>
<path d="M610.0 3719.6H946.6 M610.0 3743.2H946.6 M610.0 3766.7H946.6 M610.0 3790.3H946.6 M610.0 3813.8H946.6 M610.0 3837.4H946.6" stroke="#cfcfcf" stroke-width="1" stroke-dasharray="2 1" fill="none"/>
<rect x="610.0" y="3696.1" width="336.6" height="164.8" fill="none" stroke="#d4d4d4" stroke-width="1" stroke-dasharray="2 1"/>
<text x="610.0" y="3878.4" font-size="13" fill="#5e5e5e" text-anchor="middle">1月</text>
<text x="638.5" y="3878.4" font-size="13" fill="#5e5e5e" text-anchor="middle">2月</text>
<text x="667.0" y="3878.4" font-size="13" fill="#5e5e5e" text-anchor="middle">3月</text>
<text x="695.5" y="3878.4" font-size="13" fill="#5e5e5e" text-anchor="middle">4月</text>
<text x="724.0" y="3878.4" font-size="13" fill="#5e5e5e" text-anchor="middle">5月</text>
<text x="752.5" y="3878.4" font-size="13" fill="#5e5e5e" text-anchor="middle">6月</text>
<text x="781.0" y="3878.4" font-size="13" fill="#5e5e5e" text-anchor="middle">7月</text>
<text x="809.5" y="3878.4" font-size="13" fill="#5e5e5e" text-anchor="middle">8月</text>
<text x="838.0" y="3878.4" font-size="13" fill="#5e5e5e" text-anchor="middle">9月</text>
<text x="866.5" y="3878.4" font-size="13" fill="#5e5e5e" text-anchor="middle">10月</text>
<text x="895.0" y="3878.4" font-size="13" fill="#5e5e5e" text-anchor="middle">11月</text>
<text x="923.5" y="3878.4" font-size="13" fill="#5e5e5e" text-anchor="middle">12月</text>
<path d="M610.0 3860.9H946.6" stroke="#555" stroke-width="1.3"/>
<path d="M610.0 3860.9v4 M638.6 3860.9v4 M667.2 3860.9v4 M695.8 3860.9v4 M724.4 3860.9v4 M753.0 3860.9v4 M781.6 3860.9v4 M810.2 3860.9v4 M838.8 3860.9v4 M867.4 3860.9v4 M896.0 3860.9v4 M924.6 3860.9v4" stroke="#555" stroke-width="1"/>
<circle cx="610" cy="3750.9" r="5" fill="#f9b43a"/>
<circle cx="752.5" cy="3793.1" r="5" fill="#f9b43a"/>
<path d="M613.8 3777.6l3 4.0 3 4.0 3 4.0 0.3 0.4 2.7 2.7 3 3.0 3.1 3.1 0.6 0.6 2.4 2.8 3 3.5 3 3.5 1 1.2 2 2.3 3.1 3.6 3 3.5 1.2 1.4 1.8 1.5 3 2.5 3 2.5 1.6 1.3 1.5 1.2 3 2.5 3 2.5 1.9 1.6 1.1 0.4 3 1.0 3 1.0 2.3 0.8 0.8 0.2 3 0.7 3 0.7 3 0.8 2.7 0.7 0.3 0.0 3.1 0.5 3 0.5 2.9 0.5 0.1 0.0 3 1.0 3 1.0 3.1 1.0 0.2 0.0 2.8 -1.4 3 -1.5 3 -1.5 0.6 -0.3 2.4 -1.8 3.1 -2.3 3 -2.3 3 -2.3 1 -0.7 2 -1.5 3 -2.3 3 -2.2 3.1 -2.3 1.4 -1.1 1.6 -1.2 3 -2.2 3 -2.3 3 -2.3 1.9 -1.4 1.2 -0.5 3 -1.3 3 -1.2 3 -1.2 3 -1.3 1.8 -0.7 1.3 -0.5 3 -1.1 3 -1.1 3 -1.1 2.2 -0.8 0.8 -0.2 3 -0.8 3.1 -0.7 3 -0.8 2.6 -0.7 0.4 -0.1 3 -0.7 3 -0.8 3.1 -0.8 3 -0.7 3 -1.2 3 -1.1 3 -1.1 3.1 -1.1 0.4 -0.2 2.6 -1.0 3 -1.1 3 -1.1 3 -1.1 0.9 -0.3 2.2 -1.4 3 -1.9 3 -1.9 3 -1.9 1.3 -0.8 1.7 -1.0 3 -1.9 3.1 -1.9 3 -1.9 1.7 -1.1 1.3 -0.8 3 -1.9 3 -1.9 3.1 -1.9 2.1 -1.3 0.9 -0.3 3 -1.1 3 -1.1 3 -1.1 2.6 -1.0 0.5 -0.2 3 -1.1 3 -1.1 3 -1.1 3 -1.1 3 2.2 3.1 2.3 0.2 0.1 2.8 1.4 3 1.5 3 1.5 0.5 0.3 2.5 1.3 3.1 1.5 3 1.5 0.8 0.4 2.2 1.8 3 2.5 3 2.5 1.2 1.0 1.9 0.5 3 0.8 3 0.9 3 0.8" stroke="#f4834f" stroke-width="1.8" fill="none" stroke-linejoin="round"/>
<path d="M613.8 3783.8l3 2.0 3 2.0 3 2.0 0.3 0.2 2.7 2.7 3 3.0 3.1 3.1 0.6 0.6 2.4 3.6 3 4.5 3 4.5 1 1.5 2 2.3 3.1 3.6 3 3.5 1.2 1.4 1.8 2.1 3 3.5 3 3.5 1.6 1.9 1.5 2.3 3 4.5 3 4.5 1.9 2.9 1.1 0.6 3 1.5 3.1 1.5 2.2 1.1 0.8 0 3 0 3 0.0 2.6 0 0.4 -0.1 3.1 -1.0 3 -1.0 2.8 -0.9 0.2 -0.2 3 -2.5 3 -2.5 3.1 -2.6 0.1 -0.1 2.9 -2.2 3 -2.2 3 -2.3 3 -2.3 0.6 -0.4 2.5 -1.9 3 -2.3 3 -2.2 3 -2.3 1 -0.7 2 -1.5 3.1 -2.4 3 -2.2 3 -2.2 1.4 -1.0 1.6 -1.4 3 -2.6 3.1 -2.7 3 -2.6 1.8 -1.6 1.2 -0.5 3 -1.3 3 -1.2 3.1 -1.3 3 -1.2 1.7 -0.7 1.3 -0.8 3 -1.9 3 -1.9 3.1 -1.9 2.1 -1.3 0.9 -0.4 3 -1.5 3 -1.5 3 -1.5 2.6 -1.3 0.5 -0.2 3 -1.1 3 -1.1 3 -1.1 3 -1.1 3.1 -1.5 3 -1.5 3 -1.5 3 -1.5 0.4 -0.2 2.6 -1.3 3.1 -1.5 3 -1.5 3 -1.5 0.8 -0.4 2.2 -1.4 3 -1.9 3.1 -1.9 3 -1.9 1.2 -0.7 1.8 -1.4 3 -2.2 3 -2.3 3.1 -2.3 1.6 -1.2 1.4 -1.0 3 -2.3 3 -2.3 3 -2.2 2.1 -1.6 1 -0.5 3 -1.5 3 -1.5 3 -1.5 2.5 -1.3 0.5 -0.1 3.1 -0.8 3 -0.8 3 -0.7 2.9 -0.7 0.1 0.0 3 0.7 3.1 0.8 3 0.8 3 0.7 0.3 0.1 2.7 1.8 3 2.0 3.1 2.0 0.6 0.4 2.4 1.2 3 1.5 3 1.5 1 0.5 2 1.3 3.1 2.1 3 2.0 1.2 0.8 1.8 1.4 3 2.4 3 2.4" stroke="#5fae4a" stroke-width="1.8" fill="none" stroke-linejoin="round"/>
<path d="M613.8 3762.0l3 6.0 3 6.0 3 6.0 0.3 0.6 2.7 4.5 3 5.0 3 5.0 0.7 1.2 2.3 3.1 3 4.0 3 4.0 1.1 1.5 1.9 1.9 3 3.0 3 3.0 1.4 1.4 1.6 1.6 3 3.0 3 3.0 1.8 1.8 1.2 1.2 3 3.0 3.1 3.1 2.1 2.1 0.9 0.4 3 1.5 3 1.5 2.5 1.2 0.5 0.1 3 0.3 3 0.3 3 0.3 3 0.3 3 0.3 0.1 0 2.9 -0.7 3 -0.7 3 -0.8 3 -0.7 0.6 -0.2 2.4 -1.2 3 -1.5 3 -1.5 3 -1.5 1.1 -0.6 2 -1.2 3 -1.9 3 -1.9 3 -1.9 1.5 -0.9 1.5 -0.9 3 -1.9 3 -1.9 3 -1.9 2 -1.3 1 -0.8 3 -2.2 3 -2.2 3 -2.2 2.5 -1.9 0.5 -0.3 3 -1.6 3 -1.6 3 -1.6 3 -1.6 2.5 -1.3 0.6 -0.2 3 -0.8 3 -0.8 3 -0.7 2.9 -0.7 0.1 0.0 3 -0.8 3 -0.7 3 -0.8 3 -0.7 0.4 -0.1 2.6 -0.7 3 -0.7 3 -0.7 3 -0.7 0.9 -0.3 2.1 -0.8 3 -1.1 3 -1.1 3 -1.1 1.4 -0.5 1.6 -0.8 3.1 -1.5 3 -1.5 3 -1.5 1.8 -0.9 1.2 -0.7 3 -1.9 3 -1.9 3 -1.9 2.3 -1.4 0.7 -0.5 3 -2.3 3 -2.3 3 -2.2 2.8 -2.1 0.2 -0.2 3 -2.6 3 -2.6 3 -2.6 3 -2.6 0.3 -0.2 2.7 -1.4 3 -1.5 3.1 -1.5 3 -1.5 0.7 -0.4 2.3 -1.7 3 -2.3 3 -2.2 3 -2.3 1.2 -0.9 1.8 0.9 3 1.5 3 1.5 3 1.5 1.7 0.8 1.3 0.0 3 0.0 3 0.0 2.1 0.0 0.9 0.4 3 1.5 3 1.5 3 1.5 2.6 1.3 0.5 0.8 3 4.8 3 4.8 1.3 2.1 1.7 3.4 3 6.0" stroke="#4f94d8" stroke-width="1.8" fill="none" stroke-linejoin="round"/>
<path d="M610.0 3750.9l3 2.8 3.1 2.9 3 2.8 0.9 0.8 2.1 1.8 3 2.5 3.1 2.6 1.2 1.0 1.8 3.0 3 5.0 3 5.0 1.6 2.6 1.5 2.5 3 5.0 3 5.0 1.8 3.0 1.2 1.6 3.1 4.1 3 4.0 2.1 2.8 0.9 0.9 3 3.0 3.1 3.1 2.4 2.4 0.6 0.2 3 0.7 3.1 0.8 3 0.8 2.8 0.7 0.2 0.0 3 0.0 3.1 0.0 3 0 3 0 3 0.0 0.3 0 2.8 -1.4 3 -1.5 3 -1.5 3 -1.5 0.7 -0.3 2.4 -0.6 3 -0.7 3 -0.8 3.1 -0.8 1 -0.2 2 -1.0 3 -1.5 3 -1.5 3.1 -1.5 1.4 -0.7 1.6 -1.0 3 -1.9 3 -1.9 3.1 -1.9 1.8 -1.1 1.2 -0.7 3 -1.9 3 -1.9 3.1 -1.9 2.2 -1.4 0.8 -0.4 3 -1.5 3 -1.6 3.1 -1.6 3 -1.6 2.1 -1.1 0.9 -0.2 3.1 -0.8 3 -0.7 3 -0.8 2.5 -0.6 0.5 -0.1 3.1 -0.8 3 -0.8 3 -0.8 2.9 -0.7 0.1 0 3.1 -0.8 3 -0.8 3 -0.8 3 -0.7 0.3 -0.1 2.8 -0.7 3 -0.8 3 -0.8 3.1 -0.8 0.6 -0.2 2.4 -0.9 3 -1.1 3 -1.1 3.1 -1.2 1 -0.4 2 -1.2 3 -1.9 3 -1.9 3.1 -1.9 1.4 -0.9 1.6 -1.0 3 -1.9 3 -1.9 3.1 -1.9 1.8 -1.1 1.2 -0.6 3 -1.5 3 -1.5 3.1 -1.6 2.2 -1.1 0.8 -0.4 3 -1.5 3.1 -1.6 3 -1.5 2.6 -1.3 0.4 -0.2 3 -1.1 3.1 -1.2 3 -1.1 3 -1.1 3 0.4 3.1 0.4 3 0.4 3 0.4 0.4 0.0 2.6 1.3 3.1 1.5 3 1.5 0.7 0.3 2.3 0.8 3.1 1.0 3 1.0 1 0.3 2 1.0 3 1.5 3.1 1.5 1.2 0.6 1.8 1.8 3 3.0 3 3.0" stroke="#f9b43a" stroke-width="2.4" fill="none" stroke-linejoin="round"/>
<path d="M615.3 3771.2l3 2.4 3 2.4 1.8 1.5 1.2 1.2 3 3.0 3 3.0 2.2 2.2 0.8 0.8 3.1 3.1 3 3.0 2.5 2.5 0.5 0.5 3 3.0 3 3.0 2.8 2.8 0.2 0.2 3 2.0 3 2.0 3 2.0 0.2 0.1 2.8 0.5 3 0.5 3 0.5 0.6 0.1 2.4 1.2 3 1.5 3 1.5 3 1.5 1.1 0.5 1.9 0.5 3 0.8 3.1 0.8 3 0.7 1.5 0.4 1.5 -0.5 3 -1.1 3 -1.1 3 -1.1 2 -0.8 1 -0.5 3 -1.5 3 -1.5 3 -1.5 2.5 -1.3 0.5 -0.2 3 -1.5 3 -1.5 3 -1.5 3 -1.5 3 -2.2 3 -2.2 3.1 -2.3 3 -2.3 0.4 -0.3 2.6 -2.3 3 -2.6 3 -2.6 3 -2.6 0.9 -0.8 2.1 -1.6 3 -2.2 3 -2.2 3 -2.2 3 -2.2 0.9 -0.6 2.1 -0.8 3 -1.1 3 -1.1 3 -1.1 1.4 -0.6 1.6 -0.2 3 -0.3 3 -0.4 3.1 -0.4 1.8 -0.2 1.2 -0.3 3 -0.8 3 -0.8 3 -0.8 2.3 -0.6 0.7 -0.2 3 -1.1 3 -1.1 3 -1.1 2.8 -1.1 0.2 -0.1 3 -1.1 3 -1.1 3 -1.1 3 -1.1 0.3 -0.1 2.7 -1.3 3 -1.5 3 -1.5 3.1 -1.6 0.7 -0.4 2.3 -1.4 3 -1.9 3 -1.9 3 -1.9 1.2 -0.7 1.8 -0.9 3 -1.5 3 -1.5 3 -1.5 1.7 -0.9 1.3 -0.7 3 -1.5 3 -1.5 3 -1.5 2.2 -1.1 0.8 -0.1 3 -0.4 3 -0.4 3 -0.4 2.7 -0.3 0.3 0 3.1 0.0 3 0 3 0 3 0.0 0.1 0.0 2.9 1.9 3 2.0 3 2.0 0.5 0.3 2.5 1.7 3 2.0 3 2.0 0.9 0.6 2.1 1.4 3 2.0 3 2.0 1.2 0.8 1.8 1.1 3 1.8 3 1.8" stroke="#dcd72e" stroke-width="1.8" fill="none" stroke-linejoin="round"/>
<path d="M613.8 3765.1l3 3.0 3 3.0 3 3.0 0.3 0.3 2.7 2.3 3 2.5 3 2.5 0.7 0.6 2.3 1.9 3 2.5 3 2.5 1.1 0.9 1.9 0.6 3 1.0 3 1.0 1.4 0.5 1.6 0.5 3 1.0 3 1.0 1.8 0.6 1.2 0.4 3 1.0 3.1 1.0 2.1 0.7 0.9 0.9 3 3.0 3 3.0 2.5 2.5 0.5 0.2 3 1.0 3 1.0 2.9 0.9 0.1 0 3 -1.0 3 -1.0 3 -1.0 0.2 -0.1 2.8 -1.0 3 -1.2 3 -1.1 3 -1.1 0.7 -0.3 2.3 -1.1 3 -1.5 3 -1.5 3.1 -1.6 1.1 -0.5 1.9 -0.9 3 -1.5 3 -1.5 1.5 -0.7 1.5 -0.9 3 -1.9 3 -1.9 3 -1.9 2 -1.2 1 -0.6 3 -1.9 3 -1.9 3 -1.9 2.5 -1.6 0.5 -0.1 3 -0.9 3 -0.9 3 -0.9 3 -0.9 2.5 -0.8 0.6 -0.2 3 -1.1 3 -1.1 3 -1.1 2.9 -1.1 0.1 0.0 3 -0.4 3 -0.4 3 -0.4 3 -0.4 0.4 0 2.6 -0.7 3 -0.8 3 -0.7 3 -0.8 0.9 -0.2 2.1 -0.5 3 -0.8 3 -0.7 3 -0.7 1.4 -0.4 1.6 -0.6 3.1 -1.1 3 -1.1 3 -1.1 1.8 -0.7 1.2 -0.9 3 -2.2 3 -2.3 3 -2.3 2.3 -1.7 0.7 -0.4 3 -1.5 3 -1.5 3 -1.5 2.8 -1.4 0.2 -0.1 3 -1.5 3 -1.5 3 -1.5 3 -1.5 0.3 -0.1 2.7 -0.7 3 -0.8 3.1 -0.8 3 -0.7 0.7 -0.2 2.3 -0.3 3 -0.4 3 -0.4 3 -0.4 1.2 -0.1 1.8 0.2 3 0.4 3 0.4 3 0.4 1.7 0.2 1.3 0.4 3 1.0 3 1.0 2.1 0.7 0.9 0.6 3 2.0 3 2.0 2.5 1.7 0.5 0.5 3.1 3.1 3 3.0 2.7 2.7 0.3 0.4 3 4.5 3 4.5" stroke="#a987d6" stroke-width="1.8" fill="none" stroke-linejoin="round"/>
<path d="M610.6 3736.9l3 3.0 3 3.0 3 3.0 0.4 0.4 2.7 3.6 3 4.0 3 4.0 0.7 0.9 2.3 3.1 3 4.0 3 4.0 1.1 1.5 1.9 1.9 3 3.0 3 3.0 1.4 1.4 1.6 1.1 3 2.0 3 2.0 1.8 1.2 1.2 0.4 3 1.0 3 1.0 2.2 0.7 0.9 0.0 3 0.0 3 0.0 3 0 2.6 0.0 0.4 0.0 3 0.3 3 0.3 3 0.3 3 0.3 3 0.3 0.2 0.0 2.8 -0.4 3 -0.4 3 -0.4 3 -0.4 0.7 -0.1 2.3 -1.2 3.1 -1.6 3 -1.5 3 -1.5 1.1 -0.5 1.9 -0.7 3 -1.1 3 -1.1 3 -1.1 1.6 -0.6 1.4 -0.9 3 -1.9 3 -1.9 3 -1.9 2.1 -1.3 0.9 -0.5 3 -1.5 3 -1.5 3 -1.5 2.6 -1.3 0.5 -0.1 3 -0.9 3 -0.9 3 -0.9 3 -0.9 2.5 -0.8 0.5 -0.3 3 -1.5 3 -1.5 3 -1.5 3 -1.5 3 -0.4 3 -0.4 3 -0.4 3 -0.4 0.5 -0.1 2.6 -0.3 3 -0.3 3 -0.4 3 -0.4 0.9 -0.1 2.1 -0.5 3 -0.7 3 -0.8 3 -0.7 1.4 -0.3 1.6 -0.4 3 -0.7 3 -0.8 3 -0.7 1.9 -0.5 1.1 -0.6 3 -1.5 3 -1.5 3.1 -1.5 2.3 -1.2 0.7 -0.3 3 -1.5 3 -1.5 3 -1.5 2.8 -1.4 0.2 -0.1 3 -1.5 3 -1.5 3 -1.5 3 -1.5 0.3 -0.1 2.7 -1.4 3 -1.5 3 -1.5 3 -1.5 0.8 -0.4 2.2 -0.5 3.1 -0.8 3 -0.8 3 -0.8 1.2 -0.3 1.8 0.2 3 0.4 3 0.4 3 0.4 1.7 0.2 1.3 0.8 3 2.0 3 2.0 2.1 1.4 0.9 1.2 3 4.0 3 4.0 2.5 3.3 0.5 0.5 3 3.0 3.1 3.1 2.7 2.7 0.3 0.2 3 2.3 3 2.2" stroke="#3cbde6" stroke-width="2.2" fill="none" stroke-linejoin="round"/>
<path d="M612.2 3758.7l3 3.0 3 3.0 1.8 1.8 1.2 1.8 3.1 4.7 3 4.5 2.1 3.1 0.9 0.9 3 3.0 3 3.0 2.5 2.5 0.6 0.5 3 2.5 3 2.5 2.7 2.2 0.3 0.2 3 2.0 3.1 2.1 3 2.0 3 1.5 3 1.5 3 1.5 0.4 0.2 2.7 0.7 3 0.7 3 0.7 3 0.8 0.8 0.2 2.2 0.3 3.1 0.4 3 0.4 3 0.4 1.2 0.1 1.8 -0.9 3 -1.5 3.1 -1.5 1.4 -0.7 1.6 -0.8 3 -1.5 3 -1.5 3 -1.5 2 -1.0 1.1 -0.7 3 -1.9 3 -1.9 3 -1.9 2.3 -1.4 0.7 -0.5 3.1 -2.3 3 -2.3 3 -2.2 2.8 -2.1 0.2 -0.1 3 -1.9 3.1 -1.9 3 -1.9 3 -1.9 0.1 -0.1 2.9 -2.2 3 -2.3 0.4 -0.3 2.7 -1.4 3 -1.5 3 -1.6 3 -1.6 3 -1.6 0.3 -0.1 2.8 -1.4 3 -1.5 3 -1.5 3 -1.5 0.7 -0.4 2.3 -0.6 3.1 -0.8 3 -0.7 3 -0.7 1.1 -0.3 1.9 -0.7 3 -1.1 3.1 -1.2 3 -1.1 1.5 -0.6 1.5 -0.5 3 -1.1 3 -1.1 3.1 -1.2 1.9 -0.7 1.1 -0.4 3 -1.1 3 -1.1 3 -1.1 2.4 -0.9 0.7 -0.4 3 -1.9 3 -1.9 3 -1.9 2.8 -1.8 0.2 -0.1 3.1 -1.6 3 -1.5 3 -1.5 3 -1.5 0.2 -0.1 2.8 -1.0 3.1 -1.2 3 -1.1 3 -1.1 0.6 -0.2 2.4 -0.6 3 -0.8 3.1 -0.8 3 -0.7 1 -0.2 2 -0.2 3 -0.4 3 -0.4 3.1 -0.4 1.4 -0.2 1.6 0.2 3 0.4 3 0.4 3 0.4 1.9 0.2 1.2 0.6 3 1.5 3 1.5 2.2 1.1 0.8 1.1 3 4.0 3.1 4.1 2.5 3.3 0.5 0.5 3 3.0 3 3.0 2.8 2.8 0.2 0.2 3.1 3.1 3 3.0" stroke="#2f6fcf" stroke-width="2.2" fill="none" stroke-linejoin="round"/>
<path d="M612.2 3752.5l3 3.6 3 3.6 1.8 2.2 1.2 1.6 3.1 4.1 3 4.0 2.1 2.8 0.9 0.9 3 3.0 3 3.0 2.5 2.5 0.6 0.2 3 1.0 3 1.0 2.7 0.9 0.3 0.2 3 2.0 3.1 2.1 3 2.0 3 1.5 3 1.5 3 1.5 0.4 0.2 2.6 0 3.1 0 3 0 3 0.0 0.8 0.0 2.2 0.5 3 0.7 3.1 0.8 3 0.7 1.2 0.3 1.8 -0.3 3 -0.5 3 -0.5 1.5 -0.2 1.6 -1.0 3 -2.0 3 -2.0 1.8 -1.2 1.2 -0.8 3 -1.9 3 -1.9 3.1 -2.0 2.2 -1.3 0.8 -0.4 3 -1.5 3 -1.5 3 -1.5 2.7 -1.4 0.4 -0.3 3 -1.8 3 -1.9 3 -1.9 3 -1.9 0.1 -0.1 3 -1.5 3 -1.5 3 -1.5 0.4 -0.2 2.6 -1.1 3 -1.2 3.1 -1.3 3 -1.3 3 -1.3 0.3 -0.1 2.7 -1.0 3 -1.2 3 -1.1 3.1 -1.2 0.7 -0.2 2.3 -0.3 3 -0.4 3 -0.4 3 -0.4 1.2 -0.1 1.9 -0.2 3 -0.4 3 -0.4 3 -0.4 1.6 -0.2 1.4 -0.3 3.1 -0.8 3 -0.8 3 -0.8 2 -0.5 1 -0.3 3 -0.7 3 -0.7 3.1 -0.8 2.4 -0.6 0.6 -0.3 3 -1.5 3 -1.5 3 -1.5 2.9 -1.4 0.2 -0.1 3 -1.5 3 -1.5 3 -1.5 3 -1.5 0.3 -0.2 2.8 -1.7 3 -1.9 3 -1.9 3 -1.9 0.7 -0.4 2.3 -0.9 3.1 -1.2 3 -1.1 3 -1.1 1.1 -0.4 1.9 -0.2 3 -0.4 3 -0.4 3.1 -0.4 1.5 -0.2 1.5 0.0 3 0.0 3 0.0 3 0 2 0 1.1 0.3 3 0.7 2.1 0.5 0.9 1.3 3 4.5 2.4 3.6 0.6 0.6 3.1 3.1 3 3.0 2.7 2.7 0.3 0.2 3 2.0 3 2.0 3 2.0" stroke="#3b3b3b" stroke-width="2.4" fill="none" stroke-linejoin="round"/>
<path d="M613.8 3754.1l3 4.2 3 4.2 1.8 2.5 1.2 1.9 3 4.8 3 4.8 0.6 1.0 2.4 4.8 3 6.0 0.8 1.6 2.2 1.5 3 2.0 3 2.0 1.2 0.8 1.8 1.8 3 3.0 3 3.0 1.6 1.6 1.4 2.1 3 4.5 3 4.5 2 2.9 1 0.7 3 2.0 3 2.0 2.3 1.5 0.7 0.2 3 0.5 3 0.5 2.7 0.4 0.3 -0.1 3 -0.7 3 -0.7 3 -0.8 3 -0.8 0.2 0 2.8 -1.4 3 -1.5 3 -1.5 3 -1.5 0.7 -0.4 2.3 -1.7 3 -2.2 3 -2.3 3 -2.3 1.2 -0.9 1.8 -1.4 3 -2.3 3 -2.3 3 -2.2 1.7 -1.3 1.3 -1.0 3 -2.3 3 -2.3 3 -2.2 2.2 -1.6 0.8 -0.7 3 -2.6 3 -2.6 3 -2.6 2.7 -2.4 0.3 -0.2 3 -2.2 3 -2.2 3 -2.2 3 -2.2 2.7 -2.0 0.3 -0.1 3 -0.7 3 -0.8 3 -0.8 3 -0.7 0.2 -0.1 2.8 -0.7 3 -0.7 3 -0.8 3 -0.8 0.7 -0.2 2.3 -0.9 3 -1.1 3 -1.1 3 -1.1 1.2 -0.4 1.8 -0.5 3 -0.7 3 -0.8 3 -0.8 1.7 -0.4 1.3 -0.5 3 -1.1 3 -1.1 3 -1.1 2.2 -0.8 0.8 -0.4 3 -1.5 3 -1.5 3 -1.5 2.7 -1.3 0.3 -0.1 3 -1.5 3 -1.5 3 -1.5 3 -1.5 0.2 -0.1 2.8 -1.7 3 -1.9 3 -1.9 3 -1.9 0.7 -0.4 2.3 -1.2 3 -1.5 3 -1.5 3 -1.5 1.2 -0.6 1.8 -0.2 3 -0.4 3 -0.4 3 -0.4 1.7 -0.2 1.3 0 3 0 3 0.0 3 0 2.2 0.0 0.8 0.4 3 1.5 2.4 1.2 0.6 0.8 3 4.5 2.7 4.0 0.3 0.3 3 3.0 3 3.0" stroke="#e5322b" stroke-width="3.0" fill="none" stroke-linejoin="round"/>
<text x="325.0" y="3919.2" font-size="15" fill="#222" text-anchor="middle" font-weight="bold">天然气/原油比价</text>
<path d="M181.0 3939.4h16" stroke="#3cbde6" stroke-width="1.6"/>
<circle cx="189.0" cy="3939.4" r="4.6" fill="#3cbde6"/>
<text x="202.5" y="3944.0" font-size="12.4" fill="#595959">2016</text>
<path d="M240.8 3939.4h16" stroke="#a987d6" stroke-width="1.6"/>
<circle cx="248.8" cy="3939.4" r="4.6" fill="#a987d6"/>
<text x="262.3" y="3944.0" font-size="12.4" fill="#595959">2017</text>
<path d="M300.6 3939.4h16" stroke="#f4834f" stroke-width="1.6"/>
<circle cx="308.6" cy="3939.4" r="4.6" fill="#f4834f"/>
<text x="322.1" y="3944.0" font-size="12.4" fill="#595959">2018</text>
<path d="M360.4 3939.4h16" stroke="#5fae4a" stroke-width="1.6"/>
<circle cx="368.4" cy="3939.4" r="4.6" fill="#5fae4a"/>
<text x="381.9" y="3944.0" font-size="12.4" fill="#595959">2019</text>
<path d="M420.2 3939.4h16" stroke="#2f6fcf" stroke-width="1.6"/>
<circle cx="428.2" cy="3939.4" r="4.6" fill="#2f6fcf"/>
<text x="441.7" y="3944.0" font-size="12.4" fill="#595959">2020</text>
<path d="M181.0 3961.8h16" stroke="#f9b43a" stroke-width="1.6"/>
<circle cx="189.0" cy="3961.8" r="4.6" fill="#f9b43a"/>
<text x="202.5" y="3966.4" font-size="12.4" fill="#595959">2021</text>
<path d="M240.8 3961.8h16" stroke="#4f94d8" stroke-width="1.6"/>
<circle cx="248.8" cy="3961.8" r="4.6" fill="#4f94d8"/>
<text x="262.3" y="3966.4" font-size="12.4" fill="#595959">2022</text>
<path d="M300.6 3961.8h16" stroke="#dcd72e" stroke-width="1.6"/>
<circle cx="308.6" cy="3961.8" r="4.6" fill="#dcd72e"/>
<text x="322.1" y="3966.4" font-size="12.4" fill="#595959">2023</text>
<path d="M360.4 3961.8h16" stroke="#3b3b3b" stroke-width="1.6"/>
<circle cx="368.4" cy="3961.8" r="4.6" fill="#3b3b3b"/>
<text x="381.9" y="3966.4" font-size="12.4" fill="#595959">2024</text>
<path d="M420.2 3961.8h16" stroke="#e5322b" stroke-width="1.6"/>
<circle cx="428.2" cy="3961.8" r="4.6" fill="#e5322b"/>
<text x="441.7" y="3966.4" font-size="12.4" fill="#595959">2025</text>
<text x="161.4" y="3970.5" font-size="13" fill="#5e5e5e" text-anchor="end">0.12</text>
<text x="161.4" y="3998.0" font-size="13" fill="#5e5e5e" text-anchor="end">0.1</text>
<text x="161.4" y="4025.4" font-size="13" fill="#5e5e5e" text-anchor="end">0.08</text>
<text x="161.4" y="4052.9" font-size="13" fill="#5e5e5e" text-anchor="end">0.06</text>
<text x="161.4" y="4080.4" font-size="13" fill="#5e5e5e" text-anchor="end">0.04</text>
<text x="161.4" y="4107.8" font-size="13" fill="#5e5e5e" text-anchor="end">0.02</text>
<text x="161.4" y="4135.3" font-size="13" fill="#5e5e5e" text-anchor="end">0</text>
<path d="M168.4 3993.4H512.1 M168.4 4020.8H512.1 M168.4 4048.3H512.1 M168.4 4075.8H512.1 M168.4 4103.2H512.1" stroke="#cfcfcf" stroke-width="1" stroke-dasharray="2 1" fill="none"/>
<rect x="168.4" y="3965.9" width="343.7" height="164.8" fill="none" stroke="#d4d4d4" stroke-width="1" stroke-dasharray="2 1"/>
<text x="169.0" y="4148.2" font-size="13" fill="#5e5e5e" text-anchor="middle">1月</text>
<text x="198.0" y="4148.2" font-size="13" fill="#5e5e5e" text-anchor="middle">2月</text>
<text x="227.0" y="4148.2" font-size="13" fill="#5e5e5e" text-anchor="middle">3月</text>
<text x="256.0" y="4148.2" font-size="13" fill="#5e5e5e" text-anchor="middle">4月</text>
<text x="285.0" y="4148.2" font-size="13" fill="#5e5e5e" text-anchor="middle">5月</text>
<text x="314.0" y="4148.2" font-size="13" fill="#5e5e5e" text-anchor="middle">6月</text>
<text x="343.0" y="4148.2" font-size="13" fill="#5e5e5e" text-anchor="middle">7月</text>
<text x="372.0" y="4148.2" font-size="13" fill="#5e5e5e" text-anchor="middle">8月</text>
<text x="401.0" y="4148.2" font-size="13" fill="#5e5e5e" text-anchor="middle">9月</text>
<text x="430.0" y="4148.2" font-size="13" fill="#5e5e5e" text-anchor="middle">10月</text>
<text x="459.0" y="4148.2" font-size="13" fill="#5e5e5e" text-anchor="middle">11月</text>
<text x="488.0" y="4148.2" font-size="13" fill="#5e5e5e" text-anchor="middle">12月</text>
<path d="M168.4 4130.7H512.1" stroke="#555" stroke-width="1.3"/>
<path d="M169.0 4130.7v4 M198.0 4130.7v4 M227.0 4130.7v4 M256.0 4130.7v4 M285.0 4130.7v4 M314.0 4130.7v4 M343.0 4130.7v4 M372.0 4130.7v4 M401.0 4130.7v4 M430.0 4130.7v4 M459.0 4130.7v4 M488.0 4130.7v4" stroke="#555" stroke-width="1"/>
<path d="M172.7 4045.0l2.2 -9.1 2 -7.5 0.2 2.3 2.2 -2.9 2.2 3.9 1 0.5 1.2 -4.9 2.2 1.1 0.8 0.1 1.4 2.1 2.2 7.4 0.6 0.8 1.7 3.5 1.1 1.6 1.1 0.7 2.2 6.8 1 -1.1 1.2 0.4 2.2 -4.9 0.8 -2.3 1.4 -1.8 1.4 -4.0 0.8 -0.6 2.2 6.8 1.2 1.2 1 0.9 2.3 2.6 0.9 2.4 1.3 -0.2 2.2 6.1 2.2 0.8 2.2 -1.2 2.2 3.9 1.2 0.8 1 1.6 2.2 -1.5 2.2 3.2 2.3 0.5 0.7 -0.7 1.5 4.2 2.2 -3.8 2.2 -0.1 2.2 -1.3 0.4 2.2 1.8 -2.1 2.2 3.2 2.2 1.3 2.2 -1.2 2.3 -0.5 2.2 1.7 2.2 -1.8 1.7 -2.5 0.5 3.1 2.2 0.4 2.2 -1.0 2.2 5.6 1.4 -0.5 0.8 -2.0 2.2 -2.5 2.3 0.5 2.2 -0.2 0.9 2.6 1.3 0.4 2.2 -2.4 2.2 -3.0 2.2 -1.4 0.5 2.7 1.7 1.2 2.2 -1.6 2.2 -1.2 2.2 1.1 0.2 -1.0 2.1 0.1 2.2 0.3 2.2 -1.5 1.9 -2.7 0.3 2.7 2.2 -1.9 2.2 3.3 2.2 -3.4 1.5 -2.4 0.7 -0.6 2.2 1.4 2.3 -0.3 2.2 -3.0 1.1 1.6 1.1 -1.1 2.2 1.3 2.2 -1.2 2.2 0.9 0.7 4.3 1.5 -2.0 2.2 -2.0 2.2 -1.1 2.3 -1.1 0.3 0.1 1.9 0.8 2.2 -2.6 1.5 -4.3 0.7 -1.8 2.2 2.3 2.2 0.4 2.2 0.2 2.2 3.3 1.7 0.8 0.5 -2.7 2.3 -0.7 2.2 -3.3 2.2 0.5 2.2 0.1 1.9 -1.4 0.3 -2.7 2.2 -1.9 2.2 -5.3 0.9 0.9 1.3 1.7 2.2 2.8 2.1 1.1 0.2 -0.6 2.2 2.4 2.2 -0.1 2.2 1.5 2.2 4.4 2.2 1.9 0.1 -6.4 2.1 0.9 2.2 0.1 2.2 0.2 2.3 -1.1 2.2 -0.6 0.2 0.2 2 0 2.2 2.7 2.2 -3.8 2.2 0.7 2.2 -1.4 0.5 2.1 1.7 -2.7 2.2 -1.3 2.3 0.8 2.2 -0.4 2.2 -2.5 0.6 -0.9 1.6 0.4 2.2 -0.7 2.2 4.0 2.2 0.6 2.2 -1.2 0.9 -0.4 1.3 4.8 2.3 -0.3 2.2 2.7 2.2 -0.2 2.2 2.9 1 -1.8 1.2 -2.5 2.2 -0.1 2.2 1.2 2.2 -2.2 2.2 -2.9 1.3 -1.9 1 0.0 2.2 1.7 2.2 -0.5 2.2 -1.4 2.2 -0.4 1.4 -0.3 0.8 0.8 2.2 -0.9 2.2 1.8 2.2 0.0 2.3 1.1 1.6 -1.7 0.6 -0.7 2.2 -0.1 2.2 -0.3 2.2 0.8 2.2 3.4 1.8 3.1 0.4 -0.8 2.2 -1.5 2.2 -1.4 2.3 -0.5 2.2 -1.4 2 0.6 0.2 0.1 2.2 2.9 2.2 -2.6 2.2 -0.4 2.2 0.3 2.2 3.6" stroke="#3cbde6" stroke-width="1.8" fill="none" stroke-linejoin="round"/>
<path d="M171.2 4049.3l2.2 -0.7 2.2 -1.8 1.3 2.1 1 -1.7 2.2 -0.6 2.2 1.2 0.2 3.2 2 -0.8 2.2 1.2 1.4 2.9 0.8 -1.5 2.2 2.4 2.2 1.7 0.4 -3.0 1.8 0.6 2.2 0.6 2.2 0.5 2.2 -1.5 0.1 4.3 2.1 -0.7 2.2 -3.5 2.2 1.8 1.9 -1.7 0.3 -0.5 2.2 3.2 2.2 -0.9 2.2 -2.0 1.6 -0.8 0.6 0.1 2.2 -1.8 2.2 1.8 2.2 1.3 1.2 -0.8 1 -1.1 2.2 0.8 2.2 0.8 2.2 -5.0 0.8 1.0 1.4 -1.3 2.2 1.3 2.2 0.6 2.2 -4.3 0.5 0.6 1.7 1.4 2.2 -2.2 2.2 -0.6 2.2 -0.7 0.1 -2.4 2.1 1.7 2.2 -0.2 2.2 -0.5 1.9 -1.9 0.3 1.7 2.2 1.4 2.2 -3.7 2.2 1.8 1.6 0.1 0.6 -1.2 2.2 1.1 2.2 -4.5 2.2 0.1 1.2 -1.8 1 -1.0 2.2 0 2.2 1.7 2.2 -1.6 0.8 3.0 1.4 -1.5 2.2 2.0 2.2 0.2 2.2 0.3 0.5 0.7 1.7 -2.8 2.2 -0.9 2.2 6.0 2.2 -1.6 2.2 -1.3 0.7 0.8 1.5 2.5 2.2 -0.8 2.2 -0.5 2.2 0.1 2.2 0.4 1 1.4 1.2 -0.9 2.2 -1.6 2.2 0.1 2.2 -0.3 2.2 -1.6 1.2 4.6 1 0.7 2.2 -3.9 2.2 2.5 2.2 -2.3 2.2 2.2 1.5 -1.3 0.7 1.7 2.2 -0.9 2.2 1.2 2.2 0.2 2.2 -1.2 1.7 0.1 0.5 2.7 2.2 3.5 2.2 -5.2 2.2 0.5 2.2 2.8 2 1.6 0.2 -1.4 2.2 0.7 2.2 3.4 2.2 -1.1 2.2 -1.3 2.2 -0.5 2.2 -0.8 2.2 3.9 2.2 2.4 2.2 -2.0 2.2 1.8 0.3 -1.0 1.9 0.6 2.2 0.5 2.2 -5.4 2.2 2.4 2.2 -1.5 0.5 4.4 1.7 -2.2 2.2 0.9 2.2 -1.7 2.2 2.0 2.2 2.4 0.8 3.7 1.4 -3.2 2.2 -0.7 2.2 1.7 2.2 -6.1 2.2 2.7 1 1.4 1.2 -1.1 2.2 3.5 2.2 -1.8 2.2 0.5 2.2 0.4 1.3 -0.3 0.9 3.4 2.2 -0.8 2.2 -3.5 2.2 3.0 2.2 0.0 1.5 1.5 0.7 -1.3 2.2 0.1 2.2 3.8 2.2 1.5 2.2 1.1 1.8 -0.6 0.4 1.1 2.2 -2.9 2.2 0.6 2.2 -3.7 2.2 3.0 2 -3.1 0.2 3.8 2.2 -1.0 2.2 -1.1 2.2 -0.1 2.2 1.2 2.2 4.0 0.1 1.6 2.1 -0.1 2.2 -2.8 2.2 -0.8 2.2 -2.4 2.2 1.7 0.3 -0.7 1.9 1.3 2.2 0.3 2.2 1.8 2.2 -1.1 2.2 0.5 0.6 3.3 1.6 0.3 2.2 1.2 2.2 2.1 2.2 0.2 0.2 3.2 2 -3.9 2.2 -6.9" stroke="#a987d6" stroke-width="1.8" fill="none" stroke-linejoin="round"/>
<path d="M171.2 4068.6l2.2 -0.1 2.2 0.4 2.3 -0.5 2.2 3.0 2.2 1.4 0.2 -2.5 2 1.0 2.2 -0.5 2.2 0.6 2.2 2.3 2.2 3.2 0.4 -2.3 1.8 -0.8 2.2 0.2 2.2 -1.5 2.2 0.5 2.2 -1.8 0.7 -1.3 1.5 1.4 2.2 0.3 2.2 1.2 2.2 -1.1 2.2 2.7 0.9 -0.9 1.3 1.8 2.2 -1.5 2.2 -2.4 2.2 4.1 2.2 1.6 1.2 1.5 1 0 2.2 0.9 2.2 -3.7 2.2 0.7 2.2 -0.4 1.4 -2.4 0.8 0.6 2.2 1.2 2.2 1.0 2.2 -0.1 2.2 0.8 1.7 0.9 0.5 -3.2 2.2 2.2 2.2 -0.3 2.2 -0.4 2.2 0.1 1.9 -0.8 0.3 0.9 2.2 1.1 2.2 0 2.2 0.1 2.2 -0.9 2.2 -0.2 2.2 1.0 2.2 -1.4 2.2 3.2 2.2 -2.2 2.2 1.6 0.2 -2.7 2 0.4 2.2 -0.1 2.2 0 2.2 2.0 2.2 0.4 0.5 -3.1 1.7 1.4 2.2 1.6 2.2 -1.5 2.2 1.4 2.2 -0.4 0.7 0.4 1.5 -1.5 2.2 1.7 2.2 -0.1 2.2 -3.5 2.2 0.0 1 1.9 1.2 1.1 2.2 -2.3 2.2 0.3 2.2 -1.0 2.2 0.3 1.2 3.6 1 -2.0 2.2 1.9 2.2 -1.1 2.2 -1.9 2.2 1.6 1.5 -1.3 0.7 1.9 2.2 -1.0 2.2 0.0 2.2 2.7 2.2 0.4 2.2 2.4 2.2 -3.0 2.2 3.8 0.8 -2.4 1.4 0.0 2.2 1.8 2.2 -3.0 2.2 -0.8 2.2 1.4 2.2 -0.9 2.2 1.8 2.2 -2.5 2.2 2.7 2.2 1.4 2.2 -2.3 2.2 -0.6 2.2 -0.6 2.2 0.4 2.2 -1.5 1.5 -0.1 0.7 -2.6 2.2 3.1 2.2 1.0 2.2 0.7 2.2 -0.6 2.2 0 2.2 -0.2 2.2 2.0 0.8 -1.0 1.4 -2.2 2.2 0 2.2 0.5 2.2 0.2 2.2 0 2.2 -1.3 2.2 -1.9 2.2 -3.6 0.1 4.6 2.1 0.1 2.2 -2.2 2.2 0.2 2.2 1.3 2.2 -4.5 2.2 5.0 2.2 -2.8 1.5 2.6 0.7 1.0 2.2 -2.6 2.2 -1.6 2.2 -0.6 2.2 1.3 1.8 -2.2 0.4 -0.4 2.2 0.7 2.2 -5.6 2.2 -2.2 2.2 -1.6 2 -2.7 0.2 0.7 2.2 -3.6 2.2 1.1 2.2 0.2 2.2 -3.1 2.2 -2.6 0.1 -1.0 2.1 2.0 2.2 0.8 2.2 0.2 2.2 -1.9 2.2 -1.2 0.3 1.8 1.9 0.4 2.2 -3.2 2.2 -3.1 2.2 1.3 2.2 -3.0 0.6 -0.6 1.6 -3.0 2.2 -0.4 2.2 -3.3 2.2 -3.2 0.2 0.9 2 5.8 2.2 4.3" stroke="#f4834f" stroke-width="1.8" fill="none" stroke-linejoin="round"/>
<path d="M171.2 4058.1l2.3 -2.9 2.2 -2.3 1.2 2.6 1 -1.5 2.2 -4.8 1 -1.2 1.2 -0.6 2.2 7.6 0.8 1.4 1.4 4.5 2.2 3.2 2 2.4 0.2 0.8 2.2 1.7 2.2 -3.3 2.2 2.0 1.7 2.3 0.5 0 2.2 -0.9 2.2 2.2 2.2 0.8 1.3 -0.3 0.9 -1.3 2.3 2.4 2.2 0.2 2.2 1.2 0.8 -0.8 1.4 1.7 2.2 0.1 2.2 0.2 2.2 -0.3 2.2 -4.4 1.1 2.1 1.1 1.4 2.2 -1.1 2.2 -0.8 2.2 2.8 2.2 -1.0 1.3 0.1 0.9 1.5 2.2 -1.0 2.2 -1.4 2.2 -0.3 2.2 2.2 1.6 0.4 0.7 2.6 2.2 -2.2 2.2 1.7 2.2 -2.0 2.2 -2.6 1.7 2.2 0.5 3.4 2.2 -3.0 2.2 1.2 2.2 0.6 2.2 0.8 2 -0.1 0.2 1.0 2.2 -0.4 2.2 3.2 2.2 -2.0 2.2 -0.4 2.2 0.6 2.2 -0.9 2.3 -1.1 2.2 -0.3 2.2 1.7 2.2 -0.2 0.2 1.8 2 -0.1 2.2 -0.7 2.2 -2.5 2.2 1.0 2.2 -1.0 0.4 -1.3 1.8 -0.4 2.2 -0.2 2.2 1.0 2.2 -0.8 2.2 1.7 0.7 -0.6 1.5 -2.5 2.2 1.6 2.2 1.7 2.3 2.2 0.2 -2.6 2 1.5 2.2 3.9 2.2 -1.8 2.1 -1.2 0.1 1.5 2.2 -2.3 2.2 0.5 1.1 -0.2 1.1 3.1 2.2 -3.7 2.2 -0.6 2.2 0.8 2.2 -0.9 2.2 2.7 2.2 -3.7 2.2 0.4 0.4 -1.5 1.8 -1.5 2.2 -1.0 2.2 3.5 2.3 -1.1 2.2 1.6 2.2 -0.7 2.2 0.4 1.7 -2.7 0.5 4.5 2.2 -2.3 2.2 -1.6 2.2 -2.8 2.2 3.3 2.2 0.9 2.2 -1.7 2.2 -0.8 1 -0.8 1.2 -0.2 2.2 0.6 2.2 0.4 2.2 2.8 2.2 -3.5 2.3 -2.0 2.2 0.8 2.2 -2.7 0.2 0.0 2 1.7 2.2 1.0 2.2 1.2 2.2 -0.2 2.2 1.4 2.2 -0.3 2.2 1.6 1.7 -0.8 0.5 -0.8 2.2 -0.6 2.2 0.8 2.2 3.0 2.2 1.2 2.2 -1.9 2.2 1.1 2.3 -0.3 0.8 2.0 1.4 0.0 2.2 -1.3 2.2 -5.0 2.2 -0.1 2.2 -3.1 1.1 1.4 1.1 -3.9 2.2 -0.7 2.2 -0.7 2.2 2.3 2.2 3.2 1.3 -2.7 0.9 0.7 2.2 -2.1 2.2 -1.2 2.2 3.0 2.2 4.0 1.6 0.8 0.6 0.1 2.2 0.6 2.3 -3.6 2.2 -0.1 2.2 3.3 1.7 -2.4 0.5 4.2 2.2 1.5 2.2 2.3 2.2 0.9 2.2 -2.7 2 4.5 0.2 -2.4 2.2 -3.2 2.2 3.2 2.2 0.0 2.2 3.3 2.2 0.7" stroke="#5fae4a" stroke-width="1.8" fill="none" stroke-linejoin="round"/>
<path d="M169.8 4085.7l2.2 -0.2 2.3 -1.4 2.2 -1.2 0.4 -0.8 1.8 5.9 2.2 1.5 2.2 1.7 2.2 -2.0 2.2 -5.9 2.2 1.3 2.2 -2.5 1.8 0.2 0.4 0.7 2.2 -0.1 2.2 0.7 2.2 0.1 2.2 0.1 2.1 -0.5 0.1 -1.4 2.2 0.5 2.2 2.8 2.2 -3.7 2.2 1.3 2.2 -0.7 0.1 0.8 2.1 -2.8 2.2 0.9 2.3 0.0 2.2 1.4 2.2 -0.6 0.3 -1.6 1.9 -12.7 2.2 -7.3 1.5 -6.0 0.7 -3.1 2.2 -0.6 2.2 -4.2 0.5 1.0 1.7 -2.1 2.2 -3.7 1.8 -3.8 0.4 -0.5 2.2 -2.6 2.2 -2.6 0.8 0.6 1.4 -1.4 1.4 -2.7 0.8 4.7 2 16.4 0.2 1.6 2.2 13.2 0.4 0 1.8 -3.6 2.2 -6.5 1.6 0.2 0.6 -0.5 2.2 -5.2 2.2 -7.3 0.7 -2.7 1.5 -18.5 1.3 -16.8 1 5.0 1.8 8.2 0.4 -3.2 2.2 -4.3 0.2 -0.9 2 9.4 2.2 4.6 1.4 6.7 0.8 2.6 2.2 10.4 2.2 8.6 0.5 2.4 1.7 3.7 2.2 0.0 1.7 3.2 0.5 1.7 2.2 1.2 2.2 1.3 2.2 1.2 2.2 2.6 1.9 -1.5 0.3 -0.5 2.2 0.6 2.2 4.6 2.2 -0.3 2.2 0.8 2.2 0 2.2 1.1 2.3 -0.8 2.2 3.4 2.2 -0.3 2.2 1.0 0.1 -1.8 2.1 -1.7 2.2 1.7 2.2 -0.9 2.2 0.2 2.2 0.2 0.4 -1.6 1.8 2.3 2.2 -2.1 2.2 -0.9 2.2 4.0 2.2 -1.2 0.6 0.6 1.6 -0.9 2.2 -2.9 2.2 -0.1 2.2 -3.7 2.2 0.5 0.9 0 1.3 -0.4 2.2 0.4 2.2 -5.1 2.3 -2.2 2.2 -3.6 1 -1.7 1.2 1.7 2.2 -0.1 2.2 -1.4 2.2 -0.7 2.2 3.7 1.3 0.9 0.9 -2.1 2.2 -0.8 2.2 0.5 2.2 -5.0 2.2 -1.8 1.5 0.1 0.7 1.2 2.2 -1.6 2.2 0.1 2.2 -1.2 2.2 -0.7 1.8 3.9 0.4 -2.4 2.2 5.1 2.2 5.4 2.2 1.9 1.4 4.9 0.8 -1.4 2.3 -12.5 2.2 -11.3 0.4 -2.4 1.8 1.7 2.2 2.4 2.2 0.6 2.2 -1.4 2.2 -3.1 2.2 -1.1 1.2 -2.3 1 2.4 2.2 3.0 2.2 2.7 0.2 1.6 2 -2.3 2.2 -1.8 1.5 -2.1 0.7 -4.0 2.2 -10.5 2.2 -13.6 0.5 -2.1 1.7 7.8 2.2 7.0 1.7 5.7 0.5 -0.9 2.2 4.4 2.2 3.7 0.7 4.2 1.5 1.2 2.3 5.1 1.9 2.0 0.3 -3.4 2.2 -1.8 2.2 -3.6 0.9 0.0 1.3 0.9 2.2 1.4 2.1 0.3 0.1 1.7 2.2 -1.4 2.2 -1.3 2.2 -1.3 1.7 0.7 0.5 0.9 2.2 1.8 2.2 0.6 2.2 -2.0 1.4 0.8 0.8 -0.3 2.2 -2.8 2.2 1.6 2.2 0.6 1 -1.2 1.2 -2.9 2.2 2.7 2.2 0.9" stroke="#2f6fcf" stroke-width="1.8" fill="none" stroke-linejoin="round"/>
<path d="M171.2 4065.9l2.2 0.1 2.2 1.4 2.3 -2.3 2.2 3.3 2.2 -1.9 0.2 -1.8 2 -3.2 2.2 0.9 2.2 2.8 2.2 -0.3 2.2 0.7 0.4 0.2 1.8 -2.6 2.2 -6.7 0.3 5.1 1.9 -0.5 2.2 2.7 2.2 2.2 0.7 2.1 1.5 3.5 2.2 -1.8 2.2 -2.0 2.2 0.0 2.2 -0.5 0.9 1.6 1.3 2.5 2.2 3.1 2.2 -3.5 2.2 -1.3 2.2 0.1 1.2 -0.1 1 2.8 2.2 0.4 2.2 1.0 0.2 -1.7 2 1.2 2.2 1.9 2.2 -1.2 2.1 -4.4 0.1 0.8 2.2 0.1 2.2 -0.2 2.2 3.3 1.7 0 0.5 2.6 2.2 -5.9 2.2 2.0 2.2 1.5 2.2 -1.1 1.9 6.6 0.3 -4.9 2.2 -0.5 2.2 3.1 2.2 -1.4 2.2 -1.2 2.2 -0.4 2.2 0.3 2.2 -1.9 2.2 -1.3 2.2 -0.3 2.2 -2.1 0.2 -0.2 2 0.6 2.2 1.3 2.2 0.2 2.2 0.6 2.2 1.1 0.5 -3.2 1.7 2.4 2.2 -1.9 2.2 3.3 2.2 -1.0 2.2 -1.1 0.7 0.1 1.5 -1.8 2.2 1.8 2.2 -1.9 2.2 1.3 2.2 0.3 1 -1.0 1.2 0.3 2.2 0.3 2.2 1.0 2.2 -2.3 2.2 -0.6 1.2 -1.7 1 0.1 2.2 -3.8 2.2 2.1 2.2 -3.8 2.2 -2.9 1.5 -1.4 0.7 1.7 2.2 -4.2 2.2 -1.0 2.2 -2.3 2.2 0.4 1.7 1.4 0.5 1.3 2.2 -0.2 2.2 0.9 2.2 -0.5 2.2 1.4 2 -1.3 0.2 -0.5 2.2 -2.8 2.2 0.4 2.2 0.2 2.2 -1.7 2.2 -1.1 2.2 1.4 2.2 -2.3 2.2 2.5 2.2 0.5 2.2 0.2 0.3 2.0 1.9 -1.4 2.2 -0.2 2.2 -5.5 2.2 3.7 2.2 -1.8 0.5 -4.1 1.7 -0.4 2.2 -2.8 1.8 -3.5 0.4 -0.4 2.2 3.8 2.2 -1.6 2.2 0.6 1.4 0.2 0.8 0.8 2.2 -4.3 2.2 -3.5 0.4 3.2 1.8 -0.5 2.2 -1.6 2.2 -2.3 2.2 -4.6 0.1 1.9 2.1 2.6 2.2 0.2 2.2 -0.6 1.9 1.9 0.3 -0.8 2.2 6.7 2.2 1.5 0.9 1.4 1.3 3.0 2.2 -0.4 2.2 -0.2 2.2 0.9 0.6 3.0 1.6 -4.2 2.2 -9.2 1.8 -3.1 0.4 4.2 2.2 4.0 2.2 3.5 0.8 1.2 1.4 -2.9 2.2 -0.9 2.2 -1.9 2.2 -0.9 0.4 1.2 1.8 -1.0 2.2 -2.7 2.2 0.3 2.2 -0.2 0.1 -3.0 2.1 2.8 2.2 -0.7 1.3 5.6 0.9 1.1 2.2 9.8 2.2 6.1 0.3 -0.9 1.9 0.4 2.2 -0.4 2.2 4.9 2.2 -1.8 2.2 -0.9 2.2 -0.8 2.2 0.7 1.8 3.1 0.4 -1.5 2.2 0.9 2.2 2.7 2.2 2.7" stroke="#f9b43a" stroke-width="2.4" fill="none" stroke-linejoin="round"/>
<circle cx="207.0" cy="4071.1" r="5" fill="#f9b43a"/>
<circle cx="237.0" cy="4075.0" r="5" fill="#f9b43a"/>
<circle cx="300.0" cy="4071.4" r="5" fill="#f9b43a"/>
<circle cx="380.0" cy="4050.6" r="5" fill="#f9b43a"/>
<circle cx="455.0" cy="4040.0" r="5" fill="#f9b43a"/>
<path d="M171.2 4073.3l2.2 3.4 2.2 -3.9 2.3 3.4 2.2 -0.7 2.2 -3.0 0.2 1.6 2 -1.0 2.2 1.6 2.2 3.7 2 -1.3 0.2 -0.1 2.2 -2.0 2.2 -3.1 1.1 -2.3 1.1 -0.7 2.2 -0.9 2.2 -1.4 2.2 1.1 0.7 -2.3 1.5 -0.8 2.2 3.4 2.2 -0.4 2.2 -3.2 2.2 -3.9 0.9 0.2 1.3 3.5 2.2 2.1 2.2 2.4 2.2 4.7 2.2 -0.5 1.2 3.3 1 -4.1 2.2 -2.6 2.2 0.4 2.2 -1.6 0.8 0 1.4 -4.9 2.2 -1.8 2.2 2.9 2.2 2.6 0.5 -3.6 1.7 0.1 2.2 -1.6 2.2 -0.3 2.2 -2.7 0.1 -1.3 2.1 -0.4 2.2 -4.5 2.2 0.6 1.9 -7.1 0.3 3.1 2.2 -1.8 2.2 1.6 2.2 -3.4 1.6 -3.3 0.6 0.1 2.2 -2.3 2.2 3.3 2.2 -1.8 1.2 -1.6 1 -4.6 2.2 -4.0 2.2 -2.4 0.2 -2.4 2 5.6 2.2 1.6 1.5 5.3 0.7 -0.9 2.2 -3.7 2.2 -4.2 2.2 -4.9 1.1 -1.6 1.1 -2.9 2.2 4.7 2.2 0 2.2 -0.5 0.7 -1.3 1.5 0.2 2.2 0.7 2.2 4.1 2.2 3.0 0.4 2.0 1.8 -3.9 2.2 -4.4 1.6 -3.6 0.6 2.1 2.2 10.0 2.2 8.5 0.6 2.7 1.6 2.2 2.2 3.5 1.8 1.5 0.4 -4.2 2.2 0.7 2.2 2.4 2.2 -1.0 1.5 2.9 0.7 0.2 2.2 -4.0 2.2 -2.5 0.5 -1.5 1.7 -1.6 2.2 -2.1 1.7 0.0 0.5 -1.2 2.2 -5.5 2.2 -1.3 0.8 -3.5 1.4 -1.9 2.2 -10.7 2 -5.1 0.2 0.6 2.2 4.8 2.2 2.9 1 1.4 1.2 -3.2 2.2 -2.8 2.2 -3.8 2.2 -1.2 2.2 -1.1 1.3 -3.8 0.9 -3.8 1.9 -7.6 0.3 0.4 2.2 1.9 2.2 3.2 0.9 -1.1 1.3 0.1 2.2 1.2 2.1 2.1 0.1 0.1 2.2 -3.9 1.9 -6.1 0.3 0.1 2.2 7.9 1.8 7.7 0.4 -0.8 2.2 -5.6 2.2 1.4 2.2 -2.1 1.4 -2.9 0.8 5.6 2.2 7.5 2.2 5.7 0.4 0.7 1.8 -1.3 2.2 1.5 1.7 2.6 0.5 2.8 2.2 4.1 2.2 -1.3 0.7 -0.5 1.5 3.1 2.2 -1.0 1.9 6.3 0.3 -2.3 2.2 4.4 2.2 3.2 0.9 -0.5 1.3 0.5 2.2 5.6 2.1 -0.5 0.1 0.5 2.2 -3.8 2.2 -3.4 1.2 -2.3 1 2.9 2.2 -4.8 2.2 -2.2 0.2 2.0 2 2.3 2.2 2.4 1.4 5.6 0.8 -0.3 2.2 -6.7 2.2 -2.6 0.4 3.0 1.8 -6.8 2.2 -2.4 1.7 1.7 0.5 -1.2 2.2 -6.7 2.2 -5.4 0.7 -2.6 1.5 -2.1 2.2 3.2 1.9 0.1 0.3 1.9 2.2 7.0 2.2 8.2 0.9 -0.9 1.3 -6.1 2.2 -4.7 2.2 -6.4 2.2 6.4 2.2 1.0 1.2 1.9 1 3.9 2.2 3.9 2.2 2.9 0.2 2.1 2 8.9 2.2 11.4" stroke="#4f94d8" stroke-width="1.8" fill="none" stroke-linejoin="round"/>
<path d="M171.2 4055.7l2.3 6.4 2.2 4.5 2.2 1.9 1.8 4.4 0.4 -1.3 2.2 5.1 2.2 2.2 2.2 4.1 1.4 0.2 0.8 2.8 2.2 -1.0 2.2 -0.2 2.2 2.9 1.1 0.8 1.1 -1.3 2.2 -0.4 2.2 1.3 2.2 2.4 0.7 0.1 1.5 1.5 2.2 -2.3 2.3 -0.7 2.2 0.8 0.2 1.2 2 -0.6 2.2 3.5 2.2 -4.8 2.1 -2.0 0.1 1.0 2.2 -0.8 2.2 -1.8 2.2 0.6 2.2 -1.4 2.2 -1.9 0.1 -0.5 2.1 0.8 2.2 3.2 2.2 -1.4 2 -0.1 0.2 -0.2 2.2 0.6 2.2 2.0 2.2 0.6 1.6 -1.3 0.7 2.9 2.2 1.6 2.2 2.2 2.2 -1.3 1.1 1.6 1.1 2.7 2.2 -0.5 2.2 -1.6 2.2 0.6 0.8 1.5 1.4 -0.7 2.2 -1.5 2.2 0.6 2.2 -3.2 0.4 -0.6 1.8 -0.8 2.2 0.9 2.2 -1.2 2.2 -1.2 2.2 -2.3 2.3 0.3 2.2 1.7 2.2 -3.6 2.2 4.2 0.2 -2.5 2 0.5 2.2 -4.0 2.2 2.5 2.2 0.9 2.2 -0.1 0.4 -0.1 1.8 -2.5 2.2 4.3 1.7 3.3 0.5 -1.9 2.2 -1.1 2.2 -0.4 2.2 -0.9 1.3 1.0 0.9 -1.7 2.2 -1.9 2.3 -3.3 2.2 -0.4 0.8 -0.8 1.4 0.8 2.2 -0.4 2.2 1.9 2.2 2.0 2.2 -2.0 1.1 3.0 1.1 -1.3 2.2 2.2 2.2 -3.7 2.2 2.3 2.2 2.0 1.3 -4.2 0.9 -0.5 2.2 1.9 2.2 1.2 2.2 -1.2 2.2 1.2 1.6 2.2 0.6 0.7 2.3 -1.1 2.2 -1.1 2.2 -0.1 2.2 -0.4 1.7 3.1 0.5 -2.8 2.2 0.3 2.2 1.5 2.2 0.7 2.2 -1.6 2 1.4 0.2 0.8 2.2 3.3 2.2 -3.9 2.2 1.5 2.2 0.6 2.2 2.0 2.2 -2.3 2.2 2.2 2.3 -0.3 2.2 -0.1 2.2 1.2 0.2 0.7 2 -2.5 2.2 -0.6 2.2 1.6 2.2 -1.0 2.2 -2.3 0.4 -0.3 1.8 -1.0 2.2 -2.0 2.2 -1.6 2.2 -4.8 2.2 1.0 0.7 -1.1 1.5 0.8 2.2 -0.9 1.9 2.9 0.3 -1.7 2.2 2.6 2.3 -3.8 2.2 2.4 1.4 -0.2 0.8 -0.7 2.2 2.6 2.2 -4.4 2.2 1.3 1.1 -5.2 1.1 2.9 2.2 -3.9 2.2 1.2 2.2 2.0 2.2 1.5 1.3 -4.5 0.9 2.9 2.2 -0.4 2.2 3.1 2.2 -0.4 2.2 2.5 1.6 1.5 0.6 -0.8 2.2 1.0 2.3 -0.8 2.2 1.4 2.2 2.2 1.7 -3.3 0.5 -0.8 2.2 1.1 2.2 0.7 2.2 -1.8 2.2 1.7 2 0.3 0.2 -0.4 2.2 -1.4 2.2 2.9 2.2 -0.7 2.2 1.2 2.2 0.7" stroke="#dcd72e" stroke-width="1.8" fill="none" stroke-linejoin="round"/>
<path d="M169.8 4084.3l2.3 -1.6 2.2 -7.6 1.2 -1.5 1 3.1 2.2 -4.4 1 0.3 1.2 3.6 2.2 1.5 2.2 1.2 2.2 6.5 2.2 3.7 1.2 2.9 1 1.2 2.2 2.4 2.3 -2.9 0.2 0.3 2 -0.4 2.2 3.4 2.2 2.5 2 -2.1 0.2 1.3 2.2 4.4 2.2 -2.0 2.2 1.1 0.2 -1.3 2 1.9 2.2 0.5 2.3 -2.8 0.6 1.5 1.6 -0.6 2.2 2.6 2.2 -1.0 2.2 -0.4 0.2 0.6 2 -2.6 2.2 0.7 2.2 0.9 2 3.1 0.2 -1.6 2.2 0.7 2.3 -1.1 2.2 1.4 1.6 0 0.6 0.5 2.2 2.6 2.2 -3.4 2.2 -0.5 2.2 -0.1 1.8 -0.6 0.4 -1.8 2.2 -0.8 2.2 -1.7 2.2 2.3 2.3 0.6 2 0 0.2 1.0 2.2 1.0 2.2 -1.1 2.2 -0.7 1.6 -0.9 0.6 2.5 2.2 -1.6 2.2 -4.5 0.6 -2.0 1.6 2.5 2.2 -1.9 2.3 2.5 2.2 -3.3 0.2 -2.0 2 1.2 2.2 -3.8 2.2 -2.1 2 -0.4 0.2 0.5 2.2 -4.3 2.2 -0.5 2.2 -0.1 1.6 -0.7 0.6 0.9 2.3 0.7 2.2 -1.5 2.2 0.8 1.2 2.5 1 -2.7 2.2 -4.5 2.2 1.5 1.6 -1.6 0.6 -0.5 2.2 2.1 2.2 0.6 2 4.2 0.2 -0.3 2.2 1.4 2.3 -1.1 2.2 3.8 2.2 1.4 2.2 0 2.2 4.0 2.2 -1.5 2.2 0.9 2.2 2.6 2.2 -3.6 0.2 1.7 2 2.1 2.3 -1.6 2.2 1.0 2.2 0.1 2.2 -3.7 0.4 0.3 1.8 3.5 2.2 -1.2 2.2 -2.5 2.2 0.2 2.2 -4.0 0.6 4.4 1.6 -0.4 2.3 2.2 2.2 -1.2 2.2 -2.2 2.2 2.5 0.8 -1.3 1.4 0.1 2.2 0.5 2.2 1.2 2.2 3.3 0.4 -1.2 1.8 -2.3 2.2 -2.9 2.3 0.2 2.2 -2.9 2.2 -1.7 2.2 1.1 2.2 -1.3 2.2 2.8 2.2 -1.6 0.2 -0.9 2 -2.0 2.2 -1.6 2.2 1.0 2.2 -4.7 2.3 -3.0 0.4 0.2 1.8 1.2 2.2 1.9 2.2 -1.1 2.2 -1.0 2.2 0.3 0.6 0.8 1.6 2.0 2.2 3.8 2.2 -1.4 2.2 3.6 0.2 0.6 2.1 -3.3 2.2 -1.6 2.2 -3.5 2 -1.8 0.2 -1.0 2.2 1.5 2.2 0 2.2 1.4 1.6 0.7 0.6 -0.1 2.2 -1.0 2.2 -2.7 2.3 -2.2 1.2 -1.3 1 -1.6 2.2 1.7 2.2 -2.2 2.2 0.9 0.8 -0.5 1.4 0.3 2.2 -0.1 2.2 -0.4 2.2 1.5 0.4 -0.5 1.8 -0.8 2.2 -4.3 2.3 -1.5 2.2 -0.7 2.2 -3.3 2.2 -1.8 2.2 0 0.4 -1.7 1.8 3.2 2.2 3.9 0.2 -1.0 2 -2.1 2.2 -2.6" stroke="#3b3b3b" stroke-width="2.4" fill="none" stroke-linejoin="round"/>
<path d="M169.8 4065.2l2.3 2.6 2.2 -0.4 2.2 0.7 0.4 0.2 1.8 -3.4 2.2 -0.6 1.6 -0.2 0.6 0.4 2.2 1.3 2.2 -1.2 0.6 0.2 1.6 1.2 2.2 2.0 1.8 -0.8 0.4 1.1 2.3 5.1 0.2 -1.6 2 -0.4 2.2 0.8 1.4 -3.4 0.8 1.4 2.2 -3.6 2.2 -0.8 0.4 -1.6 1.8 -1.1 2.2 -3.8 1.6 -5.4 0.6 1.1 2.2 -2.5 2.3 1.1 2.2 -0.2 1.2 0.7 1 -0.8 2.2 -2.4 2.2 -2.2 0.2 -2.0 2 0.9 2.2 -4.0 1.4 -4.0 0.8 3.8 2.2 4.1 2.2 1.1 0.4 0.7 1.9 -2.8 2.2 0.4 1.6 2.4 0.6 2.9 2.2 1.6 2.2 1.3 0.6 0.6 1.6 -1.2 2.2 -1.6 1.8 -3.4 0.4 2.4 2.2 -0.5 2.2 1.4 0.8 2.3 1.4 -0.1 2.3 3.2 2 0.8 0.2 2.7 2.2 1.1 2.2 3.1 1 1.2 1.2 -1.8 2.2 1.7 2.2 -0.8 2.2 -6.4 2.2 -3.9 1.2 -1.6 1 -3.3 2.3 -1.3 2.2 -0.8 0.2 1.5 2 1.4 2.2 2.1 1.4 2.1 0.8 -0.3 2.2 1.5 2.2 4.3 0.4 0.5 1.8 -2.5 2.2 -4.5 1.6 0.4 0.6 1.1 2.3 -2.8 2.2 -1.2 0.6 -2.5 1.6 2.9 2.2 -0.2 1.8 2.7 0.4 -2.1 2.2 0.7 2.2 2.6 0.8 -1.4 1.4 -0.3 2.2 -0.1 2 -1.8 0.2 1.2 2.2 0.4 2.3 0.5 1 0.9 1.2 1.8 2.2 0.7 2.2 2.6 2.2 -0.3 2.2 1.1 1.2 2.2 1 1.2 2.2 -2.9 2.2 -2.1 2.2 0.1 0.9 2.5 1.4 0.2 2.2 1.4 2.2 -0.6 2.2 2.6 0.4 4.2 1.8 0 2.2 -0.3 2.2 1.0 2.2 1.6 2.2 1.6 2.2 -3.4 2.3 -0.5 1.8 -3.6 0.4 3.4 2.2 1.9 2.2 2.0 2.2 0 1.4 -0.3 0.8 -0.8 2.2 0.5 2.2 -1.6 2.2 0.8 1 1.8 1.2 -1.9 2.3 -1.4 2.2 -2.0 2.2 -3.2 0.6 1.4 1.6 -4.8 2.2 1.5 2.2 -0.5 2.2 -1.8 0.2 2.8 2 -2.2 2.2 -0.1 2.2 -1.6 2.1 0.0 0.1 -0.3 2.3 -3.7 2.2 0.1 1 1.5 1.2 -0.7 2.2 -0.7 2.2 0.7 2.2 -1.0 0.6 -0.9 1.6 1.2 2.2 -0.1 2.2 -1.2 2.2 -0.2 0.2 -0.9 2.1 -1.2 2.2 -2.2 1.4 -2.9 0.8 -1.4 2.2 -4.2 2.2 -6.8 0.4 2.2 1.8 -2.5 2.2 -2.9 2.2 -2.9 2.2 -0.4 2.2 -2.3 2.3 -0.4 2.2 -0.1 1.8 0.0 0.4 -0.5 2.2 0.7 2.2 -1.3 0.8 -1.2 1.4 -1.0 2.2 0.3 2 -1.5 0.2 -2.6 2.2 -2.1 1.8 -0.5 0.4 1.8 2.2 4.8 1.7 2.7 0.6 0.4 2.2 2.9 2.2 6.6 0.6 4.3 1.6 -2.2 2.2 -3.3 1.8 -0.4 0.4 -0.8 2.2 3.2 2.2 2.8 2.2 1.1" stroke="#e5322b" stroke-width="3.0" fill="none" stroke-linejoin="round"/>
<text x="758.5" y="3919.2" font-size="15" fill="#222" text-anchor="middle" font-weight="bold">丙烷/原油比价</text>
<path d="M614.0 3939.4h16" stroke="#3cbde6" stroke-width="1.6"/>
<circle cx="622.0" cy="3939.4" r="4.6" fill="#3cbde6"/>
<text x="635.5" y="3944.0" font-size="12.4" fill="#595959">2016</text>
<path d="M673.8 3939.4h16" stroke="#a987d6" stroke-width="1.6"/>
<circle cx="681.8" cy="3939.4" r="4.6" fill="#a987d6"/>
<text x="695.3" y="3944.0" font-size="12.4" fill="#595959">2017</text>
<path d="M733.6 3939.4h16" stroke="#f4834f" stroke-width="1.6"/>
<circle cx="741.6" cy="3939.4" r="4.6" fill="#f4834f"/>
<text x="755.1" y="3944.0" font-size="12.4" fill="#595959">2018</text>
<path d="M793.4 3939.4h16" stroke="#5fae4a" stroke-width="1.6"/>
<circle cx="801.4" cy="3939.4" r="4.6" fill="#5fae4a"/>
<text x="814.9" y="3944.0" font-size="12.4" fill="#595959">2019</text>
<path d="M853.2 3939.4h16" stroke="#2f6fcf" stroke-width="1.6"/>
<circle cx="861.2" cy="3939.4" r="4.6" fill="#2f6fcf"/>
<text x="874.7" y="3944.0" font-size="12.4" fill="#595959">2020</text>
<path d="M614.0 3961.8h16" stroke="#f9b43a" stroke-width="1.6"/>
<circle cx="622.0" cy="3961.8" r="4.6" fill="#f9b43a"/>
<text x="635.5" y="3966.4" font-size="12.4" fill="#595959">2021</text>
<path d="M673.8 3961.8h16" stroke="#4f94d8" stroke-width="1.6"/>
<circle cx="681.8" cy="3961.8" r="4.6" fill="#4f94d8"/>
<text x="695.3" y="3966.4" font-size="12.4" fill="#595959">2022</text>
<path d="M733.6 3961.8h16" stroke="#dcd72e" stroke-width="1.6"/>
<circle cx="741.6" cy="3961.8" r="4.6" fill="#dcd72e"/>
<text x="755.1" y="3966.4" font-size="12.4" fill="#595959">2023</text>
<path d="M793.4 3961.8h16" stroke="#3b3b3b" stroke-width="1.6"/>
<circle cx="801.4" cy="3961.8" r="4.6" fill="#3b3b3b"/>
<text x="814.9" y="3966.4" font-size="12.4" fill="#595959">2024</text>
<path d="M853.2 3961.8h16" stroke="#e5322b" stroke-width="1.6"/>
<circle cx="861.2" cy="3961.8" r="4.6" fill="#e5322b"/>
<text x="874.7" y="3966.4" font-size="12.4" fill="#595959">2025</text>
<text x="589.2" y="3970.5" font-size="13" fill="#5e5e5e" text-anchor="end">2.4</text>
<text x="589.2" y="3998.0" font-size="13" fill="#5e5e5e" text-anchor="end">2.1</text>
<text x="589.2" y="4025.4" font-size="13" fill="#5e5e5e" text-anchor="end">1.8</text>
<text x="589.2" y="4052.9" font-size="13" fill="#5e5e5e" text-anchor="end">1.5</text>
<text x="589.2" y="4080.4" font-size="13" fill="#5e5e5e" text-anchor="end">1.2</text>
<text x="589.2" y="4107.8" font-size="13" fill="#5e5e5e" text-anchor="end">0.9</text>
<text x="589.2" y="4135.3" font-size="13" fill="#5e5e5e" text-anchor="end">0.6</text>
<path d="M596.2 3993.4H946.6 M596.2 4020.8H946.6 M596.2 4048.3H946.6 M596.2 4075.8H946.6 M596.2 4103.2H946.6" stroke="#cfcfcf" stroke-width="1" stroke-dasharray="2 1" fill="none"/>
<rect x="596.2" y="3965.9" width="350.4" height="164.8" fill="none" stroke="#d4d4d4" stroke-width="1" stroke-dasharray="2 1"/>
<text x="596.2" y="4148.2" font-size="13" fill="#5e5e5e" text-anchor="middle">1月</text>
<text x="625.9" y="4148.2" font-size="13" fill="#5e5e5e" text-anchor="middle">2月</text>
<text x="655.6" y="4148.2" font-size="13" fill="#5e5e5e" text-anchor="middle">3月</text>
<text x="685.3" y="4148.2" font-size="13" fill="#5e5e5e" text-anchor="middle">4月</text>
<text x="715.0" y="4148.2" font-size="13" fill="#5e5e5e" text-anchor="middle">5月</text>
<text x="744.7" y="4148.2" font-size="13" fill="#5e5e5e" text-anchor="middle">6月</text>
<text x="774.4" y="4148.2" font-size="13" fill="#5e5e5e" text-anchor="middle">7月</text>
<text x="804.1" y="4148.2" font-size="13" fill="#5e5e5e" text-anchor="middle">8月</text>
<text x="833.8" y="4148.2" font-size="13" fill="#5e5e5e" text-anchor="middle">9月</text>
<text x="863.5" y="4148.2" font-size="13" fill="#5e5e5e" text-anchor="middle">10月</text>
<text x="893.2" y="4148.2" font-size="13" fill="#5e5e5e" text-anchor="middle">11月</text>
<text x="922.9" y="4148.2" font-size="13" fill="#5e5e5e" text-anchor="middle">12月</text>
<path d="M596.2 4130.7H946.6" stroke="#555" stroke-width="1.3"/>
<path d="M596.2 4130.7v4 M625.9 4130.7v4 M655.6 4130.7v4 M685.3 4130.7v4 M715.0 4130.7v4 M744.7 4130.7v4 M774.4 4130.7v4 M804.1 4130.7v4 M833.8 4130.7v4 M863.5 4130.7v4 M893.2 4130.7v4 M922.9 4130.7v4" stroke="#555" stroke-width="1"/>
<path d="M599.1 4055.3l2.2 1.0 2.2 -4.5 1.2 0.7 1 2.0 2.2 -1.3 2.2 4.1 0.2 3.2 2 -4.1 2.2 -2.5 1.4 -1.1 0.8 -3.1 2 -5.1 0.2 0.2 2.2 14.7 0.5 2.4 1.7 1.6 2.2 3.3 1.7 1.2 0.5 -2.2 2.2 -4.9 2.2 -8.5 0.7 -1.6 1.5 3.3 1.3 0.7 0.9 4.7 2.2 1.2 2.2 -0.3 0.3 2.3 1.9 -0.1 2.2 1.8 2.2 5.1 2.2 -0.6 2.2 1.3 2.2 3.0 2.2 1.9 1.8 -0.1 0.4 0.5 2.3 -0.1 2.2 1.3 2.2 -1.8 1.4 3.0 0.8 0.9 2.2 -0.5 2.2 0.6 2.2 0.5 1 1.1 1.2 0.7 2.2 1.3 2.2 0.9 2.2 -0.6 0.6 0.7 1.6 0.8 2.2 0.9 2.2 1.2 2.2 0 0.3 0.6 1.9 0.8 2.2 0.9 2.2 -0.7 2.2 0.9 2.2 -0.1 0.5 1.1 1.7 -1.9 2.2 2.1 2.2 -2.0 2.2 1.2 2.2 -0.8 0.8 1.9 1.4 -0.2 2.2 -0.9 2.2 3.6 2.2 -0.2 2.2 0.6 1 -2.0 1.3 0.7 2.2 0.9 2.2 -1.6 2.2 2.8 2.2 1.4 1.2 -0.1 1 0.5 2.2 -0.8 2.2 2.3 2.2 -0.9 2.2 1.2 1.4 1.3 0.8 2.9 2.2 -0.8 2.2 1.1 2.2 0.8 2.2 -2.5 1.7 3.2 0.5 -0.2 2.2 -3.3 2.2 -0.6 0.7 -0.1 1.5 0.2 2.2 1.3 2.2 -0.1 2.2 -0.7 2.2 4.1 0.9 0.1 1.3 0.6 2.2 0.6 2.2 2.8 2.2 -2.7 2.2 -0.1 1.2 2.2 1 -0.5 2.2 -0.2 2.3 -0.1 2.2 -1.8 2.2 -0.7 1.3 3.2 0.9 -1.3 2.2 0.4 2.2 1.0 2.2 2.0 2.2 1.2 1.6 -0.6 0.6 0.6 2.2 -2.8 2.2 0.0 2.2 -0.4 2.2 -1.4 1.8 0.7 0.4 1.4 2.2 -1.6 2.2 -0.8 2.2 -2.5 2.2 -2.1 2.1 -1.6 0.1 2.0 2.2 -0.1 2.2 -0.6 2.2 0 2.2 -1.1 2.2 -2.0 0.1 -2.2 2.1 1.9 2.2 -0.8 2.2 -0.9 2.2 -2.6 2.2 0.0 0.4 4.1 1.8 -1.4 2.2 -1.0 2.3 -3.4 2.2 0.1 2.2 0.5 0.5 -1.5 1.7 0.2 2.2 -0.4 2.2 3.9 2.2 -3.2 2.2 1.0 0.8 0.2 1.4 0.9 2.2 -1.1 2.2 -4.0 2.2 4.4 2.2 -3.1 1 -1.0 1.2 2.1 2.2 -1.3 2.2 2.1 2.2 -0.5 2.2 -1.5 1.3 -0.1 0.9 -1.6 2.2 1.1 2.2 -0.1 2.2 -2.4 2.2 0.9 1.5 -0.4 0.7 -0.5 2.2 1.8 2.2 -0.8 2.2 0.6 2.2 0.9 1.8 0.4 0.4 4.0 2.2 -0.5 2.3 0.3 2.2 1.2 2.2 -2.1 1.9 1.3 0.3 -2.5 2.2 4.7 2.2 -0.5 2.2 0.4 2.2 0.7 2.2 -2.4" stroke="#3cbde6" stroke-width="1.8" fill="none" stroke-linejoin="round"/>
<path d="M599.1 4065.8l2.2 0.8 2.2 3.3 2.2 0.3 1.8 1.5 0.4 -2.2 2.2 -3.1 2.2 -0.6 0.8 -0.6 1.4 1.3 2.2 3.5 2 3.2 0.2 -0.7 2.2 -0.3 2.2 1.6 2.2 -1.4 1.7 -0.5 0.5 -0.7 2.2 -2.0 2.2 3.2 2.2 -2.7 1.3 0.2 0.9 -0.1 2.2 -0.4 2.2 1.8 2.2 2.9 1 0.7 1.2 1.1 2.2 0.2 2.2 0 2.2 2.3 0.6 3.1 1.6 -3.4 2.2 1.3 2.2 -3.1 2.3 -1.8 0.1 0.5 2.1 0.7 2.2 -0.2 2.2 3.8 2 1.6 0.2 -2.0 2.2 -1.7 2.2 4.5 2.2 -2.8 1.6 -0.4 0.6 2.6 2.2 -0.7 2.2 0.9 2.2 3.0 1.2 -0.1 1 -1.3 2.2 0.5 2.2 -2.0 2.2 0.3 2.2 3.3 1.5 1.7 0.7 -0.4 2.2 0.4 2.2 -1.4 2.2 -1.2 2.2 3.6 1.7 -1.1 0.5 1.4 2.2 0.2 2.2 0.7 2.2 0.6 2.2 0.3 2 -0.3 0.2 -0.4 2.2 1.7 2.2 -0.2 2.3 0.7 2.2 0.9 2.1 1.2 0.1 -3.4 2.2 1.4 2.2 1.1 2.2 1.8 2.2 -0.3 2.2 -2.2 0.2 1.8 2 1.8 2.2 -1.9 2.2 -0.9 2.2 -0.4 2.2 0.6 0.4 -1.6 1.8 1.3 2.2 1.5 2.2 -2.3 2.2 -3.1 2.2 1.1 0.7 -5.3 1.5 -0.7 2.2 2.3 2.2 -2.2 2.2 -1.3 2.2 -0.8 0.9 2.3 1.3 -3.7 2.2 0.1 2.2 -1.3 2.2 0.1 2.2 0.9 1.2 -0.5 1 1.4 2.2 -2.2 2.3 -2.9 2.2 2.6 2.2 -1.1 1.3 -2.3 0.9 -2.3 2.2 -1.1 2.2 -0.6 2.2 2.1 2.2 1.4 1.6 -0.1 0.6 -0.1 2.2 -1.8 2.2 -0.2 2.2 -2.3 2.2 0.6 1.8 -1.5 0.4 -1.6 2.2 -2.2 2.2 2.1 2.2 -3.5 2.2 1.0 2.1 -0.9 0.1 -0.7 2.2 1.1 2.2 -0.6 2.2 -0.6 2.2 -2.6 2.2 1.0 0.1 0.5 2.1 0.4 2.2 -1.8 2.2 0.3 2.2 -3.6 2.2 0.5 0.4 2.6 1.8 -0.4 2.2 -1.2 2.3 -0.3 2.2 1.1 2.2 0.0 0.5 -1.1 1.7 -0.5 2.2 -1.5 2.2 1.7 2.2 0.2 2.2 0.6 0.8 2.2 1.4 1.6 2.2 1.4 2.2 0.6 2.2 -1.1 2.2 3.0 1 -0.4 1.2 1.0 2.2 -0.1 2.2 -2.0 2.2 1.6 2.2 -1.4 1.3 0.5 0.9 -0.2 2.2 -0.7 2.2 2.3 2.2 -2.7 2.2 0.7 1.5 1.1 0.7 2.4 2.2 1.6 2.2 -2.0 2.2 2.1 2.2 0.3 1.8 1.3 0.4 -0.2 2.2 1.7 2.3 -2.2 2.2 -1.0 2.2 0.2 1.9 4.3 0.3 -2.5 2.2 1.8 2.2 -3.1 2.2 2.6 2.2 0.5 2.2 0.7" stroke="#a987d6" stroke-width="1.8" fill="none" stroke-linejoin="round"/>
<path d="M599.1 4083.5l2.2 -0.7 2.2 2.2 2.2 -0.8 1.8 3.9 0.4 -2.8 2.2 1.7 2.2 1.0 2.2 0.7 1.4 2.2 0.8 -0.9 2.2 -1.4 2.2 -0.5 2.2 -3.8 1.1 1.7 1.1 0.8 2.2 1.4 2.2 1.5 2.2 -1.3 0.7 1.9 1.5 -1.4 2.2 0.8 2.2 3.0 2.2 0.2 0.3 0.8 1.9 -1.2 2.2 1.8 2.2 -2.5 2.2 0.8 2.2 -1.7 2.2 2.9 2.2 -1.3 1.8 -0.6 0.4 1.1 2.3 -1.7 2.2 1.5 2.2 0.6 1.4 -0.6 0.8 -1.4 2.2 2.4 2.2 0.5 2.2 -0.1 1 1.2 1.2 0.7 2.2 2.1 2.2 -0.1 2.2 0.2 0.6 -1.0 1.6 1.0 2.2 2.4 2.2 -1.0 2.2 1.7 0.3 -0.5 1.9 -0.1 2.2 -3.2 2.2 1.1 2.1 -0.2 0.1 1.5 2.2 -1.8 2.2 -1.3 2.2 -2.3 1.7 -1.2 0.5 0.8 2.2 -2.4 2.2 2.7 2.2 -0.4 1.4 1.0 0.8 -3.6 2.2 1.5 2.2 -1.6 2.2 -0.5 1 2.4 1.3 -2.7 2.2 0.0 2.2 -1.8 2.2 0.6 0.5 -2.0 1.7 -0.3 2.2 1.0 2.2 -1.9 2.2 -2.4 0.2 2.3 2 -3.5 2.2 -2.7 2.2 4.6 2 -2.0 0.2 0.2 2.2 3.1 2.2 1.2 2.2 2.2 1.7 1.1 0.5 -2.9 2.2 0.8 2.2 -3.4 0.7 4.1 1.5 1.2 2.2 -1.1 2.2 -0.3 2.2 -3.4 2.2 2.6 0.9 -1.1 1.3 -2.2 2.2 0.1 2.2 0.7 2.2 -0.5 2.2 -1.8 1.2 1.1 1 -0.1 2.2 0.7 2.3 -0.8 2.2 3.4 2.2 -0.5 1.3 2.5 0.9 -2.7 2.2 -1.3 2.2 -4.2 2.2 2.1 2.2 -0.8 1.6 0.2 0.6 1.4 2.2 0.3 2.2 0.2 2.2 -0.3 2.2 3.8 1.8 -0.1 0.4 1.9 2.2 -4.2 2.2 -1.8 2.2 -1.0 2.2 -0.1 2.1 0.7 0.1 -2.3 2.2 4.2 2.2 1.6 2.2 -4.0 2.2 0.1 2.2 -1.6 0.1 -1.4 2.1 2.8 2.2 -0.5 2.2 3.2 2.2 -0.8 2.2 1.0 0.4 1.2 1.8 -1.5 2.2 -4.9 2.3 3.4 2.2 -1.2 2.2 3.1 0.5 -1.1 1.7 -0.3 2.2 4.0 2.2 -2.1 2.2 -1.4 2.2 1.1 0.8 -0.3 1.4 -1.5 2.2 4.7 2.2 -0.9 2.2 1.3 2.2 -1.0 1 -3.4 1.2 1.9 2.2 -0.9 2.2 -3.0 2.2 -2.3 2.2 3.3 1.3 -2.6 0.9 0.6 2.2 -2.6 2.2 2.1 2.2 0.4 2.2 -0.5 1.5 -0.3 0.7 -0.8 2.2 1.4 2.2 2.2 2.2 -0.8 2.2 0.9 1.8 0.4 0.4 1.9 2.2 -1.4 2.3 -2.4 2.2 3.0 2.2 -2.5 1.9 2.0 0.3 0.1 2.2 -0.4 2.2 1.7 2.2 1.3 2.2 -2.2 2.2 -0.5" stroke="#f4834f" stroke-width="1.8" fill="none" stroke-linejoin="round"/>
<path d="M601.9 4094.8l2.2 3.3 2 0.1 0.2 -1.5 2.2 -1.4 2.2 -1.9 2.2 1.7 0.2 -2.6 2.1 0.8 2.2 -0.7 2.2 0.4 2 0.1 0.2 -0.6 2.2 -2.4 2.2 0.8 2.2 0.1 1.6 -2.5 0.6 0.1 2.3 3.2 2.2 -0.1 2.2 -0.8 1.1 0.4 1.1 -0.3 2.2 0 2.2 -0.1 2.2 -2.5 0.8 -1.3 1.5 1.5 2.2 2.6 2.2 0.9 2.2 -0.4 0.3 0.4 1.9 1.1 2.2 1.0 2.2 -0.2 2.1 2.4 0.2 0.7 2.2 -2.0 2.2 -2.6 2.2 -1.5 1.7 -1.4 0.5 2.4 2.2 1.6 2.2 -1.7 2.2 -3.0 1.3 0.3 1 -1.4 2.2 0.0 2.2 3.5 2.2 -2.1 0.8 3.3 1.4 1.3 2.2 0.8 2.2 -1.0 2.3 0.7 0.4 0.9 1.8 -0.9 2.2 -0.8 2.2 -0.4 2.2 -1.3 2.2 -0.2 2.2 -0.4 2.3 1.4 1.8 0.6 0.4 -1.6 2.2 0.7 2.2 1.5 2.2 0.6 1.4 0.6 0.8 -1.3 2.2 4.7 2.2 0.3 2.3 1.0 0.9 0.3 1.3 1.3 2.2 0.6 2.2 0.5 2.2 -1.3 0.6 0.4 1.6 1.3 2.2 -1.5 2.3 4.3 2.2 -2.3 0.1 0 2.1 1.5 2.2 0.6 2.2 -0.4 1.9 -0.9 0.3 2.9 2.2 -2.2 2.3 -2.9 2.2 0.2 1.5 4.5 0.7 -1.1 2.2 1.5 2.2 3.6 2.2 -3.9 2.2 3.6 1.7 -0.7 0.5 0.0 2.3 0.3 2.2 -1.4 2.2 2.6 2.2 -2.7 1.9 0.6 0.3 0.2 2.2 -0.9 2.2 1.5 2.3 1.0 2.2 0.3 2 1.9 0.2 0.5 2.2 0.3 2.2 -1.1 2.2 0.3 2.2 0.3 2.2 2.4 0.1 -2.4 2.2 0.1 2.2 1.1 2.2 -2.8 2.2 -1.7 2.2 -0.5 0.2 2.3 2 1.2 2.2 -1.2 2.3 -0.7 2.2 0.5 2.2 0.3 0.4 1.2 1.8 -1.6 2.2 1.3 2.2 2.1 2.2 -1.8 2.3 -4.2 2.2 -5.2 1.2 -3.8 1 2.1 2.2 -0.1 2.2 -3.2 2.2 -1.5 0.8 -0.9 1.4 0.1 2.2 -2.0 2.3 0.8 2.2 -1.8 2.2 -0.9 0.9 0 1.3 -0.6 2.2 -1.6 2.2 1.3 2.2 -2.4 2.3 -1.0 1.1 0.1 1.1 -0.6 2.2 1.0 2.2 1.3 2.2 0.9 2.2 -1.7 1.3 -1.4 0.9 2.3 2.3 -2.3 2.2 0.8 2.2 -1.0 2.2 -1.0 1.5 1.8 0.7 -2.3 2.2 -1.2 2.2 -0.8 2.2 2.3 2.3 -1.5 1.6 -2.9 0.6 -0.9 2.2 1.8 2.2 0.9 2.2 -2.9 2.2 -0.1 1.9 -1.9 0.3 -2.2 2.3 4.2 2.2 -3.3 2.2 0.1 2.2 -1.0 2 1.9 0.2 -1.7 2.2 -1.4 2.2 0.1 2.3 -2.6 2.2 1.4 2.2 -2.4" stroke="#5fae4a" stroke-width="1.8" fill="none" stroke-linejoin="round"/>
<path d="M597.7 4075.7l2.2 4.0 2.2 3.8 2.2 3.9 0.4 -1.4 1.8 1.4 2.2 2.1 1.6 2.7 0.6 2.7 2.2 0.6 2.2 0.2 2.2 -4.0 1.2 -1.4 1 -0.4 2.2 2.6 2.2 4.9 0.3 2.2 1.9 1.9 2.2 0.9 0.1 0.1 2.1 -0.7 2.2 -2.4 2.2 -0.8 0.5 -0.4 1.7 -0.2 2.2 -3.6 2.2 -1.3 2.2 0.8 0.2 -2.4 2.1 -0.2 2.2 -3.2 2.2 -3.7 1.9 -2.6 0.3 0.5 2.2 -3.8 2.2 -0.8 0.9 -3.7 1.3 -2.8 2.2 -7.0 0.7 1.4 1.5 2.1 1.3 3.8 0.9 -1.6 2.2 -8.5 1.2 0.3 1 2.1 1.8 5.5 0.4 1.3 2.2 -2.9 2.2 -2.7 0.8 0.7 1.4 -4.5 2.2 -14.4 0.6 -0.1 1.6 12.3 1.2 11.4 1 0.8 2.2 3.9 1 -0.9 1.2 -2.7 2.2 -5.3 0.9 0.5 1.4 -12.0 1.4 -10.7 0.8 -7.9 2 -14.0 0.2 -6.0 2.2 -34.9 0.4 -5.1 1.8 9.4 1 4.1 1.2 -5.7 1.6 -2.5 0.6 2.2 2.2 19.8 1.4 14.0 0.8 18.1 0.7 15.4 1.5 2.2 2.2 1.3 0.5 -1.5 1.7 4.4 2.2 1.0 1.7 3.4 0.5 0.6 2.2 1.8 2.2 3.9 0.7 1.2 1.5 1.2 2.2 1.3 2.2 -0.5 2.2 0.6 0.4 2.2 1.8 -1.0 2.2 5.5 1.6 2.9 0.7 1.1 2.2 -0.4 2.2 1.0 2.2 3.6 1.1 -1.3 1.1 0.8 2.2 1.5 2.2 0.5 2.2 3.8 0.8 -1.8 1.4 5.3 2.2 -2.8 2 -1.5 0.2 -1.4 2.2 -1.9 2.2 0.1 2.2 0 2.2 -1.6 2.2 -0.1 2.2 -0.2 2.2 -4.3 2.2 2.0 2.2 -0.2 2.2 -1.6 0.3 1.2 1.9 -1.6 2.3 -0.1 2.2 -2.0 2.2 0.6 2.2 1.2 0.4 -0.1 1.8 0.9 2.2 1.0 2.2 -0.3 2.2 2.1 2.2 -2.2 0.7 0.4 1.5 -0.3 2.2 -2.7 2.2 3.7 2.2 -0.6 2.2 -1.4 0.9 0.7 1.3 0.0 2.2 -1.2 2.2 1.5 2.2 -0.5 2.2 -3.0 1.2 2.1 1 -0.7 2.2 -3.5 2.2 3.2 2.3 0.8 2.2 -2.5 1.3 1.8 0.9 -3.4 2.2 -3.3 2.2 0.6 2.2 -2.7 1 -1.2 1.2 -2.5 2.2 -1.5 2.2 -4.8 2.2 -4.2 2.2 -0.2 2.2 -3.6 1.8 -0.4 0.4 -0.8 2.2 -1.3 2.2 3.3 2.2 0.5 1.5 -1.9 0.7 -0.9 2.2 -2.2 2.2 -0.8 0.5 0.6 1.7 -5.4 2.2 -5.5 1.7 0.1 0.5 -1.3 2.2 5.8 2.3 1.0 0.6 1.0 1.6 2.7 2.2 -0.2 1.9 1.8 0.3 1.0 2.2 0.6 2.2 4.3 0.9 -1.1 1.3 -0.6 2.2 -1.3 2.1 -2.2 0.1 -3.1 2.2 7.9 2.2 4.1 1.1 2.1 1.1 -0.1 2.2 -4.8 2.2 -1.2 0.2 -1.4 2 -3.2 2.2 3.6 1.4 -1.7 0.8 -2.3 2.2 -3.7 2.2 -3.5 0.4 -2.1 1.8 -1.7 2.2 1.4 1.6 -2.2 0.6 1.5 2.3 1.5" stroke="#2f6fcf" stroke-width="1.8" fill="none" stroke-linejoin="round"/>
<path d="M600.5 4029.8l2.2 5.0 2 4.5 0.2 1.3 2.2 -4.7 0.4 -1.3 1.8 -2.2 2.2 -4.4 0.2 1.2 2 20.2 0.8 11.7 1.4 1.7 2.2 -0.7 2.2 -0.8 1.3 -0.3 1 0.8 2.2 3.8 2.2 -3.3 0.2 1.2 2 0.9 2.2 0.4 1.4 2.3 0.8 -1.1 2.2 -2.2 2.2 -5.1 0.4 0.7 1.8 3.3 2.2 1.2 1.7 4.1 0.5 0.1 2.2 0.5 2.3 -1.4 2.2 2.4 1.2 -2.5 1 4.1 2.2 -1.2 2.2 1.0 2.2 -2.6 0.8 2.2 1.4 -1.3 2.2 1.3 2.2 -0.4 2.2 1.8 0.5 0.8 1.7 -2.4 2.2 -1.2 1.7 -3.4 0.6 2.3 2.2 3.7 2.2 -1.1 0.6 2.3 1.6 2.4 2.2 -1.0 1.8 -0.2 0.4 0.4 2.2 1.4 2.2 1.7 0.9 -0.1 1.3 -1.1 2.2 4.8 2.1 4.8 0.1 0.4 2.2 1.3 2.3 0.5 2.2 -0.5 1.6 -2.6 0.6 1.1 2.2 1.3 2.2 -1.7 2.2 -1.0 1.3 1.7 0.9 0.2 2.2 -1.0 2.2 -2.0 2.2 -2.3 0.9 2.0 1.3 -1.5 2.2 -0.7 2.3 0.9 2.2 0.9 0.4 0.2 1.8 1.5 2.2 -2.5 2.2 0.2 2.2 -1.0 0.1 2.7 2.1 -2.0 2.2 0.9 2.2 -0.5 1.9 -2.9 0.3 0.7 2.2 -2.0 2.2 1.9 2.3 -0.1 1.4 0.7 0.8 3.0 2.2 -2.6 2.2 -2.6 2.2 -0.6 1.1 -3.2 1.1 1.2 2.2 -2.8 2.2 -2.0 2.2 -6.5 0.7 1.9 1.5 0.5 2.2 -0.6 2.2 -0.1 2.3 -1.8 0.3 -2.2 1.9 -0.5 2.2 0 1.5 0.4 0.7 0.6 2.2 0.2 2.2 4.6 0.5 -1.5 1.7 2.5 2.2 -2.5 2.2 -1.5 2.2 -0.6 0.2 1.1 2 -4.0 2.2 -1.3 2.3 0.1 1.9 0.5 0.3 -4.6 2.2 1.2 2.2 -0.9 2.2 -2.2 1.5 0.5 0.7 4.1 2.2 1.3 2.2 1.1 2.2 2.0 1.2 3.7 1 -2.4 2.2 -4.5 2.2 1.2 2.3 -2.3 0.7 -2.1 1.5 -0.2 2.2 0.5 2.2 -0.7 2.2 -2.9 0.3 0 1.9 2.7 2.2 -2.0 2.2 2.2 2.2 3.2 2.2 -3.0 2.2 -3.4 2.2 -5.2 2.3 -5.6 0.9 2.9 1.3 2.3 2.2 1.5 2.2 3.6 1.3 3.4 0.9 0.7 2.2 -2.4 2.2 1.1 2.2 1.5 1 2.4 1.2 -1.4 2.2 0.7 2.2 -2.8 2.3 -1.7 0.5 -2.6 1.7 -0.8 2.2 0.8 2.2 -4.1 2.2 -0.8 0.2 3.3 2 5.1 2.2 2.4 2.2 5.1 2 3.7 0.2 -2.0 2.2 -4.2 2.2 -0.8 2.2 -3.6 1.6 -3.2 0.7 2.8 2.2 3.2 2.2 1.8 2.2 0.3 1.2 4.0 1 3.8 2.2 -5.0 2.2 0.7 2.2 -0.3 0.8 -2.3 1.4 -0.1 2.2 0.1 2.2 1.0 2.2 2.3 0.4 -1.3 1.9 3.3 2.2 0.9 2.2 -1.9 2.2 1.9" stroke="#f9b43a" stroke-width="2.4" fill="none" stroke-linejoin="round"/>
<path d="M599.1 4072.0l2.2 0.9 2.2 2.0 2.2 -0.5 1.8 0.4 0.4 0.3 2.2 1.0 2.2 2.2 2.2 0.4 1.4 1.3 0.8 -1.4 2.2 -2.1 2.2 -0.6 2.2 -1.2 1.1 -0.2 1.1 2.1 2.2 -0.2 2.2 2.2 2.2 -2.2 0.7 2.7 1.5 0.8 2.2 1.6 2.2 -0.7 2.2 -1.7 0.3 0.6 1.9 1.0 2.2 1.9 2.2 0.9 2.2 -1.2 2.2 1.3 2.2 -1.3 2.2 2.2 1.8 -3.3 0.4 1.4 2.3 0.2 2.2 -0.6 2.2 -0.3 1.4 0.3 0.8 -1.6 2.2 3.6 2.2 2.4 2.2 3.8 1 -3.8 1.2 0.9 2.2 0.7 2.2 0.5 2.2 2.4 0.6 -2.2 1.6 1.4 2.2 1.5 2.2 0.0 2.2 -0.3 0.3 1.4 1.9 0.6 2.2 -2.2 2.2 0.2 2.1 -0.9 0.1 0.6 2.2 1.4 2.2 1.6 2.2 1.1 1.7 -5.2 0.5 2.3 2.2 1.2 2.2 0.9 2.2 -0.1 1.4 2.4 0.8 -1.5 2.2 0.3 2.2 1.3 2.2 2.9 1 -1.0 1.3 -2.1 2.2 1.4 2.2 -2.3 2.2 1.3 0.5 0.6 1.7 -1.0 2.2 0.7 2.2 3.6 2.2 -0.8 0.2 -1.0 2 3.1 2.2 0 2.2 4.1 2 0.9 0.2 2.1 2.2 -0.5 2.2 -2.1 2.2 -0.4 1.7 -0.2 0.5 -3.2 2.2 0.3 2.2 -2.2 0.7 -8.2 1.5 3.1 2.2 -1.4 2.2 -1.5 2.2 0.1 2.2 -1.0 0.9 3.7 1.3 1.7 2.2 -2.5 2.2 2.1 2.2 -3.3 2.2 3.4 1.2 1.2 1 -1.8 2.2 1.0 2.3 0.8 2.2 1.0 2.2 -0.1 1.3 -0.1 0.9 -3.3 2.2 1.3 2.2 0.4 2.2 -1.2 2.2 -1.6 1.6 2.0 0.6 -0.2 2.2 -1.0 2.2 0.5 2.2 0.8 2.2 -3.7 1.8 2.9 0.4 1.8 2.2 -1.5 2.2 0.6 2.2 -0.3 2.2 4.2 2.1 -0.3 0.1 -3.7 2.2 0.6 2.2 -1.6 2.2 -1.1 2.2 0.6 2.2 1.3 0.1 -2.3 2.1 -1.3 2.2 3.9 2.2 3.5 2.2 0.6 2.2 -0.9 0.4 2.2 1.8 -1.1 2.2 -1.1 2.3 0.4 2.2 -0.1 2.2 1.3 0.5 0.2 1.7 3.5 2.2 -2.3 2.2 -2.0 2.2 0.8 2.2 1.0 0.8 0 1.4 -2.8 2.2 -2.8 2.2 -1.4 2.2 1.4 2.2 -1.5 1 -0.3 1.2 -2.4 2.2 2.2 2.2 0.2 2.2 -0.4 2.2 -1.6 1.3 -2.6 0.9 1.0 2.2 -2.1 2.2 0.1 2.2 -0.9 2.2 -1.7 1.5 -0.3 0.7 -2.2 2.2 0.8 2.2 0.4 2.2 0.9 2.2 -0.2 1.8 -2.3 0.4 2.8 2.2 0.8 2.3 -2.4 2.2 3.4 2.2 0.1 1.9 1.9 0.3 0.0 2.2 1.0 2.2 0.1 2.2 -0.8 2.2 2.9 2.2 -3.6" stroke="#4f94d8" stroke-width="1.8" fill="none" stroke-linejoin="round"/>
<path d="M599.1 4089.9l2.2 0.7 2.2 -0.2 2.2 -4.7 1.8 1.5 0.4 -2.1 2.2 -0.2 2.2 -1.4 2.2 -0.6 1.4 0.1 0.8 0.6 2.2 -1.1 2.2 -3.2 2.2 1.6 1.1 -0.3 1.1 0.5 2.2 3.0 2.2 0.3 2.2 -0.8 0.7 4.0 1.5 -3.1 2.2 -1.2 2.2 0.6 2.2 4.3 0.3 -1.8 1.9 1.4 2.2 2.6 2.2 0.5 2.2 -0.8 2.2 -1.4 2.2 -2.6 2.2 2.4 1.8 1.5 0.4 -0.8 2.3 2.7 2.2 -0.3 2.2 2.5 1.4 -2.2 0.8 1.0 2.2 -0.8 2.2 1.2 2.2 1.0 1 0.7 1.2 1.1 2.2 -1.8 2.2 0.9 2.2 -0.9 0.6 4.8 1.6 -1.0 2.2 -1.1 2.2 0.0 2.2 -3.6 0.3 0.0 1.9 2.0 2.2 -0.3 2.2 1.1 2.1 -4.0 0.1 0.6 2.2 2.7 2.2 -0.7 2.2 -0.8 1.7 0.8 0.5 0.6 2.2 -2.8 2.2 2.7 2.2 1.1 1.4 -3.9 0.8 1.8 2.2 1.6 2.2 0 2.2 2.5 1 -0.4 1.3 0.6 2.2 -0.6 2.2 2.7 2.2 -4.1 0.5 1.1 1.7 2.0 2.2 -0.5 2.2 1.8 2.2 -1.4 0.2 0.3 2 0.2 2.2 0.8 2.2 3.0 2 -2.4 0.2 0.7 2.2 3.7 2.2 -0.9 2.2 -1.0 1.7 -0.4 0.5 0.5 2.2 -0.8 2.2 -2.5 0.7 0.1 1.5 -0.1 2.2 0.8 2.2 -2.7 2.2 -1.1 2.2 -0.9 0.9 0.0 1.3 2.1 2.2 -0.5 2.2 -1.5 2.2 -0.5 2.2 -1.9 1.2 0.6 1 0.5 2.2 -1.2 2.3 -0.6 2.2 -0.6 2.2 -1.6 1.3 1.0 0.9 0.7 2.2 -3.4 2.2 -1.7 2.2 4.4 2.2 -1.3 1.6 0.3 0.6 -2.2 2.2 1.2 2.2 -0.5 2.2 -1.4 2.2 0.3 1.8 -1.4 0.4 1.0 2.2 -2.7 2.2 3.0 2.2 2.1 2.2 -4.1 2.1 4.0 0.1 -3.5 2.2 2.9 2.2 1.6 2.2 -4.5 2.2 1.9 2.2 2.7 0.1 -0.1 2.1 -1.6 2.2 0.3 2.2 1.8 2.2 -0.7 2.2 0.6 0.4 -0.4 1.8 -1.7 2.2 -1.9 2.3 0.4 2.2 1.8 2.2 -3.0 0.5 0.3 1.7 -2.7 2.2 -0.2 2.2 0.8 2.2 -1.8 2.2 0.0 0.8 -0.6 1.4 -1.4 2.2 -1.8 2.2 3.0 2.2 -3.4 2.2 -2.7 1 0.7 1.2 -2.8 2.2 1.3 2.2 -4.5 0.1 0.5 2.1 1.5 2.2 -0.4 1.3 0.8 0.9 1.4 2.2 0.2 2.2 1.6 2.2 -0.8 2.2 1.3 1.5 1.9 0.7 -1.0 2.2 1.8 2.2 -3.1 2.2 2.5 2.2 3.7 1.8 -1.9 0.4 -2.9 2.2 2.7 2.3 -1.2 2.2 0.9 2.2 0.5 1.9 0.7 0.3 0.4 2.2 0.6 2.2 -1.9 2.2 1.4 2.2 -1.0 2.2 -0.8" stroke="#dcd72e" stroke-width="1.8" fill="none" stroke-linejoin="round"/>
<path d="M597.7 4076.5l2.2 0.7 2.2 2.7 2.2 3.1 2.2 2.4 1 -0.1 1.2 3.1 2.2 -1.5 2.2 3.9 2.3 -1.3 0.5 -0.9 1.7 1.3 2.2 0.6 2.2 -0.8 2.2 -0.2 0.2 0.9 2 0.9 2.2 1.8 2.2 -2.2 2 0.1 0.3 -0.6 2.2 0.3 2.2 2.3 2.2 1.7 1.5 1.7 0.7 -3.0 2.2 1.2 2.2 -0.7 2.2 2.1 1.2 -0.3 1 0.1 2.3 -3.1 2.2 1.2 2.2 2.1 0.7 0.5 1.5 0.5 2.2 -2.9 2.2 2.0 2.2 1.1 0.4 -0.6 1.8 -0.4 2.3 -0.4 2.2 0.5 2.1 0.2 0.1 -1.4 2.2 1.8 2.2 1.3 2.2 -2.8 1.7 1.7 0.5 2.8 2.2 -1.5 2.3 3.1 2.2 0 1.3 -0.8 0.9 -0.8 2.2 -1.0 2.2 0.7 2.2 -1.8 0.9 1.5 1.3 -0.7 2.2 -0.1 2.3 -0.9 2.2 -2.0 0.4 0.1 1.8 1.2 2.2 -0.6 2.2 -2.5 2.2 2.2 0.1 -1.1 2.1 -3.5 2.2 1.3 2.3 -0.6 1.8 -1.3 0.4 -0.8 2.2 0.3 2.2 -0.3 2.2 -0.7 1.4 0.7 0.8 -2.6 2.2 -0.5 2.2 -0.5 2.3 0.3 1 -1.3 1.2 2.0 2.2 1.0 2.2 1.6 2.2 0.6 0.6 0 1.6 -1.9 2.2 1.0 2.2 1.0 2.2 0.8 0.3 -0.2 2 1.1 2.2 -0.7 1.4 -3.7 0.8 -0.4 2.2 1.0 2.2 0.8 2.2 1.4 2.2 -2.7 1.6 -0.9 0.6 2.8 2.3 0.2 2.2 -2.7 2.2 0.2 2.2 -0.3 1.8 0.3 0.4 -2.2 2.2 1.2 2.2 -3.0 2.2 1.6 2.3 -2.3 1.9 -1.3 0.3 0.4 2.2 2.2 2.2 -1.3 2.2 0.9 2.2 -2.1 2.2 -0.1 2.2 1.5 2.3 -0.4 2.2 -0.5 2.2 -1.5 2.2 1.0 0.1 -0.3 2.1 -0.7 2.2 1.5 2.2 -4.1 2.2 0 2.3 -3.2 0.3 0.4 1.9 2.0 2.2 -2.3 2.2 -1.8 2.2 0.5 2.2 -0.2 0.5 1.9 1.7 0.2 2.2 0.6 2.3 -4.3 2.2 -0.2 2.2 0.5 0.7 -0.5 1.5 -0.1 2.2 2.4 2.2 -2.5 2.2 2.6 2.2 0.8 0.9 -0.3 1.3 -1.0 2.3 -0.7 2.2 0.5 2.2 0.3 2.2 1.6 1.1 -0.6 1.1 0.6 2.2 0.9 2.2 -2.4 2.2 -0.5 2.3 -0.2 1.2 1.4 1 1.5 2.2 -0.6 2.2 0.2 2.2 0.2 2.2 -1.3 1.5 1.3 0.7 -0.6 2.2 2.4 2.3 -0.6 2.2 -0.6 2.2 -1.0 1.6 3.9 0.6 0.9 2.2 -1.8 2.2 -0.8 2.2 1.4 2.2 0.0 1.9 -0.1 0.4 1.8 2.2 -1.0 2.2 -0.1 2.2 2.6 2.2 -0.4 2 1.2 0.2 0.8 2.2 -2.1 2.2 0.6 2.3 2.1 2.2 -2.5 2.2 3.6" stroke="#3b3b3b" stroke-width="2.4" fill="none" stroke-linejoin="round"/>
<path d="M597.7 4080.6l2.2 4.6 2.2 -2.2 2.2 -0.7 0.4 1.4 1.8 3.0 2.2 -1.4 2.2 2.8 2.2 -1.6 2.2 -1.2 2.3 -0.2 2.2 0 1.8 -1.3 0.4 -0.6 2.2 -2.8 2.2 0.6 2.2 -2.9 1.4 2.0 0.8 2.3 2.2 -0.2 2.2 1.0 2.3 0.2 0.9 -2.5 1.3 1.8 2.2 -0.2 2.2 0.5 2.2 0.3 0.6 -0.9 1.6 -2.7 2.2 -0.4 2.2 0.2 2.2 -0.9 0.2 -1.5 2.1 -1.5 2.2 1.5 1.3 2.6 0.9 -0.8 2.2 1.7 2.2 -0.3 2.2 -3.7 1 1.0 1.2 -1.4 2.2 0.7 2.2 1.0 2.3 -0.5 0.5 -2.4 1.7 1.1 2.2 -0.3 2.2 -0.6 0.9 1.6 1.3 -0.5 2.2 1.5 0.7 1.9 1.5 18.6 2.2 -5.1 2 -5.3 0.2 -0.1 2.3 2.0 2.2 -0.4 2.2 -2.3 1.5 -2.9 0.7 2.5 2.2 -2.1 2.2 -0.5 2.2 -0.6 1.1 -1.2 1.1 0.5 2.2 -1.5 2.2 3.3 2.3 0.3 0.7 0.4 1.5 1.3 2.2 -6.3 1.9 -2.9 0.3 -0.1 2.2 0.8 2.2 2.3 0.9 1.8 1.3 -2.0 2.2 -0.9 2.2 -1.5 2.3 0.2 2.2 2.0 1.1 2.9 1.1 -4.1 2.2 3.3 2.2 1.6 0.1 1.9 2.1 1.0 2.2 1.7 1.3 3.2 0.9 -1.0 2.2 -2.2 2.3 -0.8 0.3 -2.1 1.9 -0.2 2.2 -3.7 1.5 8.6 0.7 2.7 2.2 -5.2 2.2 1.7 2.2 1.9 2.2 -1.0 1.7 0.4 0.5 -2.4 2.3 2.0 2.2 0.9 2.2 -2.0 2.2 1.0 1.9 2.2 0.3 0.8 2.2 0.5 2.2 0.1 2.2 1.4 2.2 1.0 2.1 -1.2 0.2 0.2 2.2 -2.0 2.2 1.0 2.2 -2.7 2.2 -1.5 2.2 -0.2 0.1 2.0 2.1 -1.6 2.2 -2.0 2.2 -0.1 2.3 1.1 2.2 -1.4 0.2 -1.5 2 -1.1 2.2 0.9 2.2 1.8 2.2 -2.1 2.2 2.0 0.5 -0.7 1.7 0.2 2.2 -1.1 2.3 -0.6 2.2 -1.3 2.2 1.1 0.6 0.0 1.6 0.8 2.2 1.2 2.2 -0.4 2.2 1.9 2.2 1.0 0.9 -1.3 1.3 1.1 2.3 2.3 2.2 -0.4 2.2 -0.9 2.2 0.2 1 0.4 1.2 1.4 2.2 1.2 2.2 1.0 2.2 0.4 2.2 0.9 1.3 -2.6 1 2.2 2.2 -2.8 2.2 -1.5 2.2 -1.6 2.2 -0.3 1.4 1.7 0.8 -0.3 2.2 -2.4 2.2 -0.2 2.2 -1.5 2.3 -2.2 1.6 -0.3 0.6 -1.2 2.2 -2.1 2.2 -0.3 2.2 2.0 2.2 -0.4 1.8 -0.3 0.4 -0.7 2.2 -0.1 2.2 -3.4 2.3 0.6 2.2 1.2 2 -2.8 0.2 2.1 2.2 -0.1 2.2 -1.4 2.2 0.9 2.2 -4.1 2.2 -1.3" stroke="#e5322b" stroke-width="3.0" fill="none" stroke-linejoin="round"/>
<path d="M127 4170.3H1002" stroke="#ee5a44" stroke-width="1.6"/>
<text x="127.0" y="4189.5" font-size="17" fill="#e5321c" font-weight="bold" textLength="71.0" lengthAdjust="spacingAndGlyphs">免责声明:</text>
<text x="127.0" y="4213.0" font-size="14.4" fill="#e8412c" textLength="861.0" lengthAdjust="spacingAndGlyphs">以上内容所依据的信息均来源于交易所、媒体及资讯公司等发布的公开资料或通过合法授权渠道向发布人取得的资讯，我们力求分析及建议内</text>
<text x="127.0" y="4232.5" font-size="14.4" fill="#e8412c" textLength="861.0" lengthAdjust="spacingAndGlyphs">容的客观、公正，研究方法专业审慎，分析结论合理，但我司对信息来源的准确性和完整性不作任何保证，也不保证所依据的信息和建议不会</text>
<text x="127.0" y="4252.0" font-size="14.4" fill="#e8412c" textLength="861.0" lengthAdjust="spacingAndGlyphs">发生任何变化。我们提供的全部分析及建议内容仅供参考，不构成对您的任何投资建议及入市依据，您应当自主做出期货交易决策，独立承担</text>
<text x="127.0" y="4271.5" font-size="14.4" fill="#e8412c" textLength="861.0" lengthAdjust="spacingAndGlyphs">期货交易后果，凡据此入市者，我司不承担任何责任。我司在为您提供服务时已最大程度避免与您产生利益冲突。未经我司授权，不得随意转</text>
<text x="127.0" y="4291.0" font-size="14.4" fill="#e8412c" textLength="861.0" lengthAdjust="spacingAndGlyphs">载、复制、传播本网站中所有研究分析报告、行情分析视频等全部或部分材料、内容。对可能因互联网软硬件设备故障或失灵、或因不可抗力</text>
<text x="127.0" y="4310.5" font-size="14.4" fill="#e8412c" textLength="861.0" lengthAdjust="spacingAndGlyphs">造成的全部或部分信息中断、延迟、遗漏、误导或造成资料传输或储存上的错误、或遭第三人侵入系统篡改或伪造变造资料等，我司均不承担</text>
<text x="127.0" y="4330.0" font-size="14.4" fill="#e8412c">任何责任。</text>
<text id="cjkprobe" x="-500" y="-50" font-size="17">永安期货</text>
</svg>
<script>
(function(){try{var p=document.getElementById('cjkprobe');if(!p||p.getComputedTextLength()>60)return;
var W=window.TOFUW||0.72;var ts=document.getElementsByTagName('text');var re=/[⺀-鿿＀-￯　-〿]/;
for(var i=0;i<ts.length;i++){var t=ts[i];if(t.id==='cjkprobe')continue;if(!re.test(t.textContent))continue;
var f=t.getAttribute('fill')||'#000';var sw=parseFloat(t.getAttribute('stroke-width')||'0');t.setAttribute('stroke',f);t.setAttribute('stroke-width',String(Math.max(sw,W*parseFloat(t.getAttribute('font-size')||'14')/17)));}
}catch(e){}})();
</script>
</body></html>
